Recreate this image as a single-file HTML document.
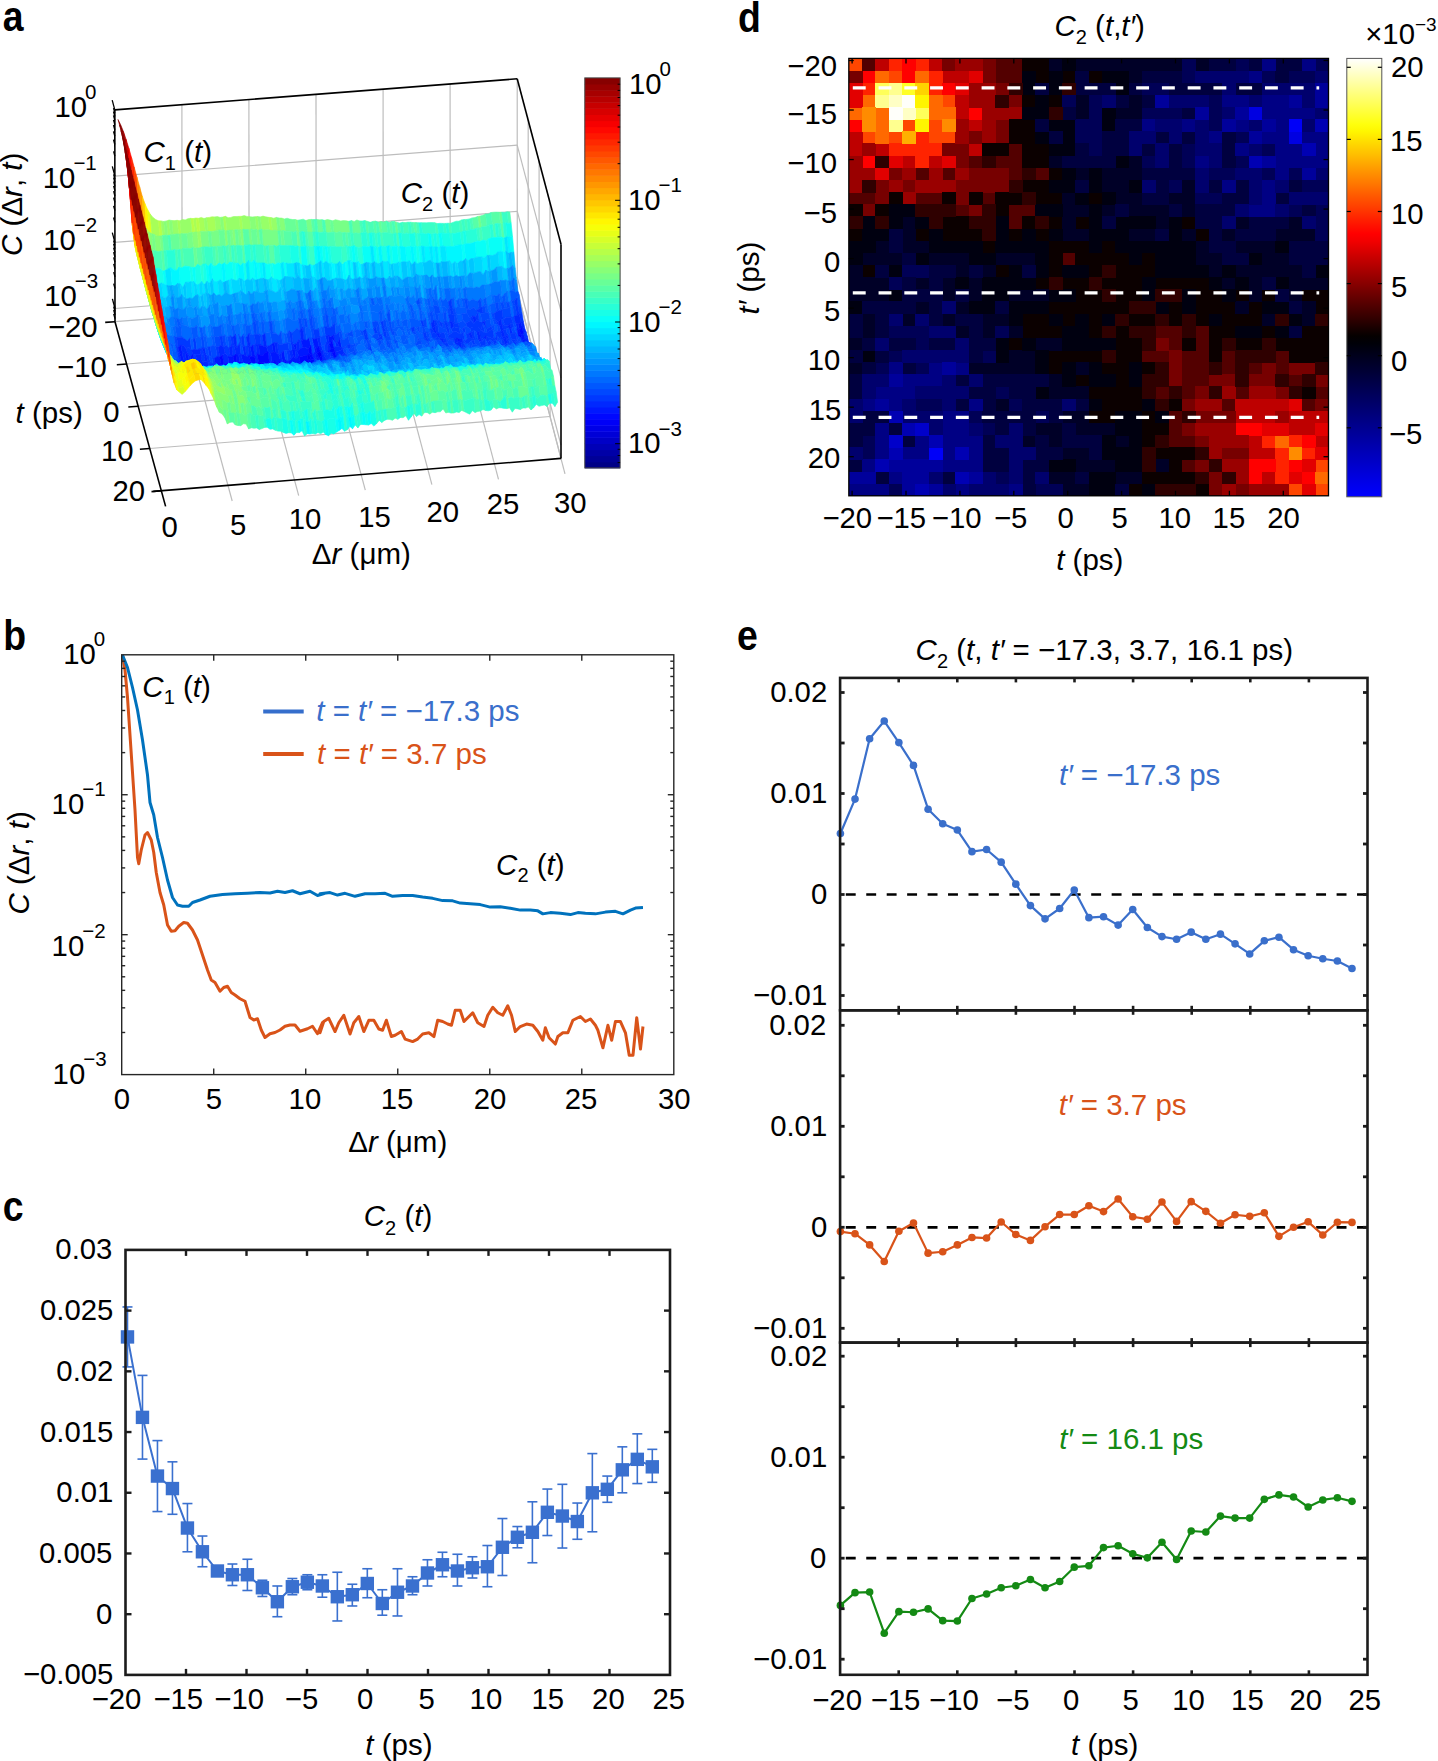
<!DOCTYPE html>
<html><head><meta charset="utf-8"><style>
html,body{margin:0;padding:0;background:#fff;}
svg{display:block;}
text{font-family:"Liberation Sans",sans-serif;}
</style></head><body>
<svg xmlns="http://www.w3.org/2000/svg" width="1438" height="1761" viewBox="0 0 1438 1761">
<rect width="1438" height="1761" fill="#fff"/>
<polyline points="122.5,655 125,670 127.5,697.5 130,735 132.5,772.5 135,810 137.5,857.5 138.75,863.75 141.25,850 145,835 147.5,832.5 151.25,840 153.75,852.5 156.25,872.5 160,892.5 163.75,905 167.5,925 171.25,931.25 175,930.75 178.75,926.25 183.75,922.5 187.5,923.25 192.5,930 197.5,940 202.5,955 207.5,970 211.25,980 215,982.5 220,991.25 223.75,987.5 227.5,986.25 231.25,992.5 235,995 240,998.75 245,1001.25 250,1017.5 253.75,1020 257.5,1018.75 261.25,1030 265,1037.5 270,1033.75 275,1032.5 280,1030 285,1026.25 290,1025 295,1025 300,1031.25 307.5,1028.75 312.5,1026.25 317.5,1033.75 322.5,1022.5 320,1032.79 323.76,1021.52 328.76,1018.27 335.02,1031.54 338.78,1022.77 343.79,1015.26 350.05,1034.04 353.8,1022.77 358.81,1016.51 363.82,1031.54 368.82,1020.27 373.83,1020.27 378.84,1029.03 382.59,1030.29 386.35,1020.27 391.36,1036.54 395.11,1035.29 401.37,1031.54 405.13,1039.05 412.64,1041.55 417.65,1039.05 422.65,1034.04 428.91,1032.79 433.92,1036.54 437.68,1020.27 442.68,1021.52 447.69,1024.03 451.45,1025.28 455.2,1010.26 460.21,1010.26 463.97,1021.52 467.72,1017.77 472.73,1012.76 477.74,1022.77 484,1026.53 487.75,1015.26 492.76,1007.25 497.77,1012.76 502.77,1015.26 507.78,1005.75 511.54,1015.26 515.29,1031.54 520.3,1026.53 526.56,1024.03 532.82,1025.28 537.83,1031.54 542.83,1040.3 545.34,1027.78 549.09,1037.8 555.35,1044.06 557.86,1036.54 562.86,1032.79 567.87,1032.79 572.88,1020.27 580.39,1016.51 585.4,1021.52 590.41,1019.02 595.41,1025.28 597.92,1030.29 602.92,1047.81 607.93,1025.28 611.69,1040.3 615.44,1021.52 620.45,1021.52 625.46,1032.79 629.21,1055.32 632.97,1055.32 636.73,1017.77 640.48,1049.06 642.98,1026.53" fill="none" stroke="#D95319" stroke-width="3" stroke-linejoin="round"/>
<polyline points="122.5,655 127.5,667.5 132.5,687.5 137.5,710 142.5,740 147.5,775 150,802.5 153.75,815 157.5,837.5 162.5,857.5 167.5,880 172.5,897.5 177.5,905 182.5,906.25 188.75,906.25 192.5,902.5 200,900 210,896.25 222.5,894.5 235,893.75 247.5,893.25 260,892.5 270,893 277.5,891.25 285,892.5 292.5,890.75 300,893.75 310,891.25 317.5,895.5 325,893.25 320,893.83 330.02,892.58 337.53,895.08 345.04,893.33 355.05,896.33 365.07,893.83 375.08,893.83 385.1,893.33 392.61,896.33 402.62,895.58 412.64,895.58 422.65,897.09 432.67,898.34 442.68,900.59 452.7,900.84 460.21,903.09 470.23,903.85 480.24,904.6 490.26,907.1 500.27,906.85 510.29,908.35 520.3,910.11 530.32,910.11 537.83,910.86 542.83,913.86 550.35,912.61 560.36,913.36 570.38,914.61 577.89,912.61 585.4,913.36 595.41,913.86 605.43,912.11 615.44,911.36 622.95,913.86 630.47,910.11 635.47,908.1 642.98,907.6" fill="none" stroke="#0072BD" stroke-width="3" stroke-linejoin="round"/>
<rect x="121.7" y="654.8" width="552.1" height="419.8" fill="none" stroke="#262626" stroke-width="1.4"/>
<line x1="213.72" y1="1074.6" x2="213.72" y2="1068.6" stroke="#262626" stroke-width="1.4"/>
<line x1="213.72" y1="654.8" x2="213.72" y2="660.8" stroke="#262626" stroke-width="1.4"/>
<line x1="305.73" y1="1074.6" x2="305.73" y2="1068.6" stroke="#262626" stroke-width="1.4"/>
<line x1="305.73" y1="654.8" x2="305.73" y2="660.8" stroke="#262626" stroke-width="1.4"/>
<line x1="397.75" y1="1074.6" x2="397.75" y2="1068.6" stroke="#262626" stroke-width="1.4"/>
<line x1="397.75" y1="654.8" x2="397.75" y2="660.8" stroke="#262626" stroke-width="1.4"/>
<line x1="489.77" y1="1074.6" x2="489.77" y2="1068.6" stroke="#262626" stroke-width="1.4"/>
<line x1="489.77" y1="654.8" x2="489.77" y2="660.8" stroke="#262626" stroke-width="1.4"/>
<line x1="581.78" y1="1074.6" x2="581.78" y2="1068.6" stroke="#262626" stroke-width="1.4"/>
<line x1="581.78" y1="654.8" x2="581.78" y2="660.8" stroke="#262626" stroke-width="1.4"/>
<line x1="121.7" y1="1032.48" x2="125.2" y2="1032.48" stroke="#262626" stroke-width="1.4"/>
<line x1="673.8" y1="1032.48" x2="670.3" y2="1032.48" stroke="#262626" stroke-width="1.4"/>
<line x1="121.7" y1="1007.83" x2="125.2" y2="1007.83" stroke="#262626" stroke-width="1.4"/>
<line x1="673.8" y1="1007.83" x2="670.3" y2="1007.83" stroke="#262626" stroke-width="1.4"/>
<line x1="121.7" y1="990.35" x2="125.2" y2="990.35" stroke="#262626" stroke-width="1.4"/>
<line x1="673.8" y1="990.35" x2="670.3" y2="990.35" stroke="#262626" stroke-width="1.4"/>
<line x1="121.7" y1="976.79" x2="125.2" y2="976.79" stroke="#262626" stroke-width="1.4"/>
<line x1="673.8" y1="976.79" x2="670.3" y2="976.79" stroke="#262626" stroke-width="1.4"/>
<line x1="121.7" y1="965.71" x2="125.2" y2="965.71" stroke="#262626" stroke-width="1.4"/>
<line x1="673.8" y1="965.71" x2="670.3" y2="965.71" stroke="#262626" stroke-width="1.4"/>
<line x1="121.7" y1="956.34" x2="125.2" y2="956.34" stroke="#262626" stroke-width="1.4"/>
<line x1="673.8" y1="956.34" x2="670.3" y2="956.34" stroke="#262626" stroke-width="1.4"/>
<line x1="121.7" y1="948.23" x2="125.2" y2="948.23" stroke="#262626" stroke-width="1.4"/>
<line x1="673.8" y1="948.23" x2="670.3" y2="948.23" stroke="#262626" stroke-width="1.4"/>
<line x1="121.7" y1="941.07" x2="125.2" y2="941.07" stroke="#262626" stroke-width="1.4"/>
<line x1="673.8" y1="941.07" x2="670.3" y2="941.07" stroke="#262626" stroke-width="1.4"/>
<line x1="121.7" y1="934.67" x2="127.7" y2="934.67" stroke="#262626" stroke-width="1.4"/>
<line x1="673.8" y1="934.67" x2="667.8" y2="934.67" stroke="#262626" stroke-width="1.4"/>
<line x1="121.7" y1="892.54" x2="125.2" y2="892.54" stroke="#262626" stroke-width="1.4"/>
<line x1="673.8" y1="892.54" x2="670.3" y2="892.54" stroke="#262626" stroke-width="1.4"/>
<line x1="121.7" y1="867.9" x2="125.2" y2="867.9" stroke="#262626" stroke-width="1.4"/>
<line x1="673.8" y1="867.9" x2="670.3" y2="867.9" stroke="#262626" stroke-width="1.4"/>
<line x1="121.7" y1="850.42" x2="125.2" y2="850.42" stroke="#262626" stroke-width="1.4"/>
<line x1="673.8" y1="850.42" x2="670.3" y2="850.42" stroke="#262626" stroke-width="1.4"/>
<line x1="121.7" y1="836.86" x2="125.2" y2="836.86" stroke="#262626" stroke-width="1.4"/>
<line x1="673.8" y1="836.86" x2="670.3" y2="836.86" stroke="#262626" stroke-width="1.4"/>
<line x1="121.7" y1="825.78" x2="125.2" y2="825.78" stroke="#262626" stroke-width="1.4"/>
<line x1="673.8" y1="825.78" x2="670.3" y2="825.78" stroke="#262626" stroke-width="1.4"/>
<line x1="121.7" y1="816.41" x2="125.2" y2="816.41" stroke="#262626" stroke-width="1.4"/>
<line x1="673.8" y1="816.41" x2="670.3" y2="816.41" stroke="#262626" stroke-width="1.4"/>
<line x1="121.7" y1="808.29" x2="125.2" y2="808.29" stroke="#262626" stroke-width="1.4"/>
<line x1="673.8" y1="808.29" x2="670.3" y2="808.29" stroke="#262626" stroke-width="1.4"/>
<line x1="121.7" y1="801.14" x2="125.2" y2="801.14" stroke="#262626" stroke-width="1.4"/>
<line x1="673.8" y1="801.14" x2="670.3" y2="801.14" stroke="#262626" stroke-width="1.4"/>
<line x1="121.7" y1="794.73" x2="127.7" y2="794.73" stroke="#262626" stroke-width="1.4"/>
<line x1="673.8" y1="794.73" x2="667.8" y2="794.73" stroke="#262626" stroke-width="1.4"/>
<line x1="121.7" y1="752.61" x2="125.2" y2="752.61" stroke="#262626" stroke-width="1.4"/>
<line x1="673.8" y1="752.61" x2="670.3" y2="752.61" stroke="#262626" stroke-width="1.4"/>
<line x1="121.7" y1="727.97" x2="125.2" y2="727.97" stroke="#262626" stroke-width="1.4"/>
<line x1="673.8" y1="727.97" x2="670.3" y2="727.97" stroke="#262626" stroke-width="1.4"/>
<line x1="121.7" y1="710.49" x2="125.2" y2="710.49" stroke="#262626" stroke-width="1.4"/>
<line x1="673.8" y1="710.49" x2="670.3" y2="710.49" stroke="#262626" stroke-width="1.4"/>
<line x1="121.7" y1="696.92" x2="125.2" y2="696.92" stroke="#262626" stroke-width="1.4"/>
<line x1="673.8" y1="696.92" x2="670.3" y2="696.92" stroke="#262626" stroke-width="1.4"/>
<line x1="121.7" y1="685.84" x2="125.2" y2="685.84" stroke="#262626" stroke-width="1.4"/>
<line x1="673.8" y1="685.84" x2="670.3" y2="685.84" stroke="#262626" stroke-width="1.4"/>
<line x1="121.7" y1="676.48" x2="125.2" y2="676.48" stroke="#262626" stroke-width="1.4"/>
<line x1="673.8" y1="676.48" x2="670.3" y2="676.48" stroke="#262626" stroke-width="1.4"/>
<line x1="121.7" y1="668.36" x2="125.2" y2="668.36" stroke="#262626" stroke-width="1.4"/>
<line x1="673.8" y1="668.36" x2="670.3" y2="668.36" stroke="#262626" stroke-width="1.4"/>
<line x1="121.7" y1="661.2" x2="125.2" y2="661.2" stroke="#262626" stroke-width="1.4"/>
<line x1="673.8" y1="661.2" x2="670.3" y2="661.2" stroke="#262626" stroke-width="1.4"/>
<line x1="263.2" y1="711.5" x2="303.7" y2="711.5" stroke="#356ECC" stroke-width="4"/>
<line x1="263.2" y1="754" x2="303.7" y2="754" stroke="#D95319" stroke-width="4"/>
<line x1="127.49" y1="1306.95" x2="127.49" y2="1366.9" stroke="#3A70CF" stroke-width="1.6"/>
<line x1="122.49" y1="1306.95" x2="132.49" y2="1306.95" stroke="#3A70CF" stroke-width="1.6"/>
<line x1="122.49" y1="1366.9" x2="132.49" y2="1366.9" stroke="#3A70CF" stroke-width="1.6"/>
<line x1="142.48" y1="1375.4" x2="142.48" y2="1459.09" stroke="#3A70CF" stroke-width="1.6"/>
<line x1="137.48" y1="1375.4" x2="147.48" y2="1375.4" stroke="#3A70CF" stroke-width="1.6"/>
<line x1="137.48" y1="1459.09" x2="147.48" y2="1459.09" stroke="#3A70CF" stroke-width="1.6"/>
<line x1="157.46" y1="1440.6" x2="157.46" y2="1511.55" stroke="#3A70CF" stroke-width="1.6"/>
<line x1="152.46" y1="1440.6" x2="162.46" y2="1440.6" stroke="#3A70CF" stroke-width="1.6"/>
<line x1="152.46" y1="1511.55" x2="162.46" y2="1511.55" stroke="#3A70CF" stroke-width="1.6"/>
<line x1="172.45" y1="1461.83" x2="172.45" y2="1514.29" stroke="#3A70CF" stroke-width="1.6"/>
<line x1="167.45" y1="1461.83" x2="177.45" y2="1461.83" stroke="#3A70CF" stroke-width="1.6"/>
<line x1="167.45" y1="1514.29" x2="177.45" y2="1514.29" stroke="#3A70CF" stroke-width="1.6"/>
<line x1="187.44" y1="1503.55" x2="187.44" y2="1551.77" stroke="#3A70CF" stroke-width="1.6"/>
<line x1="182.44" y1="1503.55" x2="192.44" y2="1503.55" stroke="#3A70CF" stroke-width="1.6"/>
<line x1="182.44" y1="1551.77" x2="192.44" y2="1551.77" stroke="#3A70CF" stroke-width="1.6"/>
<line x1="202.43" y1="1536.03" x2="202.43" y2="1566.75" stroke="#3A70CF" stroke-width="1.6"/>
<line x1="197.43" y1="1536.03" x2="207.43" y2="1536.03" stroke="#3A70CF" stroke-width="1.6"/>
<line x1="197.43" y1="1566.75" x2="207.43" y2="1566.75" stroke="#3A70CF" stroke-width="1.6"/>
<line x1="217.42" y1="1569.25" x2="217.42" y2="1573.5" stroke="#3A70CF" stroke-width="1.6"/>
<line x1="212.42" y1="1569.25" x2="222.42" y2="1569.25" stroke="#3A70CF" stroke-width="1.6"/>
<line x1="212.42" y1="1573.5" x2="222.42" y2="1573.5" stroke="#3A70CF" stroke-width="1.6"/>
<line x1="232.41" y1="1564.01" x2="232.41" y2="1585.49" stroke="#3A70CF" stroke-width="1.6"/>
<line x1="227.41" y1="1564.01" x2="237.41" y2="1564.01" stroke="#3A70CF" stroke-width="1.6"/>
<line x1="227.41" y1="1585.49" x2="237.41" y2="1585.49" stroke="#3A70CF" stroke-width="1.6"/>
<line x1="247.4" y1="1559.26" x2="247.4" y2="1590.49" stroke="#3A70CF" stroke-width="1.6"/>
<line x1="242.4" y1="1559.26" x2="252.4" y2="1559.26" stroke="#3A70CF" stroke-width="1.6"/>
<line x1="242.4" y1="1590.49" x2="252.4" y2="1590.49" stroke="#3A70CF" stroke-width="1.6"/>
<line x1="262.39" y1="1580.24" x2="262.39" y2="1596.48" stroke="#3A70CF" stroke-width="1.6"/>
<line x1="257.39" y1="1580.24" x2="267.39" y2="1580.24" stroke="#3A70CF" stroke-width="1.6"/>
<line x1="257.39" y1="1596.48" x2="267.39" y2="1596.48" stroke="#3A70CF" stroke-width="1.6"/>
<line x1="277.37" y1="1585.99" x2="277.37" y2="1616.72" stroke="#3A70CF" stroke-width="1.6"/>
<line x1="272.37" y1="1585.99" x2="282.37" y2="1585.99" stroke="#3A70CF" stroke-width="1.6"/>
<line x1="272.37" y1="1616.72" x2="282.37" y2="1616.72" stroke="#3A70CF" stroke-width="1.6"/>
<line x1="292.36" y1="1578.5" x2="292.36" y2="1594.73" stroke="#3A70CF" stroke-width="1.6"/>
<line x1="287.36" y1="1578.5" x2="297.36" y2="1578.5" stroke="#3A70CF" stroke-width="1.6"/>
<line x1="287.36" y1="1594.73" x2="297.36" y2="1594.73" stroke="#3A70CF" stroke-width="1.6"/>
<line x1="307.35" y1="1574.75" x2="307.35" y2="1589.74" stroke="#3A70CF" stroke-width="1.6"/>
<line x1="302.35" y1="1574.75" x2="312.35" y2="1574.75" stroke="#3A70CF" stroke-width="1.6"/>
<line x1="302.35" y1="1589.74" x2="312.35" y2="1589.74" stroke="#3A70CF" stroke-width="1.6"/>
<line x1="322.34" y1="1574.75" x2="322.34" y2="1597.23" stroke="#3A70CF" stroke-width="1.6"/>
<line x1="317.34" y1="1574.75" x2="327.34" y2="1574.75" stroke="#3A70CF" stroke-width="1.6"/>
<line x1="317.34" y1="1597.23" x2="327.34" y2="1597.23" stroke="#3A70CF" stroke-width="1.6"/>
<line x1="337.33" y1="1572.25" x2="337.33" y2="1620.96" stroke="#3A70CF" stroke-width="1.6"/>
<line x1="332.33" y1="1572.25" x2="342.33" y2="1572.25" stroke="#3A70CF" stroke-width="1.6"/>
<line x1="332.33" y1="1620.96" x2="342.33" y2="1620.96" stroke="#3A70CF" stroke-width="1.6"/>
<line x1="352.32" y1="1584.24" x2="352.32" y2="1605.98" stroke="#3A70CF" stroke-width="1.6"/>
<line x1="347.32" y1="1584.24" x2="357.32" y2="1584.24" stroke="#3A70CF" stroke-width="1.6"/>
<line x1="347.32" y1="1605.98" x2="357.32" y2="1605.98" stroke="#3A70CF" stroke-width="1.6"/>
<line x1="367.31" y1="1568.75" x2="367.31" y2="1597.73" stroke="#3A70CF" stroke-width="1.6"/>
<line x1="362.31" y1="1568.75" x2="372.31" y2="1568.75" stroke="#3A70CF" stroke-width="1.6"/>
<line x1="362.31" y1="1597.73" x2="372.31" y2="1597.73" stroke="#3A70CF" stroke-width="1.6"/>
<line x1="382.3" y1="1589.74" x2="382.3" y2="1615.22" stroke="#3A70CF" stroke-width="1.6"/>
<line x1="377.3" y1="1589.74" x2="387.3" y2="1589.74" stroke="#3A70CF" stroke-width="1.6"/>
<line x1="377.3" y1="1615.22" x2="387.3" y2="1615.22" stroke="#3A70CF" stroke-width="1.6"/>
<line x1="397.49" y1="1568.75" x2="397.49" y2="1615.97" stroke="#3A70CF" stroke-width="1.6"/>
<line x1="392.49" y1="1568.75" x2="402.49" y2="1568.75" stroke="#3A70CF" stroke-width="1.6"/>
<line x1="392.49" y1="1615.97" x2="402.49" y2="1615.97" stroke="#3A70CF" stroke-width="1.6"/>
<line x1="412.48" y1="1576.75" x2="412.48" y2="1594.73" stroke="#3A70CF" stroke-width="1.6"/>
<line x1="407.48" y1="1576.75" x2="417.48" y2="1576.75" stroke="#3A70CF" stroke-width="1.6"/>
<line x1="407.48" y1="1594.73" x2="417.48" y2="1594.73" stroke="#3A70CF" stroke-width="1.6"/>
<line x1="427.46" y1="1559.76" x2="427.46" y2="1585.99" stroke="#3A70CF" stroke-width="1.6"/>
<line x1="422.46" y1="1559.76" x2="432.46" y2="1559.76" stroke="#3A70CF" stroke-width="1.6"/>
<line x1="422.46" y1="1585.99" x2="432.46" y2="1585.99" stroke="#3A70CF" stroke-width="1.6"/>
<line x1="442.45" y1="1552.27" x2="442.45" y2="1576.75" stroke="#3A70CF" stroke-width="1.6"/>
<line x1="437.45" y1="1552.27" x2="447.45" y2="1552.27" stroke="#3A70CF" stroke-width="1.6"/>
<line x1="437.45" y1="1576.75" x2="447.45" y2="1576.75" stroke="#3A70CF" stroke-width="1.6"/>
<line x1="457.44" y1="1554.26" x2="457.44" y2="1585.99" stroke="#3A70CF" stroke-width="1.6"/>
<line x1="452.44" y1="1554.26" x2="462.44" y2="1554.26" stroke="#3A70CF" stroke-width="1.6"/>
<line x1="452.44" y1="1585.99" x2="462.44" y2="1585.99" stroke="#3A70CF" stroke-width="1.6"/>
<line x1="472.43" y1="1556.76" x2="472.43" y2="1578" stroke="#3A70CF" stroke-width="1.6"/>
<line x1="467.43" y1="1556.76" x2="477.43" y2="1556.76" stroke="#3A70CF" stroke-width="1.6"/>
<line x1="467.43" y1="1578" x2="477.43" y2="1578" stroke="#3A70CF" stroke-width="1.6"/>
<line x1="487.42" y1="1545.52" x2="487.42" y2="1586.74" stroke="#3A70CF" stroke-width="1.6"/>
<line x1="482.42" y1="1545.52" x2="492.42" y2="1545.52" stroke="#3A70CF" stroke-width="1.6"/>
<line x1="482.42" y1="1586.74" x2="492.42" y2="1586.74" stroke="#3A70CF" stroke-width="1.6"/>
<line x1="502.41" y1="1518.54" x2="502.41" y2="1575.5" stroke="#3A70CF" stroke-width="1.6"/>
<line x1="497.41" y1="1518.54" x2="507.41" y2="1518.54" stroke="#3A70CF" stroke-width="1.6"/>
<line x1="497.41" y1="1575.5" x2="507.41" y2="1575.5" stroke="#3A70CF" stroke-width="1.6"/>
<line x1="517.4" y1="1526.54" x2="517.4" y2="1547.77" stroke="#3A70CF" stroke-width="1.6"/>
<line x1="512.4" y1="1526.54" x2="522.4" y2="1526.54" stroke="#3A70CF" stroke-width="1.6"/>
<line x1="512.4" y1="1547.77" x2="522.4" y2="1547.77" stroke="#3A70CF" stroke-width="1.6"/>
<line x1="532.39" y1="1501.8" x2="532.39" y2="1562.76" stroke="#3A70CF" stroke-width="1.6"/>
<line x1="527.39" y1="1501.8" x2="537.39" y2="1501.8" stroke="#3A70CF" stroke-width="1.6"/>
<line x1="527.39" y1="1562.76" x2="537.39" y2="1562.76" stroke="#3A70CF" stroke-width="1.6"/>
<line x1="547.37" y1="1489.06" x2="547.37" y2="1535.53" stroke="#3A70CF" stroke-width="1.6"/>
<line x1="542.37" y1="1489.06" x2="552.37" y2="1489.06" stroke="#3A70CF" stroke-width="1.6"/>
<line x1="542.37" y1="1535.53" x2="552.37" y2="1535.53" stroke="#3A70CF" stroke-width="1.6"/>
<line x1="562.36" y1="1484.32" x2="562.36" y2="1548.02" stroke="#3A70CF" stroke-width="1.6"/>
<line x1="557.36" y1="1484.32" x2="567.36" y2="1484.32" stroke="#3A70CF" stroke-width="1.6"/>
<line x1="557.36" y1="1548.02" x2="567.36" y2="1548.02" stroke="#3A70CF" stroke-width="1.6"/>
<line x1="577.35" y1="1503.05" x2="577.35" y2="1539.28" stroke="#3A70CF" stroke-width="1.6"/>
<line x1="572.35" y1="1503.05" x2="582.35" y2="1503.05" stroke="#3A70CF" stroke-width="1.6"/>
<line x1="572.35" y1="1539.28" x2="582.35" y2="1539.28" stroke="#3A70CF" stroke-width="1.6"/>
<line x1="592.34" y1="1453.59" x2="592.34" y2="1531.78" stroke="#3A70CF" stroke-width="1.6"/>
<line x1="587.34" y1="1453.59" x2="597.34" y2="1453.59" stroke="#3A70CF" stroke-width="1.6"/>
<line x1="587.34" y1="1531.78" x2="597.34" y2="1531.78" stroke="#3A70CF" stroke-width="1.6"/>
<line x1="607.33" y1="1476.07" x2="607.33" y2="1502.3" stroke="#3A70CF" stroke-width="1.6"/>
<line x1="602.33" y1="1476.07" x2="612.33" y2="1476.07" stroke="#3A70CF" stroke-width="1.6"/>
<line x1="602.33" y1="1502.3" x2="612.33" y2="1502.3" stroke="#3A70CF" stroke-width="1.6"/>
<line x1="622.32" y1="1446.84" x2="622.32" y2="1492.81" stroke="#3A70CF" stroke-width="1.6"/>
<line x1="617.32" y1="1446.84" x2="627.32" y2="1446.84" stroke="#3A70CF" stroke-width="1.6"/>
<line x1="617.32" y1="1492.81" x2="627.32" y2="1492.81" stroke="#3A70CF" stroke-width="1.6"/>
<line x1="637.31" y1="1433.85" x2="637.31" y2="1483.57" stroke="#3A70CF" stroke-width="1.6"/>
<line x1="632.31" y1="1433.85" x2="642.31" y2="1433.85" stroke="#3A70CF" stroke-width="1.6"/>
<line x1="632.31" y1="1483.57" x2="642.31" y2="1483.57" stroke="#3A70CF" stroke-width="1.6"/>
<line x1="652.3" y1="1449.34" x2="652.3" y2="1482.32" stroke="#3A70CF" stroke-width="1.6"/>
<line x1="647.3" y1="1449.34" x2="657.3" y2="1449.34" stroke="#3A70CF" stroke-width="1.6"/>
<line x1="647.3" y1="1482.32" x2="657.3" y2="1482.32" stroke="#3A70CF" stroke-width="1.6"/>
<polyline points="127.49,1336.93 142.48,1417.37 157.46,1476.07 172.45,1488.56 187.44,1528.03 202.43,1551.77 217.42,1571 232.41,1574.75 247.4,1574.75 262.39,1587.74 277.37,1601.73 292.36,1586.74 307.35,1582.24 322.34,1585.99 337.33,1596.73 352.32,1594.73 367.31,1583.49 382.3,1603.48 397.49,1592.24 412.48,1585.99 427.46,1573 442.45,1564.76 457.44,1571 472.43,1567.75 487.42,1566.75 502.41,1547.27 517.4,1537.28 532.39,1532.28 547.37,1512.3 562.36,1516.04 577.35,1521.54 592.34,1492.81 607.33,1489.31 622.32,1469.83 637.31,1459.34 652.3,1466.83" fill="none" stroke="#3A70CF" stroke-width="2" stroke-linejoin="round"/>
<rect x="120.79" y="1330.23" width="13.4" height="13.4" fill="#3A70CF"/>
<rect x="135.78" y="1410.67" width="13.4" height="13.4" fill="#3A70CF"/>
<rect x="150.76" y="1469.37" width="13.4" height="13.4" fill="#3A70CF"/>
<rect x="165.75" y="1481.86" width="13.4" height="13.4" fill="#3A70CF"/>
<rect x="180.74" y="1521.33" width="13.4" height="13.4" fill="#3A70CF"/>
<rect x="195.73" y="1545.07" width="13.4" height="13.4" fill="#3A70CF"/>
<rect x="210.72" y="1564.3" width="13.4" height="13.4" fill="#3A70CF"/>
<rect x="225.71" y="1568.05" width="13.4" height="13.4" fill="#3A70CF"/>
<rect x="240.7" y="1568.05" width="13.4" height="13.4" fill="#3A70CF"/>
<rect x="255.69" y="1581.04" width="13.4" height="13.4" fill="#3A70CF"/>
<rect x="270.67" y="1595.03" width="13.4" height="13.4" fill="#3A70CF"/>
<rect x="285.66" y="1580.04" width="13.4" height="13.4" fill="#3A70CF"/>
<rect x="300.65" y="1575.54" width="13.4" height="13.4" fill="#3A70CF"/>
<rect x="315.64" y="1579.29" width="13.4" height="13.4" fill="#3A70CF"/>
<rect x="330.63" y="1590.03" width="13.4" height="13.4" fill="#3A70CF"/>
<rect x="345.62" y="1588.03" width="13.4" height="13.4" fill="#3A70CF"/>
<rect x="360.61" y="1576.79" width="13.4" height="13.4" fill="#3A70CF"/>
<rect x="375.6" y="1596.78" width="13.4" height="13.4" fill="#3A70CF"/>
<rect x="390.79" y="1585.54" width="13.4" height="13.4" fill="#3A70CF"/>
<rect x="405.78" y="1579.29" width="13.4" height="13.4" fill="#3A70CF"/>
<rect x="420.76" y="1566.3" width="13.4" height="13.4" fill="#3A70CF"/>
<rect x="435.75" y="1558.06" width="13.4" height="13.4" fill="#3A70CF"/>
<rect x="450.74" y="1564.3" width="13.4" height="13.4" fill="#3A70CF"/>
<rect x="465.73" y="1561.05" width="13.4" height="13.4" fill="#3A70CF"/>
<rect x="480.72" y="1560.05" width="13.4" height="13.4" fill="#3A70CF"/>
<rect x="495.71" y="1540.57" width="13.4" height="13.4" fill="#3A70CF"/>
<rect x="510.7" y="1530.58" width="13.4" height="13.4" fill="#3A70CF"/>
<rect x="525.69" y="1525.58" width="13.4" height="13.4" fill="#3A70CF"/>
<rect x="540.67" y="1505.6" width="13.4" height="13.4" fill="#3A70CF"/>
<rect x="555.66" y="1509.34" width="13.4" height="13.4" fill="#3A70CF"/>
<rect x="570.65" y="1514.84" width="13.4" height="13.4" fill="#3A70CF"/>
<rect x="585.64" y="1486.11" width="13.4" height="13.4" fill="#3A70CF"/>
<rect x="600.63" y="1482.61" width="13.4" height="13.4" fill="#3A70CF"/>
<rect x="615.62" y="1463.13" width="13.4" height="13.4" fill="#3A70CF"/>
<rect x="630.61" y="1452.64" width="13.4" height="13.4" fill="#3A70CF"/>
<rect x="645.6" y="1460.13" width="13.4" height="13.4" fill="#3A70CF"/>
<rect x="125.5" y="1249.9" width="544.5" height="425" fill="none" stroke="#1c1c1c" stroke-width="2.6"/>
<line x1="186" y1="1674.9" x2="186" y2="1668.9" stroke="#1c1c1c" stroke-width="2.4"/>
<line x1="186" y1="1249.9" x2="186" y2="1255.9" stroke="#1c1c1c" stroke-width="2.4"/>
<line x1="246.5" y1="1674.9" x2="246.5" y2="1668.9" stroke="#1c1c1c" stroke-width="2.4"/>
<line x1="246.5" y1="1249.9" x2="246.5" y2="1255.9" stroke="#1c1c1c" stroke-width="2.4"/>
<line x1="307" y1="1674.9" x2="307" y2="1668.9" stroke="#1c1c1c" stroke-width="2.4"/>
<line x1="307" y1="1249.9" x2="307" y2="1255.9" stroke="#1c1c1c" stroke-width="2.4"/>
<line x1="367.5" y1="1674.9" x2="367.5" y2="1668.9" stroke="#1c1c1c" stroke-width="2.4"/>
<line x1="367.5" y1="1249.9" x2="367.5" y2="1255.9" stroke="#1c1c1c" stroke-width="2.4"/>
<line x1="428" y1="1674.9" x2="428" y2="1668.9" stroke="#1c1c1c" stroke-width="2.4"/>
<line x1="428" y1="1249.9" x2="428" y2="1255.9" stroke="#1c1c1c" stroke-width="2.4"/>
<line x1="488.5" y1="1674.9" x2="488.5" y2="1668.9" stroke="#1c1c1c" stroke-width="2.4"/>
<line x1="488.5" y1="1249.9" x2="488.5" y2="1255.9" stroke="#1c1c1c" stroke-width="2.4"/>
<line x1="549" y1="1674.9" x2="549" y2="1668.9" stroke="#1c1c1c" stroke-width="2.4"/>
<line x1="549" y1="1249.9" x2="549" y2="1255.9" stroke="#1c1c1c" stroke-width="2.4"/>
<line x1="609.5" y1="1674.9" x2="609.5" y2="1668.9" stroke="#1c1c1c" stroke-width="2.4"/>
<line x1="609.5" y1="1249.9" x2="609.5" y2="1255.9" stroke="#1c1c1c" stroke-width="2.4"/>
<line x1="125.5" y1="1614.19" x2="131.5" y2="1614.19" stroke="#1c1c1c" stroke-width="2.4"/>
<line x1="670" y1="1614.19" x2="664" y2="1614.19" stroke="#1c1c1c" stroke-width="2.4"/>
<line x1="125.5" y1="1553.47" x2="131.5" y2="1553.47" stroke="#1c1c1c" stroke-width="2.4"/>
<line x1="670" y1="1553.47" x2="664" y2="1553.47" stroke="#1c1c1c" stroke-width="2.4"/>
<line x1="125.5" y1="1492.76" x2="131.5" y2="1492.76" stroke="#1c1c1c" stroke-width="2.4"/>
<line x1="670" y1="1492.76" x2="664" y2="1492.76" stroke="#1c1c1c" stroke-width="2.4"/>
<line x1="125.5" y1="1432.04" x2="131.5" y2="1432.04" stroke="#1c1c1c" stroke-width="2.4"/>
<line x1="670" y1="1432.04" x2="664" y2="1432.04" stroke="#1c1c1c" stroke-width="2.4"/>
<line x1="125.5" y1="1371.33" x2="131.5" y2="1371.33" stroke="#1c1c1c" stroke-width="2.4"/>
<line x1="670" y1="1371.33" x2="664" y2="1371.33" stroke="#1c1c1c" stroke-width="2.4"/>
<line x1="125.5" y1="1310.61" x2="131.5" y2="1310.61" stroke="#1c1c1c" stroke-width="2.4"/>
<line x1="670" y1="1310.61" x2="664" y2="1310.61" stroke="#1c1c1c" stroke-width="2.4"/>
<line x1="845.8" y1="894.5" x2="1367.5" y2="894.5" stroke="#000" stroke-width="2.7" stroke-dasharray="9.9 10.55"/>
<polyline points="840.4,833.55 855.02,799.09 869.63,738.73 884.25,721.01 898.87,742.62 913.49,765.4 928.1,809.21 942.72,823.82 957.34,830.05 971.95,851.66 986.57,849.52 1001.19,862.17 1015.81,884.17 1030.42,905.59 1045.04,918.83 1059.66,908.51 1074.27,890.02 1088.89,917.66 1103.51,916.69 1118.13,925.09 1132.74,909.56 1147.36,927.51 1161.98,936.59 1176.59,939.21 1191.21,932.15 1205.83,939.21 1220.45,934.17 1235.06,943.85 1249.68,953.93 1264.3,940.82 1278.91,937.19 1293.53,949.69 1308.15,955.74 1322.77,958.77 1337.38,960.99 1352,968.45" fill="none" stroke="#3A6FCB" stroke-width="2.2" stroke-linejoin="round"/>
<circle cx="840.4" cy="833.55" r="3.8" fill="#3A6FCB"/>
<circle cx="855.02" cy="799.09" r="3.8" fill="#3A6FCB"/>
<circle cx="869.63" cy="738.73" r="3.8" fill="#3A6FCB"/>
<circle cx="884.25" cy="721.01" r="3.8" fill="#3A6FCB"/>
<circle cx="898.87" cy="742.62" r="3.8" fill="#3A6FCB"/>
<circle cx="913.49" cy="765.4" r="3.8" fill="#3A6FCB"/>
<circle cx="928.1" cy="809.21" r="3.8" fill="#3A6FCB"/>
<circle cx="942.72" cy="823.82" r="3.8" fill="#3A6FCB"/>
<circle cx="957.34" cy="830.05" r="3.8" fill="#3A6FCB"/>
<circle cx="971.95" cy="851.66" r="3.8" fill="#3A6FCB"/>
<circle cx="986.57" cy="849.52" r="3.8" fill="#3A6FCB"/>
<circle cx="1001.19" cy="862.17" r="3.8" fill="#3A6FCB"/>
<circle cx="1015.81" cy="884.17" r="3.8" fill="#3A6FCB"/>
<circle cx="1030.42" cy="905.59" r="3.8" fill="#3A6FCB"/>
<circle cx="1045.04" cy="918.83" r="3.8" fill="#3A6FCB"/>
<circle cx="1059.66" cy="908.51" r="3.8" fill="#3A6FCB"/>
<circle cx="1074.27" cy="890.02" r="3.8" fill="#3A6FCB"/>
<circle cx="1088.89" cy="917.66" r="3.8" fill="#3A6FCB"/>
<circle cx="1103.51" cy="916.69" r="3.8" fill="#3A6FCB"/>
<circle cx="1118.13" cy="925.09" r="3.8" fill="#3A6FCB"/>
<circle cx="1132.74" cy="909.56" r="3.8" fill="#3A6FCB"/>
<circle cx="1147.36" cy="927.51" r="3.8" fill="#3A6FCB"/>
<circle cx="1161.98" cy="936.59" r="3.8" fill="#3A6FCB"/>
<circle cx="1176.59" cy="939.21" r="3.8" fill="#3A6FCB"/>
<circle cx="1191.21" cy="932.15" r="3.8" fill="#3A6FCB"/>
<circle cx="1205.83" cy="939.21" r="3.8" fill="#3A6FCB"/>
<circle cx="1220.45" cy="934.17" r="3.8" fill="#3A6FCB"/>
<circle cx="1235.06" cy="943.85" r="3.8" fill="#3A6FCB"/>
<circle cx="1249.68" cy="953.93" r="3.8" fill="#3A6FCB"/>
<circle cx="1264.3" cy="940.82" r="3.8" fill="#3A6FCB"/>
<circle cx="1278.91" cy="937.19" r="3.8" fill="#3A6FCB"/>
<circle cx="1293.53" cy="949.69" r="3.8" fill="#3A6FCB"/>
<circle cx="1308.15" cy="955.74" r="3.8" fill="#3A6FCB"/>
<circle cx="1322.77" cy="958.77" r="3.8" fill="#3A6FCB"/>
<circle cx="1337.38" cy="960.99" r="3.8" fill="#3A6FCB"/>
<circle cx="1352" cy="968.45" r="3.8" fill="#3A6FCB"/>
<rect x="840.1" y="677.9" width="527.4" height="332.4" fill="none" stroke="#1c1c1c" stroke-width="2.6"/>
<line x1="898.7" y1="1010.3" x2="898.7" y2="1005.8" stroke="#1c1c1c" stroke-width="2.6"/>
<line x1="898.7" y1="677.9" x2="898.7" y2="682.4" stroke="#1c1c1c" stroke-width="2.6"/>
<line x1="957.3" y1="1010.3" x2="957.3" y2="1005.8" stroke="#1c1c1c" stroke-width="2.6"/>
<line x1="957.3" y1="677.9" x2="957.3" y2="682.4" stroke="#1c1c1c" stroke-width="2.6"/>
<line x1="1015.9" y1="1010.3" x2="1015.9" y2="1005.8" stroke="#1c1c1c" stroke-width="2.6"/>
<line x1="1015.9" y1="677.9" x2="1015.9" y2="682.4" stroke="#1c1c1c" stroke-width="2.6"/>
<line x1="1074.5" y1="1010.3" x2="1074.5" y2="1005.8" stroke="#1c1c1c" stroke-width="2.6"/>
<line x1="1074.5" y1="677.9" x2="1074.5" y2="682.4" stroke="#1c1c1c" stroke-width="2.6"/>
<line x1="1133.1" y1="1010.3" x2="1133.1" y2="1005.8" stroke="#1c1c1c" stroke-width="2.6"/>
<line x1="1133.1" y1="677.9" x2="1133.1" y2="682.4" stroke="#1c1c1c" stroke-width="2.6"/>
<line x1="1191.7" y1="1010.3" x2="1191.7" y2="1005.8" stroke="#1c1c1c" stroke-width="2.6"/>
<line x1="1191.7" y1="677.9" x2="1191.7" y2="682.4" stroke="#1c1c1c" stroke-width="2.6"/>
<line x1="1250.3" y1="1010.3" x2="1250.3" y2="1005.8" stroke="#1c1c1c" stroke-width="2.6"/>
<line x1="1250.3" y1="677.9" x2="1250.3" y2="682.4" stroke="#1c1c1c" stroke-width="2.6"/>
<line x1="1308.9" y1="1010.3" x2="1308.9" y2="1005.8" stroke="#1c1c1c" stroke-width="2.6"/>
<line x1="1308.9" y1="677.9" x2="1308.9" y2="682.4" stroke="#1c1c1c" stroke-width="2.6"/>
<line x1="840.1" y1="995.5" x2="844.6" y2="995.5" stroke="#1c1c1c" stroke-width="2.8"/>
<line x1="1367.5" y1="995.5" x2="1363" y2="995.5" stroke="#1c1c1c" stroke-width="2.8"/>
<line x1="840.1" y1="945" x2="844.6" y2="945" stroke="#1c1c1c" stroke-width="2.8"/>
<line x1="1367.5" y1="945" x2="1363" y2="945" stroke="#1c1c1c" stroke-width="2.8"/>
<line x1="840.1" y1="894.5" x2="844.6" y2="894.5" stroke="#1c1c1c" stroke-width="2.8"/>
<line x1="1367.5" y1="894.5" x2="1363" y2="894.5" stroke="#1c1c1c" stroke-width="2.8"/>
<line x1="840.1" y1="844" x2="844.6" y2="844" stroke="#1c1c1c" stroke-width="2.8"/>
<line x1="1367.5" y1="844" x2="1363" y2="844" stroke="#1c1c1c" stroke-width="2.8"/>
<line x1="840.1" y1="793.5" x2="844.6" y2="793.5" stroke="#1c1c1c" stroke-width="2.8"/>
<line x1="1367.5" y1="793.5" x2="1363" y2="793.5" stroke="#1c1c1c" stroke-width="2.8"/>
<line x1="840.1" y1="743" x2="844.6" y2="743" stroke="#1c1c1c" stroke-width="2.8"/>
<line x1="1367.5" y1="743" x2="1363" y2="743" stroke="#1c1c1c" stroke-width="2.8"/>
<line x1="840.1" y1="692.5" x2="844.6" y2="692.5" stroke="#1c1c1c" stroke-width="2.8"/>
<line x1="1367.5" y1="692.5" x2="1363" y2="692.5" stroke="#1c1c1c" stroke-width="2.8"/>
<line x1="845.8" y1="1227.3" x2="1367.5" y2="1227.3" stroke="#000" stroke-width="2.7" stroke-dasharray="9.9 10.55"/>
<polyline points="840.4,1231.58 855.02,1233.74 869.63,1244.91 884.25,1261.56 898.87,1231.19 913.49,1222.96 928.1,1253.13 942.72,1251.76 957.34,1244.91 971.95,1237.46 986.57,1238.05 1001.19,1221.98 1015.81,1234.52 1030.42,1240.4 1045.04,1226.68 1059.66,1214.54 1074.27,1214.54 1088.89,1205.72 1103.51,1211.6 1118.13,1199.03 1132.74,1216.78 1147.36,1219.2 1161.98,1202.06 1176.59,1221.42 1191.21,1201.65 1205.83,1211.33 1220.45,1223.23 1235.06,1214.76 1249.68,1216.37 1264.3,1212.74 1278.91,1236.34 1293.53,1227.26 1308.15,1221.82 1322.77,1234.93 1337.38,1222.22 1352,1222.42" fill="none" stroke="#D95319" stroke-width="2.2" stroke-linejoin="round"/>
<circle cx="840.4" cy="1231.58" r="3.8" fill="#D95319"/>
<circle cx="855.02" cy="1233.74" r="3.8" fill="#D95319"/>
<circle cx="869.63" cy="1244.91" r="3.8" fill="#D95319"/>
<circle cx="884.25" cy="1261.56" r="3.8" fill="#D95319"/>
<circle cx="898.87" cy="1231.19" r="3.8" fill="#D95319"/>
<circle cx="913.49" cy="1222.96" r="3.8" fill="#D95319"/>
<circle cx="928.1" cy="1253.13" r="3.8" fill="#D95319"/>
<circle cx="942.72" cy="1251.76" r="3.8" fill="#D95319"/>
<circle cx="957.34" cy="1244.91" r="3.8" fill="#D95319"/>
<circle cx="971.95" cy="1237.46" r="3.8" fill="#D95319"/>
<circle cx="986.57" cy="1238.05" r="3.8" fill="#D95319"/>
<circle cx="1001.19" cy="1221.98" r="3.8" fill="#D95319"/>
<circle cx="1015.81" cy="1234.52" r="3.8" fill="#D95319"/>
<circle cx="1030.42" cy="1240.4" r="3.8" fill="#D95319"/>
<circle cx="1045.04" cy="1226.68" r="3.8" fill="#D95319"/>
<circle cx="1059.66" cy="1214.54" r="3.8" fill="#D95319"/>
<circle cx="1074.27" cy="1214.54" r="3.8" fill="#D95319"/>
<circle cx="1088.89" cy="1205.72" r="3.8" fill="#D95319"/>
<circle cx="1103.51" cy="1211.6" r="3.8" fill="#D95319"/>
<circle cx="1118.13" cy="1199.03" r="3.8" fill="#D95319"/>
<circle cx="1132.74" cy="1216.78" r="3.8" fill="#D95319"/>
<circle cx="1147.36" cy="1219.2" r="3.8" fill="#D95319"/>
<circle cx="1161.98" cy="1202.06" r="3.8" fill="#D95319"/>
<circle cx="1176.59" cy="1221.42" r="3.8" fill="#D95319"/>
<circle cx="1191.21" cy="1201.65" r="3.8" fill="#D95319"/>
<circle cx="1205.83" cy="1211.33" r="3.8" fill="#D95319"/>
<circle cx="1220.45" cy="1223.23" r="3.8" fill="#D95319"/>
<circle cx="1235.06" cy="1214.76" r="3.8" fill="#D95319"/>
<circle cx="1249.68" cy="1216.37" r="3.8" fill="#D95319"/>
<circle cx="1264.3" cy="1212.74" r="3.8" fill="#D95319"/>
<circle cx="1278.91" cy="1236.34" r="3.8" fill="#D95319"/>
<circle cx="1293.53" cy="1227.26" r="3.8" fill="#D95319"/>
<circle cx="1308.15" cy="1221.82" r="3.8" fill="#D95319"/>
<circle cx="1322.77" cy="1234.93" r="3.8" fill="#D95319"/>
<circle cx="1337.38" cy="1222.22" r="3.8" fill="#D95319"/>
<circle cx="1352" cy="1222.42" r="3.8" fill="#D95319"/>
<rect x="840.1" y="1010.3" width="527.4" height="332.3" fill="none" stroke="#1c1c1c" stroke-width="2.6"/>
<line x1="898.7" y1="1342.6" x2="898.7" y2="1338.1" stroke="#1c1c1c" stroke-width="2.6"/>
<line x1="898.7" y1="1010.3" x2="898.7" y2="1014.8" stroke="#1c1c1c" stroke-width="2.6"/>
<line x1="957.3" y1="1342.6" x2="957.3" y2="1338.1" stroke="#1c1c1c" stroke-width="2.6"/>
<line x1="957.3" y1="1010.3" x2="957.3" y2="1014.8" stroke="#1c1c1c" stroke-width="2.6"/>
<line x1="1015.9" y1="1342.6" x2="1015.9" y2="1338.1" stroke="#1c1c1c" stroke-width="2.6"/>
<line x1="1015.9" y1="1010.3" x2="1015.9" y2="1014.8" stroke="#1c1c1c" stroke-width="2.6"/>
<line x1="1074.5" y1="1342.6" x2="1074.5" y2="1338.1" stroke="#1c1c1c" stroke-width="2.6"/>
<line x1="1074.5" y1="1010.3" x2="1074.5" y2="1014.8" stroke="#1c1c1c" stroke-width="2.6"/>
<line x1="1133.1" y1="1342.6" x2="1133.1" y2="1338.1" stroke="#1c1c1c" stroke-width="2.6"/>
<line x1="1133.1" y1="1010.3" x2="1133.1" y2="1014.8" stroke="#1c1c1c" stroke-width="2.6"/>
<line x1="1191.7" y1="1342.6" x2="1191.7" y2="1338.1" stroke="#1c1c1c" stroke-width="2.6"/>
<line x1="1191.7" y1="1010.3" x2="1191.7" y2="1014.8" stroke="#1c1c1c" stroke-width="2.6"/>
<line x1="1250.3" y1="1342.6" x2="1250.3" y2="1338.1" stroke="#1c1c1c" stroke-width="2.6"/>
<line x1="1250.3" y1="1010.3" x2="1250.3" y2="1014.8" stroke="#1c1c1c" stroke-width="2.6"/>
<line x1="1308.9" y1="1342.6" x2="1308.9" y2="1338.1" stroke="#1c1c1c" stroke-width="2.6"/>
<line x1="1308.9" y1="1010.3" x2="1308.9" y2="1014.8" stroke="#1c1c1c" stroke-width="2.6"/>
<line x1="840.1" y1="1328.3" x2="844.6" y2="1328.3" stroke="#1c1c1c" stroke-width="2.8"/>
<line x1="1367.5" y1="1328.3" x2="1363" y2="1328.3" stroke="#1c1c1c" stroke-width="2.8"/>
<line x1="840.1" y1="1277.8" x2="844.6" y2="1277.8" stroke="#1c1c1c" stroke-width="2.8"/>
<line x1="1367.5" y1="1277.8" x2="1363" y2="1277.8" stroke="#1c1c1c" stroke-width="2.8"/>
<line x1="840.1" y1="1227.3" x2="844.6" y2="1227.3" stroke="#1c1c1c" stroke-width="2.8"/>
<line x1="1367.5" y1="1227.3" x2="1363" y2="1227.3" stroke="#1c1c1c" stroke-width="2.8"/>
<line x1="840.1" y1="1176.8" x2="844.6" y2="1176.8" stroke="#1c1c1c" stroke-width="2.8"/>
<line x1="1367.5" y1="1176.8" x2="1363" y2="1176.8" stroke="#1c1c1c" stroke-width="2.8"/>
<line x1="840.1" y1="1126.3" x2="844.6" y2="1126.3" stroke="#1c1c1c" stroke-width="2.8"/>
<line x1="1367.5" y1="1126.3" x2="1363" y2="1126.3" stroke="#1c1c1c" stroke-width="2.8"/>
<line x1="840.1" y1="1075.8" x2="844.6" y2="1075.8" stroke="#1c1c1c" stroke-width="2.8"/>
<line x1="1367.5" y1="1075.8" x2="1363" y2="1075.8" stroke="#1c1c1c" stroke-width="2.8"/>
<line x1="840.1" y1="1025.3" x2="844.6" y2="1025.3" stroke="#1c1c1c" stroke-width="2.8"/>
<line x1="1367.5" y1="1025.3" x2="1363" y2="1025.3" stroke="#1c1c1c" stroke-width="2.8"/>
<line x1="845.8" y1="1558.2" x2="1367.5" y2="1558.2" stroke="#000" stroke-width="2.7" stroke-dasharray="9.9 10.55"/>
<polyline points="840.4,1605.38 855.02,1592.64 869.63,1592.05 884.25,1633.2 898.87,1611.65 913.49,1612.23 928.1,1608.9 942.72,1620.66 957.34,1621.05 971.95,1598.52 986.57,1594.01 1001.19,1587.74 1015.81,1585.78 1030.42,1579.51 1045.04,1587.74 1059.66,1581.47 1074.27,1567.17 1088.89,1565.8 1103.51,1547.58 1118.13,1545.73 1132.74,1553.79 1147.36,1557.83 1161.98,1542.3 1176.59,1559.44 1191.21,1531.01 1205.83,1532.02 1220.45,1516.08 1235.06,1518.1 1249.68,1518.1 1264.3,1499.35 1278.91,1494.91 1293.53,1496.93 1308.15,1507.01 1322.77,1499.95 1337.38,1497.73 1352,1501.36" fill="none" stroke="#148A14" stroke-width="2.2" stroke-linejoin="round"/>
<circle cx="840.4" cy="1605.38" r="3.8" fill="#148A14"/>
<circle cx="855.02" cy="1592.64" r="3.8" fill="#148A14"/>
<circle cx="869.63" cy="1592.05" r="3.8" fill="#148A14"/>
<circle cx="884.25" cy="1633.2" r="3.8" fill="#148A14"/>
<circle cx="898.87" cy="1611.65" r="3.8" fill="#148A14"/>
<circle cx="913.49" cy="1612.23" r="3.8" fill="#148A14"/>
<circle cx="928.1" cy="1608.9" r="3.8" fill="#148A14"/>
<circle cx="942.72" cy="1620.66" r="3.8" fill="#148A14"/>
<circle cx="957.34" cy="1621.05" r="3.8" fill="#148A14"/>
<circle cx="971.95" cy="1598.52" r="3.8" fill="#148A14"/>
<circle cx="986.57" cy="1594.01" r="3.8" fill="#148A14"/>
<circle cx="1001.19" cy="1587.74" r="3.8" fill="#148A14"/>
<circle cx="1015.81" cy="1585.78" r="3.8" fill="#148A14"/>
<circle cx="1030.42" cy="1579.51" r="3.8" fill="#148A14"/>
<circle cx="1045.04" cy="1587.74" r="3.8" fill="#148A14"/>
<circle cx="1059.66" cy="1581.47" r="3.8" fill="#148A14"/>
<circle cx="1074.27" cy="1567.17" r="3.8" fill="#148A14"/>
<circle cx="1088.89" cy="1565.8" r="3.8" fill="#148A14"/>
<circle cx="1103.51" cy="1547.58" r="3.8" fill="#148A14"/>
<circle cx="1118.13" cy="1545.73" r="3.8" fill="#148A14"/>
<circle cx="1132.74" cy="1553.79" r="3.8" fill="#148A14"/>
<circle cx="1147.36" cy="1557.83" r="3.8" fill="#148A14"/>
<circle cx="1161.98" cy="1542.3" r="3.8" fill="#148A14"/>
<circle cx="1176.59" cy="1559.44" r="3.8" fill="#148A14"/>
<circle cx="1191.21" cy="1531.01" r="3.8" fill="#148A14"/>
<circle cx="1205.83" cy="1532.02" r="3.8" fill="#148A14"/>
<circle cx="1220.45" cy="1516.08" r="3.8" fill="#148A14"/>
<circle cx="1235.06" cy="1518.1" r="3.8" fill="#148A14"/>
<circle cx="1249.68" cy="1518.1" r="3.8" fill="#148A14"/>
<circle cx="1264.3" cy="1499.35" r="3.8" fill="#148A14"/>
<circle cx="1278.91" cy="1494.91" r="3.8" fill="#148A14"/>
<circle cx="1293.53" cy="1496.93" r="3.8" fill="#148A14"/>
<circle cx="1308.15" cy="1507.01" r="3.8" fill="#148A14"/>
<circle cx="1322.77" cy="1499.95" r="3.8" fill="#148A14"/>
<circle cx="1337.38" cy="1497.73" r="3.8" fill="#148A14"/>
<circle cx="1352" cy="1501.36" r="3.8" fill="#148A14"/>
<rect x="840.1" y="1342.6" width="527.4" height="332.2" fill="none" stroke="#1c1c1c" stroke-width="2.6"/>
<line x1="898.7" y1="1674.8" x2="898.7" y2="1670.3" stroke="#1c1c1c" stroke-width="2.6"/>
<line x1="898.7" y1="1342.6" x2="898.7" y2="1347.1" stroke="#1c1c1c" stroke-width="2.6"/>
<line x1="957.3" y1="1674.8" x2="957.3" y2="1670.3" stroke="#1c1c1c" stroke-width="2.6"/>
<line x1="957.3" y1="1342.6" x2="957.3" y2="1347.1" stroke="#1c1c1c" stroke-width="2.6"/>
<line x1="1015.9" y1="1674.8" x2="1015.9" y2="1670.3" stroke="#1c1c1c" stroke-width="2.6"/>
<line x1="1015.9" y1="1342.6" x2="1015.9" y2="1347.1" stroke="#1c1c1c" stroke-width="2.6"/>
<line x1="1074.5" y1="1674.8" x2="1074.5" y2="1670.3" stroke="#1c1c1c" stroke-width="2.6"/>
<line x1="1074.5" y1="1342.6" x2="1074.5" y2="1347.1" stroke="#1c1c1c" stroke-width="2.6"/>
<line x1="1133.1" y1="1674.8" x2="1133.1" y2="1670.3" stroke="#1c1c1c" stroke-width="2.6"/>
<line x1="1133.1" y1="1342.6" x2="1133.1" y2="1347.1" stroke="#1c1c1c" stroke-width="2.6"/>
<line x1="1191.7" y1="1674.8" x2="1191.7" y2="1670.3" stroke="#1c1c1c" stroke-width="2.6"/>
<line x1="1191.7" y1="1342.6" x2="1191.7" y2="1347.1" stroke="#1c1c1c" stroke-width="2.6"/>
<line x1="1250.3" y1="1674.8" x2="1250.3" y2="1670.3" stroke="#1c1c1c" stroke-width="2.6"/>
<line x1="1250.3" y1="1342.6" x2="1250.3" y2="1347.1" stroke="#1c1c1c" stroke-width="2.6"/>
<line x1="1308.9" y1="1674.8" x2="1308.9" y2="1670.3" stroke="#1c1c1c" stroke-width="2.6"/>
<line x1="1308.9" y1="1342.6" x2="1308.9" y2="1347.1" stroke="#1c1c1c" stroke-width="2.6"/>
<line x1="840.1" y1="1659.2" x2="844.6" y2="1659.2" stroke="#1c1c1c" stroke-width="2.8"/>
<line x1="1367.5" y1="1659.2" x2="1363" y2="1659.2" stroke="#1c1c1c" stroke-width="2.8"/>
<line x1="840.1" y1="1608.7" x2="844.6" y2="1608.7" stroke="#1c1c1c" stroke-width="2.8"/>
<line x1="1367.5" y1="1608.7" x2="1363" y2="1608.7" stroke="#1c1c1c" stroke-width="2.8"/>
<line x1="840.1" y1="1558.2" x2="844.6" y2="1558.2" stroke="#1c1c1c" stroke-width="2.8"/>
<line x1="1367.5" y1="1558.2" x2="1363" y2="1558.2" stroke="#1c1c1c" stroke-width="2.8"/>
<line x1="840.1" y1="1507.7" x2="844.6" y2="1507.7" stroke="#1c1c1c" stroke-width="2.8"/>
<line x1="1367.5" y1="1507.7" x2="1363" y2="1507.7" stroke="#1c1c1c" stroke-width="2.8"/>
<line x1="840.1" y1="1457.2" x2="844.6" y2="1457.2" stroke="#1c1c1c" stroke-width="2.8"/>
<line x1="1367.5" y1="1457.2" x2="1363" y2="1457.2" stroke="#1c1c1c" stroke-width="2.8"/>
<line x1="840.1" y1="1406.7" x2="844.6" y2="1406.7" stroke="#1c1c1c" stroke-width="2.8"/>
<line x1="1367.5" y1="1406.7" x2="1363" y2="1406.7" stroke="#1c1c1c" stroke-width="2.8"/>
<line x1="840.1" y1="1356.2" x2="844.6" y2="1356.2" stroke="#1c1c1c" stroke-width="2.8"/>
<line x1="1367.5" y1="1356.2" x2="1363" y2="1356.2" stroke="#1c1c1c" stroke-width="2.8"/>
<g shape-rendering="crispEdges">
<path d="M848.8,58.4h13.83v12.65h-13.83zM888.77,70.55h13.83v12.65h-13.83zM942.07,94.85h13.83v12.65h-13.83zM902.1,119.15h13.83v12.65h-13.83zM928.75,119.15h13.83v12.65h-13.83zM862.12,131.3h13.83v12.65h-13.83zM888.77,131.3h13.83v12.65h-13.83zM928.75,131.3h13.83v12.65h-13.83zM942.07,131.3h13.83v12.65h-13.83zM1315.17,459.35h13.83v12.65h-13.83zM1288.53,483.65h13.83v12.65h-13.83zM1315.17,483.65h13.83v12.65h-13.83z" fill="#ff4600"/>
<path d="M862.12,58.4h13.83v12.65h-13.83zM995.38,58.4h13.83v12.65h-13.83zM1008.7,58.4h13.83v12.65h-13.83zM995.38,70.55h13.83v12.65h-13.83zM1008.7,70.55h13.83v12.65h-13.83zM1008.7,143.45h13.83v12.65h-13.83zM968.72,155.6h13.83v12.65h-13.83zM995.38,155.6h13.83v12.65h-13.83zM1008.7,155.6h13.83v12.65h-13.83zM915.42,167.75h13.83v12.65h-13.83zM942.07,167.75h13.83v12.65h-13.83zM1008.7,167.75h13.83v12.65h-13.83zM1035.35,167.75h13.83v12.65h-13.83zM848.8,192.05h13.83v12.65h-13.83zM862.12,192.05h13.83v12.65h-13.83zM915.42,192.05h13.83v12.65h-13.83zM928.75,192.05h13.83v12.65h-13.83zM982.05,192.05h13.83v12.65h-13.83zM955.4,204.2h13.83v12.65h-13.83zM1008.7,204.2h13.83v12.65h-13.83zM1022.02,204.2h13.83v12.65h-13.83zM1008.7,216.35h13.83v12.65h-13.83zM1062,252.8h13.83v12.65h-13.83zM1155.28,325.7h13.83v12.65h-13.83zM1168.6,325.7h13.83v12.65h-13.83zM1195.25,325.7h13.83v12.65h-13.83zM1168.6,337.85h13.83v12.65h-13.83zM1195.25,337.85h13.83v12.65h-13.83zM1141.95,350h13.83v12.65h-13.83zM1155.28,350h13.83v12.65h-13.83zM1181.92,350h13.83v12.65h-13.83zM1195.25,350h13.83v12.65h-13.83zM1221.9,350h13.83v12.65h-13.83zM1275.2,350h13.83v12.65h-13.83zM1181.92,362.15h13.83v12.65h-13.83zM1195.25,362.15h13.83v12.65h-13.83zM1221.9,362.15h13.83v12.65h-13.83zM1248.55,362.15h13.83v12.65h-13.83zM1275.2,362.15h13.83v12.65h-13.83zM1181.92,374.3h13.83v12.65h-13.83zM1195.25,374.3h13.83v12.65h-13.83zM1288.53,374.3h13.83v12.65h-13.83zM1155.28,386.45h13.83v12.65h-13.83zM1181.92,386.45h13.83v12.65h-13.83zM1235.22,386.45h13.83v12.65h-13.83zM1315.17,386.45h13.83v12.65h-13.83zM1221.9,398.6h13.83v12.65h-13.83zM1301.85,398.6h13.83v12.65h-13.83zM1168.6,410.75h13.83v12.65h-13.83zM1168.6,422.9h13.83v12.65h-13.83zM1168.6,435.05h13.83v12.65h-13.83zM1181.92,435.05h13.83v12.65h-13.83zM1181.92,459.35h13.83v12.65h-13.83z" fill="#530000"/>
<path d="M875.45,58.4h13.83v12.65h-13.83zM928.75,58.4h13.83v12.65h-13.83zM942.07,70.55h13.83v12.65h-13.83zM955.4,70.55h13.83v12.65h-13.83zM955.4,94.85h13.83v12.65h-13.83zM955.4,107h13.83v12.65h-13.83zM968.72,119.15h13.83v12.65h-13.83zM848.8,131.3h13.83v12.65h-13.83zM848.8,143.45h13.83v12.65h-13.83zM875.45,143.45h13.83v12.65h-13.83zM968.72,143.45h13.83v12.65h-13.83zM902.1,155.6h13.83v12.65h-13.83zM928.75,155.6h13.83v12.65h-13.83zM1235.22,398.6h13.83v12.65h-13.83zM1248.55,398.6h13.83v12.65h-13.83zM1261.88,398.6h13.83v12.65h-13.83zM1275.2,398.6h13.83v12.65h-13.83zM1235.22,410.75h13.83v12.65h-13.83zM1248.55,410.75h13.83v12.65h-13.83zM1261.88,410.75h13.83v12.65h-13.83zM1288.53,410.75h13.83v12.65h-13.83zM1301.85,410.75h13.83v12.65h-13.83zM1315.17,410.75h13.83v12.65h-13.83zM1288.53,422.9h13.83v12.65h-13.83zM1301.85,422.9h13.83v12.65h-13.83zM1248.55,435.05h13.83v12.65h-13.83zM1315.17,435.05h13.83v12.65h-13.83zM1248.55,447.2h13.83v12.65h-13.83zM1261.88,447.2h13.83v12.65h-13.83zM1261.88,471.5h13.83v12.65h-13.83z" fill="#be0000"/>
<path d="M888.77,58.4h13.83v12.65h-13.83zM915.42,58.4h13.83v12.65h-13.83zM928.75,70.55h13.83v12.65h-13.83zM862.12,82.7h13.83v12.65h-13.83zM928.75,82.7h13.83v12.65h-13.83zM915.42,131.3h13.83v12.65h-13.83zM888.77,143.45h13.83v12.65h-13.83zM902.1,143.45h13.83v12.65h-13.83zM915.42,143.45h13.83v12.65h-13.83zM928.75,143.45h13.83v12.65h-13.83zM915.42,155.6h13.83v12.65h-13.83zM1261.88,435.05h13.83v12.65h-13.83zM1288.53,435.05h13.83v12.65h-13.83zM1275.2,447.2h13.83v12.65h-13.83zM1301.85,447.2h13.83v12.65h-13.83zM1275.2,459.35h13.83v12.65h-13.83zM1275.2,471.5h13.83v12.65h-13.83z" fill="#ff2300"/>
<path d="M902.1,58.4h13.83v12.65h-13.83zM862.12,70.55h13.83v12.65h-13.83zM902.1,70.55h13.83v12.65h-13.83zM942.07,82.7h13.83v12.65h-13.83zM968.72,107h13.83v12.65h-13.83zM848.8,119.15h13.83v12.65h-13.83zM862.12,155.6h13.83v12.65h-13.83zM1235.22,422.9h13.83v12.65h-13.83zM1248.55,422.9h13.83v12.65h-13.83zM1301.85,435.05h13.83v12.65h-13.83zM1248.55,459.35h13.83v12.65h-13.83zM1261.88,459.35h13.83v12.65h-13.83zM1288.53,459.35h13.83v12.65h-13.83zM1248.55,471.5h13.83v12.65h-13.83zM1301.85,471.5h13.83v12.65h-13.83z" fill="#ff0000"/>
<path d="M942.07,58.4h13.83v12.65h-13.83zM982.05,58.4h13.83v12.65h-13.83zM848.8,70.55h13.83v12.65h-13.83zM982.05,70.55h13.83v12.65h-13.83zM995.38,82.7h13.83v12.65h-13.83zM1008.7,94.85h13.83v12.65h-13.83zM995.38,119.15h13.83v12.65h-13.83zM968.72,131.3h13.83v12.65h-13.83zM995.38,131.3h13.83v12.65h-13.83zM942.07,143.45h13.83v12.65h-13.83zM955.4,143.45h13.83v12.65h-13.83zM955.4,155.6h13.83v12.65h-13.83zM888.77,167.75h13.83v12.65h-13.83zM968.72,167.75h13.83v12.65h-13.83zM982.05,167.75h13.83v12.65h-13.83zM995.38,167.75h13.83v12.65h-13.83zM875.45,179.9h13.83v12.65h-13.83zM902.1,179.9h13.83v12.65h-13.83zM955.4,179.9h13.83v12.65h-13.83zM968.72,179.9h13.83v12.65h-13.83zM982.05,179.9h13.83v12.65h-13.83zM995.38,179.9h13.83v12.65h-13.83zM875.45,192.05h13.83v12.65h-13.83zM955.4,192.05h13.83v12.65h-13.83zM862.12,204.2h13.83v12.65h-13.83zM968.72,204.2h13.83v12.65h-13.83zM1155.28,337.85h13.83v12.65h-13.83zM1168.6,350h13.83v12.65h-13.83zM1168.6,362.15h13.83v12.65h-13.83zM1261.88,362.15h13.83v12.65h-13.83zM1288.53,362.15h13.83v12.65h-13.83zM1301.85,362.15h13.83v12.65h-13.83zM1168.6,374.3h13.83v12.65h-13.83zM1208.58,374.3h13.83v12.65h-13.83zM1221.9,374.3h13.83v12.65h-13.83zM1248.55,374.3h13.83v12.65h-13.83zM1261.88,374.3h13.83v12.65h-13.83zM1315.17,374.3h13.83v12.65h-13.83zM1195.25,386.45h13.83v12.65h-13.83zM1275.2,386.45h13.83v12.65h-13.83zM1181.92,398.6h13.83v12.65h-13.83zM1315.17,398.6h13.83v12.65h-13.83zM1195.25,410.75h13.83v12.65h-13.83zM1208.58,410.75h13.83v12.65h-13.83zM1221.9,410.75h13.83v12.65h-13.83zM1181.92,422.9h13.83v12.65h-13.83zM1195.25,435.05h13.83v12.65h-13.83zM1221.9,447.2h13.83v12.65h-13.83zM1235.22,447.2h13.83v12.65h-13.83zM1195.25,459.35h13.83v12.65h-13.83zM1208.58,471.5h13.83v12.65h-13.83zM1208.58,483.65h13.83v12.65h-13.83zM1235.22,483.65h13.83v12.65h-13.83z" fill="#770000"/>
<path d="M955.4,58.4h13.83v12.65h-13.83zM968.72,58.4h13.83v12.65h-13.83zM968.72,82.7h13.83v12.65h-13.83zM982.05,82.7h13.83v12.65h-13.83zM968.72,94.85h13.83v12.65h-13.83zM982.05,94.85h13.83v12.65h-13.83zM982.05,107h13.83v12.65h-13.83zM995.38,107h13.83v12.65h-13.83zM1008.7,107h13.83v12.65h-13.83zM955.4,119.15h13.83v12.65h-13.83zM982.05,119.15h13.83v12.65h-13.83zM955.4,131.3h13.83v12.65h-13.83zM982.05,131.3h13.83v12.65h-13.83zM862.12,143.45h13.83v12.65h-13.83zM848.8,155.6h13.83v12.65h-13.83zM848.8,167.75h13.83v12.65h-13.83zM862.12,167.75h13.83v12.65h-13.83zM902.1,167.75h13.83v12.65h-13.83zM928.75,167.75h13.83v12.65h-13.83zM955.4,167.75h13.83v12.65h-13.83zM848.8,179.9h13.83v12.65h-13.83zM888.77,179.9h13.83v12.65h-13.83zM915.42,179.9h13.83v12.65h-13.83zM928.75,179.9h13.83v12.65h-13.83zM942.07,179.9h13.83v12.65h-13.83zM902.1,192.05h13.83v12.65h-13.83zM1221.9,386.45h13.83v12.65h-13.83zM1248.55,386.45h13.83v12.65h-13.83zM1261.88,386.45h13.83v12.65h-13.83zM1195.25,398.6h13.83v12.65h-13.83zM1208.58,398.6h13.83v12.65h-13.83zM1275.2,410.75h13.83v12.65h-13.83zM1195.25,422.9h13.83v12.65h-13.83zM1208.58,422.9h13.83v12.65h-13.83zM1221.9,422.9h13.83v12.65h-13.83zM1208.58,435.05h13.83v12.65h-13.83zM1221.9,435.05h13.83v12.65h-13.83zM1235.22,435.05h13.83v12.65h-13.83zM1208.58,447.2h13.83v12.65h-13.83zM1221.9,459.35h13.83v12.65h-13.83zM1235.22,459.35h13.83v12.65h-13.83zM1235.22,471.5h13.83v12.65h-13.83zM1221.9,483.65h13.83v12.65h-13.83zM1248.55,483.65h13.83v12.65h-13.83zM1261.88,483.65h13.83v12.65h-13.83zM1275.2,483.65h13.83v12.65h-13.83z" fill="#9a0000"/>
<path d="M1022.02,58.4h13.83v12.65h-13.83zM1035.35,58.4h13.83v12.65h-13.83zM1035.35,70.55h13.83v12.65h-13.83zM1062,70.55h13.83v12.65h-13.83zM1088.65,70.55h13.83v12.65h-13.83zM1022.02,94.85h13.83v12.65h-13.83zM1048.67,94.85h13.83v12.65h-13.83zM1008.7,119.15h13.83v12.65h-13.83zM1022.02,119.15h13.83v12.65h-13.83zM1008.7,131.3h13.83v12.65h-13.83zM1022.02,131.3h13.83v12.65h-13.83zM982.05,143.45h13.83v12.65h-13.83zM995.38,143.45h13.83v12.65h-13.83zM1022.02,143.45h13.83v12.65h-13.83zM1035.35,143.45h13.83v12.65h-13.83zM1022.02,155.6h13.83v12.65h-13.83zM1035.35,155.6h13.83v12.65h-13.83zM1048.67,167.75h13.83v12.65h-13.83zM1022.02,179.9h13.83v12.65h-13.83zM1035.35,179.9h13.83v12.65h-13.83zM888.77,192.05h13.83v12.65h-13.83zM942.07,192.05h13.83v12.65h-13.83zM968.72,192.05h13.83v12.65h-13.83zM995.38,192.05h13.83v12.65h-13.83zM1008.7,192.05h13.83v12.65h-13.83zM1035.35,192.05h13.83v12.65h-13.83zM1048.67,192.05h13.83v12.65h-13.83zM1088.65,192.05h13.83v12.65h-13.83zM848.8,204.2h13.83v12.65h-13.83zM875.45,204.2h13.83v12.65h-13.83zM995.38,204.2h13.83v12.65h-13.83zM942.07,216.35h13.83v12.65h-13.83zM955.4,216.35h13.83v12.65h-13.83zM1022.02,216.35h13.83v12.65h-13.83zM1048.67,216.35h13.83v12.65h-13.83zM1075.33,216.35h13.83v12.65h-13.83zM1181.92,216.35h13.83v12.65h-13.83zM848.8,228.5h13.83v12.65h-13.83zM915.42,228.5h13.83v12.65h-13.83zM942.07,228.5h13.83v12.65h-13.83zM955.4,228.5h13.83v12.65h-13.83zM968.72,228.5h13.83v12.65h-13.83zM1008.7,228.5h13.83v12.65h-13.83zM1035.35,228.5h13.83v12.65h-13.83zM1195.25,228.5h13.83v12.65h-13.83zM982.05,240.65h13.83v12.65h-13.83zM1048.67,240.65h13.83v12.65h-13.83zM1062,240.65h13.83v12.65h-13.83zM1075.33,240.65h13.83v12.65h-13.83zM1101.97,240.65h13.83v12.65h-13.83zM1048.67,252.8h13.83v12.65h-13.83zM1075.33,252.8h13.83v12.65h-13.83zM1088.65,252.8h13.83v12.65h-13.83zM1101.97,252.8h13.83v12.65h-13.83zM1115.3,252.8h13.83v12.65h-13.83zM1141.95,252.8h13.83v12.65h-13.83zM862.12,264.95h13.83v12.65h-13.83zM995.38,264.95h13.83v12.65h-13.83zM1048.67,264.95h13.83v12.65h-13.83zM1088.65,264.95h13.83v12.65h-13.83zM1115.3,264.95h13.83v12.65h-13.83zM1128.62,264.95h13.83v12.65h-13.83zM1141.95,264.95h13.83v12.65h-13.83zM1035.35,277.1h13.83v12.65h-13.83zM1062,277.1h13.83v12.65h-13.83zM1075.33,277.1h13.83v12.65h-13.83zM1101.97,277.1h13.83v12.65h-13.83zM1115.3,277.1h13.83v12.65h-13.83zM1128.62,277.1h13.83v12.65h-13.83zM1155.28,277.1h13.83v12.65h-13.83zM1168.6,277.1h13.83v12.65h-13.83zM1181.92,277.1h13.83v12.65h-13.83zM1195.25,277.1h13.83v12.65h-13.83zM1075.33,289.25h13.83v12.65h-13.83zM1088.65,289.25h13.83v12.65h-13.83zM1115.3,289.25h13.83v12.65h-13.83zM1128.62,289.25h13.83v12.65h-13.83zM1195.25,289.25h13.83v12.65h-13.83zM1208.58,289.25h13.83v12.65h-13.83zM1235.22,289.25h13.83v12.65h-13.83zM1261.88,289.25h13.83v12.65h-13.83zM1301.85,289.25h13.83v12.65h-13.83zM1315.17,289.25h13.83v12.65h-13.83zM1048.67,301.4h13.83v12.65h-13.83zM1062,301.4h13.83v12.65h-13.83zM1075.33,301.4h13.83v12.65h-13.83zM1088.65,301.4h13.83v12.65h-13.83zM1101.97,301.4h13.83v12.65h-13.83zM1115.3,301.4h13.83v12.65h-13.83zM1168.6,301.4h13.83v12.65h-13.83zM1195.25,301.4h13.83v12.65h-13.83zM1208.58,301.4h13.83v12.65h-13.83zM1221.9,301.4h13.83v12.65h-13.83zM1248.55,301.4h13.83v12.65h-13.83zM1315.17,301.4h13.83v12.65h-13.83zM1022.02,313.55h13.83v12.65h-13.83zM1035.35,313.55h13.83v12.65h-13.83zM1062,313.55h13.83v12.65h-13.83zM1088.65,313.55h13.83v12.65h-13.83zM1128.62,313.55h13.83v12.65h-13.83zM1141.95,313.55h13.83v12.65h-13.83zM1168.6,313.55h13.83v12.65h-13.83zM1195.25,313.55h13.83v12.65h-13.83zM1221.9,313.55h13.83v12.65h-13.83zM1235.22,313.55h13.83v12.65h-13.83zM1248.55,313.55h13.83v12.65h-13.83zM1022.02,325.7h13.83v12.65h-13.83zM1035.35,325.7h13.83v12.65h-13.83zM1048.67,325.7h13.83v12.65h-13.83zM1088.65,325.7h13.83v12.65h-13.83zM1115.3,325.7h13.83v12.65h-13.83zM1208.58,325.7h13.83v12.65h-13.83zM1221.9,325.7h13.83v12.65h-13.83zM1261.88,325.7h13.83v12.65h-13.83zM1301.85,325.7h13.83v12.65h-13.83zM1315.17,325.7h13.83v12.65h-13.83zM1008.7,337.85h13.83v12.65h-13.83zM1115.3,337.85h13.83v12.65h-13.83zM1128.62,337.85h13.83v12.65h-13.83zM1181.92,337.85h13.83v12.65h-13.83zM1208.58,337.85h13.83v12.65h-13.83zM1235.22,337.85h13.83v12.65h-13.83zM1248.55,337.85h13.83v12.65h-13.83zM1275.2,337.85h13.83v12.65h-13.83zM1288.53,337.85h13.83v12.65h-13.83zM1301.85,337.85h13.83v12.65h-13.83zM1315.17,337.85h13.83v12.65h-13.83zM1048.67,350h13.83v12.65h-13.83zM1062,350h13.83v12.65h-13.83zM1075.33,350h13.83v12.65h-13.83zM1088.65,350h13.83v12.65h-13.83zM1115.3,350h13.83v12.65h-13.83zM1128.62,350h13.83v12.65h-13.83zM1208.58,350h13.83v12.65h-13.83zM1288.53,350h13.83v12.65h-13.83zM1301.85,350h13.83v12.65h-13.83zM1315.17,350h13.83v12.65h-13.83zM1048.67,362.15h13.83v12.65h-13.83zM1101.97,362.15h13.83v12.65h-13.83zM1115.3,362.15h13.83v12.65h-13.83zM1141.95,362.15h13.83v12.65h-13.83zM1075.33,374.3h13.83v12.65h-13.83zM1115.3,374.3h13.83v12.65h-13.83zM1088.65,386.45h13.83v12.65h-13.83zM1101.97,386.45h13.83v12.65h-13.83zM1115.3,386.45h13.83v12.65h-13.83zM1128.62,386.45h13.83v12.65h-13.83zM1301.85,386.45h13.83v12.65h-13.83zM1101.97,398.6h13.83v12.65h-13.83zM1115.3,398.6h13.83v12.65h-13.83zM1128.62,398.6h13.83v12.65h-13.83zM1168.6,398.6h13.83v12.65h-13.83zM1088.65,410.75h13.83v12.65h-13.83zM1101.97,410.75h13.83v12.65h-13.83zM1141.95,410.75h13.83v12.65h-13.83zM1141.95,422.9h13.83v12.65h-13.83zM1155.28,422.9h13.83v12.65h-13.83zM1141.95,435.05h13.83v12.65h-13.83zM1155.28,447.2h13.83v12.65h-13.83zM1168.6,447.2h13.83v12.65h-13.83zM1181.92,447.2h13.83v12.65h-13.83zM1168.6,459.35h13.83v12.65h-13.83zM1141.95,471.5h13.83v12.65h-13.83zM1155.28,471.5h13.83v12.65h-13.83zM1168.6,471.5h13.83v12.65h-13.83zM1181.92,471.5h13.83v12.65h-13.83zM1128.62,483.65h13.83v12.65h-13.83zM1195.25,483.65h13.83v12.65h-13.83z" fill="#0b0000"/>
<path d="M1048.67,58.4h13.83v12.65h-13.83zM1075.33,58.4h13.83v12.65h-13.83zM1088.65,58.4h13.83v12.65h-13.83zM1101.97,58.4h13.83v12.65h-13.83zM1115.3,58.4h13.83v12.65h-13.83zM1128.62,58.4h13.83v12.65h-13.83zM1141.95,58.4h13.83v12.65h-13.83zM1155.28,58.4h13.83v12.65h-13.83zM1168.6,58.4h13.83v12.65h-13.83zM1195.25,58.4h13.83v12.65h-13.83zM1128.62,70.55h13.83v12.65h-13.83zM1075.33,94.85h13.83v12.65h-13.83zM1128.62,94.85h13.83v12.65h-13.83zM1075.33,107h13.83v12.65h-13.83zM1115.3,107h13.83v12.65h-13.83zM1128.62,107h13.83v12.65h-13.83zM1048.67,155.6h13.83v12.65h-13.83zM1128.62,155.6h13.83v12.65h-13.83zM1075.33,167.75h13.83v12.65h-13.83zM1101.97,167.75h13.83v12.65h-13.83zM1115.3,167.75h13.83v12.65h-13.83zM1128.62,167.75h13.83v12.65h-13.83zM1101.97,179.9h13.83v12.65h-13.83zM1115.3,179.9h13.83v12.65h-13.83zM1181.92,179.9h13.83v12.65h-13.83zM1062,192.05h13.83v12.65h-13.83zM1115.3,192.05h13.83v12.65h-13.83zM1128.62,192.05h13.83v12.65h-13.83zM1168.6,192.05h13.83v12.65h-13.83zM1181.92,192.05h13.83v12.65h-13.83zM1062,204.2h13.83v12.65h-13.83zM1075.33,204.2h13.83v12.65h-13.83zM1101.97,204.2h13.83v12.65h-13.83zM1128.62,204.2h13.83v12.65h-13.83zM1141.95,204.2h13.83v12.65h-13.83zM1155.28,204.2h13.83v12.65h-13.83zM1181.92,204.2h13.83v12.65h-13.83zM902.1,216.35h13.83v12.65h-13.83zM1062,216.35h13.83v12.65h-13.83zM1155.28,216.35h13.83v12.65h-13.83zM1235.22,216.35h13.83v12.65h-13.83zM1288.53,216.35h13.83v12.65h-13.83zM902.1,228.5h13.83v12.65h-13.83zM1062,228.5h13.83v12.65h-13.83zM1075.33,228.5h13.83v12.65h-13.83zM1128.62,228.5h13.83v12.65h-13.83zM1141.95,228.5h13.83v12.65h-13.83zM1181.92,228.5h13.83v12.65h-13.83zM1221.9,228.5h13.83v12.65h-13.83zM1275.2,228.5h13.83v12.65h-13.83zM1288.53,228.5h13.83v12.65h-13.83zM1301.85,228.5h13.83v12.65h-13.83zM875.45,240.65h13.83v12.65h-13.83zM902.1,240.65h13.83v12.65h-13.83zM915.42,240.65h13.83v12.65h-13.83zM1195.25,240.65h13.83v12.65h-13.83zM1235.22,240.65h13.83v12.65h-13.83zM1248.55,240.65h13.83v12.65h-13.83zM1261.88,240.65h13.83v12.65h-13.83zM862.12,252.8h13.83v12.65h-13.83zM875.45,252.8h13.83v12.65h-13.83zM888.77,252.8h13.83v12.65h-13.83zM928.75,252.8h13.83v12.65h-13.83zM942.07,252.8h13.83v12.65h-13.83zM955.4,252.8h13.83v12.65h-13.83zM995.38,252.8h13.83v12.65h-13.83zM1008.7,252.8h13.83v12.65h-13.83zM1022.02,252.8h13.83v12.65h-13.83zM1195.25,252.8h13.83v12.65h-13.83zM1208.58,252.8h13.83v12.65h-13.83zM1261.88,252.8h13.83v12.65h-13.83zM1275.2,252.8h13.83v12.65h-13.83zM848.8,264.95h13.83v12.65h-13.83zM955.4,264.95h13.83v12.65h-13.83zM982.05,264.95h13.83v12.65h-13.83zM1208.58,264.95h13.83v12.65h-13.83zM1235.22,264.95h13.83v12.65h-13.83zM1248.55,264.95h13.83v12.65h-13.83zM1261.88,264.95h13.83v12.65h-13.83zM1275.2,264.95h13.83v12.65h-13.83zM1288.53,264.95h13.83v12.65h-13.83zM848.8,277.1h13.83v12.65h-13.83zM862.12,277.1h13.83v12.65h-13.83zM875.45,277.1h13.83v12.65h-13.83zM915.42,277.1h13.83v12.65h-13.83zM942.07,277.1h13.83v12.65h-13.83zM968.72,277.1h13.83v12.65h-13.83zM1221.9,277.1h13.83v12.65h-13.83zM1248.55,277.1h13.83v12.65h-13.83zM1288.53,277.1h13.83v12.65h-13.83zM1301.85,277.1h13.83v12.65h-13.83zM1315.17,277.1h13.83v12.65h-13.83zM848.8,289.25h13.83v12.65h-13.83zM862.12,289.25h13.83v12.65h-13.83zM875.45,289.25h13.83v12.65h-13.83zM942.07,289.25h13.83v12.65h-13.83zM968.72,289.25h13.83v12.65h-13.83zM1008.7,289.25h13.83v12.65h-13.83zM1022.02,289.25h13.83v12.65h-13.83zM1035.35,289.25h13.83v12.65h-13.83zM1248.55,289.25h13.83v12.65h-13.83zM1288.53,289.25h13.83v12.65h-13.83zM915.42,301.4h13.83v12.65h-13.83zM955.4,301.4h13.83v12.65h-13.83zM1235.22,301.4h13.83v12.65h-13.83zM1301.85,301.4h13.83v12.65h-13.83zM862.12,313.55h13.83v12.65h-13.83zM902.1,313.55h13.83v12.65h-13.83zM942.07,313.55h13.83v12.65h-13.83zM982.05,313.55h13.83v12.65h-13.83zM995.38,313.55h13.83v12.65h-13.83zM1261.88,313.55h13.83v12.65h-13.83zM1301.85,313.55h13.83v12.65h-13.83zM862.12,325.7h13.83v12.65h-13.83zM955.4,325.7h13.83v12.65h-13.83zM982.05,325.7h13.83v12.65h-13.83zM1008.7,325.7h13.83v12.65h-13.83zM848.8,337.85h13.83v12.65h-13.83zM1035.35,337.85h13.83v12.65h-13.83zM1048.67,337.85h13.83v12.65h-13.83zM1008.7,350h13.83v12.65h-13.83zM1022.02,350h13.83v12.65h-13.83zM848.8,362.15h13.83v12.65h-13.83zM968.72,362.15h13.83v12.65h-13.83zM982.05,362.15h13.83v12.65h-13.83zM995.38,362.15h13.83v12.65h-13.83zM1008.7,362.15h13.83v12.65h-13.83zM1022.02,362.15h13.83v12.65h-13.83zM1075.33,362.15h13.83v12.65h-13.83zM1048.67,374.3h13.83v12.65h-13.83zM1048.67,386.45h13.83v12.65h-13.83zM1062,386.45h13.83v12.65h-13.83zM1075.33,386.45h13.83v12.65h-13.83zM995.38,398.6h13.83v12.65h-13.83zM1062,410.75h13.83v12.65h-13.83zM1075.33,410.75h13.83v12.65h-13.83zM1035.35,422.9h13.83v12.65h-13.83zM1048.67,422.9h13.83v12.65h-13.83zM1075.33,422.9h13.83v12.65h-13.83zM1088.65,422.9h13.83v12.65h-13.83zM1101.97,422.9h13.83v12.65h-13.83zM1022.02,435.05h13.83v12.65h-13.83zM1048.67,435.05h13.83v12.65h-13.83zM1115.3,435.05h13.83v12.65h-13.83zM1062,447.2h13.83v12.65h-13.83zM1075.33,447.2h13.83v12.65h-13.83zM1075.33,459.35h13.83v12.65h-13.83zM1088.65,459.35h13.83v12.65h-13.83zM1101.97,459.35h13.83v12.65h-13.83zM1155.28,459.35h13.83v12.65h-13.83zM1048.67,471.5h13.83v12.65h-13.83zM1062,471.5h13.83v12.65h-13.83zM1115.3,471.5h13.83v12.65h-13.83zM1128.62,471.5h13.83v12.65h-13.83zM1062,483.65h13.83v12.65h-13.83zM1075.33,483.65h13.83v12.65h-13.83z" fill="#000027"/>
<path d="M1062,58.4h13.83v12.65h-13.83zM1022.02,70.55h13.83v12.65h-13.83zM1048.67,70.55h13.83v12.65h-13.83zM1101.97,70.55h13.83v12.65h-13.83zM1115.3,70.55h13.83v12.65h-13.83zM1022.02,82.7h13.83v12.65h-13.83zM1048.67,82.7h13.83v12.65h-13.83zM1115.3,82.7h13.83v12.65h-13.83zM1035.35,94.85h13.83v12.65h-13.83zM1022.02,107h13.83v12.65h-13.83zM1035.35,107h13.83v12.65h-13.83zM1101.97,107h13.83v12.65h-13.83zM1048.67,119.15h13.83v12.65h-13.83zM1062,119.15h13.83v12.65h-13.83zM1101.97,119.15h13.83v12.65h-13.83zM1035.35,131.3h13.83v12.65h-13.83zM1062,131.3h13.83v12.65h-13.83zM1048.67,143.45h13.83v12.65h-13.83zM1062,143.45h13.83v12.65h-13.83zM1115.3,155.6h13.83v12.65h-13.83zM1062,167.75h13.83v12.65h-13.83zM1088.65,167.75h13.83v12.65h-13.83zM1048.67,179.9h13.83v12.65h-13.83zM1062,179.9h13.83v12.65h-13.83zM1088.65,179.9h13.83v12.65h-13.83zM1128.62,179.9h13.83v12.65h-13.83zM1075.33,192.05h13.83v12.65h-13.83zM1101.97,192.05h13.83v12.65h-13.83zM888.77,204.2h13.83v12.65h-13.83zM902.1,204.2h13.83v12.65h-13.83zM1035.35,204.2h13.83v12.65h-13.83zM1048.67,204.2h13.83v12.65h-13.83zM1088.65,204.2h13.83v12.65h-13.83zM862.12,216.35h13.83v12.65h-13.83zM888.77,216.35h13.83v12.65h-13.83zM915.42,216.35h13.83v12.65h-13.83zM995.38,216.35h13.83v12.65h-13.83zM1088.65,216.35h13.83v12.65h-13.83zM1115.3,216.35h13.83v12.65h-13.83zM1128.62,216.35h13.83v12.65h-13.83zM1141.95,216.35h13.83v12.65h-13.83zM1168.6,216.35h13.83v12.65h-13.83zM862.12,228.5h13.83v12.65h-13.83zM875.45,228.5h13.83v12.65h-13.83zM928.75,228.5h13.83v12.65h-13.83zM995.38,228.5h13.83v12.65h-13.83zM1022.02,228.5h13.83v12.65h-13.83zM1048.67,228.5h13.83v12.65h-13.83zM1088.65,228.5h13.83v12.65h-13.83zM1101.97,228.5h13.83v12.65h-13.83zM1115.3,228.5h13.83v12.65h-13.83zM1168.6,228.5h13.83v12.65h-13.83zM848.8,240.65h13.83v12.65h-13.83zM862.12,240.65h13.83v12.65h-13.83zM928.75,240.65h13.83v12.65h-13.83zM942.07,240.65h13.83v12.65h-13.83zM955.4,240.65h13.83v12.65h-13.83zM968.72,240.65h13.83v12.65h-13.83zM995.38,240.65h13.83v12.65h-13.83zM1008.7,240.65h13.83v12.65h-13.83zM1022.02,240.65h13.83v12.65h-13.83zM1035.35,240.65h13.83v12.65h-13.83zM1088.65,240.65h13.83v12.65h-13.83zM1115.3,240.65h13.83v12.65h-13.83zM1128.62,240.65h13.83v12.65h-13.83zM1141.95,240.65h13.83v12.65h-13.83zM1155.28,240.65h13.83v12.65h-13.83zM1168.6,240.65h13.83v12.65h-13.83zM1181.92,240.65h13.83v12.65h-13.83zM1275.2,240.65h13.83v12.65h-13.83zM848.8,252.8h13.83v12.65h-13.83zM915.42,252.8h13.83v12.65h-13.83zM968.72,252.8h13.83v12.65h-13.83zM982.05,252.8h13.83v12.65h-13.83zM1035.35,252.8h13.83v12.65h-13.83zM1128.62,252.8h13.83v12.65h-13.83zM1155.28,252.8h13.83v12.65h-13.83zM1168.6,252.8h13.83v12.65h-13.83zM1181.92,252.8h13.83v12.65h-13.83zM1248.55,252.8h13.83v12.65h-13.83zM888.77,264.95h13.83v12.65h-13.83zM1008.7,264.95h13.83v12.65h-13.83zM1035.35,264.95h13.83v12.65h-13.83zM1062,264.95h13.83v12.65h-13.83zM1075.33,264.95h13.83v12.65h-13.83zM1155.28,264.95h13.83v12.65h-13.83zM1168.6,264.95h13.83v12.65h-13.83zM1181.92,264.95h13.83v12.65h-13.83zM1195.25,264.95h13.83v12.65h-13.83zM1221.9,264.95h13.83v12.65h-13.83zM1315.17,264.95h13.83v12.65h-13.83zM955.4,277.1h13.83v12.65h-13.83zM982.05,277.1h13.83v12.65h-13.83zM995.38,277.1h13.83v12.65h-13.83zM1008.7,277.1h13.83v12.65h-13.83zM1022.02,277.1h13.83v12.65h-13.83zM1141.95,277.1h13.83v12.65h-13.83zM1208.58,277.1h13.83v12.65h-13.83zM1235.22,277.1h13.83v12.65h-13.83zM1275.2,277.1h13.83v12.65h-13.83zM888.77,289.25h13.83v12.65h-13.83zM982.05,289.25h13.83v12.65h-13.83zM995.38,289.25h13.83v12.65h-13.83zM1048.67,289.25h13.83v12.65h-13.83zM1062,289.25h13.83v12.65h-13.83zM1141.95,289.25h13.83v12.65h-13.83zM1181.92,289.25h13.83v12.65h-13.83zM1221.9,289.25h13.83v12.65h-13.83zM848.8,301.4h13.83v12.65h-13.83zM968.72,301.4h13.83v12.65h-13.83zM982.05,301.4h13.83v12.65h-13.83zM1008.7,301.4h13.83v12.65h-13.83zM1022.02,301.4h13.83v12.65h-13.83zM1035.35,301.4h13.83v12.65h-13.83zM1155.28,301.4h13.83v12.65h-13.83zM1181.92,301.4h13.83v12.65h-13.83zM1261.88,301.4h13.83v12.65h-13.83zM1275.2,301.4h13.83v12.65h-13.83zM1008.7,313.55h13.83v12.65h-13.83zM1048.67,313.55h13.83v12.65h-13.83zM1075.33,313.55h13.83v12.65h-13.83zM1101.97,313.55h13.83v12.65h-13.83zM1208.58,313.55h13.83v12.65h-13.83zM1288.53,313.55h13.83v12.65h-13.83zM1062,325.7h13.83v12.65h-13.83zM1075.33,325.7h13.83v12.65h-13.83zM1235.22,325.7h13.83v12.65h-13.83zM1248.55,325.7h13.83v12.65h-13.83zM1275.2,325.7h13.83v12.65h-13.83zM995.38,337.85h13.83v12.65h-13.83zM1022.02,337.85h13.83v12.65h-13.83zM1062,337.85h13.83v12.65h-13.83zM1075.33,337.85h13.83v12.65h-13.83zM1088.65,337.85h13.83v12.65h-13.83zM1101.97,337.85h13.83v12.65h-13.83zM862.12,350h13.83v12.65h-13.83zM995.38,350h13.83v12.65h-13.83zM1035.35,350h13.83v12.65h-13.83zM1035.35,362.15h13.83v12.65h-13.83zM1062,362.15h13.83v12.65h-13.83zM1088.65,362.15h13.83v12.65h-13.83zM1128.62,362.15h13.83v12.65h-13.83zM1062,374.3h13.83v12.65h-13.83zM1088.65,374.3h13.83v12.65h-13.83zM1101.97,374.3h13.83v12.65h-13.83zM1128.62,374.3h13.83v12.65h-13.83zM1035.35,386.45h13.83v12.65h-13.83zM1088.65,398.6h13.83v12.65h-13.83zM1141.95,398.6h13.83v12.65h-13.83zM1115.3,410.75h13.83v12.65h-13.83zM1128.62,410.75h13.83v12.65h-13.83zM1155.28,410.75h13.83v12.65h-13.83zM1115.3,422.9h13.83v12.65h-13.83zM1128.62,422.9h13.83v12.65h-13.83zM1101.97,435.05h13.83v12.65h-13.83zM1128.62,435.05h13.83v12.65h-13.83zM1101.97,447.2h13.83v12.65h-13.83zM1115.3,447.2h13.83v12.65h-13.83zM1128.62,447.2h13.83v12.65h-13.83zM1048.67,459.35h13.83v12.65h-13.83zM1062,459.35h13.83v12.65h-13.83zM1115.3,459.35h13.83v12.65h-13.83zM1128.62,459.35h13.83v12.65h-13.83zM1088.65,471.5h13.83v12.65h-13.83zM1101.97,471.5h13.83v12.65h-13.83zM1088.65,483.65h13.83v12.65h-13.83zM1101.97,483.65h13.83v12.65h-13.83zM1141.95,483.65h13.83v12.65h-13.83z" fill="#000010"/>
<path d="M1181.92,58.4h13.83v12.65h-13.83zM1235.22,58.4h13.83v12.65h-13.83zM1315.17,58.4h13.83v12.65h-13.83zM1181.92,70.55h13.83v12.65h-13.83zM1261.88,70.55h13.83v12.65h-13.83zM1288.53,70.55h13.83v12.65h-13.83zM1301.85,70.55h13.83v12.65h-13.83zM1141.95,82.7h13.83v12.65h-13.83zM1155.28,82.7h13.83v12.65h-13.83zM1062,94.85h13.83v12.65h-13.83zM1088.65,94.85h13.83v12.65h-13.83zM1208.58,94.85h13.83v12.65h-13.83zM1088.65,107h13.83v12.65h-13.83zM1141.95,107h13.83v12.65h-13.83zM1155.28,107h13.83v12.65h-13.83zM1168.6,107h13.83v12.65h-13.83zM1208.58,107h13.83v12.65h-13.83zM1075.33,119.15h13.83v12.65h-13.83zM1088.65,119.15h13.83v12.65h-13.83zM1208.58,119.15h13.83v12.65h-13.83zM1075.33,131.3h13.83v12.65h-13.83zM1088.65,131.3h13.83v12.65h-13.83zM1235.22,131.3h13.83v12.65h-13.83zM1088.65,143.45h13.83v12.65h-13.83zM1181.92,143.45h13.83v12.65h-13.83zM1261.88,143.45h13.83v12.65h-13.83zM1141.95,155.6h13.83v12.65h-13.83zM1181.92,155.6h13.83v12.65h-13.83zM1235.22,155.6h13.83v12.65h-13.83zM1208.58,167.75h13.83v12.65h-13.83zM1221.9,167.75h13.83v12.65h-13.83zM1261.88,167.75h13.83v12.65h-13.83zM1288.53,167.75h13.83v12.65h-13.83zM1168.6,179.9h13.83v12.65h-13.83zM1301.85,179.9h13.83v12.65h-13.83zM1315.17,179.9h13.83v12.65h-13.83zM1195.25,192.05h13.83v12.65h-13.83zM1208.58,192.05h13.83v12.65h-13.83zM1288.53,204.2h13.83v12.65h-13.83zM1315.17,204.2h13.83v12.65h-13.83zM1315.17,216.35h13.83v12.65h-13.83zM1315.17,228.5h13.83v12.65h-13.83zM902.1,264.95h13.83v12.65h-13.83zM915.42,264.95h13.83v12.65h-13.83zM888.77,277.1h13.83v12.65h-13.83zM888.77,325.7h13.83v12.65h-13.83zM902.1,325.7h13.83v12.65h-13.83zM915.42,325.7h13.83v12.65h-13.83zM995.38,325.7h13.83v12.65h-13.83zM915.42,337.85h13.83v12.65h-13.83zM888.77,350h13.83v12.65h-13.83zM982.05,350h13.83v12.65h-13.83zM875.45,362.15h13.83v12.65h-13.83zM915.42,362.15h13.83v12.65h-13.83zM995.38,386.45h13.83v12.65h-13.83zM915.42,398.6h13.83v12.65h-13.83zM928.75,398.6h13.83v12.65h-13.83zM1008.7,398.6h13.83v12.65h-13.83zM968.72,410.75h13.83v12.65h-13.83zM1035.35,410.75h13.83v12.65h-13.83zM982.05,422.9h13.83v12.65h-13.83zM862.12,435.05h13.83v12.65h-13.83zM862.12,447.2h13.83v12.65h-13.83zM995.38,471.5h13.83v12.65h-13.83zM888.77,483.65h13.83v12.65h-13.83zM1035.35,483.65h13.83v12.65h-13.83zM1048.67,483.65h13.83v12.65h-13.83z" fill="#000056"/>
<path d="M1208.58,58.4h13.83v12.65h-13.83zM1221.9,58.4h13.83v12.65h-13.83zM1248.55,58.4h13.83v12.65h-13.83zM1275.2,58.4h13.83v12.65h-13.83zM1288.53,58.4h13.83v12.65h-13.83zM1075.33,70.55h13.83v12.65h-13.83zM1141.95,70.55h13.83v12.65h-13.83zM1155.28,70.55h13.83v12.65h-13.83zM1168.6,70.55h13.83v12.65h-13.83zM1275.2,70.55h13.83v12.65h-13.83zM1035.35,82.7h13.83v12.65h-13.83zM1075.33,82.7h13.83v12.65h-13.83zM1088.65,82.7h13.83v12.65h-13.83zM1101.97,82.7h13.83v12.65h-13.83zM1128.62,82.7h13.83v12.65h-13.83zM1168.6,82.7h13.83v12.65h-13.83zM1181.92,82.7h13.83v12.65h-13.83zM1195.25,82.7h13.83v12.65h-13.83zM1208.58,82.7h13.83v12.65h-13.83zM1235.22,82.7h13.83v12.65h-13.83zM1248.55,82.7h13.83v12.65h-13.83zM1115.3,94.85h13.83v12.65h-13.83zM1141.95,94.85h13.83v12.65h-13.83zM1062,107h13.83v12.65h-13.83zM1181.92,107h13.83v12.65h-13.83zM1035.35,119.15h13.83v12.65h-13.83zM1115.3,119.15h13.83v12.65h-13.83zM1128.62,119.15h13.83v12.65h-13.83zM1048.67,131.3h13.83v12.65h-13.83zM1101.97,131.3h13.83v12.65h-13.83zM1115.3,131.3h13.83v12.65h-13.83zM1155.28,131.3h13.83v12.65h-13.83zM1181.92,131.3h13.83v12.65h-13.83zM1221.9,131.3h13.83v12.65h-13.83zM1075.33,143.45h13.83v12.65h-13.83zM1101.97,143.45h13.83v12.65h-13.83zM1115.3,143.45h13.83v12.65h-13.83zM1141.95,143.45h13.83v12.65h-13.83zM1168.6,143.45h13.83v12.65h-13.83zM1221.9,143.45h13.83v12.65h-13.83zM1062,155.6h13.83v12.65h-13.83zM1075.33,155.6h13.83v12.65h-13.83zM1088.65,155.6h13.83v12.65h-13.83zM1101.97,155.6h13.83v12.65h-13.83zM1168.6,155.6h13.83v12.65h-13.83zM1221.9,155.6h13.83v12.65h-13.83zM1141.95,167.75h13.83v12.65h-13.83zM1155.28,167.75h13.83v12.65h-13.83zM1168.6,167.75h13.83v12.65h-13.83zM1181.92,167.75h13.83v12.65h-13.83zM1075.33,179.9h13.83v12.65h-13.83zM1155.28,179.9h13.83v12.65h-13.83zM1208.58,179.9h13.83v12.65h-13.83zM1235.22,179.9h13.83v12.65h-13.83zM1288.53,179.9h13.83v12.65h-13.83zM1141.95,192.05h13.83v12.65h-13.83zM1155.28,192.05h13.83v12.65h-13.83zM1221.9,192.05h13.83v12.65h-13.83zM1235.22,192.05h13.83v12.65h-13.83zM1275.2,192.05h13.83v12.65h-13.83zM1115.3,204.2h13.83v12.65h-13.83zM1168.6,204.2h13.83v12.65h-13.83zM1195.25,204.2h13.83v12.65h-13.83zM1208.58,204.2h13.83v12.65h-13.83zM1221.9,204.2h13.83v12.65h-13.83zM1301.85,204.2h13.83v12.65h-13.83zM1101.97,216.35h13.83v12.65h-13.83zM1195.25,216.35h13.83v12.65h-13.83zM1208.58,216.35h13.83v12.65h-13.83zM1248.55,216.35h13.83v12.65h-13.83zM1261.88,216.35h13.83v12.65h-13.83zM1275.2,216.35h13.83v12.65h-13.83zM888.77,228.5h13.83v12.65h-13.83zM1155.28,228.5h13.83v12.65h-13.83zM1208.58,228.5h13.83v12.65h-13.83zM1235.22,228.5h13.83v12.65h-13.83zM1248.55,228.5h13.83v12.65h-13.83zM1261.88,228.5h13.83v12.65h-13.83zM888.77,240.65h13.83v12.65h-13.83zM1208.58,240.65h13.83v12.65h-13.83zM1221.9,240.65h13.83v12.65h-13.83zM1288.53,240.65h13.83v12.65h-13.83zM1301.85,240.65h13.83v12.65h-13.83zM1315.17,240.65h13.83v12.65h-13.83zM902.1,252.8h13.83v12.65h-13.83zM1221.9,252.8h13.83v12.65h-13.83zM1235.22,252.8h13.83v12.65h-13.83zM1288.53,252.8h13.83v12.65h-13.83zM1301.85,252.8h13.83v12.65h-13.83zM1315.17,252.8h13.83v12.65h-13.83zM875.45,264.95h13.83v12.65h-13.83zM928.75,264.95h13.83v12.65h-13.83zM942.07,264.95h13.83v12.65h-13.83zM968.72,264.95h13.83v12.65h-13.83zM1022.02,264.95h13.83v12.65h-13.83zM1301.85,264.95h13.83v12.65h-13.83zM902.1,277.1h13.83v12.65h-13.83zM928.75,277.1h13.83v12.65h-13.83zM1261.88,277.1h13.83v12.65h-13.83zM902.1,289.25h13.83v12.65h-13.83zM915.42,289.25h13.83v12.65h-13.83zM928.75,289.25h13.83v12.65h-13.83zM955.4,289.25h13.83v12.65h-13.83zM1275.2,289.25h13.83v12.65h-13.83zM862.12,301.4h13.83v12.65h-13.83zM875.45,301.4h13.83v12.65h-13.83zM888.77,301.4h13.83v12.65h-13.83zM902.1,301.4h13.83v12.65h-13.83zM928.75,301.4h13.83v12.65h-13.83zM995.38,301.4h13.83v12.65h-13.83zM1288.53,301.4h13.83v12.65h-13.83zM848.8,313.55h13.83v12.65h-13.83zM875.45,313.55h13.83v12.65h-13.83zM928.75,313.55h13.83v12.65h-13.83zM955.4,313.55h13.83v12.65h-13.83zM968.72,313.55h13.83v12.65h-13.83zM848.8,325.7h13.83v12.65h-13.83zM875.45,325.7h13.83v12.65h-13.83zM968.72,325.7h13.83v12.65h-13.83zM1288.53,325.7h13.83v12.65h-13.83zM862.12,337.85h13.83v12.65h-13.83zM888.77,337.85h13.83v12.65h-13.83zM902.1,337.85h13.83v12.65h-13.83zM928.75,337.85h13.83v12.65h-13.83zM942.07,337.85h13.83v12.65h-13.83zM968.72,337.85h13.83v12.65h-13.83zM982.05,337.85h13.83v12.65h-13.83zM848.8,350h13.83v12.65h-13.83zM875.45,350h13.83v12.65h-13.83zM968.72,350h13.83v12.65h-13.83zM862.12,362.15h13.83v12.65h-13.83zM902.1,362.15h13.83v12.65h-13.83zM848.8,374.3h13.83v12.65h-13.83zM955.4,374.3h13.83v12.65h-13.83zM982.05,374.3h13.83v12.65h-13.83zM995.38,374.3h13.83v12.65h-13.83zM1008.7,374.3h13.83v12.65h-13.83zM1022.02,374.3h13.83v12.65h-13.83zM1035.35,374.3h13.83v12.65h-13.83zM848.8,386.45h13.83v12.65h-13.83zM968.72,386.45h13.83v12.65h-13.83zM982.05,386.45h13.83v12.65h-13.83zM1008.7,386.45h13.83v12.65h-13.83zM1022.02,386.45h13.83v12.65h-13.83zM955.4,398.6h13.83v12.65h-13.83zM982.05,398.6h13.83v12.65h-13.83zM1022.02,398.6h13.83v12.65h-13.83zM1035.35,398.6h13.83v12.65h-13.83zM1048.67,398.6h13.83v12.65h-13.83zM1075.33,398.6h13.83v12.65h-13.83zM862.12,410.75h13.83v12.65h-13.83zM875.45,410.75h13.83v12.65h-13.83zM982.05,410.75h13.83v12.65h-13.83zM995.38,410.75h13.83v12.65h-13.83zM1008.7,410.75h13.83v12.65h-13.83zM1022.02,410.75h13.83v12.65h-13.83zM1048.67,410.75h13.83v12.65h-13.83zM848.8,422.9h13.83v12.65h-13.83zM862.12,422.9h13.83v12.65h-13.83zM888.77,422.9h13.83v12.65h-13.83zM995.38,422.9h13.83v12.65h-13.83zM1022.02,422.9h13.83v12.65h-13.83zM1062,422.9h13.83v12.65h-13.83zM848.8,435.05h13.83v12.65h-13.83zM902.1,435.05h13.83v12.65h-13.83zM982.05,435.05h13.83v12.65h-13.83zM1035.35,435.05h13.83v12.65h-13.83zM1062,435.05h13.83v12.65h-13.83zM1075.33,435.05h13.83v12.65h-13.83zM1088.65,435.05h13.83v12.65h-13.83zM982.05,447.2h13.83v12.65h-13.83zM995.38,447.2h13.83v12.65h-13.83zM1035.35,447.2h13.83v12.65h-13.83zM1048.67,447.2h13.83v12.65h-13.83zM1088.65,447.2h13.83v12.65h-13.83zM848.8,459.35h13.83v12.65h-13.83zM982.05,459.35h13.83v12.65h-13.83zM995.38,459.35h13.83v12.65h-13.83zM1022.02,459.35h13.83v12.65h-13.83zM1035.35,459.35h13.83v12.65h-13.83zM875.45,471.5h13.83v12.65h-13.83zM942.07,471.5h13.83v12.65h-13.83zM1022.02,471.5h13.83v12.65h-13.83zM1075.33,471.5h13.83v12.65h-13.83zM1022.02,483.65h13.83v12.65h-13.83zM1115.3,483.65h13.83v12.65h-13.83z" fill="#00003f"/>
<path d="M1261.88,58.4h13.83v12.65h-13.83zM1301.85,58.4h13.83v12.65h-13.83zM1248.55,70.55h13.83v12.65h-13.83zM1221.9,94.85h13.83v12.65h-13.83zM1235.22,94.85h13.83v12.65h-13.83zM1261.88,94.85h13.83v12.65h-13.83zM1275.2,94.85h13.83v12.65h-13.83zM1261.88,107h13.83v12.65h-13.83zM1275.2,107h13.83v12.65h-13.83zM1288.53,107h13.83v12.65h-13.83zM1301.85,107h13.83v12.65h-13.83zM1141.95,119.15h13.83v12.65h-13.83zM1181.92,119.15h13.83v12.65h-13.83zM1235.22,119.15h13.83v12.65h-13.83zM1275.2,119.15h13.83v12.65h-13.83zM1208.58,131.3h13.83v12.65h-13.83zM1261.88,131.3h13.83v12.65h-13.83zM1275.2,131.3h13.83v12.65h-13.83zM1301.85,131.3h13.83v12.65h-13.83zM1315.17,131.3h13.83v12.65h-13.83zM1235.22,143.45h13.83v12.65h-13.83zM1275.2,143.45h13.83v12.65h-13.83zM1288.53,143.45h13.83v12.65h-13.83zM1315.17,143.45h13.83v12.65h-13.83zM1195.25,155.6h13.83v12.65h-13.83zM1275.2,155.6h13.83v12.65h-13.83zM1288.53,155.6h13.83v12.65h-13.83zM1301.85,155.6h13.83v12.65h-13.83zM1315.17,155.6h13.83v12.65h-13.83zM1275.2,167.75h13.83v12.65h-13.83zM1221.9,179.9h13.83v12.65h-13.83zM1261.88,179.9h13.83v12.65h-13.83zM1261.88,192.05h13.83v12.65h-13.83zM1248.55,204.2h13.83v12.65h-13.83zM1261.88,204.2h13.83v12.65h-13.83zM888.77,362.15h13.83v12.65h-13.83zM928.75,362.15h13.83v12.65h-13.83zM955.4,362.15h13.83v12.65h-13.83zM902.1,374.3h13.83v12.65h-13.83zM915.42,374.3h13.83v12.65h-13.83zM928.75,374.3h13.83v12.65h-13.83zM875.45,386.45h13.83v12.65h-13.83zM888.77,386.45h13.83v12.65h-13.83zM902.1,386.45h13.83v12.65h-13.83zM862.12,398.6h13.83v12.65h-13.83zM888.77,398.6h13.83v12.65h-13.83zM968.72,398.6h13.83v12.65h-13.83zM942.07,410.75h13.83v12.65h-13.83zM955.4,410.75h13.83v12.65h-13.83zM875.45,422.9h13.83v12.65h-13.83zM942.07,422.9h13.83v12.65h-13.83zM955.4,422.9h13.83v12.65h-13.83zM875.45,435.05h13.83v12.65h-13.83zM915.42,435.05h13.83v12.65h-13.83zM942.07,435.05h13.83v12.65h-13.83zM955.4,435.05h13.83v12.65h-13.83zM968.72,435.05h13.83v12.65h-13.83zM875.45,447.2h13.83v12.65h-13.83zM902.1,447.2h13.83v12.65h-13.83zM915.42,447.2h13.83v12.65h-13.83zM942.07,447.2h13.83v12.65h-13.83zM968.72,447.2h13.83v12.65h-13.83zM862.12,459.35h13.83v12.65h-13.83zM942.07,459.35h13.83v12.65h-13.83zM955.4,459.35h13.83v12.65h-13.83zM968.72,459.35h13.83v12.65h-13.83zM888.77,471.5h13.83v12.65h-13.83zM848.8,483.65h13.83v12.65h-13.83zM862.12,483.65h13.83v12.65h-13.83zM875.45,483.65h13.83v12.65h-13.83zM955.4,483.65h13.83v12.65h-13.83zM1008.7,483.65h13.83v12.65h-13.83z" fill="#000084"/>
<path d="M875.45,70.55h13.83v12.65h-13.83zM915.42,70.55h13.83v12.65h-13.83zM862.12,94.85h13.83v12.65h-13.83zM928.75,94.85h13.83v12.65h-13.83zM848.8,107h13.83v12.65h-13.83zM875.45,107h13.83v12.65h-13.83zM928.75,107h13.83v12.65h-13.83zM942.07,107h13.83v12.65h-13.83zM875.45,119.15h13.83v12.65h-13.83zM875.45,131.3h13.83v12.65h-13.83zM1275.2,435.05h13.83v12.65h-13.83zM1315.17,471.5h13.83v12.65h-13.83z" fill="#ff6900"/>
<path d="M968.72,70.55h13.83v12.65h-13.83zM848.8,82.7h13.83v12.65h-13.83zM955.4,82.7h13.83v12.65h-13.83zM848.8,94.85h13.83v12.65h-13.83zM888.77,155.6h13.83v12.65h-13.83zM942.07,155.6h13.83v12.65h-13.83zM875.45,167.75h13.83v12.65h-13.83zM1288.53,398.6h13.83v12.65h-13.83zM1261.88,422.9h13.83v12.65h-13.83zM1275.2,422.9h13.83v12.65h-13.83zM1315.17,422.9h13.83v12.65h-13.83zM1315.17,447.2h13.83v12.65h-13.83zM1301.85,459.35h13.83v12.65h-13.83zM1288.53,471.5h13.83v12.65h-13.83zM1301.85,483.65h13.83v12.65h-13.83z" fill="#e20000"/>
<path d="M1195.25,70.55h13.83v12.65h-13.83zM1208.58,70.55h13.83v12.65h-13.83zM1221.9,70.55h13.83v12.65h-13.83zM1235.22,70.55h13.83v12.65h-13.83zM1315.17,70.55h13.83v12.65h-13.83zM1221.9,82.7h13.83v12.65h-13.83zM1261.88,82.7h13.83v12.65h-13.83zM1275.2,82.7h13.83v12.65h-13.83zM1288.53,82.7h13.83v12.65h-13.83zM1301.85,82.7h13.83v12.65h-13.83zM1101.97,94.85h13.83v12.65h-13.83zM1168.6,94.85h13.83v12.65h-13.83zM1181.92,94.85h13.83v12.65h-13.83zM1195.25,94.85h13.83v12.65h-13.83zM1248.55,94.85h13.83v12.65h-13.83zM1301.85,94.85h13.83v12.65h-13.83zM1221.9,107h13.83v12.65h-13.83zM1315.17,107h13.83v12.65h-13.83zM1155.28,119.15h13.83v12.65h-13.83zM1168.6,119.15h13.83v12.65h-13.83zM1195.25,119.15h13.83v12.65h-13.83zM1248.55,119.15h13.83v12.65h-13.83zM1301.85,119.15h13.83v12.65h-13.83zM1128.62,131.3h13.83v12.65h-13.83zM1141.95,131.3h13.83v12.65h-13.83zM1168.6,131.3h13.83v12.65h-13.83zM1195.25,131.3h13.83v12.65h-13.83zM1128.62,143.45h13.83v12.65h-13.83zM1155.28,143.45h13.83v12.65h-13.83zM1195.25,143.45h13.83v12.65h-13.83zM1208.58,143.45h13.83v12.65h-13.83zM1248.55,143.45h13.83v12.65h-13.83zM1155.28,155.6h13.83v12.65h-13.83zM1208.58,155.6h13.83v12.65h-13.83zM1195.25,167.75h13.83v12.65h-13.83zM1235.22,167.75h13.83v12.65h-13.83zM1248.55,167.75h13.83v12.65h-13.83zM1315.17,167.75h13.83v12.65h-13.83zM1141.95,179.9h13.83v12.65h-13.83zM1195.25,179.9h13.83v12.65h-13.83zM1248.55,179.9h13.83v12.65h-13.83zM1275.2,179.9h13.83v12.65h-13.83zM1248.55,192.05h13.83v12.65h-13.83zM1288.53,192.05h13.83v12.65h-13.83zM1301.85,192.05h13.83v12.65h-13.83zM1315.17,192.05h13.83v12.65h-13.83zM1235.22,204.2h13.83v12.65h-13.83zM1275.2,204.2h13.83v12.65h-13.83zM1221.9,216.35h13.83v12.65h-13.83zM1301.85,216.35h13.83v12.65h-13.83zM942.07,301.4h13.83v12.65h-13.83zM888.77,313.55h13.83v12.65h-13.83zM915.42,313.55h13.83v12.65h-13.83zM928.75,325.7h13.83v12.65h-13.83zM942.07,325.7h13.83v12.65h-13.83zM875.45,337.85h13.83v12.65h-13.83zM955.4,337.85h13.83v12.65h-13.83zM902.1,350h13.83v12.65h-13.83zM915.42,350h13.83v12.65h-13.83zM928.75,350h13.83v12.65h-13.83zM942.07,350h13.83v12.65h-13.83zM955.4,350h13.83v12.65h-13.83zM862.12,374.3h13.83v12.65h-13.83zM875.45,374.3h13.83v12.65h-13.83zM942.07,374.3h13.83v12.65h-13.83zM968.72,374.3h13.83v12.65h-13.83zM862.12,386.45h13.83v12.65h-13.83zM915.42,386.45h13.83v12.65h-13.83zM928.75,386.45h13.83v12.65h-13.83zM942.07,386.45h13.83v12.65h-13.83zM955.4,386.45h13.83v12.65h-13.83zM848.8,398.6h13.83v12.65h-13.83zM902.1,398.6h13.83v12.65h-13.83zM942.07,398.6h13.83v12.65h-13.83zM1062,398.6h13.83v12.65h-13.83zM848.8,410.75h13.83v12.65h-13.83zM902.1,410.75h13.83v12.65h-13.83zM915.42,410.75h13.83v12.65h-13.83zM928.75,410.75h13.83v12.65h-13.83zM928.75,422.9h13.83v12.65h-13.83zM968.72,422.9h13.83v12.65h-13.83zM1008.7,422.9h13.83v12.65h-13.83zM995.38,435.05h13.83v12.65h-13.83zM1008.7,435.05h13.83v12.65h-13.83zM848.8,447.2h13.83v12.65h-13.83zM1008.7,447.2h13.83v12.65h-13.83zM1022.02,447.2h13.83v12.65h-13.83zM1008.7,459.35h13.83v12.65h-13.83zM928.75,471.5h13.83v12.65h-13.83zM982.05,471.5h13.83v12.65h-13.83zM1008.7,471.5h13.83v12.65h-13.83zM1035.35,471.5h13.83v12.65h-13.83zM942.07,483.65h13.83v12.65h-13.83zM968.72,483.65h13.83v12.65h-13.83zM982.05,483.65h13.83v12.65h-13.83zM995.38,483.65h13.83v12.65h-13.83z" fill="#00006d"/>
<path d="M875.45,82.7h13.83v12.65h-13.83zM915.42,107h13.83v12.65h-13.83z" fill="#ffff5a"/>
<path d="M888.77,82.7h13.83v12.65h-13.83zM875.45,94.85h13.83v12.65h-13.83zM888.77,119.15h13.83v12.65h-13.83z" fill="#ffff8f"/>
<path d="M902.1,82.7h13.83v12.65h-13.83z" fill="#ffff25"/>
<path d="M915.42,82.7h13.83v12.65h-13.83z" fill="#ffd200"/>
<path d="M1008.7,82.7h13.83v12.65h-13.83zM1062,82.7h13.83v12.65h-13.83zM995.38,94.85h13.83v12.65h-13.83zM1048.67,107h13.83v12.65h-13.83zM875.45,155.6h13.83v12.65h-13.83zM982.05,155.6h13.83v12.65h-13.83zM1022.02,167.75h13.83v12.65h-13.83zM862.12,179.9h13.83v12.65h-13.83zM1008.7,179.9h13.83v12.65h-13.83zM1022.02,192.05h13.83v12.65h-13.83zM915.42,204.2h13.83v12.65h-13.83zM928.75,204.2h13.83v12.65h-13.83zM942.07,204.2h13.83v12.65h-13.83zM982.05,204.2h13.83v12.65h-13.83zM848.8,216.35h13.83v12.65h-13.83zM875.45,216.35h13.83v12.65h-13.83zM928.75,216.35h13.83v12.65h-13.83zM968.72,216.35h13.83v12.65h-13.83zM982.05,216.35h13.83v12.65h-13.83zM1035.35,216.35h13.83v12.65h-13.83zM982.05,228.5h13.83v12.65h-13.83zM1101.97,264.95h13.83v12.65h-13.83zM1048.67,277.1h13.83v12.65h-13.83zM1088.65,277.1h13.83v12.65h-13.83zM1101.97,289.25h13.83v12.65h-13.83zM1155.28,289.25h13.83v12.65h-13.83zM1168.6,289.25h13.83v12.65h-13.83zM1128.62,301.4h13.83v12.65h-13.83zM1141.95,301.4h13.83v12.65h-13.83zM1115.3,313.55h13.83v12.65h-13.83zM1155.28,313.55h13.83v12.65h-13.83zM1181.92,313.55h13.83v12.65h-13.83zM1275.2,313.55h13.83v12.65h-13.83zM1315.17,313.55h13.83v12.65h-13.83zM1101.97,325.7h13.83v12.65h-13.83zM1128.62,325.7h13.83v12.65h-13.83zM1141.95,325.7h13.83v12.65h-13.83zM1181.92,325.7h13.83v12.65h-13.83zM1141.95,337.85h13.83v12.65h-13.83zM1221.9,337.85h13.83v12.65h-13.83zM1261.88,337.85h13.83v12.65h-13.83zM1101.97,350h13.83v12.65h-13.83zM1235.22,350h13.83v12.65h-13.83zM1248.55,350h13.83v12.65h-13.83zM1261.88,350h13.83v12.65h-13.83zM1155.28,362.15h13.83v12.65h-13.83zM1208.58,362.15h13.83v12.65h-13.83zM1235.22,362.15h13.83v12.65h-13.83zM1315.17,362.15h13.83v12.65h-13.83zM1141.95,374.3h13.83v12.65h-13.83zM1155.28,374.3h13.83v12.65h-13.83zM1235.22,374.3h13.83v12.65h-13.83zM1275.2,374.3h13.83v12.65h-13.83zM1301.85,374.3h13.83v12.65h-13.83zM1141.95,386.45h13.83v12.65h-13.83zM1168.6,386.45h13.83v12.65h-13.83zM1208.58,386.45h13.83v12.65h-13.83zM1288.53,386.45h13.83v12.65h-13.83zM1155.28,398.6h13.83v12.65h-13.83zM1181.92,410.75h13.83v12.65h-13.83zM1155.28,435.05h13.83v12.65h-13.83zM1141.95,447.2h13.83v12.65h-13.83zM1195.25,447.2h13.83v12.65h-13.83zM1141.95,459.35h13.83v12.65h-13.83zM1208.58,459.35h13.83v12.65h-13.83zM1195.25,471.5h13.83v12.65h-13.83zM1221.9,471.5h13.83v12.65h-13.83zM1155.28,483.65h13.83v12.65h-13.83zM1168.6,483.65h13.83v12.65h-13.83zM1181.92,483.65h13.83v12.65h-13.83z" fill="#2f0000"/>
<path d="M1315.17,82.7h13.83v12.65h-13.83zM1155.28,94.85h13.83v12.65h-13.83zM1288.53,94.85h13.83v12.65h-13.83zM1315.17,94.85h13.83v12.65h-13.83zM1195.25,107h13.83v12.65h-13.83zM1235.22,107h13.83v12.65h-13.83zM1221.9,119.15h13.83v12.65h-13.83zM1261.88,119.15h13.83v12.65h-13.83zM1248.55,131.3h13.83v12.65h-13.83zM1261.88,155.6h13.83v12.65h-13.83zM1301.85,167.75h13.83v12.65h-13.83zM942.07,362.15h13.83v12.65h-13.83zM888.77,374.3h13.83v12.65h-13.83zM875.45,398.6h13.83v12.65h-13.83zM888.77,459.35h13.83v12.65h-13.83zM902.1,459.35h13.83v12.65h-13.83zM915.42,459.35h13.83v12.65h-13.83zM928.75,459.35h13.83v12.65h-13.83zM848.8,471.5h13.83v12.65h-13.83zM862.12,471.5h13.83v12.65h-13.83zM902.1,471.5h13.83v12.65h-13.83zM915.42,471.5h13.83v12.65h-13.83zM968.72,471.5h13.83v12.65h-13.83zM902.1,483.65h13.83v12.65h-13.83zM928.75,483.65h13.83v12.65h-13.83z" fill="#00009b"/>
<path d="M888.77,94.85h13.83v12.65h-13.83zM902.1,107h13.83v12.65h-13.83z" fill="#ffffc5"/>
<path d="M902.1,94.85h13.83v12.65h-13.83zM888.77,107h13.83v12.65h-13.83z" fill="#fffffa"/>
<path d="M915.42,94.85h13.83v12.65h-13.83zM915.42,119.15h13.83v12.65h-13.83z" fill="#fff500"/>
<path d="M862.12,107h13.83v12.65h-13.83zM862.12,119.15h13.83v12.65h-13.83zM942.07,119.15h13.83v12.65h-13.83zM1288.53,447.2h13.83v12.65h-13.83z" fill="#ff8c00"/>
<path d="M1248.55,107h13.83v12.65h-13.83zM1288.53,131.3h13.83v12.65h-13.83z" fill="#0000e1"/>
<path d="M1288.53,119.15h13.83v12.65h-13.83zM928.75,447.2h13.83v12.65h-13.83z" fill="#0000f8"/>
<path d="M1315.17,119.15h13.83v12.65h-13.83zM1301.85,143.45h13.83v12.65h-13.83zM1248.55,155.6h13.83v12.65h-13.83zM888.77,410.75h13.83v12.65h-13.83zM902.1,422.9h13.83v12.65h-13.83zM928.75,435.05h13.83v12.65h-13.83zM888.77,447.2h13.83v12.65h-13.83zM955.4,447.2h13.83v12.65h-13.83zM875.45,459.35h13.83v12.65h-13.83zM955.4,471.5h13.83v12.65h-13.83zM915.42,483.65h13.83v12.65h-13.83z" fill="#0000b3"/>
<path d="M902.1,131.3h13.83v12.65h-13.83z" fill="#ffaf00"/>
<path d="M915.42,422.9h13.83v12.65h-13.83zM888.77,435.05h13.83v12.65h-13.83z" fill="#0000ca"/>
</g>
<line x1="852.8" y1="87.8" x2="1319.2" y2="87.8" stroke="#fff" stroke-width="3.3" stroke-dasharray="12.9 12.86"/>
<line x1="852.8" y1="292.9" x2="1319.2" y2="292.9" stroke="#fff" stroke-width="3.3" stroke-dasharray="12.9 12.86"/>
<line x1="852.8" y1="417.3" x2="1319.2" y2="417.3" stroke="#fff" stroke-width="3.3" stroke-dasharray="12.9 12.86"/>
<rect x="848.8" y="58.4" width="479.7" height="437.4" fill="none" stroke="#000" stroke-width="1.3"/>
<line x1="852.1" y1="495.8" x2="852.1" y2="490.8" stroke="#000" stroke-width="1.3"/>
<line x1="852.1" y1="58.4" x2="852.1" y2="63.4" stroke="#000" stroke-width="1.3"/>
<line x1="906" y1="495.8" x2="906" y2="490.8" stroke="#000" stroke-width="1.3"/>
<line x1="906" y1="58.4" x2="906" y2="63.4" stroke="#000" stroke-width="1.3"/>
<line x1="959.9" y1="495.8" x2="959.9" y2="490.8" stroke="#000" stroke-width="1.3"/>
<line x1="959.9" y1="58.4" x2="959.9" y2="63.4" stroke="#000" stroke-width="1.3"/>
<line x1="1013.8" y1="495.8" x2="1013.8" y2="490.8" stroke="#000" stroke-width="1.3"/>
<line x1="1013.8" y1="58.4" x2="1013.8" y2="63.4" stroke="#000" stroke-width="1.3"/>
<line x1="1067.7" y1="495.8" x2="1067.7" y2="490.8" stroke="#000" stroke-width="1.3"/>
<line x1="1067.7" y1="58.4" x2="1067.7" y2="63.4" stroke="#000" stroke-width="1.3"/>
<line x1="1121.6" y1="495.8" x2="1121.6" y2="490.8" stroke="#000" stroke-width="1.3"/>
<line x1="1121.6" y1="58.4" x2="1121.6" y2="63.4" stroke="#000" stroke-width="1.3"/>
<line x1="1175.5" y1="495.8" x2="1175.5" y2="490.8" stroke="#000" stroke-width="1.3"/>
<line x1="1175.5" y1="58.4" x2="1175.5" y2="63.4" stroke="#000" stroke-width="1.3"/>
<line x1="1229.4" y1="495.8" x2="1229.4" y2="490.8" stroke="#000" stroke-width="1.3"/>
<line x1="1229.4" y1="58.4" x2="1229.4" y2="63.4" stroke="#000" stroke-width="1.3"/>
<line x1="1283.3" y1="495.8" x2="1283.3" y2="490.8" stroke="#000" stroke-width="1.3"/>
<line x1="1283.3" y1="58.4" x2="1283.3" y2="63.4" stroke="#000" stroke-width="1.3"/>
<line x1="848.8" y1="60.5" x2="853.8" y2="60.5" stroke="#000" stroke-width="1.3"/>
<line x1="1328.5" y1="60.5" x2="1323.5" y2="60.5" stroke="#000" stroke-width="1.3"/>
<line x1="848.8" y1="110.03" x2="853.8" y2="110.03" stroke="#000" stroke-width="1.3"/>
<line x1="1328.5" y1="110.03" x2="1323.5" y2="110.03" stroke="#000" stroke-width="1.3"/>
<line x1="848.8" y1="159.55" x2="853.8" y2="159.55" stroke="#000" stroke-width="1.3"/>
<line x1="1328.5" y1="159.55" x2="1323.5" y2="159.55" stroke="#000" stroke-width="1.3"/>
<line x1="848.8" y1="209.07" x2="853.8" y2="209.07" stroke="#000" stroke-width="1.3"/>
<line x1="1328.5" y1="209.07" x2="1323.5" y2="209.07" stroke="#000" stroke-width="1.3"/>
<line x1="848.8" y1="258.6" x2="853.8" y2="258.6" stroke="#000" stroke-width="1.3"/>
<line x1="1328.5" y1="258.6" x2="1323.5" y2="258.6" stroke="#000" stroke-width="1.3"/>
<line x1="848.8" y1="308.12" x2="853.8" y2="308.12" stroke="#000" stroke-width="1.3"/>
<line x1="1328.5" y1="308.12" x2="1323.5" y2="308.12" stroke="#000" stroke-width="1.3"/>
<line x1="848.8" y1="357.65" x2="853.8" y2="357.65" stroke="#000" stroke-width="1.3"/>
<line x1="1328.5" y1="357.65" x2="1323.5" y2="357.65" stroke="#000" stroke-width="1.3"/>
<line x1="848.8" y1="407.17" x2="853.8" y2="407.17" stroke="#000" stroke-width="1.3"/>
<line x1="1328.5" y1="407.17" x2="1323.5" y2="407.17" stroke="#000" stroke-width="1.3"/>
<line x1="848.8" y1="456.7" x2="853.8" y2="456.7" stroke="#000" stroke-width="1.3"/>
<line x1="1328.5" y1="456.7" x2="1323.5" y2="456.7" stroke="#000" stroke-width="1.3"/>
<defs><linearGradient id="gd" x1="0" y1="1" x2="0" y2="0">
<stop offset="0.0000" stop-color="#0000ff"/>
<stop offset="0.0167" stop-color="#0000f3"/>
<stop offset="0.0333" stop-color="#0000e8"/>
<stop offset="0.0500" stop-color="#0000dc"/>
<stop offset="0.0667" stop-color="#0000d0"/>
<stop offset="0.0833" stop-color="#0000c4"/>
<stop offset="0.1000" stop-color="#0000b9"/>
<stop offset="0.1167" stop-color="#0000ad"/>
<stop offset="0.1333" stop-color="#0000a1"/>
<stop offset="0.1500" stop-color="#000095"/>
<stop offset="0.1667" stop-color="#00008a"/>
<stop offset="0.1833" stop-color="#00007e"/>
<stop offset="0.2000" stop-color="#000072"/>
<stop offset="0.2167" stop-color="#000066"/>
<stop offset="0.2333" stop-color="#00005b"/>
<stop offset="0.2500" stop-color="#00004f"/>
<stop offset="0.2667" stop-color="#000043"/>
<stop offset="0.2833" stop-color="#000037"/>
<stop offset="0.3000" stop-color="#00002c"/>
<stop offset="0.3167" stop-color="#000020"/>
<stop offset="0.3333" stop-color="#000014"/>
<stop offset="0.3500" stop-color="#000008"/>
<stop offset="0.3667" stop-color="#050000"/>
<stop offset="0.3833" stop-color="#170000"/>
<stop offset="0.4000" stop-color="#2a0000"/>
<stop offset="0.4167" stop-color="#3c0000"/>
<stop offset="0.4333" stop-color="#4e0000"/>
<stop offset="0.4500" stop-color="#600000"/>
<stop offset="0.4667" stop-color="#720000"/>
<stop offset="0.4833" stop-color="#850000"/>
<stop offset="0.5000" stop-color="#970000"/>
<stop offset="0.5167" stop-color="#a90000"/>
<stop offset="0.5333" stop-color="#bb0000"/>
<stop offset="0.5500" stop-color="#cd0000"/>
<stop offset="0.5667" stop-color="#e00000"/>
<stop offset="0.5833" stop-color="#f20000"/>
<stop offset="0.6000" stop-color="#ff0000"/>
<stop offset="0.6167" stop-color="#ff1000"/>
<stop offset="0.6333" stop-color="#ff2100"/>
<stop offset="0.6500" stop-color="#ff3300"/>
<stop offset="0.6667" stop-color="#ff4500"/>
<stop offset="0.6833" stop-color="#ff5600"/>
<stop offset="0.7000" stop-color="#ff6800"/>
<stop offset="0.7167" stop-color="#ff7a00"/>
<stop offset="0.7333" stop-color="#ff8b00"/>
<stop offset="0.7500" stop-color="#ff9d00"/>
<stop offset="0.7667" stop-color="#ffaf00"/>
<stop offset="0.7833" stop-color="#ffc100"/>
<stop offset="0.8000" stop-color="#ffd200"/>
<stop offset="0.8167" stop-color="#ffe400"/>
<stop offset="0.8333" stop-color="#fff600"/>
<stop offset="0.8500" stop-color="#ffff0d"/>
<stop offset="0.8667" stop-color="#ffff28"/>
<stop offset="0.8833" stop-color="#ffff43"/>
<stop offset="0.9000" stop-color="#ffff5e"/>
<stop offset="0.9167" stop-color="#ffff78"/>
<stop offset="0.9333" stop-color="#ffff93"/>
<stop offset="0.9500" stop-color="#ffffae"/>
<stop offset="0.9667" stop-color="#ffffc9"/>
<stop offset="0.9833" stop-color="#ffffe4"/>
<stop offset="1.0000" stop-color="#ffffff"/>
</linearGradient></defs>
<rect x="1346.8" y="58.4" width="35" height="438.4" fill="url(#gd)" stroke="#555" stroke-width="1"/>
<line x1="1346.8" y1="67.3" x2="1350.8" y2="67.3" stroke="#000" stroke-width="1.2"/>
<line x1="1381.8" y1="67.3" x2="1377.8" y2="67.3" stroke="#000" stroke-width="1.2"/>
<line x1="1346.8" y1="139.4" x2="1350.8" y2="139.4" stroke="#000" stroke-width="1.2"/>
<line x1="1381.8" y1="139.4" x2="1377.8" y2="139.4" stroke="#000" stroke-width="1.2"/>
<line x1="1346.8" y1="211.5" x2="1350.8" y2="211.5" stroke="#000" stroke-width="1.2"/>
<line x1="1381.8" y1="211.5" x2="1377.8" y2="211.5" stroke="#000" stroke-width="1.2"/>
<line x1="1346.8" y1="283.6" x2="1350.8" y2="283.6" stroke="#000" stroke-width="1.2"/>
<line x1="1381.8" y1="283.6" x2="1377.8" y2="283.6" stroke="#000" stroke-width="1.2"/>
<line x1="1346.8" y1="355.7" x2="1350.8" y2="355.7" stroke="#000" stroke-width="1.2"/>
<line x1="1381.8" y1="355.7" x2="1377.8" y2="355.7" stroke="#000" stroke-width="1.2"/>
<line x1="1346.8" y1="427.8" x2="1350.8" y2="427.8" stroke="#000" stroke-width="1.2"/>
<line x1="1381.8" y1="427.8" x2="1377.8" y2="427.8" stroke="#000" stroke-width="1.2"/>
<line x1="114.9" y1="176.1" x2="517.2" y2="145.1" stroke="#bdbdbd" stroke-width="1.2"/>
<line x1="114.9" y1="242.3" x2="517.3" y2="211.3" stroke="#bdbdbd" stroke-width="1.2"/>
<line x1="115" y1="308.5" x2="517.3" y2="277.6" stroke="#bdbdbd" stroke-width="1.2"/>
<line x1="181.9" y1="104.7" x2="182.1" y2="316.5" stroke="#bdbdbd" stroke-width="1.2"/>
<line x1="248.9" y1="99.5" x2="249.1" y2="311.4" stroke="#bdbdbd" stroke-width="1.2"/>
<line x1="316" y1="94.3" x2="316.1" y2="306.2" stroke="#bdbdbd" stroke-width="1.2"/>
<line x1="383.1" y1="89.2" x2="383.2" y2="301.1" stroke="#bdbdbd" stroke-width="1.2"/>
<line x1="450.1" y1="84" x2="450.2" y2="295.9" stroke="#bdbdbd" stroke-width="1.2"/>
<line x1="517.2" y1="78.8" x2="517.3" y2="290.8" stroke="#bdbdbd" stroke-width="1.2"/>
<line x1="115" y1="321.7" x2="517.3" y2="290.8" stroke="#bdbdbd" stroke-width="1.2"/>
<line x1="528.2" y1="120.1" x2="528.2" y2="332.7" stroke="#bdbdbd" stroke-width="1.2"/>
<line x1="539.1" y1="161.5" x2="539.1" y2="374.6" stroke="#bdbdbd" stroke-width="1.2"/>
<line x1="550" y1="202.8" x2="550.1" y2="416.5" stroke="#bdbdbd" stroke-width="1.2"/>
<line x1="517.2" y1="145.1" x2="561" y2="311.1" stroke="#bdbdbd" stroke-width="1.2"/>
<line x1="517.3" y1="211.3" x2="561" y2="378.1" stroke="#bdbdbd" stroke-width="1.2"/>
<line x1="517.3" y1="277.6" x2="561" y2="445" stroke="#bdbdbd" stroke-width="1.2"/>
<line x1="517.3" y1="290.8" x2="561" y2="458.4" stroke="#bdbdbd" stroke-width="1.2"/>
<line x1="182.1" y1="316.5" x2="232.2" y2="501" stroke="#bdbdbd" stroke-width="1.2"/>
<line x1="249.1" y1="311.4" x2="298.7" y2="495.6" stroke="#bdbdbd" stroke-width="1.2"/>
<line x1="316.1" y1="306.2" x2="365.3" y2="490.2" stroke="#bdbdbd" stroke-width="1.2"/>
<line x1="383.2" y1="301.1" x2="431.9" y2="484.7" stroke="#bdbdbd" stroke-width="1.2"/>
<line x1="450.2" y1="295.9" x2="498.5" y2="479.3" stroke="#bdbdbd" stroke-width="1.2"/>
<line x1="517.3" y1="290.8" x2="565" y2="473.9" stroke="#bdbdbd" stroke-width="1.2"/>
<line x1="126.6" y1="364" x2="528.2" y2="332.7" stroke="#bdbdbd" stroke-width="1.2"/>
<line x1="138.2" y1="406.2" x2="539.1" y2="374.6" stroke="#bdbdbd" stroke-width="1.2"/>
<line x1="149.7" y1="448.5" x2="550.1" y2="416.5" stroke="#bdbdbd" stroke-width="1.2"/>
<g stroke-linejoin="round" stroke-width="0.6">
<path d="M118,119.5 120.7,124.8 123.4,131.5 124.9,141.7 122.2,132.4 119.5,124.9Z" fill="#870000" stroke="#870000"/>
<path d="M123.4,131.5 126.1,139.4 127.6,152.5 124.9,141.7Z" fill="#a70000" stroke="#a70000"/>
<path d="M126.1,139.4 128.8,148.1 130.2,164.4 127.6,152.5Z" fill="#c70000" stroke="#c70000"/>
<path d="M128.8,148.1 131.5,157.5 132.9,177.1 130.2,164.4Z" fill="#ff0800" stroke="#ff0800"/>
<path d="M131.5,157.5 134.2,167.2 135.6,189.9 132.9,177.1Z" fill="#ff2800" stroke="#ff2800"/>
<path d="M134.2,167.2 136.9,177.1 138.3,202.5 135.6,189.9Z" fill="#ff4800" stroke="#ff4800"/>
<path d="M136.9,177.1 139.6,186.7 141,213 138.3,202.5Z" fill="#ff8700" stroke="#ff8700"/>
<path d="M139.6,186.7 142.2,196 143.7,222.3 141,213Z" fill="#ff9700" stroke="#ff9700"/>
<path d="M142.2,196 144.9,203.6 146.4,228.2 143.7,222.3Z" fill="#ffc700" stroke="#ffc700"/>
<path d="M144.9,203.6 147.6,209.6 149.1,231.9 146.4,228.2Z" fill="#fff700" stroke="#fff700"/>
<path d="M147.6,209.6 150.3,214.2 151.8,233.8 149.1,231.9Z" fill="#e7ff18" stroke="#e7ff18"/>
<path d="M150.3,214.2 153,217.4 155.7,219.5 158.4,220.8 159.8,236 157.1,236 154.4,234.5 151.8,233.8ZM177.1,220.3 179.8,220.7 181.3,233.7 178.6,234ZM193.2,218.6 195.9,218 197.4,232 194.7,232ZM198.6,218.3 201.3,217.4 204,218.5 205.4,231.7 202.7,231.2 200,231.7ZM206.6,217.7 209.3,217.4 212,216.8 214.7,216.9 216.1,230.7 213.4,231.2 210.8,231.6 208.1,231.4ZM222.7,217 225.4,216.3 226.9,230.8 224.2,230.1ZM238.8,216.4 241.5,216.3 242.9,229.3 240.3,229.7ZM268.3,217.3 271,217.6 272.4,230.7 269.8,230Z" fill="#a7ff58" stroke="#a7ff58"/>
<path d="M158.4,220.8 161,220.9 162.5,235.5 159.8,236ZM190.5,218.3 193.2,218.6 194.7,232 192,232.6ZM195.9,218 198.6,218.3 200,231.7 197.4,232Z" fill="#b7ff48" stroke="#b7ff48"/>
<path d="M161,220.9 163.7,221.4 165.2,235.1 162.5,235.5ZM166.4,220.9 169.1,220 170.5,234.9 167.9,235.5ZM171.8,220.5 174.5,220.6 177.1,220.3 178.6,234 175.9,233.9 173.2,234.5ZM179.8,220.7 182.5,219.5 185.2,219.9 187.9,218.7 190.5,218.3 192,232.6 189.3,232.7 186.6,233.7 183.9,233.8 181.3,233.7ZM204,218.5 206.6,217.7 208.1,231.4 205.4,231.7ZM214.7,216.9 217.4,216.6 220.1,217.4 221.5,230.2 218.8,229.9 216.1,230.7ZM225.4,216.3 228.1,217.7 230.8,217.4 233.5,216.5 236.1,216.5 238.8,216.4 240.3,229.7 237.6,229.8 234.9,229.8 232.2,230.1 229.5,230.1 226.9,230.8ZM241.5,216.3 244.2,215.6 246.9,216.4 249.6,216.7 251,229 248.3,229.6 245.6,229.5 242.9,229.3ZM254.9,216.8 257.6,216.5 259,230.1 256.4,229.4ZM260.3,216.9 263,216.1 265.7,216.8 268.3,217.3 269.8,230 267.1,229.6 264.4,229.9 261.7,229.2ZM271,217.6 273.7,218.2 276.4,217.4 277.8,231 275.1,230 272.4,230.7Z" fill="#97ff68" stroke="#97ff68"/>
<path d="M163.7,221.4 166.4,220.9 167.9,235.5 165.2,235.1ZM169.1,220 171.8,220.5 173.2,234.5 170.5,234.9ZM220.1,217.4 222.7,217 224.2,230.1 221.5,230.2ZM249.6,216.7 252.2,216.9 254.9,216.8 256.4,229.4 253.7,229.8 251,229ZM257.6,216.5 260.3,216.9 261.7,229.2 259,230.1ZM279.1,218 281.8,218.1 284.4,219 285.9,231.3 283.2,230.4 280.5,230.9Z" fill="#87ff78" stroke="#87ff78"/>
<path d="M276.4,217.4 279.1,218 280.5,230.9 277.8,231ZM295.2,219.6 297.8,220.2 299.3,232.4 296.6,231.1ZM305.9,220.5 308.6,219.6 311.3,219.4 312.7,232.1 310,232.1 307.3,232.1ZM324.7,220.3 327.4,219.5 330,220.1 331.4,232.3 328.8,232.7 326.1,232.5ZM332.7,220.8 335.4,219.7 338.1,220.3 340.8,221 343.4,220.6 346.1,220.8 348.8,221.3 350.2,232.7 347.5,232.8 344.9,232.6 342.2,232.8 339.5,231.4 336.8,232.8 334.1,232.2ZM477.6,216.4 480.2,216 481.6,227.1 478.9,227.9Z" fill="#78ff87" stroke="#78ff87"/>
<path d="M284.4,219 287.1,218.2 289.8,219.1 292.5,219.5 295.2,219.6 296.6,231.1 293.9,232.2 291.2,231.7 288.5,231.3 285.9,231.3ZM316.6,219.4 319.3,219.8 322,219.7 323.4,232 320.7,232.4 318,232.6ZM330,220.1 332.7,220.8 334.1,232.2 331.4,232.3ZM351.5,220.6 354.2,221.4 356.9,220 359.5,220.9 360.9,233.1 358.3,233.3 355.6,232.8 352.9,233.5ZM378.3,222.2 381,221.6 382.4,233.1 379.7,232.4ZM394.4,221.4 397.1,222.5 398.5,233.1 395.8,233ZM499,212.2 501.7,212.2 503.1,223.2 500.4,223.7Z" fill="#68ff97" stroke="#68ff97"/>
<path d="M297.8,220.2 300.5,219.7 303.2,219.2 305.9,220.5 307.3,232.1 304.6,232 301.9,231.5 299.3,232.4ZM311.3,219.4 313.9,219.6 315.4,232 312.7,232.1ZM364.9,220.6 367.6,221.4 369,233.6 366.3,232.8ZM373,221.4 375.6,221.1 377,233.5 374.4,233.1ZM381,221.6 383.7,222 386.4,221 387.8,232.9 385.1,232.6 382.4,233.1ZM389.1,222.4 391.7,221.4 393.1,234 390.4,233.3ZM413.2,222.6 415.9,222.5 417.3,233.4 414.6,232.8ZM472.2,217.9 474.9,217.6 477.6,216.4 478.9,227.9 476.3,228.3 473.6,229.4ZM480.2,216 482.9,215.3 485.6,213.9 487,225.9 484.3,226.7 481.6,227.1ZM491,212.5 493.7,212.2 496.3,212.1 499,212.2 500.4,223.7 497.7,223.6 495,223.8 492.4,224.7Z" fill="#58ffa7" stroke="#58ffa7"/>
<path d="M313.9,219.6 316.6,219.4 318,232.6 315.4,232ZM322,219.7 324.7,220.3 326.1,232.5 323.4,232ZM348.8,221.3 351.5,220.6 352.9,233.5 350.2,232.7ZM359.5,220.9 362.2,221 363.6,232.6 360.9,233.1ZM367.6,221.4 370.3,222.2 373,221.4 374.4,233.1 371.7,232.8 369,233.6ZM375.6,221.1 378.3,222.2 379.7,232.4 377,233.5ZM386.4,221 389.1,222.4 390.4,233.3 387.8,232.9ZM391.7,221.4 394.4,221.4 395.8,233 393.1,234ZM397.1,222.5 399.8,223.1 401.2,233.3 398.5,233.1ZM402.5,222.3 405.1,222.6 407.8,222.2 409.2,233.9 406.5,232.9 403.9,234.1ZM410.5,222.2 413.2,222.6 414.6,232.8 411.9,234ZM415.9,222.5 418.6,222.8 419.9,233.7 417.3,233.4ZM434.7,222.7 437.3,223.6 438.7,233.8 436,233.7ZM448.1,223.2 450.7,223.3 452.1,233.6 449.4,233.1ZM458.8,221.2 461.5,219.9 462.9,231.4 460.2,232.4ZM464.2,219.5 466.8,219.4 468.2,230.4 465.5,231ZM469.5,218.9 472.2,217.9 473.6,229.4 470.9,229.5ZM485.6,213.9 488.3,213.9 491,212.5 492.4,224.7 489.7,224.8 487,225.9ZM507.1,211.8 509.8,211.9 511.1,222.8 508.4,223.4Z" fill="#48ffb7" stroke="#48ffb7"/>
<path d="M362.2,221 364.9,220.6 366.3,232.8 363.6,232.6ZM399.8,223.1 402.5,222.3 403.9,234.1 401.2,233.3ZM407.8,222.2 410.5,222.2 411.9,234 409.2,233.9ZM421.2,222.7 423.9,222.7 426.6,222.8 429.3,222.6 432,222.6 434.7,222.7 436,233.7 433.4,233.8 430.7,234.1 428,233.5 425.3,234 422.6,233.3ZM442.7,223.4 445.4,223.4 446.8,233.6 444.1,233.3ZM450.7,223.3 453.4,222.2 456.1,221.2 458.8,221.2 460.2,232.4 457.5,232.7 454.8,233.6 452.1,233.6ZM461.5,219.9 464.2,219.5 465.5,231 462.9,231.4ZM466.8,219.4 469.5,218.9 470.9,229.5 468.2,230.4ZM501.7,212.2 504.4,212.4 507.1,211.8 508.4,223.4 505.8,222.8 503.1,223.2Z" fill="#38ffc7" stroke="#38ffc7"/>
<path d="M418.6,222.8 421.2,222.7 422.6,233.3 419.9,233.7ZM437.3,223.6 440,223.3 442.7,223.4 444.1,233.3 441.4,233.1 438.7,233.8ZM445.4,223.4 448.1,223.2 449.4,233.1 446.8,233.6Z" fill="#28ffd7" stroke="#28ffd7"/>
<path d="M119.5,124.9 122.2,132.4 124.9,141.7 126.3,155.4 123.6,141.4 120.9,130.3Z" fill="#870000" stroke="#870000"/>
<path d="M124.9,141.7 127.6,152.5 129,171.3 126.3,155.4Z" fill="#b70000" stroke="#b70000"/>
<path d="M127.6,152.5 130.2,164.4 131.7,188.3 129,171.3Z" fill="#f70000" stroke="#f70000"/>
<path d="M130.2,164.4 132.9,177.1 134.4,205.5 131.7,188.3Z" fill="#ff3800" stroke="#ff3800"/>
<path d="M132.9,177.1 135.6,189.9 137.1,221 134.4,205.5Z" fill="#ff7800" stroke="#ff7800"/>
<path d="M135.6,189.9 138.3,202.5 139.8,233.4 137.1,221Z" fill="#ffa700" stroke="#ffa700"/>
<path d="M138.3,202.5 141,213 142.5,242.2 139.8,233.4Z" fill="#ffd700" stroke="#ffd700"/>
<path d="M141,213 143.7,222.3 145.2,246.5 142.5,242.2Z" fill="#f7ff08" stroke="#f7ff08"/>
<path d="M143.7,222.3 146.4,228.2 147.8,248.7 145.2,246.5Z" fill="#b7ff48" stroke="#b7ff48"/>
<path d="M146.4,228.2 149.1,231.9 150.5,250.8 147.8,248.7Z" fill="#a7ff58" stroke="#a7ff58"/>
<path d="M149.1,231.9 151.8,233.8 153.2,250.6 150.5,250.8ZM154.4,234.5 157.1,236 159.8,236 161.3,251 158.6,251.6 155.9,250.9ZM192,232.6 194.7,232 197.4,232 198.8,248 196.1,248.1 193.4,247.2ZM224.2,230.1 226.9,230.8 228.3,245.1 225.6,246.6ZM232.2,230.1 234.9,229.8 236.3,245.7 233.6,245.4ZM240.3,229.7 242.9,229.3 244.4,245.2 241.7,245.8Z" fill="#87ff78" stroke="#87ff78"/>
<path d="M151.8,233.8 154.4,234.5 155.9,250.9 153.2,250.6ZM159.8,236 162.5,235.5 163.9,250.8 161.3,251ZM178.6,234 181.3,233.7 182.7,248.6 180,249.6ZM186.6,233.7 189.3,232.7 192,232.6 193.4,247.2 190.7,248.4 188.1,248.6ZM200,231.7 202.7,231.2 205.4,231.7 208.1,231.4 209.5,247.2 206.8,246.7 204.2,246.9 201.5,247.1ZM210.8,231.6 213.4,231.2 216.1,230.7 218.8,229.9 220.2,246.4 217.6,246.3 214.9,246.6 212.2,246.9ZM229.5,230.1 232.2,230.1 233.6,245.4 231,245.9ZM237.6,229.8 240.3,229.7 241.7,245.8 239,245.4ZM248.3,229.6 251,229 252.4,245.2 249.7,244.8ZM256.4,229.4 259,230.1 260.5,244.6 257.8,244.9ZM261.7,229.2 264.4,229.9 267.1,229.6 269.8,230 272.4,230.7 275.1,230 277.8,231 279.2,245.2 276.5,246.3 273.9,245.3 271.2,245.2 268.5,245.6 265.8,246.2 263.1,245.4Z" fill="#78ff87" stroke="#78ff87"/>
<path d="M162.5,235.5 165.2,235.1 167.9,235.5 169.3,250.5 166.6,250.5 163.9,250.8ZM242.9,229.3 245.6,229.5 248.3,229.6 249.7,244.8 247.1,245.2 244.4,245.2ZM259,230.1 261.7,229.2 263.1,245.4 260.5,244.6ZM277.8,231 280.5,230.9 281.9,245.4 279.2,245.2ZM283.2,230.4 285.9,231.3 288.5,231.3 291.2,231.7 292.6,245.8 290,245.7 287.3,245.4 284.6,245.6ZM307.3,232.1 310,232.1 312.7,232.1 314.1,246.1 311.4,246.6 308.7,246.5ZM334.1,232.2 336.8,232.8 339.5,231.4 342.2,232.8 343.6,246.8 340.9,246.7 338.2,246.9 335.5,246.8ZM344.9,232.6 347.5,232.8 348.9,246.7 346.3,245.7ZM500.4,223.7 503.1,223.2 504.5,238 501.8,237.2Z" fill="#58ffa7" stroke="#58ffa7"/>
<path d="M167.9,235.5 170.5,234.9 172,250.4 169.3,250.5ZM291.2,231.7 293.9,232.2 296.6,231.1 298,246.1 295.3,246.2 292.6,245.8ZM304.6,232 307.3,232.1 308.7,246.5 306,246.3ZM326.1,232.5 328.8,232.7 331.4,232.3 334.1,232.2 335.5,246.8 332.9,246.2 330.2,246.6 327.5,246.9ZM342.2,232.8 344.9,232.6 346.3,245.7 343.6,246.8ZM347.5,232.8 350.2,232.7 351.6,246.6 348.9,246.7ZM352.9,233.5 355.6,232.8 358.3,233.3 360.9,233.1 362.4,246.8 359.7,247.3 357,247.2 354.3,245.7ZM379.7,232.4 382.4,233.1 383.8,246.3 381.1,246.2ZM395.8,233 398.5,233.1 399.9,246.5 397.2,246.2ZM478.9,227.9 481.6,227.1 483,240.1 480.3,241.2ZM492.4,224.7 495,223.8 496.4,237.6 493.7,237.4Z" fill="#48ffb7" stroke="#48ffb7"/>
<path d="M170.5,234.9 173.2,234.5 175.9,233.9 178.6,234 180,249.6 177.3,249.8 174.7,249.5 172,250.4ZM181.3,233.7 183.9,233.8 186.6,233.7 188.1,248.6 185.4,248.5 182.7,248.6ZM208.1,231.4 210.8,231.6 212.2,246.9 209.5,247.2ZM218.8,229.9 221.5,230.2 224.2,230.1 225.6,246.6 222.9,245.8 220.2,246.4ZM226.9,230.8 229.5,230.1 231,245.9 228.3,245.1ZM234.9,229.8 237.6,229.8 239,245.4 236.3,245.7ZM251,229 253.7,229.8 256.4,229.4 257.8,244.9 255.1,244.9 252.4,245.2ZM280.5,230.9 283.2,230.4 284.6,245.6 281.9,245.4ZM296.6,231.1 299.3,232.4 300.7,246.8 298,246.1Z" fill="#68ff97" stroke="#68ff97"/>
<path d="M197.4,232 200,231.7 201.5,247.1 198.8,248Z" fill="#97ff68" stroke="#97ff68"/>
<path d="M299.3,232.4 301.9,231.5 303.4,246.4 300.7,246.8ZM312.7,232.1 315.4,232 316.8,246.6 314.1,246.1ZM318,232.6 320.7,232.4 323.4,232 326.1,232.5 327.5,246.9 324.8,246.3 322.1,246.3 319.4,246.6ZM350.2,232.7 352.9,233.5 354.3,245.7 351.6,246.6ZM366.3,232.8 369,233.6 370.4,246.1 367.7,247.1ZM374.4,233.1 377,233.5 378.4,247.5 375.8,246.4ZM382.4,233.1 385.1,232.6 387.8,232.9 390.4,233.3 393.1,234 394.5,246.3 391.8,246.7 389.2,245.6 386.5,246.5 383.8,246.3ZM414.6,232.8 417.3,233.4 418.7,246.7 416,246.3ZM476.3,228.3 478.9,227.9 480.3,241.2 477.6,240.9ZM481.6,227.1 484.3,226.7 487,225.9 489.7,224.8 491,238.1 488.4,238.8 485.7,240.7 483,240.1ZM497.7,223.6 500.4,223.7 501.8,237.2 499.1,237.2Z" fill="#38ffc7" stroke="#38ffc7"/>
<path d="M301.9,231.5 304.6,232 306,246.3 303.4,246.4ZM315.4,232 318,232.6 319.4,246.6 316.8,246.6ZM360.9,233.1 363.6,232.6 366.3,232.8 367.7,247.1 365,246.1 362.4,246.8ZM371.7,232.8 374.4,233.1 375.8,246.4 373.1,246.9ZM377,233.5 379.7,232.4 381.1,246.2 378.4,247.5ZM393.1,234 395.8,233 397.2,246.2 394.5,246.3ZM401.2,233.3 403.9,234.1 406.5,232.9 409.2,233.9 410.6,246.5 407.9,246.5 405.3,247.3 402.6,246.6ZM417.3,233.4 419.9,233.7 421.3,246 418.7,246.7ZM430.7,234.1 433.4,233.8 434.7,246.9 432.1,246.7ZM436,233.7 438.7,233.8 440.1,246.8 437.4,247ZM449.4,233.1 452.1,233.6 453.5,246.4 450.8,246.6ZM460.2,232.4 462.9,231.4 464.2,244.4 461.6,244.9ZM465.5,231 468.2,230.4 470.9,229.5 473.6,229.4 476.3,228.3 477.6,240.9 475,242 472.3,243.1 469.6,243.4 466.9,243.8ZM489.7,224.8 492.4,224.7 493.7,237.4 491,238.1ZM495,223.8 497.7,223.6 499.1,237.2 496.4,237.6ZM503.1,223.2 505.8,222.8 507.1,236.8 504.5,238Z" fill="#28ffd7" stroke="#28ffd7"/>
<path d="M369,233.6 371.7,232.8 373.1,246.9 370.4,246.1ZM398.5,233.1 401.2,233.3 402.6,246.6 399.9,246.5ZM409.2,233.9 411.9,234 414.6,232.8 416,246.3 413.3,247 410.6,246.5ZM419.9,233.7 422.6,233.3 425.3,234 428,233.5 429.4,246.9 426.7,246.4 424,246.5 421.3,246ZM433.4,233.8 436,233.7 437.4,247 434.7,246.9ZM441.4,233.1 444.1,233.3 446.8,233.6 449.4,233.1 450.8,246.6 448.1,246.3 445.5,246.7 442.8,245.9ZM452.1,233.6 454.8,233.6 457.5,232.7 460.2,232.4 461.6,244.9 458.9,244.9 456.2,245.5 453.5,246.4ZM462.9,231.4 465.5,231 466.9,243.8 464.2,244.4ZM505.8,222.8 508.4,223.4 511.1,222.8 512.5,236.4 509.8,237.1 507.1,236.8Z" fill="#18ffe7" stroke="#18ffe7"/>
<path d="M428,233.5 430.7,234.1 432.1,246.7 429.4,246.9ZM438.7,233.8 441.4,233.1 442.8,245.9 440.1,246.8Z" fill="#08fff7" stroke="#08fff7"/>
<path d="M120.9,130.3 123.6,141.4 126.3,155.4 127.8,170.1 125.1,151.2 122.4,135.8Z" fill="#870000" stroke="#870000"/>
<path d="M126.3,155.4 129,171.3 130.5,191.2 127.8,170.1Z" fill="#e70000" stroke="#e70000"/>
<path d="M129,171.3 131.7,188.3 133.2,212.8 130.5,191.2Z" fill="#ff3800" stroke="#ff3800"/>
<path d="M131.7,188.3 134.4,205.5 135.9,231.7 133.2,212.8Z" fill="#ff8700" stroke="#ff8700"/>
<path d="M134.4,205.5 137.1,221 138.6,247.4 135.9,231.7Z" fill="#ffd700" stroke="#ffd700"/>
<path d="M137.1,221 139.8,233.4 141.2,253.6 138.6,247.4Z" fill="#e7ff18" stroke="#e7ff18"/>
<path d="M139.8,233.4 142.5,242.2 143.9,261.5 141.2,253.6Z" fill="#a7ff58" stroke="#a7ff58"/>
<path d="M142.5,242.2 145.2,246.5 146.6,263.7 143.9,261.5Z" fill="#87ff78" stroke="#87ff78"/>
<path d="M145.2,246.5 147.8,248.7 149.3,264.3 146.6,263.7Z" fill="#78ff87" stroke="#78ff87"/>
<path d="M147.8,248.7 150.5,250.8 153.2,250.6 154.7,268.5 152,268.3 149.3,264.3ZM161.3,251 163.9,250.8 165.4,270.4 162.7,271.1ZM180,249.6 182.7,248.6 184.2,266.2 181.5,267.9ZM196.1,248.1 198.8,248 201.5,247.1 202.9,264.1 200.2,265.9 197.6,264.1ZM214.9,246.6 217.6,246.3 219,262.8 216.3,265.8ZM228.3,245.1 231,245.9 232.4,262.4 229.7,262ZM241.7,245.8 244.4,245.2 245.8,263.7 243.1,263.2ZM268.5,245.6 271.2,245.2 273.9,245.3 275.3,264.5 272.6,263.4 269.9,263.9Z" fill="#58ffa7" stroke="#58ffa7"/>
<path d="M153.2,250.6 155.9,250.9 158.6,251.6 161.3,251 162.7,271.1 160,268.2 157.3,268.3 154.7,268.5ZM174.7,249.5 177.3,249.8 178.8,267.3 176.1,271ZM182.7,248.6 185.4,248.5 188.1,248.6 190.7,248.4 193.4,247.2 194.9,267.5 192.2,267.4 189.5,266.7 186.8,266.2 184.2,266.2ZM201.5,247.1 204.2,246.9 205.6,263.9 202.9,264.1ZM212.2,246.9 214.9,246.6 216.3,265.8 213.6,266.2ZM217.6,246.3 220.2,246.4 222.9,245.8 224.4,262.9 221.7,264.6 219,262.8ZM225.6,246.6 228.3,245.1 229.7,262 227,265.1ZM233.6,245.4 236.3,245.7 237.8,263.2 235.1,263.2ZM263.1,245.4 265.8,246.2 267.3,264.2 264.6,263Z" fill="#48ffb7" stroke="#48ffb7"/>
<path d="M163.9,250.8 166.6,250.5 168.1,268.7 165.4,270.4ZM177.3,249.8 180,249.6 181.5,267.9 178.8,267.3ZM204.2,246.9 206.8,246.7 209.5,247.2 212.2,246.9 213.6,266.2 211,263.3 208.3,266.2 205.6,263.9ZM222.9,245.8 225.6,246.6 227,265.1 224.4,262.9ZM231,245.9 233.6,245.4 235.1,263.2 232.4,262.4ZM236.3,245.7 239,245.4 241.7,245.8 243.1,263.2 240.4,265.5 237.8,263.2ZM249.7,244.8 252.4,245.2 253.8,260.3 251.2,262.6ZM255.1,244.9 257.8,244.9 260.5,244.6 263.1,245.4 264.6,263 261.9,262.9 259.2,263 256.5,262.9ZM265.8,246.2 268.5,245.6 269.9,263.9 267.3,264.2ZM273.9,245.3 276.5,246.3 279.2,245.2 280.7,263.4 278,262.8 275.3,264.5ZM298,246.1 300.7,246.8 302.1,264.9 299.4,263.3ZM308.7,246.5 311.4,246.6 314.1,246.1 315.5,264.5 312.8,265.5 310.1,264.4ZM340.9,246.7 343.6,246.8 346.3,245.7 347.7,260.7 345,262 342.3,264.8Z" fill="#38ffc7" stroke="#38ffc7"/>
<path d="M166.6,250.5 169.3,250.5 172,250.4 174.7,249.5 176.1,271 173.4,269.4 170.7,267.8 168.1,268.7ZM244.4,245.2 247.1,245.2 249.7,244.8 251.2,262.6 248.5,260.5 245.8,263.7ZM252.4,245.2 255.1,244.9 256.5,262.9 253.8,260.3ZM279.2,245.2 281.9,245.4 284.6,245.6 287.3,245.4 290,245.7 291.4,263.5 288.7,263.4 286,263.1 283.3,262.4 280.7,263.4ZM306,246.3 308.7,246.5 310.1,264.4 307.5,266ZM330.2,246.6 332.9,246.2 335.5,246.8 338.2,246.9 340.9,246.7 342.3,264.8 339.6,261.6 336.9,263.9 334.3,263.9 331.6,262.9ZM346.3,245.7 348.9,246.7 350.3,260.4 347.7,260.7ZM357,247.2 359.7,247.3 362.4,246.8 363.8,263.7 361.1,264.6 358.4,261.6Z" fill="#28ffd7" stroke="#28ffd7"/>
<path d="M193.4,247.2 196.1,248.1 197.6,264.1 194.9,267.5Z" fill="#68ff97" stroke="#68ff97"/>
<path d="M290,245.7 292.6,245.8 295.3,246.2 298,246.1 299.4,263.3 296.7,262.6 294.1,263.5 291.4,263.5ZM322.1,246.3 324.8,246.3 326.2,261 323.5,263.2ZM327.5,246.9 330.2,246.6 331.6,262.9 328.9,263.7ZM348.9,246.7 351.6,246.6 353,262.4 350.3,260.4ZM354.3,245.7 357,247.2 358.4,261.6 355.7,262.8ZM375.8,246.4 378.4,247.5 379.8,263.5 377.2,263.2ZM381.1,246.2 383.8,246.3 386.5,246.5 387.9,261.3 385.2,261.6 382.5,261.2ZM389.2,245.6 391.8,246.7 393.2,263.8 390.6,264.7ZM397.2,246.2 399.9,246.5 401.3,262.2 398.6,262.2ZM416,246.3 418.7,246.7 420,262.5 417.4,263.8ZM485.7,240.7 488.4,238.8 489.7,255.3 487.1,255.6ZM501.8,237.2 504.5,238 505.8,251 503.1,252.5Z" fill="#18ffe7" stroke="#18ffe7"/>
<path d="M300.7,246.8 303.4,246.4 306,246.3 307.5,266 304.8,265.4 302.1,264.9ZM314.1,246.1 316.8,246.6 318.2,263 315.5,264.5ZM319.4,246.6 322.1,246.3 323.5,263.2 320.9,260.8ZM324.8,246.3 327.5,246.9 328.9,263.7 326.2,261ZM351.6,246.6 354.3,245.7 355.7,262.8 353,262.4ZM362.4,246.8 365,246.1 367.7,247.1 370.4,246.1 371.8,263.4 369.1,262.8 366.4,262.4 363.8,263.7ZM373.1,246.9 375.8,246.4 377.2,263.2 374.5,261.8ZM391.8,246.7 394.5,246.3 397.2,246.2 398.6,262.2 395.9,263.5 393.2,263.8ZM405.3,247.3 407.9,246.5 410.6,246.5 412,264.8 409.3,260.9 406.6,262.2ZM413.3,247 416,246.3 417.4,263.8 414.7,261.8ZM418.7,246.7 421.3,246 422.7,262.5 420,262.5ZM437.4,247 440.1,246.8 441.5,261.7 438.8,263.2ZM461.6,244.9 464.2,244.4 465.6,258.7 462.9,261.2ZM475,242 477.6,240.9 480.3,241.2 483,240.1 485.7,240.7 487.1,255.6 484.4,257.4 481.7,256.9 479,257 476.3,257.2ZM488.4,238.8 491,238.1 493.7,237.4 496.4,237.6 499.1,237.2 501.8,237.2 503.1,252.5 500.5,251.1 497.8,251.9 495.1,254.6 492.4,255.5 489.7,255.3ZM509.8,237.1 512.5,236.4 513.9,252.1 511.2,252.4Z" fill="#08fff7" stroke="#08fff7"/>
<path d="M316.8,246.6 319.4,246.6 320.9,260.8 318.2,263ZM378.4,247.5 381.1,246.2 382.5,261.2 379.8,263.5ZM386.5,246.5 389.2,245.6 390.6,264.7 387.9,261.3ZM399.9,246.5 402.6,246.6 405.3,247.3 406.6,262.2 404,261.6 401.3,262.2ZM410.6,246.5 413.3,247 414.7,261.8 412,264.8ZM424,246.5 426.7,246.4 429.4,246.9 430.8,260.2 428.1,260.8 425.4,262.8ZM432.1,246.7 434.7,246.9 436.1,263 433.5,262.9ZM445.5,246.7 448.1,246.3 450.8,246.6 453.5,246.4 456.2,245.5 458.9,244.9 461.6,244.9 462.9,261.2 460.3,260.9 457.6,263.6 454.9,261.7 452.2,264 449.5,260.8 446.9,261.8ZM464.2,244.4 466.9,243.8 469.6,243.4 472.3,243.1 475,242 476.3,257.2 473.7,258.5 471,258.5 468.3,260.8 465.6,258.7ZM507.1,236.8 509.8,237.1 511.2,252.4 508.5,253.4Z" fill="#00f7ff" stroke="#00f7ff"/>
<path d="M370.4,246.1 373.1,246.9 374.5,261.8 371.8,263.4ZM421.3,246 424,246.5 425.4,262.8 422.7,262.5ZM429.4,246.9 432.1,246.7 433.5,262.9 430.8,260.2ZM434.7,246.9 437.4,247 438.8,263.2 436.1,263ZM440.1,246.8 442.8,245.9 445.5,246.7 446.9,261.8 444.2,261.9 441.5,261.7ZM504.5,238 507.1,236.8 508.5,253.4 505.8,251Z" fill="#00e7ff" stroke="#00e7ff"/>
<path d="M122.4,135.8 125.1,151.2 126.5,161 123.8,141.5Z" fill="#870000" stroke="#870000"/>
<path d="M125.1,151.2 127.8,170.1 129.2,184.5 126.5,161Z" fill="#a70000" stroke="#a70000"/>
<path d="M127.8,170.1 130.5,191.2 131.9,209.6 129.2,184.5Z" fill="#ff1800" stroke="#ff1800"/>
<path d="M130.5,191.2 133.2,212.8 134.6,232.4 131.9,209.6Z" fill="#ff7800" stroke="#ff7800"/>
<path d="M133.2,212.8 135.9,231.7 137.3,250.4 134.6,232.4Z" fill="#ffe700" stroke="#ffe700"/>
<path d="M135.9,231.7 138.6,247.4 140,260.6 137.3,250.4Z" fill="#b7ff48" stroke="#b7ff48"/>
<path d="M138.6,247.4 141.2,253.6 142.7,269.2 140,260.6Z" fill="#78ff87" stroke="#78ff87"/>
<path d="M141.2,253.6 143.9,261.5 146.6,263.7 148.1,276.9 145.4,273.5 142.7,269.2Z" fill="#58ffa7" stroke="#58ffa7"/>
<path d="M146.6,263.7 149.3,264.3 152,268.3 153.4,280.1 150.7,279 148.1,276.9ZM200.2,265.9 202.9,264.1 204.4,284.7 201.7,281.5Z" fill="#28ffd7" stroke="#28ffd7"/>
<path d="M152,268.3 154.7,268.5 156.1,283.3 153.4,280.1ZM157.3,268.3 160,268.2 162.7,271.1 164.2,284 161.5,283 158.8,284.1ZM189.5,266.7 192.2,267.4 193.6,281.6 191,281.7ZM194.9,267.5 197.6,264.1 200.2,265.9 201.7,281.5 199,284.4 196.3,284.8ZM202.9,264.1 205.6,263.9 207,281.3 204.4,284.7ZM232.4,262.4 235.1,263.2 236.5,280.8 233.8,279.8ZM243.1,263.2 245.8,263.7 247.2,279 244.6,281.3ZM269.9,263.9 272.6,263.4 274,279.1 271.4,276.8Z" fill="#18ffe7" stroke="#18ffe7"/>
<path d="M154.7,268.5 157.3,268.3 158.8,284.1 156.1,283.3ZM162.7,271.1 165.4,270.4 166.8,285.3 164.2,284ZM178.8,267.3 181.5,267.9 184.2,266.2 186.8,266.2 189.5,266.7 191,281.7 188.3,282.2 185.6,282.1 182.9,287.5 180.2,283.9ZM192.2,267.4 194.9,267.5 196.3,284.8 193.6,281.6ZM205.6,263.9 208.3,266.2 209.7,283.4 207,281.3ZM211,263.3 213.6,266.2 216.3,265.8 219,262.8 221.7,264.6 223.1,282.7 220.4,279.6 217.8,281.4 215.1,281.6 212.4,278.7ZM224.4,262.9 227,265.1 229.7,262 232.4,262.4 233.8,279.8 231.2,278.9 228.5,280.2 225.8,281.3ZM235.1,263.2 237.8,263.2 239.2,278.4 236.5,280.8ZM248.5,260.5 251.2,262.6 253.8,260.3 255.3,280.1 252.6,278.1 249.9,280.5ZM256.5,262.9 259.2,263 260.6,278.3 258,279.6ZM264.6,263 267.3,264.2 269.9,263.9 271.4,276.8 268.7,279.7 266,279.6ZM272.6,263.4 275.3,264.5 278,262.8 280.7,263.4 282.1,279.5 279.4,280.6 276.7,279.4 274,279.1ZM283.3,262.4 286,263.1 287.4,276.5 284.8,276.5ZM345,262 347.7,260.7 349.1,275.2 346.4,280.3Z" fill="#08fff7" stroke="#08fff7"/>
<path d="M165.4,270.4 168.1,268.7 170.7,267.8 172.2,285.5 169.5,285.9 166.8,285.3ZM245.8,263.7 248.5,260.5 249.9,280.5 247.2,279ZM261.9,262.9 264.6,263 266,279.6 263.3,278.3ZM280.7,263.4 283.3,262.4 284.8,276.5 282.1,279.5ZM286,263.1 288.7,263.4 291.4,263.5 294.1,263.5 295.5,279 292.8,277.2 290.1,276.9 287.4,276.5ZM312.8,265.5 315.5,264.5 316.9,280.3 314.2,277.2ZM320.9,260.8 323.5,263.2 325,277.6 322.3,277.8ZM328.9,263.7 331.6,262.9 333,279.1 330.3,280.7ZM334.3,263.9 336.9,263.9 338.4,278.4 335.7,278ZM339.6,261.6 342.3,264.8 343.7,279.4 341,278.6ZM347.7,260.7 350.3,260.4 351.8,279.3 349.1,275.2ZM355.7,262.8 358.4,261.6 359.8,276.9 357.1,278.5ZM382.5,261.2 385.2,261.6 387.9,261.3 389.3,276.4 386.6,279.1 383.9,277.9ZM398.6,262.2 401.3,262.2 402.7,280.2 400,277.7ZM481.7,256.9 484.4,257.4 487.1,255.6 488.4,271.6 485.8,270.1 483.1,274.9ZM497.8,251.9 500.5,251.1 503.1,252.5 504.5,268.3 501.8,266.4 499.2,266.5Z" fill="#00e7ff" stroke="#00e7ff"/>
<path d="M170.7,267.8 173.4,269.4 176.1,271 178.8,267.3 180.2,283.9 177.6,283.5 174.9,285.8 172.2,285.5ZM208.3,266.2 211,263.3 212.4,278.7 209.7,283.4ZM221.7,264.6 224.4,262.9 225.8,281.3 223.1,282.7ZM237.8,263.2 240.4,265.5 243.1,263.2 244.6,281.3 241.9,279.1 239.2,278.4ZM253.8,260.3 256.5,262.9 258,279.6 255.3,280.1ZM259.2,263 261.9,262.9 263.3,278.3 260.6,278.3ZM299.4,263.3 302.1,264.9 303.5,278.2 300.8,279.3ZM310.1,264.4 312.8,265.5 314.2,277.2 311.6,276.7ZM331.6,262.9 334.3,263.9 335.7,278 333,279.1ZM342.3,264.8 345,262 346.4,280.3 343.7,279.4ZM350.3,260.4 353,262.4 354.4,278.9 351.8,279.3ZM358.4,261.6 361.1,264.6 362.5,278.6 359.8,276.9ZM503.1,252.5 505.8,251 507.2,268.4 504.5,268.3Z" fill="#00f7ff" stroke="#00f7ff"/>
<path d="M294.1,263.5 296.7,262.6 298.2,275.5 295.5,279ZM304.8,265.4 307.5,266 310.1,264.4 311.6,276.7 308.9,279.1 306.2,278.5ZM318.2,263 320.9,260.8 322.3,277.8 319.6,279.8ZM353,262.4 355.7,262.8 357.1,278.5 354.4,278.9ZM366.4,262.4 369.1,262.8 370.5,279 367.8,278.5ZM379.8,263.5 382.5,261.2 383.9,277.9 381.2,278.3ZM390.6,264.7 393.2,263.8 394.6,276.2 392,278.2ZM401.3,262.2 404,261.6 406.6,262.2 408,277.1 405.4,277.9 402.7,280.2ZM409.3,260.9 412,264.8 413.4,278 410.7,277.1ZM422.7,262.5 425.4,262.8 428.1,260.8 430.8,260.2 433.5,262.9 434.8,277.8 432.2,274.9 429.5,277.7 426.8,274.8 424.1,275.6ZM438.8,263.2 441.5,261.7 442.9,277.2 440.2,276.8ZM446.9,261.8 449.5,260.8 450.9,276 448.2,276.3ZM452.2,264 454.9,261.7 456.3,275.3 453.6,277.1ZM457.6,263.6 460.3,260.9 462.9,261.2 464.3,275.8 461.6,276.1 459,276.9ZM468.3,260.8 471,258.5 473.7,258.5 475,273 472.4,273.4 469.7,272.8ZM487.1,255.6 489.7,255.3 491.1,271 488.4,271.6ZM505.8,251 508.5,253.4 509.9,268 507.2,268.4ZM511.2,252.4 513.9,252.1 515.2,268 512.6,265.5Z" fill="#00c7ff" stroke="#00c7ff"/>
<path d="M296.7,262.6 299.4,263.3 300.8,279.3 298.2,275.5ZM302.1,264.9 304.8,265.4 306.2,278.5 303.5,278.2ZM315.5,264.5 318.2,263 319.6,279.8 316.9,280.3ZM323.5,263.2 326.2,261 328.9,263.7 330.3,280.7 327.6,280.4 325,277.6ZM336.9,263.9 339.6,261.6 341,278.6 338.4,278.4ZM361.1,264.6 363.8,263.7 365.2,275.5 362.5,278.6ZM369.1,262.8 371.8,263.4 373.2,278.7 370.5,279ZM374.5,261.8 377.2,263.2 379.8,263.5 381.2,278.3 378.6,277.4 375.9,276.8ZM387.9,261.3 390.6,264.7 392,278.2 389.3,276.4ZM393.2,263.8 395.9,263.5 398.6,262.2 400,277.7 397.3,276 394.6,276.2ZM406.6,262.2 409.3,260.9 410.7,277.1 408,277.1ZM414.7,261.8 417.4,263.8 420,262.5 422.7,262.5 424.1,275.6 421.4,275.4 418.8,275.2 416.1,274.4ZM433.5,262.9 436.1,263 437.5,277 434.8,277.8ZM449.5,260.8 452.2,264 453.6,277.1 450.9,276ZM454.9,261.7 457.6,263.6 459,276.9 456.3,275.3ZM465.6,258.7 468.3,260.8 469.7,272.8 467,276.8ZM473.7,258.5 476.3,257.2 479,257 481.7,256.9 483.1,274.9 480.4,271.4 477.7,271.9 475,273ZM489.7,255.3 492.4,255.5 495.1,254.6 497.8,251.9 499.2,266.5 496.5,267.2 493.8,269.7 491.1,271Z" fill="#00d7ff" stroke="#00d7ff"/>
<path d="M363.8,263.7 366.4,262.4 367.8,278.5 365.2,275.5ZM371.8,263.4 374.5,261.8 375.9,276.8 373.2,278.7ZM412,264.8 414.7,261.8 416.1,274.4 413.4,278ZM441.5,261.7 444.2,261.9 446.9,261.8 448.2,276.3 445.6,276.4 442.9,277.2ZM462.9,261.2 465.6,258.7 467,276.8 464.3,275.8ZM508.5,253.4 511.2,252.4 512.6,265.5 509.9,268Z" fill="#00b7ff" stroke="#00b7ff"/>
<path d="M436.1,263 438.8,263.2 440.2,276.8 437.5,277Z" fill="#00a7ff" stroke="#00a7ff"/>
<path d="M123.8,141.5 126.5,161 128,172.7 125.3,147.1Z" fill="#870000" stroke="#870000"/>
<path d="M126.5,161 129.2,184.5 130.7,202.2 128,172.7Z" fill="#c70000" stroke="#c70000"/>
<path d="M129.2,184.5 131.9,209.6 133.4,229.5 130.7,202.2Z" fill="#ff3800" stroke="#ff3800"/>
<path d="M131.9,209.6 134.6,232.4 136.1,249 133.4,229.5Z" fill="#ffc700" stroke="#ffc700"/>
<path d="M134.6,232.4 137.3,250.4 138.8,260.5 136.1,249Z" fill="#c7ff38" stroke="#c7ff38"/>
<path d="M137.3,250.4 140,260.6 141.5,269.2 138.8,260.5Z" fill="#87ff78" stroke="#87ff78"/>
<path d="M140,260.6 142.7,269.2 144.1,276.1 141.5,269.2Z" fill="#68ff97" stroke="#68ff97"/>
<path d="M142.7,269.2 145.4,273.5 146.8,280.5 144.1,276.1Z" fill="#28ffd7" stroke="#28ffd7"/>
<path d="M145.4,273.5 148.1,276.9 149.5,285.9 146.8,280.5Z" fill="#18ffe7" stroke="#18ffe7"/>
<path d="M148.1,276.9 150.7,279 152.2,289.9 149.5,285.9Z" fill="#08fff7" stroke="#08fff7"/>
<path d="M150.7,279 153.4,280.1 154.9,293.2 152.2,289.9Z" fill="#00f7ff" stroke="#00f7ff"/>
<path d="M153.4,280.1 156.1,283.3 157.6,292.5 154.9,293.2ZM161.5,283 164.2,284 166.8,285.3 168.3,295 165.6,298.3 162.9,296.9ZM191,281.7 193.6,281.6 195.1,295.6 192.4,298.5ZM196.3,284.8 199,284.4 200.4,297.1 197.8,294.7ZM201.7,281.5 204.4,284.7 205.8,292.6 203.1,294.2ZM212.4,278.7 215.1,281.6 217.8,281.4 219.2,294.5 216.5,295.5 213.8,293.1ZM228.5,280.2 231.2,278.9 232.6,294.2 229.9,295.1ZM271.4,276.8 274,279.1 276.7,279.4 278.1,291.6 275.5,292.4 272.8,291.2Z" fill="#00e7ff" stroke="#00e7ff"/>
<path d="M156.1,283.3 158.8,284.1 160.2,296.2 157.6,292.5ZM177.6,283.5 180.2,283.9 181.7,294.5 179,298ZM182.9,287.5 185.6,282.1 187,299.1 184.4,297.7ZM204.4,284.7 207,281.3 208.5,293.8 205.8,292.6ZM209.7,283.4 212.4,278.7 213.8,293.1 211.1,295.6ZM225.8,281.3 228.5,280.2 229.9,295.1 227.2,292.8ZM239.2,278.4 241.9,279.1 243.3,292.5 240.6,290.8ZM244.6,281.3 247.2,279 249.9,280.5 252.6,278.1 254,291.7 251.3,293.9 248.7,291.1 246,295ZM258,279.6 260.6,278.3 263.3,278.3 264.7,291.4 262.1,293 259.4,292.8ZM266,279.6 268.7,279.7 270.1,290 267.4,290.3ZM279.4,280.6 282.1,279.5 283.5,290.2 280.8,287.3ZM284.8,276.5 287.4,276.5 290.1,276.9 292.8,277.2 294.2,289.5 291.5,288.9 288.9,290.8 286.2,292.1ZM300.8,279.3 303.5,278.2 304.9,293.2 302.3,290.4ZM314.2,277.2 316.9,280.3 318.3,290.3 315.6,287.9ZM333,279.1 335.7,278 337.1,287.1 334.4,289.6ZM343.7,279.4 346.4,280.3 347.8,288.4 345.1,291.5ZM349.1,275.2 351.8,279.3 353.2,289.4 350.5,288.9ZM359.8,276.9 362.5,278.6 363.9,289.3 361.2,288.6ZM501.8,266.4 504.5,268.3 507.2,268.4 508.6,281 505.9,279.9 503.2,280.6Z" fill="#00c7ff" stroke="#00c7ff"/>
<path d="M158.8,284.1 161.5,283 162.9,296.9 160.2,296.2ZM180.2,283.9 182.9,287.5 184.4,297.7 181.7,294.5ZM185.6,282.1 188.3,282.2 191,281.7 192.4,298.5 189.7,297.9 187,299.1ZM193.6,281.6 196.3,284.8 197.8,294.7 195.1,295.6ZM199,284.4 201.7,281.5 203.1,294.2 200.4,297.1ZM207,281.3 209.7,283.4 211.1,295.6 208.5,293.8ZM217.8,281.4 220.4,279.6 223.1,282.7 224.5,293.2 221.9,296.2 219.2,294.5ZM231.2,278.9 233.8,279.8 236.5,280.8 239.2,278.4 240.6,290.8 237.9,292.6 235.3,293.2 232.6,294.2ZM241.9,279.1 244.6,281.3 246,295 243.3,292.5ZM252.6,278.1 255.3,280.1 256.7,291 254,291.7ZM268.7,279.7 271.4,276.8 272.8,291.2 270.1,290ZM276.7,279.4 279.4,280.6 280.8,287.3 278.1,291.6ZM311.6,276.7 314.2,277.2 315.6,287.9 313,291.5Z" fill="#00d7ff" stroke="#00d7ff"/>
<path d="M166.8,285.3 169.5,285.9 171,298.2 168.3,295ZM172.2,285.5 174.9,285.8 177.6,283.5 179,298 176.3,297.9 173.6,294ZM223.1,282.7 225.8,281.3 227.2,292.8 224.5,293.2ZM255.3,280.1 258,279.6 259.4,292.8 256.7,291ZM263.3,278.3 266,279.6 267.4,290.3 264.7,291.4ZM282.1,279.5 284.8,276.5 286.2,292.1 283.5,290.2ZM292.8,277.2 295.5,279 298.2,275.5 300.8,279.3 302.3,290.4 299.6,290.6 296.9,290.9 294.2,289.5ZM308.9,279.1 311.6,276.7 313,291.5 310.3,290.1ZM335.7,278 338.4,278.4 341,278.6 343.7,279.4 345.1,291.5 342.4,288.8 339.8,289.2 337.1,287.1ZM346.4,280.3 349.1,275.2 350.5,288.9 347.8,288.4ZM351.8,279.3 354.4,278.9 355.8,290.6 353.2,289.4ZM362.5,278.6 365.2,275.5 366.6,288.3 363.9,289.3ZM383.9,277.9 386.6,279.1 389.3,276.4 390.7,288.8 388,286.7 385.3,285.3ZM394.6,276.2 397.3,276 398.7,287.5 396,288.1ZM418.8,275.2 421.4,275.4 422.8,285.1 420.1,284.9ZM485.8,270.1 488.4,271.6 489.8,284.1 487.1,284.8ZM496.5,267.2 499.2,266.5 501.8,266.4 503.2,280.6 500.5,280.4 497.9,282.3Z" fill="#00b7ff" stroke="#00b7ff"/>
<path d="M169.5,285.9 172.2,285.5 173.6,294 171,298.2ZM303.5,278.2 306.2,278.5 308.9,279.1 310.3,290.1 307.6,293.7 304.9,293.2ZM316.9,280.3 319.6,279.8 321,292.2 318.3,290.3ZM322.3,277.8 325,277.6 327.6,280.4 330.3,280.7 333,279.1 334.4,289.6 331.7,289.6 329,285.8 326.4,290.6 323.7,290.6ZM354.4,278.9 357.1,278.5 359.8,276.9 361.2,288.6 358.5,287.7 355.8,290.6ZM365.2,275.5 367.8,278.5 369.2,288.4 366.6,288.3ZM375.9,276.8 378.6,277.4 381.2,278.3 382.6,286.9 380,286.1 377.3,287.4ZM389.3,276.4 392,278.2 394.6,276.2 396,288.1 393.4,286.9 390.7,288.8ZM397.3,276 400,277.7 402.7,280.2 404.1,285.9 401.4,287.9 398.7,287.5ZM408,277.1 410.7,277.1 413.4,278 414.8,286.8 412.1,286.9 409.4,286.9ZM416.1,274.4 418.8,275.2 420.1,284.9 417.5,288.8ZM421.4,275.4 424.1,275.6 425.5,288.3 422.8,285.1ZM450.9,276 453.6,277.1 455,288.1 452.3,288.8ZM464.3,275.8 467,276.8 468.4,288 465.7,287.1ZM472.4,273.4 475,273 477.7,271.9 480.4,271.4 483.1,274.9 485.8,270.1 487.1,284.8 484.5,285.1 481.8,285.1 479.1,287.8 476.4,286.8 473.7,288.3ZM488.4,271.6 491.1,271 492.5,282.9 489.8,284.1ZM512.6,265.5 515.2,268 516.6,280.8 513.9,278.1Z" fill="#00a7ff" stroke="#00a7ff"/>
<path d="M319.6,279.8 322.3,277.8 323.7,290.6 321,292.2ZM381.2,278.3 383.9,277.9 385.3,285.3 382.6,286.9ZM429.5,277.7 432.2,274.9 433.5,290.8 430.9,288.1ZM437.5,277 440.2,276.8 441.6,288.1 438.9,287.5ZM442.9,277.2 445.6,276.4 448.2,276.3 449.6,288.4 446.9,288.5 444.3,288.8ZM459,276.9 461.6,276.1 463,289 460.3,287.9ZM509.9,268 512.6,265.5 513.9,278.1 511.2,281.3Z" fill="#0087ff" stroke="#0087ff"/>
<path d="M367.8,278.5 370.5,279 373.2,278.7 375.9,276.8 377.3,287.4 374.6,285.1 371.9,288.4 369.2,288.4ZM402.7,280.2 405.4,277.9 408,277.1 409.4,286.9 406.7,287.7 404.1,285.9ZM413.4,278 416.1,274.4 417.5,288.8 414.8,286.8ZM424.1,275.6 426.8,274.8 429.5,277.7 430.9,288.1 428.2,289 425.5,288.3ZM432.2,274.9 434.8,277.8 437.5,277 438.9,287.5 436.2,285.3 433.5,290.8ZM440.2,276.8 442.9,277.2 444.3,288.8 441.6,288.1ZM448.2,276.3 450.9,276 452.3,288.8 449.6,288.4ZM453.6,277.1 456.3,275.3 459,276.9 460.3,287.9 457.7,288.3 455,288.1ZM461.6,276.1 464.3,275.8 465.7,287.1 463,289ZM467,276.8 469.7,272.8 472.4,273.4 473.7,288.3 471.1,286.9 468.4,288ZM491.1,271 493.8,269.7 496.5,267.2 497.9,282.3 495.2,281.3 492.5,282.9ZM507.2,268.4 509.9,268 511.2,281.3 508.6,281Z" fill="#0097ff" stroke="#0097ff"/>
<path d="M125.3,147.1 128,172.7 129.4,188.2 126.7,152.6Z" fill="#870000" stroke="#870000"/>
<path d="M128,172.7 130.7,202.2 132.1,223.1 129.4,188.2Z" fill="#e70000" stroke="#e70000"/>
<path d="M130.7,202.2 133.4,229.5 134.8,245.5 132.1,223.1Z" fill="#ff8700" stroke="#ff8700"/>
<path d="M133.4,229.5 136.1,249 137.5,257.1 134.8,245.5Z" fill="#fff700" stroke="#fff700"/>
<path d="M136.1,249 138.8,260.5 140.2,266.1 137.5,257.1Z" fill="#a7ff58" stroke="#a7ff58"/>
<path d="M138.8,260.5 141.5,269.2 142.9,274.7 140.2,266.1Z" fill="#68ff97" stroke="#68ff97"/>
<path d="M141.5,269.2 144.1,276.1 145.6,281.5 142.9,274.7Z" fill="#48ffb7" stroke="#48ffb7"/>
<path d="M144.1,276.1 146.8,280.5 149.5,285.9 151,292.6 148.3,287.1 145.6,281.5Z" fill="#28ffd7" stroke="#28ffd7"/>
<path d="M149.5,285.9 152.2,289.9 153.6,297 151,292.6Z" fill="#08fff7" stroke="#08fff7"/>
<path d="M152.2,289.9 154.9,293.2 156.3,299.9 153.6,297Z" fill="#00e7ff" stroke="#00e7ff"/>
<path d="M154.9,293.2 157.6,292.5 159,303.1 156.3,299.9Z" fill="#00d7ff" stroke="#00d7ff"/>
<path d="M157.6,292.5 160.2,296.2 161.7,303.2 159,303.1ZM165.6,298.3 168.3,295 171,298.2 172.4,307.2 169.7,306.1 167,307.1ZM181.7,294.5 184.4,297.7 185.8,306.7 183.1,310.1ZM200.4,297.1 203.1,294.2 204.5,306.3 201.9,306.4ZM205.8,292.6 208.5,293.8 209.9,304.9 207.2,309.6ZM237.9,292.6 240.6,290.8 242,303.5 239.4,303ZM267.4,290.3 270.1,290 272.8,291.2 275.5,292.4 278.1,291.6 280.8,287.3 282.2,300.3 279.6,302 276.9,302.3 274.2,301.5 271.5,302.9 268.8,302.4ZM315.6,287.9 318.3,290.3 319.7,299.7 317.1,300.7ZM337.1,287.1 339.8,289.2 341.2,300.7 338.5,300.1ZM420.1,284.9 422.8,285.1 424.2,298.5 421.5,297.7Z" fill="#00b7ff" stroke="#00b7ff"/>
<path d="M160.2,296.2 162.9,296.9 165.6,298.3 167,307.1 164.4,307.3 161.7,303.2ZM197.8,294.7 200.4,297.1 201.9,306.4 199.2,309.3ZM203.1,294.2 205.8,292.6 207.2,309.6 204.5,306.3ZM280.8,287.3 283.5,290.2 284.9,300.6 282.2,300.3Z" fill="#00c7ff" stroke="#00c7ff"/>
<path d="M171,298.2 173.6,294 175.1,309.5 172.4,307.2ZM326.4,290.6 329,285.8 330.5,298.6 327.8,301.5ZM366.6,288.3 369.2,288.4 371.9,288.4 373.3,298.5 370.6,298.2 368,296.8ZM374.6,285.1 377.3,287.4 380,286.1 381.4,297.6 378.7,298.2 376,297.2ZM390.7,288.8 393.4,286.9 394.7,297 392.1,295.4ZM396,288.1 398.7,287.5 400.1,295 397.4,295.4ZM404.1,285.9 406.7,287.7 409.4,286.9 410.8,298.1 408.1,296.1 405.5,299.1ZM417.5,288.8 420.1,284.9 421.5,297.7 418.9,298.6ZM441.6,288.1 444.3,288.8 445.6,298.2 443,300.9ZM455,288.1 457.7,288.3 459,298.7 456.4,300.8ZM460.3,287.9 463,289 464.4,299 461.7,298.5ZM484.5,285.1 487.1,284.8 489.8,284.1 491.2,294.8 488.5,295.3 485.8,297.8ZM500.5,280.4 503.2,280.6 505.9,279.9 507.3,291.3 504.6,293.6 501.9,297.5ZM513.9,278.1 516.6,280.8 518,291.3 515.3,292.5Z" fill="#0087ff" stroke="#0087ff"/>
<path d="M173.6,294 176.3,297.9 177.8,308.1 175.1,309.5ZM184.4,297.7 187,299.1 188.5,307.6 185.8,306.7ZM189.7,297.9 192.4,298.5 195.1,295.6 197.8,294.7 199.2,309.3 196.5,306.1 193.8,308.3 191.1,306ZM208.5,293.8 211.1,295.6 212.6,304.7 209.9,304.9ZM213.8,293.1 216.5,295.5 219.2,294.5 221.9,296.2 224.5,293.2 227.2,292.8 229.9,295.1 232.6,294.2 234,302.1 231.3,303.8 228.7,306.1 226,305.4 223.3,305.9 220.6,305.2 217.9,302.4 215.3,304.1ZM235.3,293.2 237.9,292.6 239.4,303 236.7,302.4ZM240.6,290.8 243.3,292.5 246,295 248.7,291.1 250.1,306.2 247.4,303.9 244.7,304.3 242,303.5ZM254,291.7 256.7,291 259.4,292.8 262.1,293 264.7,291.4 266.2,300.8 263.5,301.2 260.8,303.2 258.1,301.7 255.4,304.3ZM283.5,290.2 286.2,292.1 287.6,303.2 284.9,300.6ZM302.3,290.4 304.9,293.2 306.3,299.4 303.7,302.1ZM313,291.5 315.6,287.9 317.1,300.7 314.4,301.1ZM334.4,289.6 337.1,287.1 338.5,300.1 335.8,298.4ZM342.4,288.8 345.1,291.5 346.5,298.6 343.8,297.9ZM350.5,288.9 353.2,289.4 354.6,297.4 351.9,297.7ZM361.2,288.6 363.9,289.3 366.6,288.3 368,296.8 365.3,298.7 362.6,301ZM380,286.1 382.6,286.9 384,296.1 381.4,297.6ZM385.3,285.3 388,286.7 390.7,288.8 392.1,295.4 389.4,296.1 386.7,298ZM436.2,285.3 438.9,287.5 440.3,297.4 437.6,301Z" fill="#00a7ff" stroke="#00a7ff"/>
<path d="M176.3,297.9 179,298 181.7,294.5 183.1,310.1 180.4,308.6 177.8,308.1ZM187,299.1 189.7,297.9 191.1,306 188.5,307.6ZM211.1,295.6 213.8,293.1 215.3,304.1 212.6,304.7ZM232.6,294.2 235.3,293.2 236.7,302.4 234,302.1ZM248.7,291.1 251.3,293.9 254,291.7 255.4,304.3 252.8,303.8 250.1,306.2ZM264.7,291.4 267.4,290.3 268.8,302.4 266.2,300.8ZM286.2,292.1 288.9,290.8 291.5,288.9 294.2,289.5 296.9,290.9 298.3,301.3 295.6,302.2 292.9,302.8 290.3,300.7 287.6,303.2ZM299.6,290.6 302.3,290.4 303.7,302.1 301,300.6ZM310.3,290.1 313,291.5 314.4,301.1 311.7,301.8ZM318.3,290.3 321,292.2 322.4,298.8 319.7,299.7ZM329,285.8 331.7,289.6 334.4,289.6 335.8,298.4 333.1,297.1 330.5,298.6ZM339.8,289.2 342.4,288.8 343.8,297.9 341.2,300.7ZM345.1,291.5 347.8,288.4 350.5,288.9 351.9,297.7 349.2,298.2 346.5,298.6ZM353.2,289.4 355.8,290.6 357.2,297.8 354.6,297.4ZM358.5,287.7 361.2,288.6 362.6,301 359.9,297.6ZM371.9,288.4 374.6,285.1 376,297.2 373.3,298.5ZM393.4,286.9 396,288.1 397.4,295.4 394.7,297ZM398.7,287.5 401.4,287.9 404.1,285.9 405.5,299.1 402.8,295.6 400.1,295ZM409.4,286.9 412.1,286.9 414.8,286.8 416.2,301.5 413.5,294.7 410.8,298.1ZM422.8,285.1 425.5,288.3 426.9,299.5 424.2,298.5ZM505.9,279.9 508.6,281 509.9,291.2 507.3,291.3Z" fill="#0097ff" stroke="#0097ff"/>
<path d="M296.9,290.9 299.6,290.6 301,300.6 298.3,301.3ZM304.9,293.2 307.6,293.7 309,299.9 306.3,299.4ZM321,292.2 323.7,290.6 326.4,290.6 327.8,301.5 325.1,298.4 322.4,298.8ZM355.8,290.6 358.5,287.7 359.9,297.6 357.2,297.8ZM382.6,286.9 385.3,285.3 386.7,298 384,296.1ZM414.8,286.8 417.5,288.8 418.9,298.6 416.2,301.5ZM425.5,288.3 428.2,289 429.6,298.6 426.9,299.5ZM430.9,288.1 433.5,290.8 434.9,299.7 432.3,297ZM438.9,287.5 441.6,288.1 443,300.9 440.3,297.4ZM449.6,288.4 452.3,288.8 455,288.1 456.4,300.8 453.7,297.6 451,299.3ZM457.7,288.3 460.3,287.9 461.7,298.5 459,298.7ZM465.7,287.1 468.4,288 471.1,286.9 473.7,288.3 476.4,286.8 479.1,287.8 481.8,285.1 484.5,285.1 485.8,297.8 483.2,299.6 480.5,298.4 477.8,301.2 475.1,300.2 472.4,299 469.8,301.2 467.1,299.3ZM489.8,284.1 492.5,282.9 495.2,281.3 497.9,282.3 500.5,280.4 501.9,297.5 499.2,293.8 496.5,296 493.9,295.5 491.2,294.8ZM508.6,281 511.2,281.3 512.6,290 509.9,291.2Z" fill="#0078ff" stroke="#0078ff"/>
<path d="M307.6,293.7 310.3,290.1 311.7,301.8 309,299.9ZM428.2,289 430.9,288.1 432.3,297 429.6,298.6ZM433.5,290.8 436.2,285.3 437.6,301 434.9,299.7ZM444.3,288.8 446.9,288.5 449.6,288.4 451,299.3 448.3,302 445.6,298.2ZM463,289 465.7,287.1 467.1,299.3 464.4,299ZM511.2,281.3 513.9,278.1 515.3,292.5 512.6,290Z" fill="#0068ff" stroke="#0068ff"/>
<path d="M126.7,152.6 129.4,188.2 130.9,199.7 128.2,158.3Z" fill="#870000" stroke="#870000"/>
<path d="M129.4,188.2 132.1,223.1 133.6,234.6 130.9,199.7Z" fill="#ff0800" stroke="#ff0800"/>
<path d="M132.1,223.1 134.8,245.5 136.3,252.3 133.6,234.6Z" fill="#ffc700" stroke="#ffc700"/>
<path d="M134.8,245.5 137.5,257.1 139,262.4 136.3,252.3Z" fill="#d7ff28" stroke="#d7ff28"/>
<path d="M137.5,257.1 140.2,266.1 141.7,271.8 139,262.4Z" fill="#97ff68" stroke="#97ff68"/>
<path d="M140.2,266.1 142.9,274.7 144.3,280.1 141.7,271.8Z" fill="#68ff97" stroke="#68ff97"/>
<path d="M142.9,274.7 145.6,281.5 147,286.4 144.3,280.1Z" fill="#48ffb7" stroke="#48ffb7"/>
<path d="M145.6,281.5 148.3,287.1 149.7,295 147,286.4Z" fill="#28ffd7" stroke="#28ffd7"/>
<path d="M148.3,287.1 151,292.6 152.4,300.5 149.7,295Z" fill="#18ffe7" stroke="#18ffe7"/>
<path d="M151,292.6 153.6,297 155.1,304.4 152.4,300.5Z" fill="#00f7ff" stroke="#00f7ff"/>
<path d="M153.6,297 156.3,299.9 159,303.1 160.4,312 157.8,306.6 155.1,304.4Z" fill="#00d7ff" stroke="#00d7ff"/>
<path d="M159,303.1 161.7,303.2 163.1,313 160.4,312ZM164.4,307.3 167,307.1 169.7,306.1 171.2,316.7 168.5,318.9 165.8,317.2ZM201.9,306.4 204.5,306.3 207.2,309.6 208.7,316.6 206,316.1 203.3,316ZM217.9,302.4 220.6,305.2 222,314.8 219.4,317.6ZM231.3,303.8 234,302.1 235.4,314.8 232.8,315.3ZM276.9,302.3 279.6,302 282.2,300.3 284.9,300.6 286.3,308.8 283.6,311.2 281,309.6 278.3,311.6ZM317.1,300.7 319.7,299.7 321.1,308.7 318.5,308Z" fill="#00a7ff" stroke="#00a7ff"/>
<path d="M161.7,303.2 164.4,307.3 165.8,317.2 163.1,313Z" fill="#00b7ff" stroke="#00b7ff"/>
<path d="M169.7,306.1 172.4,307.2 173.8,317.3 171.2,316.7ZM177.8,308.1 180.4,308.6 183.1,310.1 185.8,306.7 187.2,316.3 184.6,318 181.9,317.5 179.2,319.8ZM193.8,308.3 196.5,306.1 197.9,315 195.3,317.3ZM207.2,309.6 209.9,304.9 211.3,314.6 208.7,316.6ZM212.6,304.7 215.3,304.1 217.9,302.4 219.4,317.6 216.7,315.1 214,314.7ZM244.7,304.3 247.4,303.9 248.8,312.7 246.2,314.1ZM258.1,301.7 260.8,303.2 263.5,301.2 264.9,310.9 262.2,312.7 259.5,313.4ZM266.2,300.8 268.8,302.4 271.5,302.9 272.9,312.6 270.3,310.4 267.6,312.7ZM284.9,300.6 287.6,303.2 289,308.6 286.3,308.8ZM290.3,300.7 292.9,302.8 295.6,302.2 297,310.6 294.4,308.2 291.7,309.6ZM314.4,301.1 317.1,300.7 318.5,308 315.8,308.3ZM319.7,299.7 322.4,298.8 323.8,307 321.1,308.7ZM338.5,300.1 341.2,300.7 343.8,297.9 346.5,298.6 347.9,305.3 345.2,305.3 342.6,306.7 339.9,305.7ZM349.2,298.2 351.9,297.7 354.6,297.4 357.2,297.8 358.6,305.9 356,305.7 353.3,305.1 350.6,304.2ZM359.9,297.6 362.6,301 364,305.2 361.3,305.3ZM365.3,298.7 368,296.8 369.4,302.9 366.7,303.6ZM381.4,297.6 384,296.1 385.4,303.9 382.7,303.4ZM389.4,296.1 392.1,295.4 394.7,297 397.4,295.4 400.1,295 402.8,295.6 405.5,299.1 406.9,304.3 404.2,304 401.5,304.4 398.8,302.5 396.1,304.6 393.5,301.8 390.8,303.9ZM421.5,297.7 424.2,298.5 425.6,307.2 422.9,306ZM507.3,291.3 509.9,291.2 511.3,299.9 508.6,302.3Z" fill="#0087ff" stroke="#0087ff"/>
<path d="M172.4,307.2 175.1,309.5 177.8,308.1 179.2,319.8 176.5,318.4 173.8,317.3ZM226,305.4 228.7,306.1 231.3,303.8 232.8,315.3 230.1,313.6 227.4,317.1ZM242,303.5 244.7,304.3 246.2,314.1 243.5,314.2ZM252.8,303.8 255.4,304.3 258.1,301.7 259.5,313.4 256.9,314 254.2,313.1ZM287.6,303.2 290.3,300.7 291.7,309.6 289,308.6ZM295.6,302.2 298.3,301.3 299.7,311.5 297,310.6ZM301,300.6 303.7,302.1 305.1,308.8 302.4,310ZM306.3,299.4 309,299.9 310.4,306.9 307.8,309.9ZM311.7,301.8 314.4,301.1 315.8,308.3 313.1,309.1ZM325.1,298.4 327.8,301.5 329.2,306.8 326.5,308.4ZM330.5,298.6 333.1,297.1 334.5,309.1 331.9,307.7ZM357.2,297.8 359.9,297.6 361.3,305.3 358.6,305.9ZM362.6,301 365.3,298.7 366.7,303.6 364,305.2ZM368,296.8 370.6,298.2 372,304.8 369.4,302.9ZM373.3,298.5 376,297.2 377.4,302.3 374.7,305.4ZM384,296.1 386.7,298 389.4,296.1 390.8,303.9 388.1,304.5 385.4,303.9ZM408.1,296.1 410.8,298.1 413.5,294.7 416.2,301.5 417.6,305.2 414.9,303 412.2,305.4 409.5,303.8ZM453.7,297.6 456.4,300.8 457.7,306.7 455.1,308.5ZM485.8,297.8 488.5,295.3 491.2,294.8 492.6,303.3 489.9,305 487.2,305.8Z" fill="#0078ff" stroke="#0078ff"/>
<path d="M185.8,306.7 188.5,307.6 191.1,306 193.8,308.3 195.3,317.3 192.6,318.4 189.9,317.9 187.2,316.3ZM196.5,306.1 199.2,309.3 201.9,306.4 203.3,316 200.6,317.1 197.9,315ZM209.9,304.9 212.6,304.7 214,314.7 211.3,314.6ZM220.6,305.2 223.3,305.9 226,305.4 227.4,317.1 224.7,316.1 222,314.8ZM234,302.1 236.7,302.4 239.4,303 242,303.5 243.5,314.2 240.8,312.3 238.1,314.2 235.4,314.8ZM247.4,303.9 250.1,306.2 251.5,314.6 248.8,312.7ZM263.5,301.2 266.2,300.8 267.6,312.7 264.9,310.9ZM271.5,302.9 274.2,301.5 276.9,302.3 278.3,311.6 275.6,311.5 272.9,312.6ZM303.7,302.1 306.3,299.4 307.8,309.9 305.1,308.8ZM333.1,297.1 335.8,298.4 338.5,300.1 339.9,305.7 337.2,307.1 334.5,309.1ZM346.5,298.6 349.2,298.2 350.6,304.2 347.9,305.3Z" fill="#0097ff" stroke="#0097ff"/>
<path d="M250.1,306.2 252.8,303.8 254.2,313.1 251.5,314.6ZM298.3,301.3 301,300.6 302.4,310 299.7,311.5ZM309,299.9 311.7,301.8 313.1,309.1 310.4,306.9ZM322.4,298.8 325.1,298.4 326.5,308.4 323.8,307ZM327.8,301.5 330.5,298.6 331.9,307.7 329.2,306.8ZM376,297.2 378.7,298.2 381.4,297.6 382.7,303.4 380.1,305.6 377.4,302.3ZM405.5,299.1 408.1,296.1 409.5,303.8 406.9,304.3ZM418.9,298.6 421.5,297.7 422.9,306 420.2,303.5ZM424.2,298.5 426.9,299.5 428.3,304.4 425.6,307.2ZM429.6,298.6 432.3,297 433.6,305.8 431,306.9ZM437.6,301 440.3,297.4 441.7,306.1 439,307.3ZM459,298.7 461.7,298.5 463.1,307.3 460.4,307.2ZM480.5,298.4 483.2,299.6 484.5,304.7 481.8,307.4ZM491.2,294.8 493.9,295.5 495.2,303.2 492.6,303.3ZM499.2,293.8 501.9,297.5 503.3,301.5 500.6,303.2ZM504.6,293.6 507.3,291.3 508.6,302.3 506,302.5Z" fill="#0068ff" stroke="#0068ff"/>
<path d="M370.6,298.2 373.3,298.5 374.7,305.4 372,304.8ZM426.9,299.5 429.6,298.6 431,306.9 428.3,304.4ZM432.3,297 434.9,299.7 437.6,301 439,307.3 436.3,305.5 433.6,305.8ZM440.3,297.4 443,300.9 445.6,298.2 448.3,302 449.7,308.8 447,308.4 444.4,306.8 441.7,306.1ZM451,299.3 453.7,297.6 455.1,308.5 452.4,308.9ZM456.4,300.8 459,298.7 460.4,307.2 457.7,306.7ZM461.7,298.5 464.4,299 465.8,307.8 463.1,307.3ZM467.1,299.3 469.8,301.2 472.4,299 475.1,300.2 477.8,301.2 479.2,308.4 476.5,310.4 473.8,306.9 471.1,308.9 468.5,309.7ZM483.2,299.6 485.8,297.8 487.2,305.8 484.5,304.7ZM493.9,295.5 496.5,296 499.2,293.8 500.6,303.2 497.9,302.5 495.2,303.2ZM501.9,297.5 504.6,293.6 506,302.5 503.3,301.5ZM509.9,291.2 512.6,290 515.3,292.5 518,291.3 519.3,295.2 516.7,297.7 514,300.9 511.3,299.9Z" fill="#0058ff" stroke="#0058ff"/>
<path d="M416.2,301.5 418.9,298.6 420.2,303.5 417.6,305.2ZM464.4,299 467.1,299.3 468.5,309.7 465.8,307.8ZM477.8,301.2 480.5,298.4 481.8,307.4 479.2,308.4Z" fill="#0048ff" stroke="#0048ff"/>
<path d="M448.3,302 451,299.3 452.4,308.9 449.7,308.8Z" fill="#0038ff" stroke="#0038ff"/>
<path d="M128.2,158.3 130.9,199.7 132.3,205.6 129.6,164.2Z" fill="#870000" stroke="#870000"/>
<path d="M130.9,199.7 133.6,234.6 135,240.4 132.3,205.6Z" fill="#ff3800" stroke="#ff3800"/>
<path d="M133.6,234.6 136.3,252.3 137.7,258 135,240.4Z" fill="#ffe700" stroke="#ffe700"/>
<path d="M136.3,252.3 139,262.4 140.4,268.8 137.7,258Z" fill="#b7ff48" stroke="#b7ff48"/>
<path d="M139,262.4 141.7,271.8 143.1,277.5 140.4,268.8Z" fill="#87ff78" stroke="#87ff78"/>
<path d="M141.7,271.8 144.3,280.1 145.8,286.2 143.1,277.5Z" fill="#68ff97" stroke="#68ff97"/>
<path d="M144.3,280.1 147,286.4 148.5,293.8 145.8,286.2Z" fill="#48ffb7" stroke="#48ffb7"/>
<path d="M147,286.4 149.7,295 151.2,300.3 148.5,293.8Z" fill="#28ffd7" stroke="#28ffd7"/>
<path d="M149.7,295 152.4,300.5 153.8,306.8 151.2,300.3Z" fill="#08fff7" stroke="#08fff7"/>
<path d="M152.4,300.5 155.1,304.4 156.5,312.3 153.8,306.8Z" fill="#00e7ff" stroke="#00e7ff"/>
<path d="M155.1,304.4 157.8,306.6 159.2,317.1 156.5,312.3Z" fill="#00d7ff" stroke="#00d7ff"/>
<path d="M157.8,306.6 160.4,312 161.9,320.1 159.2,317.1Z" fill="#00c7ff" stroke="#00c7ff"/>
<path d="M160.4,312 163.1,313 164.6,323 161.9,320.1ZM165.8,317.2 168.5,318.9 169.9,325.5 167.2,323.3ZM187.2,316.3 189.9,317.9 191.3,327.8 188.7,327ZM197.9,315 200.6,317.1 202.1,328 199.4,327.3ZM214,314.7 216.7,315.1 218.1,326.7 215.4,327ZM222,314.8 224.7,316.1 226.2,322.9 223.5,323.8ZM232.8,315.3 235.4,314.8 236.9,323.9 234.2,326ZM240.8,312.3 243.5,314.2 244.9,324.1 242.2,324.3ZM248.8,312.7 251.5,314.6 252.9,323 250.3,325.2ZM264.9,310.9 267.6,312.7 269,321.7 266.3,321.9ZM270.3,310.4 272.9,312.6 275.6,311.5 278.3,311.6 279.7,321.2 277,320.8 274.4,319.5 271.7,321.4ZM283.6,311.2 286.3,308.8 287.7,317.8 285.1,319.2ZM318.5,308 321.1,308.7 322.6,316.4 319.9,316ZM337.2,307.1 339.9,305.7 342.6,306.7 344,314.8 341.3,314.4 338.6,315.8ZM345.2,305.3 347.9,305.3 350.6,304.2 352,312.5 349.3,313.7 346.7,316.8ZM366.7,303.6 369.4,302.9 370.8,312.1 368.1,311.4ZM382.7,303.4 385.4,303.9 386.8,314.4 384.1,310.9ZM393.5,301.8 396.1,304.6 397.5,310.4 394.9,310.6ZM398.8,302.5 401.5,304.4 402.9,309.9 400.2,313.5ZM404.2,304 406.9,304.3 408.2,308.7 405.6,312.4Z" fill="#0087ff" stroke="#0087ff"/>
<path d="M163.1,313 165.8,317.2 167.2,323.3 164.6,323Z" fill="#00a7ff" stroke="#00a7ff"/>
<path d="M168.5,318.9 171.2,316.7 173.8,317.3 175.3,326.4 172.6,327 169.9,325.5ZM181.9,317.5 184.6,318 187.2,316.3 188.7,327 186,325.4 183.3,324.9ZM189.9,317.9 192.6,318.4 195.3,317.3 197.9,315 199.4,327.3 196.7,325.3 194,327.4 191.3,327.8ZM208.7,316.6 211.3,314.6 214,314.7 215.4,327 212.8,327 210.1,324.3ZM216.7,315.1 219.4,317.6 222,314.8 223.5,323.8 220.8,324.6 218.1,326.7ZM224.7,316.1 227.4,317.1 228.8,324.7 226.2,322.9ZM230.1,313.6 232.8,315.3 234.2,326 231.5,325.5ZM235.4,314.8 238.1,314.2 240.8,312.3 242.2,324.3 239.5,322.8 236.9,323.9ZM246.2,314.1 248.8,312.7 250.3,325.2 247.6,325.9ZM256.9,314 259.5,313.4 261,323 258.3,320.6ZM262.2,312.7 264.9,310.9 266.3,321.9 263.6,320.5ZM286.3,308.8 289,308.6 291.7,309.6 293.1,320.8 290.4,318.8 287.7,317.8ZM294.4,308.2 297,310.6 298.5,318.2 295.8,320.4ZM305.1,308.8 307.8,309.9 309.2,320.3 306.5,318.8ZM313.1,309.1 315.8,308.3 318.5,308 319.9,316 317.2,316.7 314.5,317.9ZM342.6,306.7 345.2,305.3 346.7,316.8 344,314.8ZM361.3,305.3 364,305.2 366.7,303.6 368.1,311.4 365.4,311.2 362.7,311.2ZM388.1,304.5 390.8,303.9 393.5,301.8 394.9,310.6 392.2,310.9 389.5,309.8ZM396.1,304.6 398.8,302.5 400.2,313.5 397.5,310.4ZM401.5,304.4 404.2,304 405.6,312.4 402.9,309.9ZM412.2,305.4 414.9,303 417.6,305.2 419,308.9 416.3,309.8 413.6,311.2ZM420.2,303.5 422.9,306 425.6,307.2 427,312.2 424.3,311.2 421.6,311.7Z" fill="#0078ff" stroke="#0078ff"/>
<path d="M173.8,317.3 176.5,318.4 178,327.6 175.3,326.4ZM179.2,319.8 181.9,317.5 183.3,324.9 180.6,324.3ZM227.4,317.1 230.1,313.6 231.5,325.5 228.8,324.7ZM243.5,314.2 246.2,314.1 247.6,325.9 244.9,324.1ZM254.2,313.1 256.9,314 258.3,320.6 255.6,320.7ZM259.5,313.4 262.2,312.7 263.6,320.5 261,323ZM267.6,312.7 270.3,310.4 271.7,321.4 269,321.7ZM291.7,309.6 294.4,308.2 295.8,320.4 293.1,320.8ZM297,310.6 299.7,311.5 301.1,319.1 298.5,318.2ZM302.4,310 305.1,308.8 306.5,318.8 303.8,318.6ZM310.4,306.9 313.1,309.1 314.5,317.9 311.8,315.5ZM321.1,308.7 323.8,307 325.2,314.5 322.6,316.4ZM326.5,308.4 329.2,306.8 331.9,307.7 333.3,316 330.6,316.3 327.9,315.4ZM334.5,309.1 337.2,307.1 338.6,315.8 335.9,314ZM358.6,305.9 361.3,305.3 362.7,311.2 360,312ZM369.4,302.9 372,304.8 374.7,305.4 377.4,302.3 380.1,305.6 382.7,303.4 384.1,310.9 381.5,309.2 378.8,312.1 376.1,313 373.4,310.9 370.8,312.1ZM385.4,303.9 388.1,304.5 389.5,309.8 386.8,314.4ZM406.9,304.3 409.5,303.8 410.9,311.6 408.2,308.7ZM425.6,307.2 428.3,304.4 429.7,312.9 427,312.2ZM439,307.3 441.7,306.1 443.1,313.5 440.4,312.7ZM487.2,305.8 489.9,305 491.3,312.8 488.6,312.8ZM508.6,302.3 511.3,299.9 512.7,305.6 510,307Z" fill="#0068ff" stroke="#0068ff"/>
<path d="M176.5,318.4 179.2,319.8 180.6,324.3 178,327.6ZM251.5,314.6 254.2,313.1 255.6,320.7 252.9,323ZM299.7,311.5 302.4,310 303.8,318.6 301.1,319.1ZM307.8,309.9 310.4,306.9 311.8,315.5 309.2,320.3ZM323.8,307 326.5,308.4 327.9,315.4 325.2,314.5ZM331.9,307.7 334.5,309.1 335.9,314 333.3,316ZM409.5,303.8 412.2,305.4 413.6,311.2 410.9,311.6ZM417.6,305.2 420.2,303.5 421.6,311.7 419,308.9ZM428.3,304.4 431,306.9 433.6,305.8 435,313.9 432.3,310.8 429.7,312.9ZM441.7,306.1 444.4,306.8 447,308.4 448.4,315 445.7,310.7 443.1,313.5ZM455.1,308.5 457.7,306.7 460.4,307.2 463.1,307.3 465.8,307.8 467.2,314 464.5,313.2 461.8,313.5 459.1,314.8 456.4,314.7ZM484.5,304.7 487.2,305.8 488.6,312.8 485.9,312.5ZM489.9,305 492.6,303.3 495.2,303.2 496.6,311.4 493.9,313.6 491.3,312.8ZM497.9,302.5 500.6,303.2 502,310 499.3,310.6ZM503.3,301.5 506,302.5 507.3,308.6 504.6,307.9ZM516.7,297.7 519.3,295.2 520.7,305.8 518,306.6Z" fill="#0058ff" stroke="#0058ff"/>
<path d="M200.6,317.1 203.3,316 206,316.1 208.7,316.6 210.1,324.3 207.4,326.8 204.7,325.5 202.1,328ZM278.3,311.6 281,309.6 283.6,311.2 285.1,319.2 282.4,319.2 279.7,321.2ZM350.6,304.2 353.3,305.1 356,305.7 358.6,305.9 360,312 357.4,313.7 354.7,313.8 352,312.5Z" fill="#0097ff" stroke="#0097ff"/>
<path d="M433.6,305.8 436.3,305.5 439,307.3 440.4,312.7 437.7,313.7 435,313.9ZM447,308.4 449.7,308.8 451.1,314.9 448.4,315ZM452.4,308.9 455.1,308.5 456.4,314.7 453.8,313.9ZM465.8,307.8 468.5,309.7 471.1,308.9 473.8,306.9 476.5,310.4 477.9,312.7 475.2,316.8 472.5,316 469.8,318.1 467.2,314ZM481.8,307.4 484.5,304.7 485.9,312.5 483.2,313.5ZM495.2,303.2 497.9,302.5 499.3,310.6 496.6,311.4ZM500.6,303.2 503.3,301.5 504.6,307.9 502,310ZM506,302.5 508.6,302.3 510,307 507.3,308.6ZM511.3,299.9 514,300.9 515.4,305.4 512.7,305.6Z" fill="#0048ff" stroke="#0048ff"/>
<path d="M449.7,308.8 452.4,308.9 453.8,313.9 451.1,314.9ZM476.5,310.4 479.2,308.4 481.8,307.4 483.2,313.5 480.5,313 477.9,312.7ZM514,300.9 516.7,297.7 518,306.6 515.4,305.4Z" fill="#0038ff" stroke="#0038ff"/>
<path d="M129.6,164.2 132.3,205.6 133.8,211.5 131.1,170Z" fill="#870000" stroke="#870000"/>
<path d="M132.3,205.6 135,240.4 136.5,246.1 133.8,211.5Z" fill="#ff3800" stroke="#ff3800"/>
<path d="M135,240.4 137.7,258 139.2,263.8 136.5,246.1Z" fill="#ffe700" stroke="#ffe700"/>
<path d="M137.7,258 140.4,268.8 141.9,274.4 139.2,263.8Z" fill="#c7ff38" stroke="#c7ff38"/>
<path d="M140.4,268.8 143.1,277.5 144.6,283.6 141.9,274.4Z" fill="#87ff78" stroke="#87ff78"/>
<path d="M143.1,277.5 145.8,286.2 147.2,292.1 144.6,283.6Z" fill="#68ff97" stroke="#68ff97"/>
<path d="M145.8,286.2 148.5,293.8 149.9,300.4 147.2,292.1Z" fill="#48ffb7" stroke="#48ffb7"/>
<path d="M148.5,293.8 151.2,300.3 152.6,308.4 149.9,300.4Z" fill="#28ffd7" stroke="#28ffd7"/>
<path d="M151.2,300.3 153.8,306.8 155.3,314.6 152.6,308.4Z" fill="#08fff7" stroke="#08fff7"/>
<path d="M153.8,306.8 156.5,312.3 158,320 155.3,314.6Z" fill="#00d7ff" stroke="#00d7ff"/>
<path d="M156.5,312.3 159.2,317.1 160.6,324.8 158,320Z" fill="#00c7ff" stroke="#00c7ff"/>
<path d="M159.2,317.1 161.9,320.1 163.3,328.2 160.6,324.8Z" fill="#00b7ff" stroke="#00b7ff"/>
<path d="M161.9,320.1 164.6,323 167.2,323.3 169.9,325.5 171.4,336 168.7,335.1 166,332.8 163.3,328.2ZM204.7,325.5 207.4,326.8 208.8,338.1 206.2,335.9ZM279.7,321.2 282.4,319.2 283.8,333.3 281.1,331.4ZM319.9,316 322.6,316.4 324,327 321.3,327.2ZM349.3,313.7 352,312.5 354.7,313.8 357.4,313.7 358.8,321.8 356.1,321.8 353.4,324.2 350.7,324.2ZM368.1,311.4 370.8,312.1 372.2,322.5 369.5,319.8ZM389.5,309.8 392.2,310.9 393.6,320.6 390.9,322.8Z" fill="#0087ff" stroke="#0087ff"/>
<path d="M169.9,325.5 172.6,327 174,336.3 171.4,336ZM196.7,325.3 199.4,327.3 200.8,337.6 198.1,336.8ZM207.4,326.8 210.1,324.3 211.5,336 208.8,338.1ZM223.5,323.8 226.2,322.9 227.6,337.1 224.9,334.9ZM239.5,322.8 242.2,324.3 243.6,333.9 241,337.8ZM274.4,319.5 277,320.8 279.7,321.2 281.1,331.4 278.5,335.5 275.8,333.2ZM282.4,319.2 285.1,319.2 286.5,334.3 283.8,333.3ZM317.2,316.7 319.9,316 321.3,327.2 318.6,328.5ZM335.9,314 338.6,315.8 340,323.9 337.3,326.5ZM344,314.8 346.7,316.8 348.1,322.6 345.4,323.4ZM357.4,313.7 360,312 361.4,320.6 358.8,321.8ZM362.7,311.2 365.4,311.2 368.1,311.4 369.5,319.8 366.8,321.6 364.1,322ZM384.1,310.9 386.8,314.4 388.2,320.8 385.5,318.5ZM392.2,310.9 394.9,310.6 396.2,320.1 393.6,320.6ZM397.5,310.4 400.2,313.5 401.6,321.7 398.9,319.3ZM405.6,312.4 408.2,308.7 409.6,319.2 407,320.1ZM416.3,309.8 419,308.9 420.3,320.7 417.7,320ZM424.3,311.2 427,312.2 428.4,319.1 425.7,317.7Z" fill="#0078ff" stroke="#0078ff"/>
<path d="M172.6,327 175.3,326.4 176.7,337.5 174,336.3ZM180.6,324.3 183.3,324.9 186,325.4 188.7,327 191.3,327.8 192.8,339.8 190.1,337.9 187.4,341.1 184.8,338.9 182.1,337.3ZM202.1,328 204.7,325.5 206.2,335.9 203.5,336.8ZM210.1,324.3 212.8,327 214.2,336.5 211.5,336ZM220.8,324.6 223.5,323.8 224.9,334.9 222.2,336.4ZM226.2,322.9 228.8,324.7 231.5,325.5 232.9,337.3 230.3,335.7 227.6,337.1ZM234.2,326 236.9,323.9 239.5,322.8 241,337.8 238.3,334 235.6,334.2ZM242.2,324.3 244.9,324.1 246.3,337.8 243.6,333.9ZM250.3,325.2 252.9,323 254.4,334.9 251.7,334.8ZM258.3,320.6 261,323 262.4,335.4 259.7,334.2ZM263.6,320.5 266.3,321.9 269,321.7 270.4,332.7 267.7,332.2 265.1,333.6ZM271.7,321.4 274.4,319.5 275.8,333.2 273.1,333.2ZM285.1,319.2 287.7,317.8 290.4,318.8 293.1,320.8 295.8,320.4 298.5,318.2 299.9,330.4 297.2,327.8 294.5,330.4 291.8,332.8 289.2,330.9 286.5,334.3ZM306.5,318.8 309.2,320.3 310.6,328.3 307.9,328.1ZM314.5,317.9 317.2,316.7 318.6,328.5 315.9,329.9ZM327.9,315.4 330.6,316.3 332,326.7 329.3,327.5ZM338.6,315.8 341.3,314.4 344,314.8 345.4,323.4 342.7,323.7 340,323.9ZM346.7,316.8 349.3,313.7 350.7,324.2 348.1,322.6ZM360,312 362.7,311.2 364.1,322 361.4,320.6ZM370.8,312.1 373.4,310.9 376.1,313 378.8,312.1 380.2,322 377.5,321.3 374.8,320.9 372.2,322.5ZM381.5,309.2 384.1,310.9 385.5,318.5 382.9,321.5ZM394.9,310.6 397.5,310.4 398.9,319.3 396.2,320.1ZM400.2,313.5 402.9,309.9 405.6,312.4 407,320.1 404.3,319.4 401.6,321.7ZM408.2,308.7 410.9,311.6 412.3,318.1 409.6,319.2ZM413.6,311.2 416.3,309.8 417.7,320 415,319.1ZM421.6,311.7 424.3,311.2 425.7,317.7 423,321.2ZM445.7,310.7 448.4,315 449.8,321.2 447.1,322.5ZM488.6,312.8 491.3,312.8 492.6,319 490,319ZM510,307 512.7,305.6 514,316.6 511.4,317.2Z" fill="#0068ff" stroke="#0068ff"/>
<path d="M175.3,326.4 178,327.6 180.6,324.3 182.1,337.3 179.4,337.3 176.7,337.5ZM191.3,327.8 194,327.4 196.7,325.3 198.1,336.8 195.5,337.7 192.8,339.8ZM199.4,327.3 202.1,328 203.5,336.8 200.8,337.6ZM212.8,327 215.4,327 218.1,326.7 220.8,324.6 222.2,336.4 219.6,336.6 216.9,337.1 214.2,336.5ZM231.5,325.5 234.2,326 235.6,334.2 232.9,337.3ZM244.9,324.1 247.6,325.9 250.3,325.2 251.7,334.8 249,333.4 246.3,337.8ZM255.6,320.7 258.3,320.6 259.7,334.2 257,334.5ZM261,323 263.6,320.5 265.1,333.6 262.4,335.4ZM301.1,319.1 303.8,318.6 305.2,326.8 302.5,327.3ZM311.8,315.5 314.5,317.9 315.9,329.9 313.3,328.9ZM322.6,316.4 325.2,314.5 326.6,327 324,327ZM330.6,316.3 333.3,316 335.9,314 337.3,326.5 334.7,321.7 332,326.7ZM378.8,312.1 381.5,309.2 382.9,321.5 380.2,322ZM410.9,311.6 413.6,311.2 415,319.1 412.3,318.1ZM419,308.9 421.6,311.7 423,321.2 420.3,320.7ZM427,312.2 429.7,312.9 431.1,323.8 428.4,319.1ZM432.3,310.8 435,313.9 436.4,320.7 433.7,320.2ZM437.7,313.7 440.4,312.7 443.1,313.5 444.4,321.7 441.8,322.8 439.1,321.1ZM456.4,314.7 459.1,314.8 461.8,313.5 463.2,320.4 460.5,321.7 457.8,323.3ZM477.9,312.7 480.5,313 481.9,322.8 479.2,321Z" fill="#0058ff" stroke="#0058ff"/>
<path d="M252.9,323 255.6,320.7 257,334.5 254.4,334.9ZM269,321.7 271.7,321.4 273.1,333.2 270.4,332.7ZM298.5,318.2 301.1,319.1 302.5,327.3 299.9,330.4ZM303.8,318.6 306.5,318.8 307.9,328.1 305.2,326.8ZM309.2,320.3 311.8,315.5 313.3,328.9 310.6,328.3ZM325.2,314.5 327.9,315.4 329.3,327.5 326.6,327ZM386.8,314.4 389.5,309.8 390.9,322.8 388.2,320.8ZM429.7,312.9 432.3,310.8 433.7,320.2 431.1,323.8ZM435,313.9 437.7,313.7 439.1,321.1 436.4,320.7ZM443.1,313.5 445.7,310.7 447.1,322.5 444.4,321.7ZM453.8,313.9 456.4,314.7 457.8,323.3 455.1,323.8ZM461.8,313.5 464.5,313.2 467.2,314 469.8,318.1 471.2,320.6 468.5,321.5 465.9,323.5 463.2,320.4ZM480.5,313 483.2,313.5 485.9,312.5 488.6,312.8 490,319 487.3,319.8 484.6,320.4 481.9,322.8ZM491.3,312.8 493.9,313.6 495.3,319.7 492.6,319ZM502,310 504.6,307.9 507.3,308.6 510,307 511.4,317.2 508.7,317.3 506,317.2 503.3,320.1ZM512.7,305.6 515.4,305.4 516.7,315.4 514,316.6ZM518,306.6 520.7,305.8 522.1,313.5 519.4,314.2Z" fill="#0048ff" stroke="#0048ff"/>
<path d="M448.4,315 451.1,314.9 453.8,313.9 455.1,323.8 452.5,321.9 449.8,321.2ZM469.8,318.1 472.5,316 473.9,323.5 471.2,320.6ZM475.2,316.8 477.9,312.7 479.2,321 476.6,320.1ZM493.9,313.6 496.6,311.4 499.3,310.6 502,310 503.3,320.1 500.7,318.7 498,322.3 495.3,319.7ZM515.4,305.4 518,306.6 519.4,314.2 516.7,315.4Z" fill="#0038ff" stroke="#0038ff"/>
<path d="M472.5,316 475.2,316.8 476.6,320.1 473.9,323.5Z" fill="#0028ff" stroke="#0028ff"/>
<path d="M131.1,170 133.8,211.5 135.2,217.4 132.5,175.8Z" fill="#870000" stroke="#870000"/>
<path d="M133.8,211.5 136.5,246.1 137.9,251.9 135.2,217.4Z" fill="#ff4800" stroke="#ff4800"/>
<path d="M136.5,246.1 139.2,263.8 140.6,269.4 137.9,251.9Z" fill="#ffe700" stroke="#ffe700"/>
<path d="M139.2,263.8 141.9,274.4 143.3,279.9 140.6,269.4Z" fill="#c7ff38" stroke="#c7ff38"/>
<path d="M141.9,274.4 144.6,283.6 146,289.3 143.3,279.9Z" fill="#87ff78" stroke="#87ff78"/>
<path d="M144.6,283.6 147.2,292.1 148.7,298.3 146,289.3Z" fill="#58ffa7" stroke="#58ffa7"/>
<path d="M147.2,292.1 149.9,300.4 151.4,307 148.7,298.3Z" fill="#48ffb7" stroke="#48ffb7"/>
<path d="M149.9,300.4 152.6,308.4 154,314.5 151.4,307Z" fill="#18ffe7" stroke="#18ffe7"/>
<path d="M152.6,308.4 155.3,314.6 156.7,321.9 154,314.5Z" fill="#00f7ff" stroke="#00f7ff"/>
<path d="M155.3,314.6 158,320 159.4,327.2 156.7,321.9Z" fill="#00d7ff" stroke="#00d7ff"/>
<path d="M158,320 160.6,324.8 162.1,333.2 159.4,327.2Z" fill="#00b7ff" stroke="#00b7ff"/>
<path d="M160.6,324.8 163.3,328.2 164.8,336.1 162.1,333.2Z" fill="#00a7ff" stroke="#00a7ff"/>
<path d="M163.3,328.2 166,332.8 167.4,338.3 164.8,336.1ZM340,323.9 342.7,323.7 344.1,333.2 341.4,331ZM350.7,324.2 353.4,324.2 354.8,330.6 352.1,330.5ZM356.1,321.8 358.8,321.8 360.2,330.4 357.5,329.5ZM369.5,319.8 372.2,322.5 373.5,328.6 370.9,328.9ZM425.7,317.7 428.4,319.1 429.8,329.3 427.1,327.5Z" fill="#0078ff" stroke="#0078ff"/>
<path d="M166,332.8 168.7,335.1 171.4,336 174,336.3 175.5,345.3 172.8,344.2 170.1,343.3 167.4,338.3ZM206.2,335.9 208.8,338.1 211.5,336 213,345.1 210.3,346.7 207.6,347.2ZM235.6,334.2 238.3,334 239.7,342.6 237,347.4ZM281.1,331.4 283.8,333.3 285.2,343.2 282.5,344.2ZM318.6,328.5 321.3,327.2 322.7,336.1 320,336.9ZM342.7,323.7 345.4,323.4 348.1,322.6 350.7,324.2 352.1,330.5 349.5,332.7 346.8,333.4 344.1,333.2ZM353.4,324.2 356.1,321.8 357.5,329.5 354.8,330.6ZM358.8,321.8 361.4,320.6 364.1,322 365.5,329.1 362.8,331.2 360.2,330.4ZM366.8,321.6 369.5,319.8 370.9,328.9 368.2,327.8ZM393.6,320.6 396.2,320.1 397.6,326 395,328.1ZM398.9,319.3 401.6,321.7 403,326 400.3,326.9ZM407,320.1 409.6,319.2 411,328.3 408.3,329.3Z" fill="#0068ff" stroke="#0068ff"/>
<path d="M174,336.3 176.7,337.5 178.2,347.6 175.5,345.3ZM200.8,337.6 203.5,336.8 204.9,348.2 202.2,347.9ZM214.2,336.5 216.9,337.1 219.6,336.6 221,345.2 218.3,347.1 215.6,346.8ZM222.2,336.4 224.9,334.9 226.3,345.1 223.7,347.4ZM227.6,337.1 230.3,335.7 231.7,344.4 229,348.4ZM238.3,334 241,337.8 242.4,346.6 239.7,342.6ZM249,333.4 251.7,334.8 254.4,334.9 255.8,344.1 253.1,344.8 250.4,347.4ZM259.7,334.2 262.4,335.4 263.8,346.4 261.1,345.2ZM270.4,332.7 273.1,333.2 275.8,333.2 278.5,335.5 281.1,331.4 282.5,344.2 279.9,344.8 277.2,342.7 274.5,342.6 271.8,344.1ZM286.5,334.3 289.2,330.9 290.6,341.5 287.9,343ZM291.8,332.8 294.5,330.4 297.2,327.8 299.9,330.4 301.3,340.8 298.6,339.6 295.9,343.9 293.3,344.7ZM302.5,327.3 305.2,326.8 306.6,340.3 304,339.7ZM310.6,328.3 313.3,328.9 314.7,339.2 312,338.2ZM372.2,322.5 374.8,320.9 377.5,321.3 378.9,323.8 376.2,327.7 373.5,328.6ZM382.9,321.5 385.5,318.5 386.9,327.1 384.3,327.6ZM388.2,320.8 390.9,322.8 392.3,329.5 389.6,326.4ZM423,321.2 425.7,317.7 427.1,327.5 424.4,327ZM436.4,320.7 439.1,321.1 440.5,326.3 437.8,325.8ZM441.8,322.8 444.4,321.7 445.8,328 443.1,328.3ZM447.1,322.5 449.8,321.2 451.2,329 448.5,326.1ZM457.8,323.3 460.5,321.7 463.2,320.4 465.9,323.5 467.2,326.8 464.6,326.6 461.9,329.4 459.2,327.3ZM484.6,320.4 487.3,319.8 490,319 491.3,325.7 488.6,328 486,328.8ZM492.6,319 495.3,319.7 496.7,324.1 494,325.1ZM500.7,318.7 503.3,320.1 504.7,325.2 502,324.3ZM511.4,317.2 514,316.6 515.4,322.7 512.7,323.3Z" fill="#0048ff" stroke="#0048ff"/>
<path d="M176.7,337.5 179.4,337.3 182.1,337.3 184.8,338.9 187.4,341.1 190.1,337.9 191.5,350.4 188.9,346.9 186.2,348.8 183.5,345.5 180.8,345.1 178.2,347.6ZM192.8,339.8 195.5,337.7 196.9,350.1 194.2,349.1ZM219.6,336.6 222.2,336.4 223.7,347.4 221,345.2ZM230.3,335.7 232.9,337.3 234.4,346.2 231.7,344.4ZM241,337.8 243.6,333.9 245.1,346.7 242.4,346.6ZM254.4,334.9 257,334.5 259.7,334.2 261.1,345.2 258.5,344.9 255.8,344.1ZM289.2,330.9 291.8,332.8 293.3,344.7 290.6,341.5ZM313.3,328.9 315.9,329.9 318.6,328.5 320,336.9 317.3,338.1 314.7,339.2ZM324,327 326.6,327 329.3,327.5 332,326.7 334.7,321.7 336.1,334.7 333.4,335 330.7,337.1 328,335.2 325.4,335.9ZM380.2,322 382.9,321.5 384.3,327.6 381.6,326ZM420.3,320.7 423,321.2 424.4,327 421.7,325.8ZM433.7,320.2 436.4,320.7 437.8,325.8 435.1,325.7ZM439.1,321.1 441.8,322.8 443.1,328.3 440.5,326.3ZM444.4,321.7 447.1,322.5 448.5,326.1 445.8,328ZM452.5,321.9 455.1,323.8 457.8,323.3 459.2,327.3 456.5,327.4 453.9,326.7ZM465.9,323.5 468.5,321.5 471.2,320.6 473.9,323.5 476.6,320.1 479.2,321 481.9,322.8 483.3,323.5 480.6,329.7 477.9,326.9 475.3,327.1 472.6,327 469.9,328.8 467.2,326.8ZM495.3,319.7 498,322.3 499.4,326.1 496.7,324.1ZM503.3,320.1 506,317.2 508.7,317.3 511.4,317.2 512.7,323.3 510.1,323.8 507.4,326 504.7,325.2ZM519.4,314.2 522.1,313.5 523.4,321.5 520.8,321.9Z" fill="#0038ff" stroke="#0038ff"/>
<path d="M190.1,337.9 192.8,339.8 194.2,349.1 191.5,350.4ZM195.5,337.7 198.1,336.8 200.8,337.6 202.2,347.9 199.6,348.6 196.9,350.1ZM203.5,336.8 206.2,335.9 207.6,347.2 204.9,348.2ZM211.5,336 214.2,336.5 215.6,346.8 213,345.1ZM224.9,334.9 227.6,337.1 229,348.4 226.3,345.1ZM243.6,333.9 246.3,337.8 247.8,345.1 245.1,346.7ZM265.1,333.6 267.7,332.2 270.4,332.7 271.8,344.1 269.2,345.7 266.5,346.4ZM283.8,333.3 286.5,334.3 287.9,343 285.2,343.2ZM305.2,326.8 307.9,328.1 310.6,328.3 312,338.2 309.3,337.7 306.6,340.3ZM321.3,327.2 324,327 325.4,335.9 322.7,336.1ZM334.7,321.7 337.3,326.5 340,323.9 341.4,331 338.8,332 336.1,334.7ZM364.1,322 366.8,321.6 368.2,327.8 365.5,329.1ZM377.5,321.3 380.2,322 381.6,326 378.9,323.8ZM385.5,318.5 388.2,320.8 389.6,326.4 386.9,327.1ZM390.9,322.8 393.6,320.6 395,328.1 392.3,329.5ZM396.2,320.1 398.9,319.3 400.3,326.9 397.6,326ZM401.6,321.7 404.3,319.4 407,320.1 408.3,329.3 405.7,326.2 403,326ZM409.6,319.2 412.3,318.1 415,319.1 417.7,320 420.3,320.7 421.7,325.8 419.1,326.7 416.4,327.4 413.7,326.8 411,328.3ZM428.4,319.1 431.1,323.8 432.4,328.4 429.8,329.3ZM490,319 492.6,319 494,325.1 491.3,325.7Z" fill="#0058ff" stroke="#0058ff"/>
<path d="M232.9,337.3 235.6,334.2 237,347.4 234.4,346.2ZM246.3,337.8 249,333.4 250.4,347.4 247.8,345.1ZM262.4,335.4 265.1,333.6 266.5,346.4 263.8,346.4ZM299.9,330.4 302.5,327.3 304,339.7 301.3,340.8ZM431.1,323.8 433.7,320.2 435.1,325.7 432.4,328.4ZM449.8,321.2 452.5,321.9 453.9,326.7 451.2,329ZM481.9,322.8 484.6,320.4 486,328.8 483.3,323.5ZM498,322.3 500.7,318.7 502,324.3 499.4,326.1ZM514,316.6 516.7,315.4 519.4,314.2 520.8,321.9 518.1,324.2 515.4,322.7Z" fill="#0028ff" stroke="#0028ff"/>
<path d="M132.5,175.8 135.2,217.4 136.7,223.3 134,181.6Z" fill="#870000" stroke="#870000"/>
<path d="M135.2,217.4 137.9,251.9 139.4,257.5 136.7,223.3Z" fill="#ff4800" stroke="#ff4800"/>
<path d="M137.9,251.9 140.6,269.4 142.1,274.7 139.4,257.5Z" fill="#ffe700" stroke="#ffe700"/>
<path d="M140.6,269.4 143.3,279.9 144.8,285.4 142.1,274.7Z" fill="#b7ff48" stroke="#b7ff48"/>
<path d="M143.3,279.9 146,289.3 147.4,294.9 144.8,285.4Z" fill="#78ff87" stroke="#78ff87"/>
<path d="M146,289.3 148.7,298.3 150.1,303.8 147.4,294.9Z" fill="#58ffa7" stroke="#58ffa7"/>
<path d="M148.7,298.3 151.4,307 152.8,312.7 150.1,303.8Z" fill="#38ffc7" stroke="#38ffc7"/>
<path d="M151.4,307 154,314.5 155.5,319.6 152.8,312.7Z" fill="#18ffe7" stroke="#18ffe7"/>
<path d="M154,314.5 156.7,321.9 158.2,327.9 155.5,319.6Z" fill="#00f7ff" stroke="#00f7ff"/>
<path d="M156.7,321.9 159.4,327.2 160.8,333.3 158.2,327.9Z" fill="#00c7ff" stroke="#00c7ff"/>
<path d="M159.4,327.2 162.1,333.2 163.5,338.8 160.8,333.3Z" fill="#00b7ff" stroke="#00b7ff"/>
<path d="M162.1,333.2 164.8,336.1 166.2,342.8 163.5,338.8Z" fill="#0087ff" stroke="#0087ff"/>
<path d="M164.8,336.1 167.4,338.3 170.1,343.3 171.6,347.8 168.9,345.6 166.2,342.8ZM172.8,344.2 175.5,345.3 176.9,350.8 174.2,351.5ZM341.4,331 344.1,333.2 345.5,339.1 342.8,339.4ZM352.1,330.5 354.8,330.6 356.2,338.1 353.5,337.3ZM365.5,329.1 368.2,327.8 370.9,328.9 373.5,328.6 374.9,333.6 372.3,336 369.6,333.2 366.9,332.4ZM378.9,323.8 381.6,326 383,331.8 380.3,334.6ZM403,326 405.7,326.2 407.1,331.9 404.4,330.4Z" fill="#0068ff" stroke="#0068ff"/>
<path d="M170.1,343.3 172.8,344.2 174.2,351.5 171.6,347.8ZM344.1,333.2 346.8,333.4 348.2,335.4 345.5,339.1ZM354.8,330.6 357.5,329.5 360.2,330.4 361.6,335.2 358.9,336.5 356.2,338.1ZM386.9,327.1 389.6,326.4 391,331.6 388.3,331.2ZM392.3,329.5 395,328.1 397.6,326 400.3,326.9 403,326 404.4,330.4 401.7,330.8 399,327.9 396.4,331.7 393.7,331.6ZM405.7,326.2 408.3,329.3 411,328.3 412.4,332.4 409.7,330.5 407.1,331.9ZM413.7,326.8 416.4,327.4 417.8,330.7 415.1,330.4ZM419.1,326.7 421.7,325.8 423.1,333.2 420.4,334ZM424.4,327 427.1,327.5 429.8,329.3 431.1,333.9 428.5,331.9 425.8,332.1ZM494,325.1 496.7,324.1 498,331.2 495.4,333.2Z" fill="#0058ff" stroke="#0058ff"/>
<path d="M175.5,345.3 178.2,347.6 179.6,353.5 176.9,350.8ZM186.2,348.8 188.9,346.9 191.5,350.4 193,354.3 190.3,356.4 187.6,353.8ZM199.6,348.6 202.2,347.9 203.7,353.2 201,354.9ZM207.6,347.2 210.3,346.7 211.7,356.5 209,355.4ZM215.6,346.8 218.3,347.1 219.7,357.4 217.1,356.4ZM223.7,347.4 226.3,345.1 229,348.4 230.4,357 227.8,356.1 225.1,353.3ZM231.7,344.4 234.4,346.2 235.8,354.3 233.1,356.5ZM245.1,346.7 247.8,345.1 249.2,355.7 246.5,356.5ZM253.1,344.8 255.8,344.1 257.2,353.9 254.5,355.8ZM277.2,342.7 279.9,344.8 282.5,344.2 285.2,343.2 287.9,343 289.3,350.7 286.6,350.6 284,350.4 281.3,353.5 278.6,354.8ZM298.6,339.6 301.3,340.8 302.7,347.2 300,349.1ZM333.4,335 336.1,334.7 338.8,332 340.2,338.3 337.5,342.7 334.8,342ZM362.8,331.2 365.5,329.1 366.9,332.4 364.2,336.1ZM373.5,328.6 376.2,327.7 377.6,332.9 374.9,333.6ZM381.6,326 384.3,327.6 385.7,330.9 383,331.8ZM411,328.3 413.7,326.8 415.1,330.4 412.4,332.4ZM429.8,329.3 432.4,328.4 433.8,332.1 431.1,333.9ZM435.1,325.7 437.8,325.8 439.2,333.4 436.5,334.2ZM445.8,328 448.5,326.1 449.9,334.4 447.2,331.7ZM451.2,329 453.9,326.7 456.5,327.4 459.2,327.3 460.6,334.5 457.9,332.5 455.2,331 452.6,332.6ZM461.9,329.4 464.6,326.6 465.9,334.5 463.3,331.5ZM469.9,328.8 472.6,327 475.3,327.1 477.9,326.9 480.6,329.7 483.3,323.5 484.7,333 482,330.5 479.3,331.3 476.6,332.6 474,330 471.3,331.9ZM486,328.8 488.6,328 491.3,325.7 492.7,329.6 490,330.2 487.3,332.6ZM502,324.3 504.7,325.2 507.4,326 508.8,328.3 506.1,329.1 503.4,330.3ZM510.1,323.8 512.7,323.3 514.1,326.6 511.4,329.1Z" fill="#0038ff" stroke="#0038ff"/>
<path d="M178.2,347.6 180.8,345.1 182.3,352.8 179.6,353.5ZM250.4,347.4 253.1,344.8 254.5,355.8 251.9,356.7ZM258.5,344.9 261.1,345.2 263.8,346.4 266.5,346.4 267.9,351.6 265.2,352.7 262.6,355.7 259.9,355.1ZM271.8,344.1 274.5,342.6 275.9,352.6 273.3,352.1ZM293.3,344.7 295.9,343.9 297.3,351.9 294.7,348.6ZM301.3,340.8 304,339.7 306.6,340.3 309.3,337.7 310.7,345.3 308,349.6 305.4,347 302.7,347.2ZM312,338.2 314.7,339.2 317.3,338.1 318.8,346.3 316.1,348.8 313.4,344.6ZM328,335.2 330.7,337.1 333.4,335 334.8,342 332.1,339.6 329.5,344.9ZM518.1,324.2 520.8,321.9 522.1,326.8 519.5,330.1Z" fill="#0018ff" stroke="#0018ff"/>
<path d="M180.8,345.1 183.5,345.5 186.2,348.8 187.6,353.8 184.9,352.9 182.3,352.8ZM191.5,350.4 194.2,349.1 196.9,350.1 199.6,348.6 201,354.9 198.3,353.9 195.7,354.6 193,354.3ZM202.2,347.9 204.9,348.2 206.4,355.5 203.7,353.2ZM218.3,347.1 221,345.2 223.7,347.4 225.1,353.3 222.4,355 219.7,357.4ZM229,348.4 231.7,344.4 233.1,356.5 230.4,357ZM234.4,346.2 237,347.4 239.7,342.6 241.1,354.8 238.5,354 235.8,354.3ZM242.4,346.6 245.1,346.7 246.5,356.5 243.8,354.9ZM247.8,345.1 250.4,347.4 251.9,356.7 249.2,355.7ZM255.8,344.1 258.5,344.9 259.9,355.1 257.2,353.9ZM266.5,346.4 269.2,345.7 271.8,344.1 273.3,352.1 270.6,353.2 267.9,351.6ZM274.5,342.6 277.2,342.7 278.6,354.8 275.9,352.6ZM290.6,341.5 293.3,344.7 294.7,348.6 292,350.6ZM295.9,343.9 298.6,339.6 300,349.1 297.3,351.9ZM317.3,338.1 320,336.9 321.4,345.3 318.8,346.3ZM325.4,335.9 328,335.2 329.5,344.9 326.8,341.9ZM432.4,328.4 435.1,325.7 436.5,334.2 433.8,332.1ZM499.4,326.1 502,324.3 503.4,330.3 500.7,331.6ZM507.4,326 510.1,323.8 511.4,329.1 508.8,328.3ZM515.4,322.7 518.1,324.2 519.5,330.1 516.8,328.8ZM520.8,321.9 523.4,321.5 524.8,328.5 522.1,326.8Z" fill="#0028ff" stroke="#0028ff"/>
<path d="M204.9,348.2 207.6,347.2 209,355.4 206.4,355.5ZM210.3,346.7 213,345.1 215.6,346.8 217.1,356.4 214.4,358.4 211.7,356.5ZM239.7,342.6 242.4,346.6 243.8,354.9 241.1,354.8ZM287.9,343 290.6,341.5 292,350.6 289.3,350.7ZM309.3,337.7 312,338.2 313.4,344.6 310.7,345.3ZM320,336.9 322.7,336.1 325.4,335.9 326.8,341.9 324.1,345.8 321.4,345.3ZM338.8,332 341.4,331 342.8,339.4 340.2,338.3ZM346.8,333.4 349.5,332.7 352.1,330.5 353.5,337.3 350.9,336.4 348.2,335.4ZM360.2,330.4 362.8,331.2 364.2,336.1 361.6,335.2ZM376.2,327.7 378.9,323.8 380.3,334.6 377.6,332.9ZM384.3,327.6 386.9,327.1 388.3,331.2 385.7,330.9ZM389.6,326.4 392.3,329.5 393.7,331.6 391,331.6ZM416.4,327.4 419.1,326.7 420.4,334 417.8,330.7ZM421.7,325.8 424.4,327 425.8,332.1 423.1,333.2ZM437.8,325.8 440.5,326.3 443.1,328.3 445.8,328 447.2,331.7 444.5,332.4 441.9,333.1 439.2,333.4ZM448.5,326.1 451.2,329 452.6,332.6 449.9,334.4ZM459.2,327.3 461.9,329.4 463.3,331.5 460.6,334.5ZM464.6,326.6 467.2,326.8 469.9,328.8 471.3,331.9 468.6,333.6 465.9,334.5ZM483.3,323.5 486,328.8 487.3,332.6 484.7,333ZM491.3,325.7 494,325.1 495.4,333.2 492.7,329.6ZM496.7,324.1 499.4,326.1 500.7,331.6 498,331.2ZM512.7,323.3 515.4,322.7 516.8,328.8 514.1,326.6Z" fill="#0048ff" stroke="#0048ff"/>
<path d="M134,181.6 136.7,223.3 138.1,229.1 135.4,187.5Z" fill="#870000" stroke="#870000"/>
<path d="M136.7,223.3 139.4,257.5 140.8,263.1 138.1,229.1Z" fill="#ff4800" stroke="#ff4800"/>
<path d="M139.4,257.5 142.1,274.7 143.5,280.1 140.8,263.1Z" fill="#ffe700" stroke="#ffe700"/>
<path d="M142.1,274.7 144.8,285.4 146.2,290.9 143.5,280.1Z" fill="#b7ff48" stroke="#b7ff48"/>
<path d="M144.8,285.4 147.4,294.9 148.9,300.3 146.2,290.9Z" fill="#87ff78" stroke="#87ff78"/>
<path d="M147.4,294.9 150.1,303.8 151.6,309.4 148.9,300.3Z" fill="#58ffa7" stroke="#58ffa7"/>
<path d="M150.1,303.8 152.8,312.7 154.3,317.9 151.6,309.4Z" fill="#38ffc7" stroke="#38ffc7"/>
<path d="M152.8,312.7 155.5,319.6 156.9,325.5 154.3,317.9Z" fill="#18ffe7" stroke="#18ffe7"/>
<path d="M155.5,319.6 158.2,327.9 159.6,333.1 156.9,325.5Z" fill="#08fff7" stroke="#08fff7"/>
<path d="M158.2,327.9 160.8,333.3 162.3,339.1 159.6,333.1Z" fill="#00c7ff" stroke="#00c7ff"/>
<path d="M160.8,333.3 163.5,338.8 165,346.3 162.3,339.1Z" fill="#00a7ff" stroke="#00a7ff"/>
<path d="M163.5,338.8 166.2,342.8 167.6,348.2 165,346.3Z" fill="#0087ff" stroke="#0087ff"/>
<path d="M166.2,342.8 168.9,345.6 170.3,352.8 167.6,348.2ZM171.6,347.8 174.2,351.5 176.9,350.8 178.4,359.2 175.7,358.8 173,356.7ZM348.2,335.4 350.9,336.4 353.5,337.3 354.9,343.7 352.3,344.7 349.6,344.1ZM356.2,338.1 358.9,336.5 361.6,335.2 364.2,336.1 365.6,340.6 363,339 360.3,342 357.6,341.9ZM380.3,334.6 383,331.8 384.4,336.9 381.7,335.2ZM393.7,331.6 396.4,331.7 397.7,336.4 395.1,335.7ZM401.7,330.8 404.4,330.4 405.8,335.6 403.1,334.4ZM407.1,331.9 409.7,330.5 411.1,334.8 408.5,335.7ZM415.1,330.4 417.8,330.7 420.4,334 423.1,333.2 424.5,339.3 421.8,339 419.2,339.3 416.5,334.3ZM428.5,331.9 431.1,333.9 432.5,337.9 429.9,338.6ZM463.3,331.5 465.9,334.5 467.3,338.2 464.6,341.1ZM492.7,329.6 495.4,333.2 496.7,335.2 494.1,339.3ZM514.1,326.6 516.8,328.8 518.2,334.9 515.5,332.9Z" fill="#0058ff" stroke="#0058ff"/>
<path d="M168.9,345.6 171.6,347.8 173,356.7 170.3,352.8ZM353.5,337.3 356.2,338.1 357.6,341.9 354.9,343.7ZM366.9,332.4 369.6,333.2 372.3,336 373.7,338.2 371,339 368.3,339.4ZM388.3,331.2 391,331.6 392.4,335 389.7,336.5ZM396.4,331.7 399,327.9 401.7,330.8 403.1,334.4 400.4,336.4 397.7,336.4ZM404.4,330.4 407.1,331.9 408.5,335.7 405.8,335.6ZM409.7,330.5 412.4,332.4 413.8,334.5 411.1,334.8Z" fill="#0068ff" stroke="#0068ff"/>
<path d="M176.9,350.8 179.6,353.5 181,360.2 178.4,359.2ZM193,354.3 195.7,354.6 197.1,364.2 194.4,364.3ZM201,354.9 203.7,353.2 205.1,360.9 202.4,362.8ZM206.4,355.5 209,355.4 210.5,362.9 207.8,362.2ZM211.7,356.5 214.4,358.4 215.8,365.5 213.1,364.2ZM286.6,350.6 289.3,350.7 290.7,359 288.1,361.3ZM324.1,345.8 326.8,341.9 328.2,351.9 325.5,352.7ZM364.2,336.1 366.9,332.4 368.3,339.4 365.6,340.6ZM377.6,332.9 380.3,334.6 381.7,335.2 379,337.4ZM383,331.8 385.7,330.9 387,336.9 384.4,336.9ZM423.1,333.2 425.8,332.1 427.2,337 424.5,339.3ZM431.1,333.9 433.8,332.1 436.5,334.2 437.9,336.8 435.2,337.9 432.5,337.9ZM439.2,333.4 441.9,333.1 444.5,332.4 445.9,338.8 443.2,338.7 440.6,338.7ZM447.2,331.7 449.9,334.4 452.6,332.6 455.2,331 457.9,332.5 460.6,334.5 463.3,331.5 464.6,341.1 462,338.2 459.3,339.1 456.6,338 453.9,338.7 451.3,338.7 448.6,336.6ZM465.9,334.5 468.6,333.6 470,337.5 467.3,338.2ZM471.3,331.9 474,330 475.3,339.3 472.7,338.6ZM479.3,331.3 482,330.5 484.7,333 487.3,332.6 490,330.2 492.7,329.6 494.1,339.3 491.4,338.1 488.7,337.2 486,335.1 483.4,337.7 480.7,339.4ZM495.4,333.2 498,331.2 500.7,331.6 502.1,336.2 499.4,338.3 496.7,335.2ZM503.4,330.3 506.1,329.1 507.4,334.6 504.8,336.7Z" fill="#0038ff" stroke="#0038ff"/>
<path d="M179.6,353.5 182.3,352.8 183.7,361 181,360.2ZM184.9,352.9 187.6,353.8 189.1,360.9 186.4,359.9ZM190.3,356.4 193,354.3 194.4,364.3 191.7,363.1ZM214.4,358.4 217.1,356.4 219.7,357.4 221.2,364.2 218.5,364 215.8,365.5ZM227.8,356.1 230.4,357 233.1,356.5 234.5,363.7 231.9,363.3 229.2,365.4ZM235.8,354.3 238.5,354 239.9,361.9 237.2,365.9ZM241.1,354.8 243.8,354.9 246.5,356.5 249.2,355.7 250.6,361.2 247.9,363.1 245.2,364.4 242.6,361.2ZM270.6,353.2 273.3,352.1 275.9,352.6 278.6,354.8 280,359.2 277.4,365.6 274.7,360.7 272,361.8ZM281.3,353.5 284,350.4 285.4,359.9 282.7,363.2ZM292,350.6 294.7,348.6 296.1,359 293.4,355.9ZM297.3,351.9 300,349.1 302.7,347.2 305.4,347 308,349.6 309.5,354.7 306.8,355.6 304.1,355.4 301.4,357.1 298.8,356.2ZM313.4,344.6 316.1,348.8 317.5,353.4 314.8,352.5ZM337.5,342.7 340.2,338.3 341.6,348 338.9,346.4ZM516.8,328.8 519.5,330.1 520.8,334.7 518.2,334.9Z" fill="#0018ff" stroke="#0018ff"/>
<path d="M182.3,352.8 184.9,352.9 186.4,359.9 183.7,361ZM187.6,353.8 190.3,356.4 191.7,363.1 189.1,360.9ZM195.7,354.6 198.3,353.9 201,354.9 202.4,362.8 199.8,364.9 197.1,364.2ZM203.7,353.2 206.4,355.5 207.8,362.2 205.1,360.9ZM222.4,355 225.1,353.3 227.8,356.1 229.2,365.4 226.5,363.2 223.8,364.7ZM238.5,354 241.1,354.8 242.6,361.2 239.9,361.9ZM254.5,355.8 257.2,353.9 258.6,362.5 256,363.8ZM267.9,351.6 270.6,353.2 272,361.8 269.3,362.1ZM278.6,354.8 281.3,353.5 282.7,363.2 280,359.2ZM289.3,350.7 292,350.6 293.4,355.9 290.7,359ZM294.7,348.6 297.3,351.9 298.8,356.2 296.1,359ZM318.8,346.3 321.4,345.3 322.8,350.5 320.2,351ZM326.8,341.9 329.5,344.9 330.9,349 328.2,351.9ZM334.8,342 337.5,342.7 338.9,346.4 336.2,346.4ZM436.5,334.2 439.2,333.4 440.6,338.7 437.9,336.8ZM468.6,333.6 471.3,331.9 472.7,338.6 470,337.5ZM476.6,332.6 479.3,331.3 480.7,339.4 478,339.3ZM500.7,331.6 503.4,330.3 504.8,336.7 502.1,336.2ZM508.8,328.3 511.4,329.1 512.8,333.3 510.1,333.6ZM522.1,326.8 524.8,328.5 526.2,332 523.5,333.5Z" fill="#0028ff" stroke="#0028ff"/>
<path d="M209,355.4 211.7,356.5 213.1,364.2 210.5,362.9ZM284,350.4 286.6,350.6 288.1,361.3 285.4,359.9ZM310.7,345.3 313.4,344.6 314.8,352.5 312.1,354.5ZM321.4,345.3 324.1,345.8 325.5,352.7 322.8,350.5ZM332.1,339.6 334.8,342 336.2,346.4 333.5,347.4ZM340.2,338.3 342.8,339.4 345.5,339.1 348.2,335.4 349.6,344.1 346.9,345.2 344.2,346.9 341.6,348ZM372.3,336 374.9,333.6 377.6,332.9 379,337.4 376.3,339.8 373.7,338.2ZM385.7,330.9 388.3,331.2 389.7,336.5 387,336.9ZM391,331.6 393.7,331.6 395.1,335.7 392.4,335ZM412.4,332.4 415.1,330.4 416.5,334.3 413.8,334.5ZM425.8,332.1 428.5,331.9 429.9,338.6 427.2,337ZM444.5,332.4 447.2,331.7 448.6,336.6 445.9,338.8ZM474,330 476.6,332.6 478,339.3 475.3,339.3ZM506.1,329.1 508.8,328.3 510.1,333.6 507.4,334.6ZM511.4,329.1 514.1,326.6 515.5,332.9 512.8,333.3Z" fill="#0048ff" stroke="#0048ff"/>
<path d="M219.7,357.4 222.4,355 223.8,364.7 221.2,364.2ZM233.1,356.5 235.8,354.3 237.2,365.9 234.5,363.7ZM249.2,355.7 251.9,356.7 254.5,355.8 256,363.8 253.3,364.1 250.6,361.2ZM257.2,353.9 259.9,355.1 262.6,355.7 265.2,352.7 267.9,351.6 269.3,362.1 266.7,364.6 264,362.3 261.3,362.2 258.6,362.5ZM308,349.6 310.7,345.3 312.1,354.5 309.5,354.7ZM316.1,348.8 318.8,346.3 320.2,351 317.5,353.4ZM329.5,344.9 332.1,339.6 333.5,347.4 330.9,349ZM519.5,330.1 522.1,326.8 523.5,333.5 520.8,334.7Z" fill="#0008ff" stroke="#0008ff"/>
<path d="M135.4,187.5 138.1,229.1 139.6,235 136.9,193.3Z" fill="#870000" stroke="#870000"/>
<path d="M138.1,229.1 140.8,263.1 142.3,268.6 139.6,235Z" fill="#ff4800" stroke="#ff4800"/>
<path d="M140.8,263.1 143.5,280.1 145,285.3 142.3,268.6Z" fill="#fff700" stroke="#fff700"/>
<path d="M143.5,280.1 146.2,290.9 147.7,296 145,285.3Z" fill="#c7ff38" stroke="#c7ff38"/>
<path d="M146.2,290.9 148.9,300.3 150.3,305.6 147.7,296Z" fill="#87ff78" stroke="#87ff78"/>
<path d="M148.9,300.3 151.6,309.4 153,314.5 150.3,305.6Z" fill="#48ffb7" stroke="#48ffb7"/>
<path d="M151.6,309.4 154.3,317.9 155.7,323.6 153,314.5Z" fill="#38ffc7" stroke="#38ffc7"/>
<path d="M154.3,317.9 156.9,325.5 158.4,331.9 155.7,323.6Z" fill="#08fff7" stroke="#08fff7"/>
<path d="M156.9,325.5 159.6,333.1 161.1,339.2 158.4,331.9Z" fill="#00f7ff" stroke="#00f7ff"/>
<path d="M159.6,333.1 162.3,339.1 163.7,345.3 161.1,339.2Z" fill="#00c7ff" stroke="#00c7ff"/>
<path d="M162.3,339.1 165,346.3 166.4,349.8 163.7,345.3Z" fill="#00a7ff" stroke="#00a7ff"/>
<path d="M165,346.3 167.6,348.2 169.1,355 166.4,349.8Z" fill="#0087ff" stroke="#0087ff"/>
<path d="M167.6,348.2 170.3,352.8 171.8,357.5 169.1,355ZM173,356.7 175.7,358.8 177.1,362.5 174.4,361.6ZM354.9,343.7 357.6,341.9 360.3,342 361.7,345 359,344.2 356.3,346.8ZM363,339 365.6,340.6 367,342.3 364.4,345.3ZM368.3,339.4 371,339 372.4,342.6 369.7,343.4ZM392.4,335 395.1,335.7 396.5,340.8 393.8,340.1ZM400.4,336.4 403.1,334.4 405.8,335.6 408.5,335.7 409.8,339.9 407.2,336.8 404.5,341.6 401.8,342.7ZM413.8,334.5 416.5,334.3 417.9,341.1 415.2,344.4ZM429.9,338.6 432.5,337.9 433.9,340.1 431.2,342.3Z" fill="#0058ff" stroke="#0058ff"/>
<path d="M170.3,352.8 173,356.7 174.4,361.6 171.8,357.5ZM360.3,342 363,339 364.4,345.3 361.7,345ZM373.7,338.2 376.3,339.8 377.7,340.4 375.1,343.8ZM381.7,335.2 384.4,336.9 385.8,340.1 383.1,340.3ZM389.7,336.5 392.4,335 393.8,340.1 391.1,339.9ZM395.1,335.7 397.7,336.4 400.4,336.4 401.8,342.7 399.1,339.2 396.5,340.8ZM408.5,335.7 411.1,334.8 413.8,334.5 415.2,344.4 412.5,343.4 409.8,339.9Z" fill="#0068ff" stroke="#0068ff"/>
<path d="M175.7,358.8 178.4,359.2 179.8,365.2 177.1,362.5ZM344.2,346.9 346.9,345.2 348.3,348.6 345.6,348ZM349.6,344.1 352.3,344.7 354.9,343.7 356.3,346.8 353.7,346.5 351,348.9ZM365.6,340.6 368.3,339.4 369.7,343.4 367,342.3ZM384.4,336.9 387,336.9 389.7,336.5 391.1,339.9 388.4,340.3 385.8,340.1ZM416.5,334.3 419.2,339.3 421.8,339 424.5,339.3 425.9,340.4 423.2,339.3 420.5,340.1 417.9,341.1ZM427.2,337 429.9,338.6 431.2,342.3 428.6,341.6ZM432.5,337.9 435.2,337.9 436.6,340.2 433.9,340.1ZM445.9,338.8 448.6,336.6 450,339.5 447.3,341.3ZM451.3,338.7 453.9,338.7 455.3,343.8 452.6,341.6ZM462,338.2 464.6,341.1 466,344.3 463.3,343.2ZM496.7,335.2 499.4,338.3 500.8,339.2 498.1,341.3ZM507.4,334.6 510.1,333.6 511.5,339.7 508.8,340.3ZM515.5,332.9 518.2,334.9 519.5,336.8 516.8,340.9Z" fill="#0048ff" stroke="#0048ff"/>
<path d="M178.4,359.2 181,360.2 182.5,365.6 179.8,365.2ZM207.8,362.2 210.5,362.9 211.9,366.4 209.2,367.1ZM322.8,350.5 325.5,352.7 328.2,351.9 329.6,351.8 326.9,354.9 324.2,354.8ZM341.6,348 344.2,346.9 345.6,348 343,349.2ZM346.9,345.2 349.6,344.1 351,348.9 348.3,348.6ZM376.3,339.8 379,337.4 381.7,335.2 383.1,340.3 380.4,339.4 377.7,340.4ZM424.5,339.3 427.2,337 428.6,341.6 425.9,340.4ZM435.2,337.9 437.9,336.8 440.6,338.7 441.9,341.8 439.3,339.8 436.6,340.2ZM443.2,338.7 445.9,338.8 447.3,341.3 444.6,343.8ZM448.6,336.6 451.3,338.7 452.6,341.6 450,339.5ZM464.6,341.1 467.3,338.2 470,337.5 472.7,338.6 475.3,339.3 476.7,338.8 474,340.4 471.4,340.8 468.7,343.3 466,344.3ZM480.7,339.4 483.4,337.7 484.7,338.5 482.1,341.6ZM486,335.1 488.7,337.2 491.4,338.1 494.1,339.3 496.7,335.2 498.1,341.3 495.4,339.8 492.8,341.6 490.1,339.4 487.4,342.4ZM499.4,338.3 502.1,336.2 503.5,339.1 500.8,339.2ZM510.1,333.6 512.8,333.3 515.5,332.9 516.8,340.9 514.2,339 511.5,339.7ZM523.5,333.5 526.2,332 527.5,336.6 524.9,339.4Z" fill="#0038ff" stroke="#0038ff"/>
<path d="M181,360.2 183.7,361 186.4,359.9 187.8,365 185.1,366.4 182.5,365.6ZM189.1,360.9 191.7,363.1 194.4,364.3 197.1,364.2 198.5,369.6 195.8,369.4 193.2,365.7 190.5,367ZM202.4,362.8 205.1,360.9 207.8,362.2 209.2,367.1 206.5,368.7 203.9,367.9ZM210.5,362.9 213.1,364.2 215.8,365.5 217.2,368.3 214.6,368.8 211.9,366.4ZM280,359.2 282.7,363.2 284.1,365.4 281.4,366.3ZM285.4,359.9 288.1,361.3 289.5,365.5 286.8,364.7ZM312.1,354.5 314.8,352.5 316.2,357.6 313.5,358.5ZM320.2,351 322.8,350.5 324.2,354.8 321.6,354.9ZM333.5,347.4 336.2,346.4 338.9,346.4 341.6,348 343,349.2 340.3,350.3 337.6,351.6 334.9,351ZM440.6,338.7 443.2,338.7 444.6,343.8 441.9,341.8ZM453.9,338.7 456.6,338 458,341.7 455.3,343.8ZM459.3,339.1 462,338.2 463.3,343.2 460.7,341.9ZM475.3,339.3 478,339.3 480.7,339.4 482.1,341.6 479.4,341.2 476.7,338.8ZM483.4,337.7 486,335.1 487.4,342.4 484.7,338.5ZM502.1,336.2 504.8,336.7 507.4,334.6 508.8,340.3 506.1,337.2 503.5,339.1Z" fill="#0028ff" stroke="#0028ff"/>
<path d="M186.4,359.9 189.1,360.9 190.5,367 187.8,365ZM199.8,364.9 202.4,362.8 203.9,367.9 201.2,368.2ZM215.8,365.5 218.5,364 219.9,369.1 217.2,368.3ZM226.5,363.2 229.2,365.4 231.9,363.3 233.3,368.6 230.6,368.8 227.9,367.8ZM239.9,361.9 242.6,361.2 245.2,364.4 246.7,370 244,368.4 241.3,368.2ZM269.3,362.1 272,361.8 273.4,367.2 270.7,366ZM288.1,361.3 290.7,359 293.4,355.9 296.1,359 298.8,356.2 300.2,362.1 297.5,364.1 294.8,363.1 292.1,364.9 289.5,365.5ZM314.8,352.5 317.5,353.4 318.9,358.2 316.2,357.6ZM456.6,338 459.3,339.1 460.7,341.9 458,341.7ZM520.8,334.7 523.5,333.5 524.9,339.4 522.2,339.6Z" fill="#0018ff" stroke="#0018ff"/>
<path d="M197.1,364.2 199.8,364.9 201.2,368.2 198.5,369.6ZM218.5,364 221.2,364.2 223.8,364.7 226.5,363.2 227.9,367.8 225.3,368.9 222.6,369.3 219.9,369.1ZM231.9,363.3 234.5,363.7 237.2,365.9 238.6,369.6 236,367.6 233.3,368.6ZM245.2,364.4 247.9,363.1 250.6,361.2 253.3,364.1 256,363.8 258.6,362.5 260,368.4 257.4,369.6 254.7,367.5 252,368.5 249.3,369.4 246.7,370ZM261.3,362.2 264,362.3 266.7,364.6 268.1,369.2 265.4,365.7 262.7,365.7ZM272,361.8 274.7,360.7 276.1,367.5 273.4,367.2ZM277.4,365.6 280,359.2 281.4,366.3 278.8,366.4ZM282.7,363.2 285.4,359.9 286.8,364.7 284.1,365.4ZM298.8,356.2 301.4,357.1 304.1,355.4 306.8,355.6 308.2,359.6 305.5,362.9 302.8,362.1 300.2,362.1ZM309.5,354.7 312.1,354.5 313.5,358.5 310.9,360.2ZM328.2,351.9 330.9,349 333.5,347.4 334.9,351 332.3,352.9 329.6,351.8ZM518.2,334.9 520.8,334.7 522.2,339.6 519.5,336.8Z" fill="#0008ff" stroke="#0008ff"/>
<path d="M237.2,365.9 239.9,361.9 241.3,368.2 238.6,369.6ZM258.6,362.5 261.3,362.2 262.7,365.7 260,368.4ZM266.7,364.6 269.3,362.1 270.7,366 268.1,369.2ZM274.7,360.7 277.4,365.6 278.8,366.4 276.1,367.5ZM306.8,355.6 309.5,354.7 310.9,360.2 308.2,359.6ZM317.5,353.4 320.2,351 321.6,354.9 318.9,358.2Z" fill="#0000f7" stroke="#0000f7"/>
<path d="M371,339 373.7,338.2 375.1,343.8 372.4,342.6Z" fill="#0078ff" stroke="#0078ff"/>
<path d="M136.9,193.3 139.6,235 141,240.8 138.3,199.1Z" fill="#970000" stroke="#970000"/>
<path d="M139.6,235 142.3,268.6 143.7,274 141,240.8Z" fill="#ff3800" stroke="#ff3800"/>
<path d="M142.3,268.6 145,285.3 146.4,290.6 143.7,274Z" fill="#fff700" stroke="#fff700"/>
<path d="M145,285.3 147.7,296 149.1,301.1 146.4,290.6Z" fill="#b7ff48" stroke="#b7ff48"/>
<path d="M147.7,296 150.3,305.6 151.8,311 149.1,301.1Z" fill="#87ff78" stroke="#87ff78"/>
<path d="M150.3,305.6 153,314.5 154.5,319.7 151.8,311Z" fill="#58ffa7" stroke="#58ffa7"/>
<path d="M153,314.5 155.7,323.6 157.1,328.4 154.5,319.7Z" fill="#48ffb7" stroke="#48ffb7"/>
<path d="M155.7,323.6 158.4,331.9 159.8,336.6 157.1,328.4Z" fill="#08fff7" stroke="#08fff7"/>
<path d="M158.4,331.9 161.1,339.2 162.5,343.2 159.8,336.6Z" fill="#00e7ff" stroke="#00e7ff"/>
<path d="M161.1,339.2 163.7,345.3 165.2,349.7 162.5,343.2Z" fill="#00c7ff" stroke="#00c7ff"/>
<path d="M163.7,345.3 166.4,349.8 167.8,354.8 165.2,349.7Z" fill="#00a7ff" stroke="#00a7ff"/>
<path d="M166.4,349.8 169.1,355 170.5,360.2 167.8,354.8ZM407.2,336.8 409.8,339.9 411.2,344.3 408.6,343.8Z" fill="#0078ff" stroke="#0078ff"/>
<path d="M169.1,355 171.8,357.5 173.2,361.9 170.5,360.2ZM174.4,361.6 177.1,362.5 178.6,368.8 175.9,364.5ZM345.6,348 348.3,348.6 349.7,353 347,354.7ZM353.7,346.5 356.3,346.8 357.7,351.7 355.1,350.2ZM364.4,345.3 367,342.3 368.4,349.4 365.8,349.4ZM380.4,339.4 383.1,340.3 384.5,344.8 381.8,343.2ZM388.4,340.3 391.1,339.9 392.5,344.9 389.8,343.2ZM401.8,342.7 404.5,341.6 407.2,336.8 408.6,343.8 405.9,344.2 403.2,344.6ZM412.5,343.4 415.2,344.4 416.6,345.9 413.9,343.7ZM420.5,340.1 423.2,339.3 425.9,340.4 427.3,343 424.6,345.3 421.9,344.4ZM433.9,340.1 436.6,340.2 438,345.8 435.3,347.7ZM452.6,341.6 455.3,343.8 456.7,345 454,345.3ZM484.7,338.5 487.4,342.4 488.8,346.5 486.1,344.6ZM495.4,339.8 498.1,341.3 499.5,344.4 496.8,343Z" fill="#0058ff" stroke="#0058ff"/>
<path d="M171.8,357.5 174.4,361.6 175.9,364.5 173.2,361.9ZM356.3,346.8 359,344.2 361.7,345 364.4,345.3 365.8,349.4 363.1,350.1 360.4,350.6 357.7,351.7ZM369.7,343.4 372.4,342.6 375.1,343.8 377.7,340.4 379.1,346.6 376.5,348.7 373.8,347.8 371.1,345.1ZM383.1,340.3 385.8,340.1 387.2,346.3 384.5,344.8ZM391.1,339.9 393.8,340.1 395.2,343.7 392.5,344.9ZM396.5,340.8 399.1,339.2 401.8,342.7 403.2,344.6 400.5,343.6 397.9,341.9ZM409.8,339.9 412.5,343.4 413.9,343.7 411.2,344.3ZM428.6,341.6 431.2,342.3 433.9,340.1 435.3,347.7 432.6,346.4 430,348.7Z" fill="#0068ff" stroke="#0068ff"/>
<path d="M177.1,362.5 179.8,365.2 181.2,369.9 178.6,368.8ZM193.2,365.7 195.8,369.4 197.3,373.2 194.6,373.2ZM209.2,367.1 211.9,366.4 214.6,368.8 216,372.9 213.3,371 210.7,373.4ZM324.2,354.8 326.9,354.9 329.6,351.8 331,356.3 328.3,359.6 325.7,359.2ZM441.9,341.8 444.6,343.8 447.3,341.3 448.7,346 446,346.5 443.3,344ZM460.7,341.9 463.3,343.2 464.7,344.8 462,348.1ZM466,344.3 468.7,343.3 470.1,348 467.4,343.6ZM471.4,340.8 474,340.4 475.4,344.1 472.7,344.5ZM479.4,341.2 482.1,341.6 484.7,338.5 486.1,344.6 483.4,345.6 480.8,346.2ZM487.4,342.4 490.1,339.4 491.5,343 488.8,346.5ZM492.8,341.6 495.4,339.8 496.8,343 494.1,344.4ZM500.8,339.2 503.5,339.1 504.8,344.5 502.2,343.6ZM506.1,337.2 508.8,340.3 510.2,344.5 507.5,343.2ZM511.5,339.7 514.2,339 516.8,340.9 518.2,342.2 515.5,341.5 512.9,342.6Z" fill="#0038ff" stroke="#0038ff"/>
<path d="M179.8,365.2 182.5,365.6 183.9,370.5 181.2,369.9ZM187.8,365 190.5,367 193.2,365.7 194.6,373.2 191.9,371.6 189.3,373.7ZM203.9,367.9 206.5,368.7 208,371 205.3,371.7ZM214.6,368.8 217.2,368.3 219.9,369.1 221.3,371.9 218.7,372.7 216,372.9ZM284.1,365.4 286.8,364.7 289.5,365.5 292.1,364.9 293.6,368.1 290.9,368.5 288.2,367.9 285.5,369.8ZM313.5,358.5 316.2,357.6 317.6,361.2 315,362.9ZM321.6,354.9 324.2,354.8 325.7,359.2 323,360.9ZM329.6,351.8 332.3,352.9 333.7,356.9 331,356.3ZM334.9,351 337.6,351.6 340.3,350.3 343,349.2 344.4,353 341.7,355.8 339,353.2 336.3,357.2ZM455.3,343.8 458,341.7 460.7,341.9 462,348.1 459.4,346.5 456.7,345ZM503.5,339.1 506.1,337.2 507.5,343.2 504.8,344.5ZM519.5,336.8 522.2,339.6 523.6,343.2 520.9,340.5ZM524.9,339.4 527.5,336.6 528.9,343.3 526.2,339.6Z" fill="#0028ff" stroke="#0028ff"/>
<path d="M182.5,365.6 185.1,366.4 187.8,365 189.3,373.7 186.6,371.3 183.9,370.5ZM225.3,368.9 227.9,367.8 229.4,372.7 226.7,373.1ZM233.3,368.6 236,367.6 238.6,369.6 240.1,373.5 237.4,373.8 234.7,372.2ZM244,368.4 246.7,370 249.3,369.4 252,368.5 253.4,372.7 250.8,374.1 248.1,372.4 245.4,372.3ZM254.7,367.5 257.4,369.6 258.8,373 256.1,372.5ZM262.7,365.7 265.4,365.7 268.1,369.2 270.7,366 272.2,370.2 269.5,371.4 266.8,372 264.1,371ZM278.8,366.4 281.4,366.3 282.9,369.3 280.2,369ZM294.8,363.1 297.5,364.1 298.9,368.4 296.2,366.9ZM300.2,362.1 302.8,362.1 305.5,362.9 306.9,365.7 304.3,364.8 301.6,363.6ZM308.2,359.6 310.9,360.2 313.5,358.5 315,362.9 312.3,362.7 309.6,365.9ZM318.9,358.2 321.6,354.9 323,360.9 320.3,360.6ZM332.3,352.9 334.9,351 336.3,357.2 333.7,356.9Z" fill="#0008ff" stroke="#0008ff"/>
<path d="M195.8,369.4 198.5,369.6 201.2,368.2 203.9,367.9 205.3,371.7 202.6,372.8 200,371.6 197.3,373.2ZM206.5,368.7 209.2,367.1 210.7,373.4 208,371ZM219.9,369.1 222.6,369.3 225.3,368.9 226.7,373.1 224,371.9 221.3,371.9ZM227.9,367.8 230.6,368.8 233.3,368.6 234.7,372.2 232,370.6 229.4,372.7ZM241.3,368.2 244,368.4 245.4,372.3 242.7,373.9ZM257.4,369.6 260,368.4 261.5,370.4 258.8,373ZM270.7,366 273.4,367.2 276.1,367.5 277.5,369.5 274.8,369.1 272.2,370.2ZM281.4,366.3 284.1,365.4 285.5,369.8 282.9,369.3ZM292.1,364.9 294.8,363.1 296.2,366.9 293.6,368.1ZM297.5,364.1 300.2,362.1 301.6,363.6 298.9,368.4ZM316.2,357.6 318.9,358.2 320.3,360.6 317.6,361.2ZM522.2,339.6 524.9,339.4 526.2,339.6 523.6,343.2Z" fill="#0018ff" stroke="#0018ff"/>
<path d="M238.6,369.6 241.3,368.2 242.7,373.9 240.1,373.5ZM252,368.5 254.7,367.5 256.1,372.5 253.4,372.7ZM260,368.4 262.7,365.7 264.1,371 261.5,370.4ZM276.1,367.5 278.8,366.4 280.2,369 277.5,369.5ZM305.5,362.9 308.2,359.6 309.6,365.9 306.9,365.7Z" fill="#0000f7" stroke="#0000f7"/>
<path d="M343,349.2 345.6,348 347,354.7 344.4,353ZM348.3,348.6 351,348.9 353.7,346.5 355.1,350.2 352.4,351.9 349.7,353ZM367,342.3 369.7,343.4 371.1,345.1 368.4,349.4ZM377.7,340.4 380.4,339.4 381.8,343.2 379.1,346.6ZM385.8,340.1 388.4,340.3 389.8,343.2 387.2,346.3ZM393.8,340.1 396.5,340.8 397.9,341.9 395.2,343.7ZM415.2,344.4 417.9,341.1 420.5,340.1 421.9,344.4 419.3,344.2 416.6,345.9ZM425.9,340.4 428.6,341.6 430,348.7 427.3,343ZM436.6,340.2 439.3,339.8 441.9,341.8 443.3,344 440.7,344.6 438,345.8ZM447.3,341.3 450,339.5 452.6,341.6 454,345.3 451.3,345.3 448.7,346ZM463.3,343.2 466,344.3 467.4,343.6 464.7,344.8ZM468.7,343.3 471.4,340.8 472.7,344.5 470.1,348ZM474,340.4 476.7,338.8 479.4,341.2 480.8,346.2 478.1,345.6 475.4,344.1ZM490.1,339.4 492.8,341.6 494.1,344.4 491.5,343ZM498.1,341.3 500.8,339.2 502.2,343.6 499.5,344.4ZM508.8,340.3 511.5,339.7 512.9,342.6 510.2,344.5ZM516.8,340.9 519.5,336.8 520.9,340.5 518.2,342.2Z" fill="#0048ff" stroke="#0048ff"/>
<path d="M138.3,199.1 141,240.8 142.5,246.6 139.8,204.9Z" fill="#870000" stroke="#870000"/>
<path d="M141,240.8 143.7,274 145.2,279.5 142.5,246.6Z" fill="#ff5800" stroke="#ff5800"/>
<path d="M143.7,274 146.4,290.6 147.9,295.7 145.2,279.5Z" fill="#fff700" stroke="#fff700"/>
<path d="M146.4,290.6 149.1,301.1 150.5,306.1 147.9,295.7Z" fill="#b7ff48" stroke="#b7ff48"/>
<path d="M149.1,301.1 151.8,311 153.2,315.5 150.5,306.1Z" fill="#87ff78" stroke="#87ff78"/>
<path d="M151.8,311 154.5,319.7 155.9,324.3 153.2,315.5Z" fill="#58ffa7" stroke="#58ffa7"/>
<path d="M154.5,319.7 157.1,328.4 158.6,332.8 155.9,324.3Z" fill="#48ffb7" stroke="#48ffb7"/>
<path d="M157.1,328.4 159.8,336.6 161.3,340.8 158.6,332.8Z" fill="#08fff7" stroke="#08fff7"/>
<path d="M159.8,336.6 162.5,343.2 163.9,346.9 161.3,340.8Z" fill="#00e7ff" stroke="#00e7ff"/>
<path d="M162.5,343.2 165.2,349.7 166.6,353.5 163.9,346.9Z" fill="#00c7ff" stroke="#00c7ff"/>
<path d="M165.2,349.7 167.8,354.8 169.3,357.5 166.6,353.5Z" fill="#00a7ff" stroke="#00a7ff"/>
<path d="M167.8,354.8 170.5,360.2 172,361.1 169.3,357.5Z" fill="#0097ff" stroke="#0097ff"/>
<path d="M170.5,360.2 173.2,361.9 174.6,366.1 172,361.1ZM347,354.7 349.7,353 352.4,351.9 353.8,355.4 351.1,354.7 348.4,356.2ZM355.1,350.2 357.7,351.7 359.1,354.4 356.5,354.8ZM363.1,350.1 365.8,349.4 367.2,351.9 364.5,350.7ZM379.1,346.6 381.8,343.2 384.5,344.8 385.9,348.2 383.2,349.6 380.5,351.5ZM389.8,343.2 392.5,344.9 393.9,350 391.2,350.2ZM395.2,343.7 397.9,341.9 399.3,347.7 396.6,349.4ZM416.6,345.9 419.3,344.2 421.9,344.4 423.3,347.5 420.6,349.1 418,348.9ZM424.6,345.3 427.3,343 430,348.7 431.3,348.9 428.7,349.7 426,348.7ZM443.3,344 446,346.5 447.4,347 444.7,347.4ZM448.7,346 451.3,345.3 452.7,345.2 450.1,348.2ZM454,345.3 456.7,345 458.1,345.3 455.4,350.8ZM464.7,344.8 467.4,343.6 470.1,348 471.4,350.4 468.8,346 466.1,348.1ZM491.5,343 494.1,344.4 495.5,346 492.8,347.4Z" fill="#0058ff" stroke="#0058ff"/>
<path d="M173.2,361.9 175.9,364.5 178.6,368.8 180,371.4 177.3,368.3 174.6,366.1ZM357.7,351.7 360.4,350.6 363.1,350.1 364.5,350.7 361.8,353.2 359.1,354.4ZM365.8,349.4 368.4,349.4 369.8,350 367.2,351.9ZM373.8,347.8 376.5,348.7 379.1,346.6 380.5,351.5 377.9,351 375.2,349.2ZM384.5,344.8 387.2,346.3 388.6,347.3 385.9,348.2ZM392.5,344.9 395.2,343.7 396.6,349.4 393.9,350ZM403.2,344.6 405.9,344.2 408.6,343.8 411.2,344.3 413.9,343.7 416.6,345.9 418,348.9 415.3,345.9 412.6,348.6 409.9,349.5 407.3,349.3 404.6,346.6ZM421.9,344.4 424.6,345.3 426,348.7 423.3,347.5ZM432.6,346.4 435.3,347.7 436.7,346.9 434,349.1Z" fill="#0068ff" stroke="#0068ff"/>
<path d="M178.6,368.8 181.2,369.9 182.7,372.2 180,371.4ZM344.4,353 347,354.7 348.4,356.2 345.8,357ZM352.4,351.9 355.1,350.2 356.5,354.8 353.8,355.4ZM387.2,346.3 389.8,343.2 391.2,350.2 388.6,347.3ZM430,348.7 432.6,346.4 434,349.1 431.3,348.9ZM435.3,347.7 438,345.8 439.4,347.1 436.7,346.9ZM440.7,344.6 443.3,344 444.7,347.4 442,345.7ZM446,346.5 448.7,346 450.1,348.2 447.4,347ZM451.3,345.3 454,345.3 455.4,350.8 452.7,345.2ZM470.1,348 472.7,344.5 475.4,344.1 478.1,345.6 479.5,347.5 476.8,347 474.1,346.9 471.4,350.4ZM480.8,346.2 483.4,345.6 486.1,344.6 488.8,346.5 491.5,343 492.8,347.4 490.2,348.8 487.5,348.2 484.8,346 482.1,346.3ZM494.1,344.4 496.8,343 498.2,341.6 495.5,346ZM515.5,341.5 518.2,342.2 520.9,340.5 522.3,344.7 519.6,342.9 516.9,345.7Z" fill="#0048ff" stroke="#0048ff"/>
<path d="M181.2,369.9 183.9,370.5 185.3,373.9 182.7,372.2ZM191.9,371.6 194.6,373.2 196,371.1 193.4,371ZM205.3,371.7 208,371 209.4,373 206.7,375.7ZM213.3,371 216,372.9 218.7,372.7 220.1,374.4 217.4,370.1 214.8,372.9ZM315,362.9 317.6,361.2 319,363.6 316.4,366ZM325.7,359.2 328.3,359.6 331,356.3 333.7,356.9 335.1,359.4 332.4,358.6 329.7,359.5 327.1,361.4ZM339,353.2 341.7,355.8 343.1,360 340.4,360.8ZM368.4,349.4 371.1,345.1 372.5,352 369.8,350ZM438,345.8 440.7,344.6 442,345.7 439.4,347.1ZM456.7,345 459.4,346.5 462,348.1 464.7,344.8 466.1,348.1 463.4,347.8 460.8,348.6 458.1,345.3ZM478.1,345.6 480.8,346.2 482.1,346.3 479.5,347.5ZM499.5,344.4 502.2,343.6 504.8,344.5 507.5,343.2 510.2,344.5 512.9,342.6 515.5,341.5 516.9,345.7 514.2,346.8 511.6,345 508.9,343.5 506.2,346.5 503.5,345.1 500.9,345.9ZM520.9,340.5 523.6,343.2 524.9,341.3 522.3,344.7ZM526.2,339.6 528.9,343.3 530.3,342.9 527.6,342.1Z" fill="#0038ff" stroke="#0038ff"/>
<path d="M183.9,370.5 186.6,371.3 189.3,373.7 190.7,373.5 188,372.7 185.3,373.9ZM194.6,373.2 197.3,373.2 198.7,371.5 196,371.1ZM200,371.6 202.6,372.8 204.1,373.8 201.4,375.2ZM208,371 210.7,373.4 212.1,372.9 209.4,373ZM218.7,372.7 221.3,371.9 224,371.9 225.4,372.8 222.8,373.9 220.1,374.4ZM226.7,373.1 229.4,372.7 230.8,372.4 228.1,374.2ZM242.7,373.9 245.4,372.3 248.1,372.4 250.8,374.1 253.4,372.7 254.9,374.9 252.2,372.1 249.5,374.3 246.8,372.3 244.2,371.2ZM256.1,372.5 258.8,373 261.5,370.4 262.9,372.2 260.2,374.8 257.5,369.2ZM272.2,370.2 274.8,369.1 276.3,370.7 273.6,371.8ZM282.9,369.3 285.5,369.8 286.9,369.4 284.3,368.9ZM298.9,368.4 301.6,363.6 303,365.4 300.3,366.7ZM304.3,364.8 306.9,365.7 308.3,364.3 305.7,363.9ZM312.3,362.7 315,362.9 316.4,366 313.7,362.7ZM317.6,361.2 320.3,360.6 323,360.9 325.7,359.2 327.1,361.4 324.4,360.5 321.7,361.8 319,363.6ZM333.7,356.9 336.3,357.2 337.8,357.5 335.1,359.4ZM523.6,343.2 526.2,339.6 527.6,342.1 524.9,341.3Z" fill="#0018ff" stroke="#0018ff"/>
<path d="M189.3,373.7 191.9,371.6 193.4,371 190.7,373.5ZM237.4,373.8 240.1,373.5 242.7,373.9 244.2,371.2 241.5,372.5 238.8,371.1ZM261.5,370.4 264.1,371 266.8,372 269.5,371.4 270.9,370.8 268.2,372.6 265.6,372.9 262.9,372.2ZM274.8,369.1 277.5,369.5 280.2,369 281.6,369.8 278.9,368.5 276.3,370.7ZM296.2,366.9 298.9,368.4 300.3,366.7 297.6,367.3ZM306.9,365.7 309.6,365.9 311,363.6 308.3,364.3Z" fill="#0008ff" stroke="#0008ff"/>
<path d="M197.3,373.2 200,371.6 201.4,375.2 198.7,371.5ZM202.6,372.8 205.3,371.7 206.7,375.7 204.1,373.8ZM210.7,373.4 213.3,371 214.8,372.9 212.1,372.9ZM224,371.9 226.7,373.1 228.1,374.2 225.4,372.8ZM229.4,372.7 232,370.6 234.7,372.2 237.4,373.8 238.8,371.1 236.1,370.9 233.5,375 230.8,372.4ZM280.2,369 282.9,369.3 284.3,368.9 281.6,369.8ZM285.5,369.8 288.2,367.9 290.9,368.5 293.6,368.1 296.2,366.9 297.6,367.3 295,367.7 292.3,367.2 289.6,370.5 286.9,369.4ZM301.6,363.6 304.3,364.8 305.7,363.9 303,365.4ZM336.3,357.2 339,353.2 340.4,360.8 337.8,357.5ZM341.7,355.8 344.4,353 345.8,357 343.1,360Z" fill="#0028ff" stroke="#0028ff"/>
<path d="M253.4,372.7 256.1,372.5 257.5,369.2 254.9,374.9ZM269.5,371.4 272.2,370.2 273.6,371.8 270.9,370.8ZM309.6,365.9 312.3,362.7 313.7,362.7 311,363.6Z" fill="#0000f7" stroke="#0000f7"/>
<path d="M371.1,345.1 373.8,347.8 375.2,349.2 372.5,352ZM397.9,341.9 400.5,343.6 403.2,344.6 404.6,346.6 401.9,345.9 399.3,347.7ZM496.8,343 499.5,344.4 500.9,345.9 498.2,341.6Z" fill="#0078ff" stroke="#0078ff"/>
<path d="M139.8,204.9 142.5,246.6 143.9,252.3 141.2,210.7Z" fill="#870000" stroke="#870000"/>
<path d="M142.5,246.6 145.2,279.5 146.6,284.8 143.9,252.3Z" fill="#ff4800" stroke="#ff4800"/>
<path d="M145.2,279.5 147.9,295.7 149.3,300.4 146.6,284.8Z" fill="#fff700" stroke="#fff700"/>
<path d="M147.9,295.7 150.5,306.1 152,310.9 149.3,300.4Z" fill="#c7ff38" stroke="#c7ff38"/>
<path d="M150.5,306.1 153.2,315.5 154.7,320.2 152,310.9Z" fill="#87ff78" stroke="#87ff78"/>
<path d="M153.2,315.5 155.9,324.3 157.3,329 154.7,320.2Z" fill="#58ffa7" stroke="#58ffa7"/>
<path d="M155.9,324.3 158.6,332.8 160,335.6 157.3,329Z" fill="#38ffc7" stroke="#38ffc7"/>
<path d="M158.6,332.8 161.3,340.8 162.7,344 160,335.6Z" fill="#18ffe7" stroke="#18ffe7"/>
<path d="M161.3,340.8 163.9,346.9 165.4,350.3 162.7,344Z" fill="#00f7ff" stroke="#00f7ff"/>
<path d="M163.9,346.9 166.6,353.5 168.1,354.3 165.4,350.3Z" fill="#00d7ff" stroke="#00d7ff"/>
<path d="M166.6,353.5 169.3,357.5 172,361.1 173.4,361.8 170.7,359.4 168.1,354.3Z" fill="#00a7ff" stroke="#00a7ff"/>
<path d="M172,361.1 174.6,366.1 177.3,368.3 180,371.4 181.4,368 178.8,368 176.1,366.6 173.4,361.8ZM348.4,356.2 351.1,354.7 353.8,355.4 356.5,354.8 357.9,352.8 355.2,356.3 352.5,354.8 349.8,355.2ZM372.5,352 375.2,349.2 376.6,351.8 373.9,352.2ZM377.9,351 380.5,351.5 381.9,352 379.3,352.5ZM385.9,348.2 388.6,347.3 391.2,350.2 392.6,350.3 389.9,348.5 387.3,352ZM393.9,350 396.6,349.4 399.3,347.7 400.6,349.9 398,348.8 395.3,348.8ZM404.6,346.6 407.3,349.3 409.9,349.5 412.6,348.6 414,346.7 411.3,348.2 408.7,348.5 406,351.6ZM431.3,348.9 434,349.1 436.7,346.9 438.1,344.7 435.4,350.1 432.7,348.9ZM450.1,348.2 452.7,345.2 454.1,347.9 451.4,348.4ZM468.8,346 471.4,350.4 472.8,347.4 470.2,348.5ZM492.8,347.4 495.5,346 496.9,344.9 494.2,345.9ZM519.6,342.9 522.3,344.7 523.6,342.8 520.9,343Z" fill="#0068ff" stroke="#0068ff"/>
<path d="M180,371.4 182.7,372.2 184.1,371.2 181.4,368ZM198.7,371.5 201.4,375.2 202.8,371.7 200.1,371.3ZM214.8,372.9 217.4,370.1 220.1,374.4 221.5,371.8 218.9,371.5 216.2,370.1ZM327.1,361.4 329.7,359.5 332.4,358.6 333.8,359.7 331.1,361.6 328.5,360.1ZM345.8,357 348.4,356.2 349.8,355.2 347.2,357.7ZM356.5,354.8 359.1,354.4 360.5,356.4 357.9,352.8ZM369.8,350 372.5,352 373.9,352.2 371.2,353.8ZM380.5,351.5 383.2,349.6 385.9,348.2 387.3,352 384.6,350 381.9,352ZM418,348.9 420.6,349.1 423.3,347.5 424.7,349.1 422,347.7 419.4,350.2ZM426,348.7 428.7,349.7 431.3,348.9 432.7,348.9 430,347.2 427.4,347.1ZM439.4,347.1 442,345.7 444.7,347.4 447.4,347 450.1,348.2 451.4,348.4 448.8,350.3 446.1,348.8 443.4,349.1 440.7,346.8ZM452.7,345.2 455.4,350.8 456.8,350.3 454.1,347.9ZM458.1,345.3 460.8,348.6 462.1,349.5 459.5,347.3ZM463.4,347.8 466.1,348.1 468.8,346 470.2,348.5 467.5,347.3 464.8,349.3ZM474.1,346.9 476.8,347 479.5,347.5 482.1,346.3 483.5,346.7 480.8,347.9 478.2,345.9 475.5,346.9ZM484.8,346 487.5,348.2 490.2,348.8 491.5,344.7 488.9,348 486.2,347.9ZM495.5,346 498.2,341.6 499.6,344.1 496.9,344.9ZM500.9,345.9 503.5,345.1 506.2,346.5 507.6,345.1 504.9,348.4 502.2,346.5ZM508.9,343.5 511.6,345 514.2,346.8 515.6,345.2 512.9,342.9 510.3,345.3ZM516.9,345.7 519.6,342.9 520.9,343 518.3,343.6Z" fill="#0058ff" stroke="#0058ff"/>
<path d="M182.7,372.2 185.3,373.9 186.8,370.5 184.1,371.2ZM204.1,373.8 206.7,375.7 209.4,373 212.1,372.9 213.5,371.7 210.8,371.7 208.2,370.7 205.5,371.8ZM233.5,375 236.1,370.9 238.8,371.1 241.5,372.5 242.9,370.2 240.2,371 237.6,373.2 234.9,373.2ZM244.2,371.2 246.8,372.3 248.3,368.2 245.6,370.2ZM252.2,372.1 254.9,374.9 256.3,369.3 253.6,370.4ZM257.5,369.2 260.2,374.8 261.6,366.7 259,367.7ZM292.3,367.2 295,367.7 296.4,362.8 293.7,363.9ZM303,365.4 305.7,363.9 308.3,364.3 309.7,363.1 307.1,362.8 304.4,361.5ZM316.4,366 319,363.6 320.4,362.6 317.8,360.7ZM321.7,361.8 324.4,360.5 325.8,361.9 323.1,360.5ZM340.4,360.8 343.1,360 345.8,357 347.2,357.7 344.5,355.8 341.8,356.4ZM490.2,348.8 492.8,347.4 494.2,345.9 491.5,344.7ZM522.3,344.7 524.9,341.3 526.3,342.2 523.6,342.8Z" fill="#0038ff" stroke="#0038ff"/>
<path d="M185.3,373.9 188,372.7 190.7,373.5 193.4,371 194.8,374.3 192.1,370.3 189.4,369.4 186.8,370.5ZM201.4,375.2 204.1,373.8 205.5,371.8 202.8,371.7ZM220.1,374.4 222.8,373.9 225.4,372.8 226.9,366.6 224.2,373.2 221.5,371.8ZM228.1,374.2 230.8,372.4 232.2,370 229.5,372.5ZM241.5,372.5 244.2,371.2 245.6,370.2 242.9,370.2ZM246.8,372.3 249.5,374.3 250.9,369.8 248.3,368.2ZM260.2,374.8 262.9,372.2 264.3,368.4 261.6,366.7ZM270.9,370.8 273.6,371.8 276.3,370.7 278.9,368.5 281.6,369.8 284.3,368.9 286.9,369.4 288.4,365.9 285.7,365.1 283,367.2 280.3,366.5 277.7,367.2 275,367.4 272.3,369.7ZM300.3,366.7 303,365.4 304.4,361.5 301.7,363.4ZM308.3,364.3 311,363.6 313.7,362.7 316.4,366 317.8,360.7 315.1,359.3 312.4,365.1 309.7,363.1ZM335.1,359.4 337.8,357.5 339.2,354.4 336.5,357.5Z" fill="#0028ff" stroke="#0028ff"/>
<path d="M193.4,371 196,371.1 198.7,371.5 200.1,371.3 197.5,373 194.8,374.3ZM212.1,372.9 214.8,372.9 216.2,370.1 213.5,371.7ZM230.8,372.4 233.5,375 234.9,373.2 232.2,370ZM286.9,369.4 289.6,370.5 292.3,367.2 293.7,363.9 291,365 288.4,365.9ZM295,367.7 297.6,367.3 299.1,365.8 296.4,362.8ZM324.4,360.5 327.1,361.4 328.5,360.1 325.8,361.9ZM332.4,358.6 335.1,359.4 336.5,357.5 333.8,359.7ZM337.8,357.5 340.4,360.8 341.8,356.4 339.2,354.4ZM391.2,350.2 393.9,350 395.3,348.8 392.6,350.3ZM455.4,350.8 458.1,345.3 459.5,347.3 456.8,350.3ZM460.8,348.6 463.4,347.8 464.8,349.3 462.1,349.5ZM471.4,350.4 474.1,346.9 475.5,346.9 472.8,347.4ZM482.1,346.3 484.8,346 486.2,347.9 483.5,346.7ZM506.2,346.5 508.9,343.5 510.3,345.3 507.6,345.1ZM514.2,346.8 516.9,345.7 518.3,343.6 515.6,345.2ZM524.9,341.3 527.6,342.1 530.3,342.9 531.6,343.3 529,343.8 526.3,342.2Z" fill="#0048ff" stroke="#0048ff"/>
<path d="M225.4,372.8 228.1,374.2 229.5,372.5 226.9,366.6ZM249.5,374.3 252.2,372.1 253.6,370.4 250.9,369.8ZM254.9,374.9 257.5,369.2 259,367.7 256.3,369.3ZM262.9,372.2 265.6,372.9 268.2,372.6 270.9,370.8 272.3,369.7 269.6,368.7 267,370 264.3,368.4ZM297.6,367.3 300.3,366.7 301.7,363.4 299.1,365.8ZM319,363.6 321.7,361.8 323.1,360.5 320.4,362.6Z" fill="#0018ff" stroke="#0018ff"/>
<path d="M359.1,354.4 361.8,353.2 364.5,350.7 367.2,351.9 369.8,350 371.2,353.8 368.6,354.2 365.9,352.2 363.2,355 360.5,356.4ZM399.3,347.7 401.9,345.9 403.3,352.1 400.6,349.9ZM412.6,348.6 415.3,345.9 416.7,349.4 414,346.7ZM423.3,347.5 426,348.7 427.4,347.1 424.7,349.1ZM436.7,346.9 439.4,347.1 440.7,346.8 438.1,344.7Z" fill="#0078ff" stroke="#0078ff"/>
<path d="M375.2,349.2 377.9,351 379.3,352.5 376.6,351.8ZM401.9,345.9 404.6,346.6 406,351.6 403.3,352.1ZM415.3,345.9 418,348.9 419.4,350.2 416.7,349.4ZM498.2,341.6 500.9,345.9 502.2,346.5 499.6,344.1Z" fill="#0087ff" stroke="#0087ff"/>
<path d="M141.2,210.7 143.9,252.3 145.4,258.1 142.7,216.5Z" fill="#870000" stroke="#870000"/>
<path d="M143.9,252.3 146.6,284.8 148.1,290 145.4,258.1Z" fill="#ff4800" stroke="#ff4800"/>
<path d="M146.6,284.8 149.3,300.4 150.8,305.3 148.1,290Z" fill="#ffe700" stroke="#ffe700"/>
<path d="M149.3,300.4 152,310.9 153.4,315.3 150.8,305.3Z" fill="#b7ff48" stroke="#b7ff48"/>
<path d="M152,310.9 154.7,320.2 156.1,324.1 153.4,315.3Z" fill="#87ff78" stroke="#87ff78"/>
<path d="M154.7,320.2 157.3,329 158.8,332.8 156.1,324.1Z" fill="#58ffa7" stroke="#58ffa7"/>
<path d="M157.3,329 160,335.6 161.5,340.1 158.8,332.8Z" fill="#38ffc7" stroke="#38ffc7"/>
<path d="M160,335.6 162.7,344 164.1,346.8 161.5,340.1Z" fill="#28ffd7" stroke="#28ffd7"/>
<path d="M162.7,344 165.4,350.3 166.8,353.1 164.1,346.8Z" fill="#00f7ff" stroke="#00f7ff"/>
<path d="M165.4,350.3 168.1,354.3 169.5,357.6 166.8,353.1Z" fill="#00d7ff" stroke="#00d7ff"/>
<path d="M168.1,354.3 170.7,359.4 172.2,360 169.5,357.6Z" fill="#00c7ff" stroke="#00c7ff"/>
<path d="M170.7,359.4 173.4,361.8 174.8,361.7 172.2,360Z" fill="#00a7ff" stroke="#00a7ff"/>
<path d="M173.4,361.8 176.1,366.6 177.5,365.2 174.8,361.7ZM218.9,371.5 221.5,371.8 223,367.7 220.3,369.7ZM328.5,360.1 331.1,361.6 332.5,361.4 329.9,359.8ZM349.8,355.2 352.5,354.8 355.2,356.3 357.9,352.8 360.5,356.4 363.2,355 364.6,354 361.9,356.2 359.3,357.5 356.6,355.4 353.9,356.7 351.3,358.3ZM368.6,354.2 371.2,353.8 372.6,353.8 370,356.3ZM398,348.8 400.6,349.9 402,353.4 399.4,352.8ZM403.3,352.1 406,351.6 408.7,348.5 411.3,348.2 412.7,353.7 410.1,352.5 407.4,351.5 404.7,353.6ZM419.4,350.2 422,347.7 424.7,349.1 427.4,347.1 428.8,351.4 426.1,350.5 423.4,351.6 420.7,351.4ZM456.8,350.3 459.5,347.3 460.8,350.5 458.2,349.2ZM467.5,347.3 470.2,348.5 472.8,347.4 475.5,346.9 476.9,347.8 474.2,350.5 471.5,350.4 468.9,348.2ZM478.2,345.9 480.8,347.9 483.5,346.7 484.9,348.1 482.2,349.4 479.5,349.1ZM491.5,344.7 494.2,345.9 496.9,344.9 499.6,344.1 500.9,345.6 498.3,347.7 495.6,348.4 492.9,348.5ZM502.2,346.5 504.9,348.4 506.3,347.4 503.6,347.2ZM518.3,343.6 520.9,343 522.3,343.2 519.6,344.4Z" fill="#0078ff" stroke="#0078ff"/>
<path d="M176.1,366.6 178.8,368 181.4,368 184.1,371.2 185.5,369.3 182.9,369.6 180.2,368.5 177.5,365.2ZM363.2,355 365.9,352.2 368.6,354.2 370,356.3 367.3,357 364.6,354ZM379.3,352.5 381.9,352 383.3,354.6 380.7,355.3ZM395.3,348.8 398,348.8 399.4,352.8 396.7,354.4ZM400.6,349.9 403.3,352.1 404.7,353.6 402,353.4ZM411.3,348.2 414,346.7 415.4,348.8 412.7,353.7ZM416.7,349.4 419.4,350.2 420.7,351.4 418.1,351.4ZM427.4,347.1 430,347.2 431.4,354.9 428.8,351.4ZM432.7,348.9 435.4,350.1 438.1,344.7 439.5,350.2 436.8,350.5 434.1,349.6ZM451.4,348.4 454.1,347.9 455.5,349.8 452.8,348.7ZM512.9,342.9 515.6,345.2 517,347.1 514.3,348.2ZM520.9,343 523.6,342.8 525,345.6 522.3,343.2Z" fill="#0087ff" stroke="#0087ff"/>
<path d="M184.1,371.2 186.8,370.5 188.2,368 185.5,369.3ZM189.4,369.4 192.1,370.3 193.6,371.3 190.9,371.1ZM194.8,374.3 197.5,373 198.9,373.8 196.2,371.4ZM202.8,371.7 205.5,371.8 208.2,370.7 209.6,372.1 206.9,370.5 204.2,370.3ZM221.5,371.8 224.2,373.2 225.6,368.1 223,367.7ZM245.6,370.2 248.3,368.2 250.9,369.8 253.6,370.4 256.3,369.3 257.7,368.6 255,367 252.4,366.1 249.7,366 247,366.9ZM259,367.7 261.6,366.7 263,367.8 260.4,368.3ZM277.7,367.2 280.3,366.5 281.8,365.5 279.1,365.4ZM283,367.2 285.7,365.1 287.1,365.4 284.4,366.6ZM301.7,363.4 304.4,361.5 307.1,362.8 309.7,363.1 311.2,363.9 308.5,364 305.8,362.9 303.1,363.5ZM315.1,359.3 317.8,360.7 319.2,360.1 316.5,362.2ZM325.8,361.9 328.5,360.1 329.9,359.8 327.2,361.1ZM341.8,356.4 344.5,355.8 345.9,359.8 343.2,360ZM448.8,350.3 451.4,348.4 452.8,348.7 450.1,354ZM462.1,349.5 464.8,349.3 466.2,349.7 463.5,350.5ZM523.6,342.8 526.3,342.2 529,343.8 530.3,343.6 527.7,345.6 525,345.6Z" fill="#0058ff" stroke="#0058ff"/>
<path d="M186.8,370.5 189.4,369.4 190.9,371.1 188.2,368ZM192.1,370.3 194.8,374.3 196.2,371.4 193.6,371.3ZM197.5,373 200.1,371.3 201.6,368.6 198.9,373.8ZM210.8,371.7 213.5,371.7 214.9,371.3 212.3,371.3ZM224.2,373.2 226.9,366.6 228.3,367.7 225.6,368.1ZM229.5,372.5 232.2,370 233.6,370.3 231,369.2ZM234.9,373.2 237.6,373.2 240.2,371 242.9,370.2 245.6,370.2 247,366.9 244.3,366.3 241.7,367.2 239,370.2 236.3,368.3ZM264.3,368.4 267,370 268.4,368 265.7,367.1ZM269.6,368.7 272.3,369.7 273.7,367.2 271.1,366.8ZM280.3,366.5 283,367.2 284.4,366.6 281.8,365.5ZM299.1,365.8 301.7,363.4 303.1,363.5 300.5,365.1ZM320.4,362.6 323.1,360.5 325.8,361.9 327.2,361.1 324.5,360.7 321.9,363ZM333.8,359.7 336.5,357.5 339.2,354.4 340.6,357.5 337.9,360.1 335.2,359.9Z" fill="#0048ff" stroke="#0048ff"/>
<path d="M200.1,371.3 202.8,371.7 204.2,370.3 201.6,368.6ZM208.2,370.7 210.8,371.7 212.3,371.3 209.6,372.1ZM213.5,371.7 216.2,370.1 218.9,371.5 220.3,369.7 217.6,370.4 214.9,371.3ZM226.9,366.6 229.5,372.5 231,369.2 228.3,367.7ZM232.2,370 234.9,373.2 236.3,368.3 233.6,370.3ZM261.6,366.7 264.3,368.4 265.7,367.1 263,367.8ZM275,367.4 277.7,367.2 279.1,365.4 276.4,365.7ZM285.7,365.1 288.4,365.9 291,365 293.7,363.9 296.4,362.8 299.1,365.8 300.5,365.1 297.8,364.7 295.1,363.9 292.4,366.7 289.8,365.4 287.1,365.4ZM317.8,360.7 320.4,362.6 321.9,363 319.2,360.1ZM331.1,361.6 333.8,359.7 335.2,359.9 332.5,361.4ZM339.2,354.4 341.8,356.4 343.2,360 340.6,357.5ZM344.5,355.8 347.2,357.7 349.8,355.2 351.3,358.3 348.6,357.8 345.9,359.8ZM371.2,353.8 373.9,352.2 375.3,355 372.6,353.8ZM381.9,352 384.6,350 387.3,352 389.9,348.5 392.6,350.3 395.3,348.8 396.7,354.4 394,352.3 391.3,352.5 388.7,354.4 386,351.8 383.3,354.6ZM430,347.2 432.7,348.9 434.1,349.6 431.4,354.9ZM440.7,346.8 443.4,349.1 446.1,348.8 448.8,350.3 450.1,354 447.5,350.4 444.8,350.2 442.1,351.8ZM454.1,347.9 456.8,350.3 458.2,349.2 455.5,349.8ZM459.5,347.3 462.1,349.5 463.5,350.5 460.8,350.5ZM464.8,349.3 467.5,347.3 468.9,348.2 466.2,349.7ZM475.5,346.9 478.2,345.9 479.5,349.1 476.9,347.8ZM483.5,346.7 486.2,347.9 488.9,348 491.5,344.7 492.9,348.5 490.2,346.1 487.6,346.5 484.9,348.1ZM504.9,348.4 507.6,345.1 510.3,345.3 512.9,342.9 514.3,348.2 511.6,345.7 508.9,347.4 506.3,347.4ZM515.6,345.2 518.3,343.6 519.6,344.4 517,347.1ZM529,343.8 531.6,343.3 533,344.6 530.3,343.6Z" fill="#0068ff" stroke="#0068ff"/>
<path d="M256.3,369.3 259,367.7 260.4,368.3 257.7,368.6ZM267,370 269.6,368.7 271.1,366.8 268.4,368ZM272.3,369.7 275,367.4 276.4,365.7 273.7,367.2ZM309.7,363.1 312.4,365.1 315.1,359.3 316.5,362.2 313.8,362.4 311.2,363.9Z" fill="#0038ff" stroke="#0038ff"/>
<path d="M373.9,352.2 376.6,351.8 379.3,352.5 380.7,355.3 378,356.1 375.3,355ZM414,346.7 416.7,349.4 418.1,351.4 415.4,348.8ZM438.1,344.7 440.7,346.8 442.1,351.8 439.5,350.2ZM499.6,344.1 502.2,346.5 503.6,347.2 500.9,345.6Z" fill="#0097ff" stroke="#0097ff"/>
<path d="M142.7,216.5 145.4,258.1 146.8,263.7 144.2,222.2Z" fill="#970000" stroke="#970000"/>
<path d="M145.4,258.1 148.1,290 149.5,295.2 146.8,263.7Z" fill="#ff5800" stroke="#ff5800"/>
<path d="M148.1,290 150.8,305.3 152.2,310.1 149.5,295.2Z" fill="#fff700" stroke="#fff700"/>
<path d="M150.8,305.3 153.4,315.3 154.9,319.9 152.2,310.1Z" fill="#b7ff48" stroke="#b7ff48"/>
<path d="M153.4,315.3 156.1,324.1 157.6,328 154.9,319.9Z" fill="#87ff78" stroke="#87ff78"/>
<path d="M156.1,324.1 158.8,332.8 160.2,336.2 157.6,328Z" fill="#68ff97" stroke="#68ff97"/>
<path d="M158.8,332.8 161.5,340.1 162.9,343.7 160.2,336.2Z" fill="#48ffb7" stroke="#48ffb7"/>
<path d="M161.5,340.1 164.1,346.8 166.8,353.1 168.3,355.7 165.6,349.6 162.9,343.7Z" fill="#18ffe7" stroke="#18ffe7"/>
<path d="M166.8,353.1 169.5,357.6 170.9,359.9 168.3,355.7Z" fill="#00e7ff" stroke="#00e7ff"/>
<path d="M169.5,357.6 172.2,360 173.6,362.6 170.9,359.9Z" fill="#00d7ff" stroke="#00d7ff"/>
<path d="M172.2,360 174.8,361.7 176.3,362.5 173.6,362.6Z" fill="#00c7ff" stroke="#00c7ff"/>
<path d="M174.8,361.7 177.5,365.2 179,366.6 176.3,362.5ZM415.4,348.8 418.1,351.4 420.7,351.4 422.1,355.3 419.5,351.2 416.8,355.1ZM500.9,345.6 503.6,347.2 505,349 502.3,347.1Z" fill="#00a7ff" stroke="#00a7ff"/>
<path d="M177.5,365.2 180.2,368.5 182.9,369.6 185.5,369.3 187,369.2 184.3,365.5 181.6,367.8 179,366.6ZM220.3,369.7 223,367.7 224.4,366.6 221.7,366ZM348.6,357.8 351.3,358.3 352.7,359.6 350,356.9ZM353.9,356.7 356.6,355.4 358,360.1 355.3,359.3ZM361.9,356.2 364.6,354 367.3,357 370,356.3 372.6,353.8 374,357.9 371.4,356.1 368.7,359.2 366,360.1 363.3,358.8ZM380.7,355.3 383.3,354.6 384.7,356.7 382,356.6ZM402,353.4 404.7,353.6 407.4,351.5 408.8,353.9 406.1,355.7 403.4,355.5ZM420.7,351.4 423.4,351.6 424.8,355.8 422.1,355.3ZM426.1,350.5 428.8,351.4 430.2,352.8 427.5,352.8ZM434.1,349.6 436.8,350.5 439.5,350.2 442.1,351.8 443.5,352.2 440.8,352.7 438.2,354.6 435.5,354ZM452.8,348.7 455.5,349.8 456.9,350.9 454.2,351ZM476.9,347.8 479.5,349.1 480.9,352.3 478.3,349.9ZM522.3,343.2 525,345.6 526.4,346.6 523.7,348.8Z" fill="#0097ff" stroke="#0097ff"/>
<path d="M185.5,369.3 188.2,368 189.6,368.9 187,369.2ZM196.2,371.4 198.9,373.8 200.3,370.1 197.7,371.9ZM204.2,370.3 206.9,370.5 209.6,372.1 212.3,371.3 213.7,369.3 211,368.5 208.3,368 205.7,368.3ZM225.6,368.1 228.3,367.7 231,369.2 233.6,370.3 236.3,368.3 237.7,368.9 235.1,364.8 232.4,367.6 229.7,365.5 227.1,367.6ZM241.7,367.2 244.3,366.3 247,366.9 249.7,366 252.4,366.1 255,367 257.7,368.6 259.1,366 256.5,366.7 253.8,365.9 251.1,367 248.4,365.6 245.8,366.5 243.1,367.4ZM276.4,365.7 279.1,365.4 280.5,365.7 277.8,365.8ZM284.4,366.6 287.1,365.4 289.8,365.4 291.2,365.7 288.5,363.7 285.8,366.9ZM292.4,366.7 295.1,363.9 296.5,364.9 293.9,363.2ZM308.5,364 311.2,363.9 312.6,363.3 309.9,364.7ZM332.5,361.4 335.2,359.9 336.6,361.6 333.9,360.7ZM359.3,357.5 361.9,356.2 363.3,358.8 360.7,358.7ZM372.6,353.8 375.3,355 376.7,359.4 374,357.9ZM383.3,354.6 386,351.8 388.7,354.4 390.1,357.2 387.4,356.4 384.7,356.7ZM391.3,352.5 394,352.3 395.4,357.4 392.7,356.4ZM399.4,352.8 402,353.4 403.4,355.5 400.8,355.3ZM428.8,351.4 431.4,354.9 434.1,349.6 435.5,354 432.8,352.2 430.2,352.8ZM444.8,350.2 447.5,350.4 450.1,354 452.8,348.7 454.2,351 451.5,353.4 448.9,352 446.2,354.3ZM455.5,349.8 458.2,349.2 459.5,352 456.9,350.9ZM460.8,350.5 463.5,350.5 464.9,352.2 462.2,350.8ZM466.2,349.7 468.9,348.2 470.2,351.6 467.6,349.5ZM484.9,348.1 487.6,346.5 488.9,347.3 486.3,346.7ZM506.3,347.4 508.9,347.4 510.3,349.2 507.6,346.8ZM511.6,345.7 514.3,348.2 515.7,347.4 513,349.3ZM517,347.1 519.6,344.4 521,346.2 518.3,345.7ZM530.3,343.6 533,344.6 534.4,345.7 531.7,343.4Z" fill="#0078ff" stroke="#0078ff"/>
<path d="M188.2,368 190.9,371.1 192.3,368.8 189.6,368.9ZM193.6,371.3 196.2,371.4 197.7,371.9 195,366.9ZM198.9,373.8 201.6,368.6 203,368.9 200.3,370.1ZM212.3,371.3 214.9,371.3 216.4,368 213.7,369.3ZM239,370.2 241.7,367.2 243.1,367.4 240.4,366.6ZM257.7,368.6 260.4,368.3 263,367.8 264.5,367.4 261.8,364.7 259.1,366ZM268.4,368 271.1,366.8 273.7,367.2 275.2,366.5 272.5,365.9 269.8,365.6ZM279.1,365.4 281.8,365.5 283.2,363.4 280.5,365.7ZM300.5,365.1 303.1,363.5 304.6,361 301.9,363.2ZM305.8,362.9 308.5,364 309.9,364.7 307.2,363.2ZM316.5,362.2 319.2,360.1 320.6,363.3 317.9,360.9ZM327.2,361.1 329.9,359.8 331.3,362.2 328.6,360.5ZM335.2,359.9 337.9,360.1 339.3,360.1 336.6,361.6ZM340.6,357.5 343.2,360 344.6,361.7 342,360ZM345.9,359.8 348.6,357.8 350,356.9 347.3,362.7ZM442.1,351.8 444.8,350.2 446.2,354.3 443.5,352.2ZM463.5,350.5 466.2,349.7 467.6,349.5 464.9,352.2ZM508.9,347.4 511.6,345.7 513,349.3 510.3,349.2ZM525,345.6 527.7,345.6 529,347.6 526.4,346.6Z" fill="#0068ff" stroke="#0068ff"/>
<path d="M190.9,371.1 193.6,371.3 195,366.9 192.3,368.8ZM265.7,367.1 268.4,368 269.8,365.6 267.1,363.5ZM273.7,367.2 276.4,365.7 277.8,365.8 275.2,366.5ZM281.8,365.5 284.4,366.6 285.8,366.9 283.2,363.4ZM311.2,363.9 313.8,362.4 316.5,362.2 317.9,360.9 315.2,362.4 312.6,363.3ZM321.9,363 324.5,360.7 327.2,361.1 328.6,360.5 325.9,361 323.3,363.8ZM337.9,360.1 340.6,357.5 342,360 339.3,360.1ZM343.2,360 345.9,359.8 347.3,362.7 344.6,361.7ZM527.7,345.6 530.3,343.6 531.7,343.4 529,347.6Z" fill="#0058ff" stroke="#0058ff"/>
<path d="M201.6,368.6 204.2,370.3 205.7,368.3 203,368.9ZM214.9,371.3 217.6,370.4 220.3,369.7 221.7,366 219,369 216.4,368ZM223,367.7 225.6,368.1 227.1,367.6 224.4,366.6ZM236.3,368.3 239,370.2 240.4,366.6 237.7,368.9ZM263,367.8 265.7,367.1 267.1,363.5 264.5,367.4ZM289.8,365.4 292.4,366.7 293.9,363.2 291.2,365.7ZM295.1,363.9 297.8,364.7 300.5,365.1 301.9,363.2 299.2,365 296.5,364.9ZM303.1,363.5 305.8,362.9 307.2,363.2 304.6,361ZM319.2,360.1 321.9,363 323.3,363.8 320.6,363.3ZM329.9,359.8 332.5,361.4 333.9,360.7 331.3,362.2ZM351.3,358.3 353.9,356.7 355.3,359.3 352.7,359.6ZM356.6,355.4 359.3,357.5 360.7,358.7 358,360.1ZM375.3,355 378,356.1 380.7,355.3 382,356.6 379.4,355.1 376.7,359.4ZM388.7,354.4 391.3,352.5 392.7,356.4 390.1,357.2ZM394,352.3 396.7,354.4 399.4,352.8 400.8,355.3 398.1,355.7 395.4,357.4ZM407.4,351.5 410.1,352.5 412.7,353.7 415.4,348.8 416.8,355.1 414.1,357 411.4,352.4 408.8,353.9ZM423.4,351.6 426.1,350.5 427.5,352.8 424.8,355.8ZM458.2,349.2 460.8,350.5 462.2,350.8 459.5,352ZM468.9,348.2 471.5,350.4 474.2,350.5 476.9,347.8 478.3,349.9 475.6,350.9 472.9,350.9 470.2,351.6ZM479.5,349.1 482.2,349.4 484.9,348.1 486.3,346.7 483.6,348.2 480.9,352.3ZM487.6,346.5 490.2,346.1 492.9,348.5 495.6,348.4 498.3,347.7 500.9,345.6 502.3,347.1 499.6,349.7 497,349.3 494.3,350.2 491.6,349.7 488.9,347.3ZM503.6,347.2 506.3,347.4 507.6,346.8 505,349ZM514.3,348.2 517,347.1 518.3,345.7 515.7,347.4ZM519.6,344.4 522.3,343.2 523.7,348.8 521,346.2Z" fill="#0087ff" stroke="#0087ff"/>
<path d="M144.2,222.2 146.8,263.7 148.3,269.4 145.6,228Z" fill="#970000" stroke="#970000"/>
<path d="M146.8,263.7 149.5,295.2 151,300.2 148.3,269.4Z" fill="#ff5800" stroke="#ff5800"/>
<path d="M149.5,295.2 152.2,310.1 153.6,314.6 151,300.2Z" fill="#fff700" stroke="#fff700"/>
<path d="M152.2,310.1 154.9,319.9 156.3,323.7 153.6,314.6Z" fill="#c7ff38" stroke="#c7ff38"/>
<path d="M154.9,319.9 157.6,328 159,332.2 156.3,323.7Z" fill="#87ff78" stroke="#87ff78"/>
<path d="M157.6,328 160.2,336.2 161.7,339 159,332.2Z" fill="#68ff97" stroke="#68ff97"/>
<path d="M160.2,336.2 162.9,343.7 164.3,345.5 161.7,339Z" fill="#58ffa7" stroke="#58ffa7"/>
<path d="M162.9,343.7 165.6,349.6 167,351.1 164.3,345.5Z" fill="#28ffd7" stroke="#28ffd7"/>
<path d="M165.6,349.6 168.3,355.7 169.7,356.1 167,351.1Z" fill="#18ffe7" stroke="#18ffe7"/>
<path d="M168.3,355.7 170.9,359.9 172.4,359.3 169.7,356.1Z" fill="#00f7ff" stroke="#00f7ff"/>
<path d="M170.9,359.9 173.6,362.6 175,363.2 172.4,359.3Z" fill="#00e7ff" stroke="#00e7ff"/>
<path d="M173.6,362.6 176.3,362.5 177.7,364.2 175,363.2ZM221.7,366 224.4,366.6 225.8,366.1 223.1,368.1Z" fill="#00c7ff" stroke="#00c7ff"/>
<path d="M176.3,362.5 179,366.6 181.6,367.8 183.1,367 180.4,366.2 177.7,364.2ZM184.3,365.5 187,369.2 188.4,367.1 185.7,367.9ZM293.9,363.2 296.5,364.9 297.9,363.9 295.3,363.6ZM419.5,351.2 422.1,355.3 423.5,357.3 420.9,359.1ZM502.3,347.1 505,349 506.3,351.3 503.7,350.6Z" fill="#00b7ff" stroke="#00b7ff"/>
<path d="M181.6,367.8 184.3,365.5 185.7,367.9 183.1,367ZM211,368.5 213.7,369.3 215.1,368.7 212.4,365.8ZM216.4,368 219,369 221.7,366 223.1,368.1 220.5,369.4 217.8,366.3ZM235.1,364.8 237.7,368.9 239.2,364.1 236.5,366.8ZM253.8,365.9 256.5,366.7 257.9,364.3 255.2,364ZM291.2,365.7 293.9,363.2 295.3,363.6 292.6,362.1ZM296.5,364.9 299.2,365 300.6,364.7 297.9,363.9ZM304.6,361 307.2,363.2 308.6,363.6 306,362.9ZM363.3,358.8 366,360.1 367.4,360.2 364.7,363.7ZM371.4,356.1 374,357.9 375.4,362.6 372.8,360ZM379.4,355.1 382,356.6 384.7,356.7 386.1,358.4 383.4,360.9 380.8,357.9ZM411.4,352.4 414.1,357 415.5,358.5 412.8,357ZM427.5,352.8 430.2,352.8 431.5,354.6 428.9,355ZM472.9,350.9 475.6,350.9 477,354 474.3,353.3ZM486.3,346.7 488.9,347.3 491.6,349.7 493,351.5 490.3,349 487.6,350.6Z" fill="#00a7ff" stroke="#00a7ff"/>
<path d="M187,369.2 189.6,368.9 191.1,370.7 188.4,367.1ZM192.3,368.8 195,366.9 196.4,369.3 193.7,368.3ZM197.7,371.9 200.3,370.1 201.8,369.4 199.1,368.8ZM232.4,367.6 235.1,364.8 236.5,366.8 233.8,366.4ZM243.1,367.4 245.8,366.5 248.4,365.6 249.9,366.4 247.2,365.4 244.5,363.6ZM267.1,363.5 269.8,365.6 272.5,365.9 273.9,365.9 271.2,365.9 268.6,366.4ZM275.2,366.5 277.8,365.8 279.2,363.7 276.6,366.4ZM280.5,365.7 283.2,363.4 285.8,366.9 288.5,363.7 289.9,364.7 287.3,364.1 284.6,363.2 281.9,362.6ZM299.2,365 301.9,363.2 304.6,361 306,362.9 303.3,363.3 300.6,364.7ZM307.2,363.2 309.9,364.7 312.6,363.3 314,364.1 311.3,364.7 308.6,363.6ZM317.9,360.9 320.6,363.3 323.3,363.8 324.7,363.7 322,364.7 319.3,363.1ZM328.6,360.5 331.3,362.2 332.7,360.4 330,364.4ZM336.6,361.6 339.3,360.1 340.7,362.8 338,361.9ZM342,360 344.6,361.7 346,363.9 343.4,361ZM358,360.1 360.7,358.7 362.1,360.9 359.4,359.8ZM374,357.9 376.7,359.4 379.4,355.1 380.8,357.9 378.1,361.5 375.4,362.6ZM387.4,356.4 390.1,357.2 391.5,360 388.8,358.4ZM395.4,357.4 398.1,355.7 399.5,359.9 396.8,356.6ZM400.8,355.3 403.4,355.5 404.8,356.7 402.1,358.2ZM424.8,355.8 427.5,352.8 428.9,355 426.2,355.7ZM435.5,354 438.2,354.6 439.6,355.2 436.9,358ZM443.5,352.2 446.2,354.3 447.6,355.9 444.9,356.5ZM451.5,353.4 454.2,351 455.6,354.5 452.9,353.7ZM456.9,350.9 459.5,352 460.9,356.2 458.3,353.8ZM464.9,352.2 467.6,349.5 470.2,351.6 471.6,353.9 468.9,353.6 466.3,352.6ZM480.9,352.3 483.6,348.2 485,351.6 482.3,350.6ZM494.3,350.2 497,349.3 498.3,351.6 495.7,349.9ZM510.3,349.2 513,349.3 514.4,348.3 511.7,350.9Z" fill="#0087ff" stroke="#0087ff"/>
<path d="M189.6,368.9 192.3,368.8 193.7,368.3 191.1,370.7ZM259.1,366 261.8,364.7 263.2,364.5 260.5,366.6ZM272.5,365.9 275.2,366.5 276.6,366.4 273.9,365.9ZM312.6,363.3 315.2,362.4 317.9,360.9 319.3,363.1 316.7,362.5 314,364.1ZM325.9,361 328.6,360.5 330,364.4 327.3,363.4ZM344.6,361.7 347.3,362.7 348.7,362.4 346,363.9ZM384.7,356.7 387.4,356.4 388.8,358.4 386.1,358.4ZM392.7,356.4 395.4,357.4 396.8,356.6 394.1,360.1ZM446.2,354.3 448.9,352 450.2,355.6 447.6,355.9ZM462.2,350.8 464.9,352.2 466.3,352.6 463.6,354.9ZM513,349.3 515.7,347.4 517,348.1 514.4,348.3ZM526.4,346.6 529,347.6 531.7,343.4 533.1,349.2 530.4,349.6 527.7,349.8Z" fill="#0078ff" stroke="#0078ff"/>
<path d="M195,366.9 197.7,371.9 199.1,368.8 196.4,369.3ZM200.3,370.1 203,368.9 205.7,368.3 208.3,368 211,368.5 212.4,365.8 209.8,368.4 207.1,369.2 204.4,369.4 201.8,369.4ZM213.7,369.3 216.4,368 217.8,366.3 215.1,368.7ZM224.4,366.6 227.1,367.6 229.7,365.5 232.4,367.6 233.8,366.4 231.2,363.3 228.5,363.9 225.8,366.1ZM237.7,368.9 240.4,366.6 243.1,367.4 244.5,363.6 241.8,365.3 239.2,364.1ZM248.4,365.6 251.1,367 253.8,365.9 255.2,364 252.5,367.7 249.9,366.4ZM256.5,366.7 259.1,366 260.5,366.6 257.9,364.3ZM261.8,364.7 264.5,367.4 267.1,363.5 268.6,366.4 265.9,364 263.2,364.5ZM277.8,365.8 280.5,365.7 281.9,362.6 279.2,363.7ZM288.5,363.7 291.2,365.7 292.6,362.1 289.9,364.7ZM331.3,362.2 333.9,360.7 336.6,361.6 338,361.9 335.4,363 332.7,360.4ZM350,356.9 352.7,359.6 355.3,359.3 358,360.1 359.4,359.8 356.7,360.3 354.1,359.5 351.4,361.1ZM360.7,358.7 363.3,358.8 364.7,363.7 362.1,360.9ZM366,360.1 368.7,359.2 371.4,356.1 372.8,360 370.1,361.1 367.4,360.2ZM390.1,357.2 392.7,356.4 394.1,360.1 391.5,360ZM398.1,355.7 400.8,355.3 402.1,358.2 399.5,359.9ZM403.4,355.5 406.1,355.7 408.8,353.9 411.4,352.4 412.8,357 410.2,358.8 407.5,357.5 404.8,356.7ZM414.1,357 416.8,355.1 419.5,351.2 420.9,359.1 418.2,352.8 415.5,358.5ZM422.1,355.3 424.8,355.8 426.2,355.7 423.5,357.3ZM430.2,352.8 432.8,352.2 435.5,354 436.9,358 434.2,358.7 431.5,354.6ZM438.2,354.6 440.8,352.7 443.5,352.2 444.9,356.5 442.2,355.3 439.6,355.2ZM448.9,352 451.5,353.4 452.9,353.7 450.2,355.6ZM454.2,351 456.9,350.9 458.3,353.8 455.6,354.5ZM459.5,352 462.2,350.8 463.6,354.9 460.9,356.2ZM470.2,351.6 472.9,350.9 474.3,353.3 471.6,353.9ZM475.6,350.9 478.3,349.9 480.9,352.3 482.3,350.6 479.6,353.9 477,354ZM483.6,348.2 486.3,346.7 487.6,350.6 485,351.6ZM491.6,349.7 494.3,350.2 495.7,349.9 493,351.5ZM497,349.3 499.6,349.7 502.3,347.1 503.7,350.6 501,349.6 498.3,351.6ZM505,349 507.6,346.8 510.3,349.2 511.7,350.9 509,350.1 506.3,351.3ZM515.7,347.4 518.3,345.7 521,346.2 523.7,348.8 526.4,346.6 527.7,349.8 525.1,349.5 522.4,350.8 519.7,349.1 517,348.1ZM531.7,343.4 534.4,345.7 535.7,347 533.1,349.2Z" fill="#0097ff" stroke="#0097ff"/>
<path d="M323.3,363.8 325.9,361 327.3,363.4 324.7,363.7ZM339.3,360.1 342,360 343.4,361 340.7,362.8ZM347.3,362.7 350,356.9 351.4,361.1 348.7,362.4Z" fill="#0068ff" stroke="#0068ff"/>
<path d="M145.6,228 148.3,269.4 149.7,275 147.1,233.7Z" fill="#870000" stroke="#870000"/>
<path d="M148.3,269.4 151,300.2 152.4,305.2 149.7,275Z" fill="#ff5800" stroke="#ff5800"/>
<path d="M151,300.2 153.6,314.6 155.1,318.9 152.4,305.2Z" fill="#ffe700" stroke="#ffe700"/>
<path d="M153.6,314.6 156.3,323.7 157.8,327.7 155.1,318.9Z" fill="#c7ff38" stroke="#c7ff38"/>
<path d="M156.3,323.7 159,332.2 160.4,336.1 157.8,327.7Z" fill="#87ff78" stroke="#87ff78"/>
<path d="M159,332.2 161.7,339 164.3,345.5 165.8,347.4 163.1,342.8 160.4,336.1Z" fill="#68ff97" stroke="#68ff97"/>
<path d="M164.3,345.5 167,351.1 168.5,352.9 165.8,347.4Z" fill="#38ffc7" stroke="#38ffc7"/>
<path d="M167,351.1 169.7,356.1 171.1,358.4 168.5,352.9Z" fill="#28ffd7" stroke="#28ffd7"/>
<path d="M169.7,356.1 172.4,359.3 173.8,361.7 171.1,358.4Z" fill="#08fff7" stroke="#08fff7"/>
<path d="M172.4,359.3 175,363.2 176.5,362.5 173.8,361.7Z" fill="#00f7ff" stroke="#00f7ff"/>
<path d="M175,363.2 177.7,364.2 179.2,364.4 176.5,362.5Z" fill="#00e7ff" stroke="#00e7ff"/>
<path d="M177.7,364.2 180.4,366.2 183.1,367 184.5,369.7 181.8,365.1 179.2,364.4ZM185.7,367.9 188.4,367.1 189.8,368.9 187.2,366.1ZM212.4,365.8 215.1,368.7 216.6,364 213.9,366.5ZM217.8,366.3 220.5,369.4 223.1,368.1 225.8,366.1 228.5,363.9 229.9,364.1 227.2,364.7 224.6,367.7 221.9,366 219.2,366.2ZM236.5,366.8 239.2,364.1 241.8,365.3 243.3,363.3 240.6,365.1 237.9,366ZM257.9,364.3 260.5,366.6 262,364.8 259.3,364.9ZM265.9,364 268.6,366.4 270,363.2 267.3,364.6ZM281.9,362.6 284.6,363.2 286,365.1 283.3,364ZM295.3,363.6 297.9,363.9 299.4,365.3 296.7,365.5Z" fill="#00c7ff" stroke="#00c7ff"/>
<path d="M183.1,367 185.7,367.9 187.2,366.1 184.5,369.7Z" fill="#00d7ff" stroke="#00d7ff"/>
<path d="M188.4,367.1 191.1,370.7 192.5,367.4 189.8,368.9ZM204.4,369.4 207.1,369.2 208.5,366.2 205.9,368.2ZM209.8,368.4 212.4,365.8 213.9,366.5 211.2,366.4ZM215.1,368.7 217.8,366.3 219.2,366.2 216.6,364ZM228.5,363.9 231.2,363.3 233.8,366.4 236.5,366.8 237.9,366 235.3,366.3 232.6,366.2 229.9,364.1ZM241.8,365.3 244.5,363.6 245.9,364.3 243.3,363.3ZM249.9,366.4 252.5,367.7 254,365 251.3,363.4ZM255.2,364 257.9,364.3 259.3,364.9 256.6,364.2ZM292.6,362.1 295.3,363.6 296.7,365.5 294,364.3ZM297.9,363.9 300.6,364.7 302,365.7 299.4,365.3ZM322,364.7 324.7,363.7 326.1,363.8 323.4,364.5ZM332.7,360.4 335.4,363 336.8,365.5 334.1,363.9ZM354.1,359.5 356.7,360.3 358.1,364.3 355.5,363.6ZM359.4,359.8 362.1,360.9 363.5,363.4 360.8,364.7ZM367.4,360.2 370.1,361.1 372.8,360 375.4,362.6 376.8,363.8 374.2,363.1 371.5,365.5 368.8,363.9ZM380.8,357.9 383.4,360.9 384.8,365.5 382.2,364.3ZM407.5,357.5 410.2,358.8 411.6,361.6 408.9,362ZM418.2,352.8 420.9,359.1 422.2,361.4 419.6,359.6ZM439.6,355.2 442.2,355.3 443.6,356.9 440.9,358.2ZM490.3,349 493,351.5 494.4,354.3 491.7,354.9ZM501,349.6 503.7,350.6 505,352.3 502.4,356ZM506.3,351.3 509,350.1 510.4,353 507.7,353.2ZM525.1,349.5 527.7,349.8 529.1,351.8 526.4,351.8Z" fill="#00b7ff" stroke="#00b7ff"/>
<path d="M191.1,370.7 193.7,368.3 196.4,369.3 197.9,367 195.2,368.2 192.5,367.4ZM260.5,366.6 263.2,364.5 264.6,364.2 262,364.8ZM268.6,366.4 271.2,365.9 272.6,363.5 270,363.2ZM273.9,365.9 276.6,366.4 279.2,363.7 280.7,366.4 278,366.6 275.3,364.3ZM284.6,363.2 287.3,364.1 288.7,365.7 286,365.1ZM308.6,363.6 311.3,364.7 314,364.1 315.4,364.6 312.7,366.9 310,362.5ZM316.7,362.5 319.3,363.1 322,364.7 323.4,364.5 320.7,367.6 318.1,365.3ZM324.7,363.7 327.3,363.4 328.7,367.2 326.1,363.8ZM330,364.4 332.7,360.4 334.1,363.9 331.4,364.3ZM338,361.9 340.7,362.8 342.1,366.4 339.4,365.9ZM343.4,361 346,363.9 347.4,362.8 344.8,366.7ZM375.4,362.6 378.1,361.5 380.8,357.9 382.2,364.3 379.5,362.6 376.8,363.8ZM391.5,360 394.1,360.1 395.5,363.5 392.9,360.9ZM396.8,356.6 399.5,359.9 402.1,358.2 404.8,356.7 406.2,362.8 403.5,360.1 400.9,362.6 398.2,360.6ZM410.2,358.8 412.8,357 415.5,358.5 416.9,361.4 414.2,364.2 411.6,361.6ZM420.9,359.1 423.5,357.3 426.2,355.7 428.9,355 430.3,361.1 427.6,359.4 424.9,359.1 422.2,361.4ZM442.2,355.3 444.9,356.5 446.3,358.8 443.6,356.9ZM458.3,353.8 460.9,356.2 463.6,354.9 466.3,352.6 467.7,356 465,357.1 462.3,356.4 459.6,356.9ZM468.9,353.6 471.6,353.9 473,357 470.3,357.1ZM479.6,353.9 482.3,350.6 483.7,355 481,354.6ZM487.6,350.6 490.3,349 491.7,354.9 489,353.3ZM493,351.5 495.7,349.9 497,354.9 494.4,354.3ZM498.3,351.6 501,349.6 502.4,356 499.7,355.4ZM519.7,349.1 522.4,350.8 525.1,349.5 526.4,351.8 523.7,352.5 521.1,354.5Z" fill="#0097ff" stroke="#0097ff"/>
<path d="M196.4,369.3 199.1,368.8 201.8,369.4 204.4,369.4 205.9,368.2 203.2,365.9 200.5,368.2 197.9,367ZM207.1,369.2 209.8,368.4 211.2,366.4 208.5,366.2ZM244.5,363.6 247.2,365.4 249.9,366.4 251.3,363.4 248.6,365.7 245.9,364.3ZM252.5,367.7 255.2,364 256.6,364.2 254,365ZM263.2,364.5 265.9,364 267.3,364.6 264.6,364.2ZM271.2,365.9 273.9,365.9 275.3,364.3 272.6,363.5ZM279.2,363.7 281.9,362.6 283.3,364 280.7,366.4ZM287.3,364.1 289.9,364.7 292.6,362.1 294,364.3 291.3,367.3 288.7,365.7ZM300.6,364.7 303.3,363.3 306,362.9 308.6,363.6 310,362.5 307.4,366.6 304.7,364 302,365.7ZM335.4,363 338,361.9 339.4,365.9 336.8,365.5ZM351.4,361.1 354.1,359.5 355.5,363.6 352.8,364.6ZM356.7,360.3 359.4,359.8 360.8,364.7 358.1,364.3ZM362.1,360.9 364.7,363.7 367.4,360.2 368.8,363.9 366.1,366.4 363.5,363.4ZM383.4,360.9 386.1,358.4 387.5,361.1 384.8,365.5ZM404.8,356.7 407.5,357.5 408.9,362 406.2,362.8ZM415.5,358.5 418.2,352.8 419.6,359.6 416.9,361.4ZM428.9,355 431.5,354.6 434.2,358.7 435.6,360.1 432.9,358.8 430.3,361.1ZM436.9,358 439.6,355.2 440.9,358.2 438.3,361ZM452.9,353.7 455.6,354.5 458.3,353.8 459.6,356.9 457,358.3 454.3,358.4ZM471.6,353.9 474.3,353.3 477,354 479.6,353.9 481,354.6 478.3,357.6 475.7,354 473,357ZM482.3,350.6 485,351.6 487.6,350.6 489,353.3 486.3,353.7 483.7,355ZM495.7,349.9 498.3,351.6 499.7,355.4 497,354.9ZM503.7,350.6 506.3,351.3 507.7,353.2 505,352.3ZM509,350.1 511.7,350.9 513.1,354.3 510.4,353ZM514.4,348.3 517,348.1 519.7,349.1 521.1,354.5 518.4,352 515.7,352.6Z" fill="#00a7ff" stroke="#00a7ff"/>
<path d="M314,364.1 316.7,362.5 318.1,365.3 315.4,364.6ZM327.3,363.4 330,364.4 331.4,364.3 328.7,367.2ZM346,363.9 348.7,362.4 351.4,361.1 352.8,364.6 350.1,363.9 347.4,362.8ZM386.1,358.4 388.8,358.4 391.5,360 392.9,360.9 390.2,363.1 387.5,361.1ZM434.2,358.7 436.9,358 438.3,361 435.6,360.1ZM444.9,356.5 447.6,355.9 450.2,355.6 452.9,353.7 454.3,358.4 451.6,355.7 449,356.6 446.3,358.8ZM466.3,352.6 468.9,353.6 470.3,357.1 467.7,356ZM511.7,350.9 514.4,348.3 515.7,352.6 513.1,354.3ZM533.1,349.2 535.7,347 537.1,353.1 534.4,351.1Z" fill="#0087ff" stroke="#0087ff"/>
<path d="M340.7,362.8 343.4,361 344.8,366.7 342.1,366.4ZM394.1,360.1 396.8,356.6 398.2,360.6 395.5,363.5ZM527.7,349.8 530.4,349.6 533.1,349.2 534.4,351.1 531.8,351.6 529.1,351.8Z" fill="#0078ff" stroke="#0078ff"/>
<path d="M147.1,233.7 149.7,275 151.2,280.6 148.5,239.5Z" fill="#970000" stroke="#970000"/>
<path d="M149.7,275 152.4,305.2 153.9,309.8 151.2,280.6Z" fill="#ff5800" stroke="#ff5800"/>
<path d="M152.4,305.2 155.1,318.9 156.5,323.2 153.9,309.8Z" fill="#ffe700" stroke="#ffe700"/>
<path d="M155.1,318.9 157.8,327.7 159.2,331.4 156.5,323.2Z" fill="#c7ff38" stroke="#c7ff38"/>
<path d="M157.8,327.7 160.4,336.1 161.9,339.1 159.2,331.4Z" fill="#97ff68" stroke="#97ff68"/>
<path d="M160.4,336.1 163.1,342.8 164.6,345 161.9,339.1Z" fill="#78ff87" stroke="#78ff87"/>
<path d="M163.1,342.8 165.8,347.4 167.2,350 164.6,345Z" fill="#68ff97" stroke="#68ff97"/>
<path d="M165.8,347.4 168.5,352.9 169.9,355.1 167.2,350Z" fill="#58ffa7" stroke="#58ffa7"/>
<path d="M168.5,352.9 171.1,358.4 172.6,358.9 169.9,355.1Z" fill="#38ffc7" stroke="#38ffc7"/>
<path d="M171.1,358.4 173.8,361.7 175.2,361.9 172.6,358.9Z" fill="#18ffe7" stroke="#18ffe7"/>
<path d="M173.8,361.7 176.5,362.5 179.2,364.4 180.6,365 177.9,362.8 175.2,361.9Z" fill="#08fff7" stroke="#08fff7"/>
<path d="M179.2,364.4 181.8,365.1 183.3,366.9 180.6,365ZM187.2,366.1 189.8,368.9 191.3,367.6 188.6,365.9ZM213.9,366.5 216.6,364 218,365.7 215.3,366.8ZM219.2,366.2 221.9,366 224.6,367.7 226,366.6 223.3,365.2 220.7,367.5ZM243.3,363.3 245.9,364.3 247.4,364.1 244.7,366.6Z" fill="#00e7ff" stroke="#00e7ff"/>
<path d="M181.8,365.1 184.5,369.7 187.2,366.1 188.6,365.9 185.9,363.7 183.3,366.9ZM200.5,368.2 203.2,365.9 205.9,368.2 208.5,366.2 211.2,366.4 212.6,367.7 210,366.2 207.3,367.3 204.6,366.8 202,366.3ZM216.6,364 219.2,366.2 220.7,367.5 218,365.7ZM224.6,367.7 227.2,364.7 229.9,364.1 232.6,366.2 234,362.3 231.3,365.5 228.7,363.4 226,366.6ZM235.3,366.3 237.9,366 239.3,364.3 236.7,362.6ZM240.6,365.1 243.3,363.3 244.7,366.6 242,363.9ZM245.9,364.3 248.6,365.7 250,368.2 247.4,364.1ZM251.3,363.4 254,365 256.6,364.2 258,364.5 255.4,364 252.7,364.1ZM259.3,364.9 262,364.8 263.4,365.1 260.7,366ZM267.3,364.6 270,363.2 271.4,365.4 268.7,364.8ZM294,364.3 296.7,365.5 299.4,365.3 302,365.7 303.4,368.5 300.8,367.4 298.1,366 295.4,365.8Z" fill="#00d7ff" stroke="#00d7ff"/>
<path d="M189.8,368.9 192.5,367.4 195.2,368.2 196.6,364.9 193.9,369.8 191.3,367.6ZM197.9,367 200.5,368.2 202,366.3 199.3,367.3ZM211.2,366.4 213.9,366.5 215.3,366.8 212.6,367.7ZM237.9,366 240.6,365.1 242,363.9 239.3,364.3ZM256.6,364.2 259.3,364.9 260.7,366 258,364.5ZM264.6,364.2 267.3,364.6 268.7,364.8 266.1,367.3ZM272.6,363.5 275.3,364.3 278,366.6 279.4,367.8 276.7,368.4 274.1,364.5ZM283.3,364 286,365.1 287.4,364.2 284.8,369ZM288.7,365.7 291.3,367.3 292.8,366.8 290.1,365.9ZM310,362.5 312.7,366.9 314.1,367.5 311.5,369.3ZM336.8,365.5 339.4,365.9 340.8,368 338.2,369.8ZM368.8,363.9 371.5,365.5 372.9,365.4 370.2,366.4ZM440.9,358.2 443.6,356.9 445,362.6 442.3,360.2ZM486.3,353.7 489,353.3 490.4,358.8 487.7,358.2ZM505,352.3 507.7,353.2 509.1,354.6 506.4,357.5Z" fill="#00c7ff" stroke="#00c7ff"/>
<path d="M195.2,368.2 197.9,367 199.3,367.3 196.6,364.9ZM232.6,366.2 235.3,366.3 236.7,362.6 234,362.3ZM248.6,365.7 251.3,363.4 252.7,364.1 250,368.2ZM262,364.8 264.6,364.2 266.1,367.3 263.4,365.1ZM270,363.2 272.6,363.5 274.1,364.5 271.4,365.4ZM278,366.6 280.7,366.4 283.3,364 284.8,369 282.1,365.2 279.4,367.8ZM286,365.1 288.7,365.7 290.1,365.9 287.4,364.2ZM291.3,367.3 294,364.3 295.4,365.8 292.8,366.8ZM302,365.7 304.7,364 307.4,366.6 308.8,368.6 306.1,363.7 303.4,368.5ZM323.4,364.5 326.1,363.8 327.5,366.9 324.8,364.2ZM331.4,364.3 334.1,363.9 336.8,365.5 338.2,369.8 335.5,366.5 332.8,367.8ZM355.5,363.6 358.1,364.3 359.5,371.2 356.9,369.1ZM363.5,363.4 366.1,366.4 367.5,365.2 364.9,363.7ZM371.5,365.5 374.2,363.1 376.8,363.8 378.2,366 375.6,368.7 372.9,365.4ZM379.5,362.6 382.2,364.3 384.8,365.5 386.2,366.4 383.6,365.5 380.9,366.5ZM392.9,360.9 395.5,363.5 396.9,364.5 394.3,367.3ZM406.2,362.8 408.9,362 410.3,362.9 407.6,363.3ZM416.9,361.4 419.6,359.6 421,365.5 418.3,363.3ZM422.2,361.4 424.9,359.1 427.6,359.4 429,362.3 426.3,362 423.6,362.7ZM462.3,356.4 465,357.1 466.4,357.8 463.7,359.6ZM475.7,354 478.3,357.6 479.7,359.2 477,356.9ZM481,354.6 483.7,355 486.3,353.7 487.7,358.2 485.1,356.5 482.4,358.9ZM489,353.3 491.7,354.9 493.1,359.1 490.4,358.8ZM497,354.9 499.7,355.4 502.4,356 505,352.3 506.4,357.5 503.8,354.9 501.1,355.9 498.4,355.7ZM507.7,353.2 510.4,353 511.8,354.1 509.1,354.6ZM526.4,351.8 529.1,351.8 530.5,354.7 527.8,355.2Z" fill="#00b7ff" stroke="#00b7ff"/>
<path d="M307.4,366.6 310,362.5 311.5,369.3 308.8,368.6ZM312.7,366.9 315.4,364.6 318.1,365.3 319.5,364.9 316.8,365.6 314.1,367.5ZM326.1,363.8 328.7,367.2 330.2,368.2 327.5,366.9ZM347.4,362.8 350.1,363.9 351.5,368.1 348.9,366ZM352.8,364.6 355.5,363.6 356.9,369.1 354.2,366.8ZM358.1,364.3 360.8,364.7 363.5,363.4 364.9,363.7 362.2,366.9 359.5,371.2ZM366.1,366.4 368.8,363.9 370.2,366.4 367.5,365.2ZM376.8,363.8 379.5,362.6 380.9,366.5 378.2,366ZM384.8,365.5 387.5,361.1 388.9,368 386.2,366.4ZM400.9,362.6 403.5,360.1 406.2,362.8 407.6,363.3 404.9,365.1 402.3,365.3ZM408.9,362 411.6,361.6 414.2,364.2 416.9,361.4 418.3,363.3 415.6,364.7 412.9,364.5 410.3,362.9ZM419.6,359.6 422.2,361.4 423.6,362.7 421,365.5ZM427.6,359.4 430.3,361.1 432.9,358.8 435.6,360.1 437,363.7 434.3,362.9 431.6,362.6 429,362.3ZM443.6,356.9 446.3,358.8 447.7,363.7 445,362.6ZM449,356.6 451.6,355.7 454.3,358.4 455.7,362.4 453,362.3 450.3,361.9ZM457,358.3 459.6,356.9 462.3,356.4 463.7,359.6 461,361.5 458.3,361.5ZM473,357 475.7,354 477,356.9 474.4,359.3ZM478.3,357.6 481,354.6 482.4,358.9 479.7,359.2ZM491.7,354.9 494.4,354.3 497,354.9 498.4,355.7 495.7,357.4 493.1,359.1ZM510.4,353 513.1,354.3 514.4,356.9 511.8,354.1ZM515.7,352.6 518.4,352 521.1,354.5 523.7,352.5 526.4,351.8 527.8,355.2 525.1,355.3 522.4,356.7 519.8,356.2 517.1,353.5ZM534.4,351.1 537.1,353.1 538.5,353.3 535.8,356.7Z" fill="#00a7ff" stroke="#00a7ff"/>
<path d="M318.1,365.3 320.7,367.6 323.4,364.5 324.8,364.2 322.1,367.9 319.5,364.9ZM344.8,366.7 347.4,362.8 348.9,366 346.2,367.4ZM350.1,363.9 352.8,364.6 354.2,366.8 351.5,368.1ZM387.5,361.1 390.2,363.1 392.9,360.9 394.3,367.3 391.6,368.4 388.9,368ZM398.2,360.6 400.9,362.6 402.3,365.3 399.6,364.1ZM435.6,360.1 438.3,361 440.9,358.2 442.3,360.2 439.7,363.8 437,363.7ZM446.3,358.8 449,356.6 450.3,361.9 447.7,363.7ZM454.3,358.4 457,358.3 458.3,361.5 455.7,362.4ZM465,357.1 467.7,356 470.3,357.1 473,357 474.4,359.3 471.7,360.6 469,360.9 466.4,357.8ZM513.1,354.3 515.7,352.6 517.1,353.5 514.4,356.9Z" fill="#0097ff" stroke="#0097ff"/>
<path d="M328.7,367.2 331.4,364.3 332.8,367.8 330.2,368.2ZM339.4,365.9 342.1,366.4 343.5,367.1 340.8,368ZM395.5,363.5 398.2,360.6 399.6,364.1 396.9,364.5ZM529.1,351.8 531.8,351.6 534.4,351.1 535.8,356.7 533.1,355.7 530.5,354.7Z" fill="#0087ff" stroke="#0087ff"/>
<path d="M342.1,366.4 344.8,366.7 346.2,367.4 343.5,367.1Z" fill="#0078ff" stroke="#0078ff"/>
<path d="M148.5,239.5 151.2,280.6 152.6,286 150,245.3Z" fill="#970000" stroke="#970000"/>
<path d="M151.2,280.6 153.9,309.8 155.3,314.8 152.6,286Z" fill="#ff5800" stroke="#ff5800"/>
<path d="M153.9,309.8 156.5,323.2 158,327.9 155.3,314.8Z" fill="#ffe700" stroke="#ffe700"/>
<path d="M156.5,323.2 159.2,331.4 160.7,336 158,327.9Z" fill="#c7ff38" stroke="#c7ff38"/>
<path d="M159.2,331.4 161.9,339.1 163.3,342.5 160.7,336Z" fill="#a7ff58" stroke="#a7ff58"/>
<path d="M161.9,339.1 164.6,345 166,349.2 163.3,342.5Z" fill="#87ff78" stroke="#87ff78"/>
<path d="M164.6,345 167.2,350 169.9,355.1 171.3,357.2 168.7,354.2 166,349.2Z" fill="#68ff97" stroke="#68ff97"/>
<path d="M169.9,355.1 172.6,358.9 174,361.3 171.3,357.2Z" fill="#58ffa7" stroke="#58ffa7"/>
<path d="M172.6,358.9 175.2,361.9 176.7,363.9 174,361.3Z" fill="#38ffc7" stroke="#38ffc7"/>
<path d="M175.2,361.9 177.9,362.8 180.6,365 182,369 179.4,364.9 176.7,363.9Z" fill="#28ffd7" stroke="#28ffd7"/>
<path d="M180.6,365 183.3,366.9 185.9,363.7 187.4,367.4 184.7,367.1 182,369ZM202,366.3 204.6,366.8 206.1,370.1 203.4,368.3ZM207.3,367.3 210,366.2 212.6,367.7 215.3,366.8 218,365.7 220.7,367.5 223.3,365.2 224.8,366.8 222.1,368 219.4,366.9 216.7,368.9 214.1,368.9 211.4,365.9 208.7,368.7ZM226,366.6 228.7,363.4 231.3,365.5 234,362.3 236.7,362.6 238.1,365.7 235.4,367 232.8,365.5 230.1,365.4 227.4,366.9ZM239.3,364.3 242,363.9 244.7,366.6 246.1,366.7 243.4,365.1 240.8,365.8ZM252.7,364.1 255.4,364 258,364.5 259.5,367.4 256.8,365.6 254.1,366.3Z" fill="#00f7ff" stroke="#00f7ff"/>
<path d="M185.9,363.7 188.6,365.9 191.3,367.6 192.7,368.4 190,368.9 187.4,367.4ZM223.3,365.2 226,366.6 227.4,366.9 224.8,366.8Z" fill="#08fff7" stroke="#08fff7"/>
<path d="M191.3,367.6 193.9,369.8 195.4,369.8 192.7,368.4ZM196.6,364.9 199.3,367.3 202,366.3 203.4,368.3 200.7,371 198.1,368ZM204.6,366.8 207.3,367.3 208.7,368.7 206.1,370.1ZM236.7,362.6 239.3,364.3 240.8,365.8 238.1,365.7ZM247.4,364.1 250,368.2 251.5,365.3 248.8,366.3ZM258,364.5 260.7,366 263.4,365.1 264.8,367 262.1,364.4 259.5,367.4ZM268.7,364.8 271.4,365.4 272.8,367.9 270.1,366.7ZM282.1,365.2 284.8,369 286.2,368.1 283.5,369ZM295.4,365.8 298.1,366 300.8,367.4 302.2,370 299.5,368.6 296.9,371.3Z" fill="#00e7ff" stroke="#00e7ff"/>
<path d="M193.9,369.8 196.6,364.9 198.1,368 195.4,369.8ZM266.1,367.3 268.7,364.8 270.1,366.7 267.5,365.9ZM274.1,364.5 276.7,368.4 279.4,367.8 282.1,365.2 283.5,369 280.8,366.3 278.2,366.7 275.5,366.5ZM284.8,369 287.4,364.2 290.1,365.9 291.5,366.4 288.8,364.7 286.2,368.1ZM308.8,368.6 311.5,369.3 312.9,370.8 310.2,368.7ZM316.8,365.6 319.5,364.9 320.9,367.2 318.2,368.3ZM335.5,366.5 338.2,369.8 339.6,371.3 336.9,371.4ZM362.2,366.9 364.9,363.7 367.5,365.2 368.9,370.3 366.3,370.8 363.6,371.3ZM372.9,365.4 375.6,368.7 377,371 374.3,371.2ZM380.9,366.5 383.6,365.5 386.2,366.4 387.6,369.4 385,370 382.3,369.2ZM407.6,363.3 410.3,362.9 412.9,364.5 414.3,367.8 411.7,368.8 409,366.4ZM418.3,363.3 421,365.5 422.3,366.4 419.7,366.2ZM442.3,360.2 445,362.6 446.4,363.8 443.7,364.6ZM463.7,359.6 466.4,357.8 467.7,363.8 465.1,362.9ZM477,356.9 479.7,359.2 481.1,365.4 478.4,364.5ZM485.1,356.5 487.7,358.2 489.1,361 486.4,362ZM498.4,355.7 501.1,355.9 502.5,358.8 499.8,359.9ZM503.8,354.9 506.4,357.5 509.1,354.6 511.8,354.1 514.4,356.9 515.8,359.9 513.1,360.8 510.5,357.6 507.8,360.4 505.1,360.6Z" fill="#00c7ff" stroke="#00c7ff"/>
<path d="M244.7,366.6 247.4,364.1 248.8,366.3 246.1,366.7ZM250,368.2 252.7,364.1 254.1,366.3 251.5,365.3ZM263.4,365.1 266.1,367.3 267.5,365.9 264.8,367ZM271.4,365.4 274.1,364.5 275.5,366.5 272.8,367.9ZM290.1,365.9 292.8,366.8 295.4,365.8 296.9,371.3 294.2,368.8 291.5,366.4ZM300.8,367.4 303.4,368.5 306.1,363.7 308.8,368.6 310.2,368.7 307.5,368.5 304.9,369.7 302.2,370ZM324.8,364.2 327.5,366.9 328.9,369.9 326.2,368.8ZM367.5,365.2 370.2,366.4 372.9,365.4 374.3,371.2 371.6,368.6 368.9,370.3ZM527.8,355.2 530.5,354.7 531.8,355.5 529.2,357.2Z" fill="#00d7ff" stroke="#00d7ff"/>
<path d="M311.5,369.3 314.1,367.5 316.8,365.6 318.2,368.3 315.5,371.4 312.9,370.8ZM319.5,364.9 322.1,367.9 324.8,364.2 326.2,368.8 323.6,368.6 320.9,367.2ZM338.2,369.8 340.8,368 342.2,371.4 339.6,371.3ZM348.9,366 351.5,368.1 352.9,372.6 350.3,372.4ZM354.2,366.8 356.9,369.1 359.5,371.2 360.9,369.7 358.3,373.1 355.6,371.3ZM375.6,368.7 378.2,366 379.6,370.8 377,371ZM386.2,366.4 388.9,368 390.3,370.1 387.6,369.4ZM402.3,365.3 404.9,365.1 406.3,368.5 403.7,367.3ZM421,365.5 423.6,362.7 426.3,362 429,362.3 430.4,367.5 427.7,367.9 425,365.9 422.3,366.4ZM431.6,362.6 434.3,362.9 437,363.7 438.4,366.4 435.7,365.1 433,363.4ZM458.3,361.5 461,361.5 462.4,364.1 459.7,365ZM466.4,357.8 469,360.9 470.4,365.3 467.7,363.8ZM474.4,359.3 477,356.9 478.4,364.5 475.8,363.1ZM479.7,359.2 482.4,358.9 485.1,356.5 486.4,362 483.8,359 481.1,365.4ZM487.7,358.2 490.4,358.8 493.1,359.1 494.4,360.4 491.8,362.3 489.1,361ZM495.7,357.4 498.4,355.7 499.8,359.9 497.1,358.8ZM501.1,355.9 503.8,354.9 505.1,360.6 502.5,358.8ZM517.1,353.5 519.8,356.2 521.1,356.8 518.5,361.1ZM525.1,355.3 527.8,355.2 529.2,357.2 526.5,357.6Z" fill="#00b7ff" stroke="#00b7ff"/>
<path d="M327.5,366.9 330.2,368.2 331.6,370.9 328.9,369.9ZM332.8,367.8 335.5,366.5 336.9,371.4 334.2,370.6ZM340.8,368 343.5,367.1 344.9,370.4 342.2,371.4ZM346.2,367.4 348.9,366 350.3,372.4 347.6,371.6ZM359.5,371.2 362.2,366.9 363.6,371.3 360.9,369.7ZM378.2,366 380.9,366.5 382.3,369.2 379.6,370.8ZM394.3,367.3 396.9,364.5 398.3,369.3 395.6,371.2ZM399.6,364.1 402.3,365.3 403.7,367.3 401,370.6ZM404.9,365.1 407.6,363.3 409,366.4 406.3,368.5ZM412.9,364.5 415.6,364.7 418.3,363.3 419.7,366.2 417,366.8 414.3,367.8ZM429,362.3 431.6,362.6 433,363.4 430.4,367.5ZM439.7,363.8 442.3,360.2 443.7,364.6 441,364.5ZM445,362.6 447.7,363.7 449.1,364.5 446.4,363.8ZM450.3,361.9 453,362.3 455.7,362.4 458.3,361.5 459.7,365 457.1,362.2 454.4,363.3 451.7,366.6ZM461,361.5 463.7,359.6 465.1,362.9 462.4,364.1ZM471.7,360.6 474.4,359.3 475.8,363.1 473.1,364.5ZM493.1,359.1 495.7,357.4 497.1,358.8 494.4,360.4ZM514.4,356.9 517.1,353.5 518.5,361.1 515.8,359.9ZM519.8,356.2 522.4,356.7 525.1,355.3 526.5,357.6 523.8,358.4 521.1,356.8Z" fill="#00a7ff" stroke="#00a7ff"/>
<path d="M330.2,368.2 332.8,367.8 334.2,370.6 331.6,370.9ZM343.5,367.1 346.2,367.4 347.6,371.6 344.9,370.4ZM351.5,368.1 354.2,366.8 355.6,371.3 352.9,372.6ZM388.9,368 391.6,368.4 394.3,367.3 395.6,371.2 393,367.6 390.3,370.1ZM396.9,364.5 399.6,364.1 401,370.6 398.3,369.3ZM437,363.7 439.7,363.8 441,364.5 438.4,366.4ZM447.7,363.7 450.3,361.9 451.7,366.6 449.1,364.5ZM469,360.9 471.7,360.6 473.1,364.5 470.4,365.3ZM530.5,354.7 533.1,355.7 535.8,356.7 538.5,353.3 539.8,357.4 537.2,357.5 534.5,356.9 531.8,355.5Z" fill="#0097ff" stroke="#0097ff"/>
<path d="M150,245.3 152.6,286 154.1,291.6 151.4,251Z" fill="#970000" stroke="#970000"/>
<path d="M152.6,286 155.3,314.8 156.8,319.6 154.1,291.6Z" fill="#ff4800" stroke="#ff4800"/>
<path d="M155.3,314.8 158,327.9 159.4,331.8 156.8,319.6Z" fill="#ffe700" stroke="#ffe700"/>
<path d="M158,327.9 160.7,336 162.1,339.6 159.4,331.8Z" fill="#d7ff28" stroke="#d7ff28"/>
<path d="M160.7,336 163.3,342.5 164.8,346.5 162.1,339.6Z" fill="#a7ff58" stroke="#a7ff58"/>
<path d="M163.3,342.5 166,349.2 167.4,351 164.8,346.5Z" fill="#87ff78" stroke="#87ff78"/>
<path d="M166,349.2 168.7,354.2 170.1,356.7 167.4,351Z" fill="#78ff87" stroke="#78ff87"/>
<path d="M168.7,354.2 171.3,357.2 172.8,358.8 170.1,356.7Z" fill="#58ffa7" stroke="#58ffa7"/>
<path d="M171.3,357.2 174,361.3 175.5,361.7 172.8,358.8Z" fill="#68ff97" stroke="#68ff97"/>
<path d="M174,361.3 176.7,363.9 179.4,364.9 182,369 183.5,366.9 180.8,366.7 178.1,365.6 175.5,361.7Z" fill="#38ffc7" stroke="#38ffc7"/>
<path d="M182,369 184.7,367.1 186.1,367 183.5,366.9ZM192.7,368.4 195.4,369.8 196.8,369.5 194.2,370.4ZM198.1,368 200.7,371 202.2,370.9 199.5,367.4ZM238.1,365.7 240.8,365.8 242.2,366 239.5,367.5ZM251.5,365.3 254.1,366.3 255.6,364.8 252.9,366.7ZM267.5,365.9 270.1,366.7 271.6,367.7 268.9,368.5ZM291.5,366.4 294.2,368.8 295.6,370.3 292.9,369.3ZM299.5,368.6 302.2,370 303.6,370.6 300.9,368.7Z" fill="#00f7ff" stroke="#00f7ff"/>
<path d="M184.7,367.1 187.4,367.4 190,368.9 192.7,368.4 194.2,370.4 191.5,366.9 188.8,369.6 186.1,367ZM222.1,368 224.8,366.8 227.4,366.9 230.1,365.4 231.5,367 228.9,364.5 226.2,370 223.5,368.6ZM243.4,365.1 246.1,366.7 247.5,366.2 244.9,366.8Z" fill="#18ffe7" stroke="#18ffe7"/>
<path d="M195.4,369.8 198.1,368 199.5,367.4 196.8,369.5ZM200.7,371 203.4,368.3 204.8,367.1 202.2,370.9ZM272.8,367.9 275.5,366.5 276.9,368 274.2,371ZM283.5,369 286.2,368.1 288.8,364.7 290.3,370.9 287.6,369 284.9,368.1ZM304.9,369.7 307.5,368.5 310.2,368.7 312.9,370.8 314.3,374.5 311.6,372.1 308.9,371.2 306.3,370.8ZM326.2,368.8 328.9,369.9 330.3,371.6 327.6,372.7ZM360.9,369.7 363.6,371.3 365,372.1 362.3,376.8ZM371.6,368.6 374.3,371.2 375.7,371.6 373,373.1ZM433,363.4 435.7,365.1 437.1,371.7 434.4,369.5ZM465.1,362.9 467.7,363.8 469.1,363.7 466.5,364.2ZM507.8,360.4 510.5,357.6 513.1,360.8 514.5,360.2 511.8,362.7 509.2,361.8ZM521.1,356.8 523.8,358.4 525.2,361.8 522.5,363ZM529.2,357.2 531.8,355.5 533.2,361.7 530.5,360.6Z" fill="#00d7ff" stroke="#00d7ff"/>
<path d="M203.4,368.3 206.1,370.1 208.7,368.7 211.4,365.9 214.1,368.9 216.7,368.9 219.4,366.9 222.1,368 223.5,368.6 220.8,366.6 218.2,367.8 215.5,371.2 212.8,371.6 210.2,367.8 207.5,368.9 204.8,367.1ZM230.1,365.4 232.8,365.5 235.4,367 238.1,365.7 239.5,367.5 236.9,365.6 234.2,365.3 231.5,367ZM240.8,365.8 243.4,365.1 244.9,366.8 242.2,366ZM254.1,366.3 256.8,365.6 259.5,367.4 260.9,364.6 258.2,369.7 255.6,364.8ZM262.1,364.4 264.8,367 266.2,371.8 263.6,368.9ZM270.1,366.7 272.8,367.9 274.2,371 271.6,367.7Z" fill="#08fff7" stroke="#08fff7"/>
<path d="M246.1,366.7 248.8,366.3 251.5,365.3 252.9,366.7 250.2,367.2 247.5,366.2ZM259.5,367.4 262.1,364.4 263.6,368.9 260.9,364.6ZM264.8,367 267.5,365.9 268.9,368.5 266.2,371.8ZM275.5,366.5 278.2,366.7 280.8,366.3 283.5,369 284.9,368.1 282.2,369.9 279.6,367.4 276.9,368ZM288.8,364.7 291.5,366.4 292.9,369.3 290.3,370.9ZM294.2,368.8 296.9,371.3 299.5,368.6 300.9,368.7 298.3,370.4 295.6,370.3ZM302.2,370 304.9,369.7 306.3,370.8 303.6,370.6Z" fill="#00e7ff" stroke="#00e7ff"/>
<path d="M312.9,370.8 315.5,371.4 318.2,368.3 320.9,367.2 323.6,368.6 326.2,368.8 327.6,372.7 325,370.8 322.3,371.6 319.6,371.9 317,371.4 314.3,374.5ZM334.2,370.6 336.9,371.4 339.6,371.3 342.2,371.4 343.7,371.3 341,375.8 338.3,371.2 335.6,372.4ZM368.9,370.3 371.6,368.6 373,373.1 370.3,374.9ZM374.3,371.2 377,371 379.6,370.8 381,374 378.4,371.4 375.7,371.6ZM387.6,369.4 390.3,370.1 391.7,371.6 389,372.3ZM403.7,367.3 406.3,368.5 407.7,369.4 405.1,371.1ZM409,366.4 411.7,368.8 413.1,371 410.4,368.8ZM417,366.8 419.7,366.2 422.3,366.4 425,365.9 427.7,367.9 429.1,368.3 426.4,369.3 423.7,369.3 421.1,370.3 418.4,368.3ZM435.7,365.1 438.4,366.4 439.8,365.1 437.1,371.7ZM443.7,364.6 446.4,363.8 449.1,364.5 450.4,367.6 447.8,366.1 445.1,367ZM457.1,362.2 459.7,365 461.1,362.6 458.4,366.9ZM475.8,363.1 478.4,364.5 479.8,363.2 477.1,364.2ZM483.8,359 486.4,362 487.8,364 485.1,363.7ZM494.4,360.4 497.1,358.8 499.8,359.9 502.5,358.8 505.1,360.6 507.8,360.4 509.2,361.8 506.5,363 503.8,362.6 501.2,362.3 498.5,362.6 495.8,366.7ZM526.5,357.6 529.2,357.2 530.5,360.6 527.9,361.7Z" fill="#00c7ff" stroke="#00c7ff"/>
<path d="M328.9,369.9 331.6,370.9 333,372.8 330.3,371.6ZM342.2,371.4 344.9,370.4 346.3,373.8 343.7,371.3ZM347.6,371.6 350.3,372.4 351.7,373.4 349,372.1ZM355.6,371.3 358.3,373.1 360.9,369.7 362.3,376.8 359.7,373.4 357,374.9ZM363.6,371.3 366.3,370.8 368.9,370.3 370.3,374.9 367.7,374.1 365,372.1ZM382.3,369.2 385,370 387.6,369.4 389,372.3 386.4,371.5 383.7,371.9ZM393,367.6 395.6,371.2 398.3,369.3 399.7,369.5 397,370.6 394.4,369.6ZM411.7,368.8 414.3,367.8 417,366.8 418.4,368.3 415.7,369.7 413.1,371ZM441,364.5 443.7,364.6 445.1,367 442.4,367.7ZM454.4,363.3 457.1,362.2 458.4,366.9 455.8,366.7ZM459.7,365 462.4,364.1 465.1,362.9 466.5,364.2 463.8,363.8 461.1,362.6ZM473.1,364.5 475.8,363.1 477.1,364.2 474.5,364.8ZM478.4,364.5 481.1,365.4 483.8,359 485.1,363.7 482.5,365.3 479.8,363.2ZM486.4,362 489.1,361 491.8,362.3 494.4,360.4 495.8,366.7 493.1,363.2 490.5,362.3 487.8,364ZM513.1,360.8 515.8,359.9 518.5,361.1 521.1,356.8 522.5,363 519.8,361.2 517.2,362.1 514.5,360.2ZM523.8,358.4 526.5,357.6 527.9,361.7 525.2,361.8ZM531.8,355.5 534.5,356.9 535.9,359.5 533.2,361.7ZM537.2,357.5 539.8,357.4 541.2,357.6 538.5,360.1Z" fill="#00b7ff" stroke="#00b7ff"/>
<path d="M331.6,370.9 334.2,370.6 335.6,372.4 333,372.8ZM350.3,372.4 352.9,372.6 355.6,371.3 357,374.9 354.3,375.7 351.7,373.4ZM379.6,370.8 382.3,369.2 383.7,371.9 381,374ZM398.3,369.3 401,370.6 403.7,367.3 405.1,371.1 402.4,369.1 399.7,369.5ZM406.3,368.5 409,366.4 410.4,368.8 407.7,369.4ZM427.7,367.9 430.4,367.5 433,363.4 434.4,369.5 431.7,368.1 429.1,368.3ZM438.4,366.4 441,364.5 442.4,367.7 439.8,365.1ZM449.1,364.5 451.7,366.6 454.4,363.3 455.8,366.7 453.1,367 450.4,367.6ZM467.7,363.8 470.4,365.3 473.1,364.5 474.5,364.8 471.8,364.3 469.1,363.7ZM534.5,356.9 537.2,357.5 538.5,360.1 535.9,359.5Z" fill="#00a7ff" stroke="#00a7ff"/>
<path d="M344.9,370.4 347.6,371.6 349,372.1 346.3,373.8ZM390.3,370.1 393,367.6 394.4,369.6 391.7,371.6Z" fill="#0097ff" stroke="#0097ff"/>
<path d="M151.4,251 154.1,291.6 155.5,296.9 152.9,256.7Z" fill="#970000" stroke="#970000"/>
<path d="M154.1,291.6 156.8,319.6 158.2,323.8 155.5,296.9Z" fill="#ff5800" stroke="#ff5800"/>
<path d="M156.8,319.6 159.4,331.8 160.9,335.5 158.2,323.8Z" fill="#ffe700" stroke="#ffe700"/>
<path d="M159.4,331.8 162.1,339.6 163.6,343.2 160.9,335.5Z" fill="#d7ff28" stroke="#d7ff28"/>
<path d="M162.1,339.6 164.8,346.5 166.2,348.2 163.6,343.2Z" fill="#a7ff58" stroke="#a7ff58"/>
<path d="M164.8,346.5 167.4,351 170.1,356.7 171.6,357.9 168.9,355.2 166.2,348.2Z" fill="#87ff78" stroke="#87ff78"/>
<path d="M170.1,356.7 172.8,358.8 175.5,361.7 176.9,364.3 174.2,361.8 171.6,357.9Z" fill="#68ff97" stroke="#68ff97"/>
<path d="M175.5,361.7 178.1,365.6 179.6,368.1 176.9,364.3Z" fill="#48ffb7" stroke="#48ffb7"/>
<path d="M178.1,365.6 180.8,366.7 183.5,366.9 184.9,369.6 182.2,368.4 179.6,368.1ZM191.5,366.9 194.2,370.4 195.6,368.5 192.9,368.3ZM228.9,364.5 231.5,367 233,368.8 230.3,366.7Z" fill="#38ffc7" stroke="#38ffc7"/>
<path d="M183.5,366.9 186.1,367 188.8,369.6 191.5,366.9 192.9,368.3 190.2,366.3 187.6,368.3 184.9,369.6ZM223.5,368.6 226.2,370 227.6,366.7 224.9,366.3ZM234.2,365.3 236.9,365.6 238.3,368.3 235.6,366.1ZM242.2,366 244.9,366.8 247.5,366.2 249,365.2 246.3,364.3 243.6,367ZM255.6,364.8 258.2,369.7 259.6,367.2 257,367.1Z" fill="#28ffd7" stroke="#28ffd7"/>
<path d="M194.2,370.4 196.8,369.5 198.3,368.6 195.6,368.5ZM199.5,367.4 202.2,370.9 203.6,368.7 200.9,368.9ZM204.8,367.1 207.5,368.9 210.2,367.8 212.8,371.6 214.3,368.8 211.6,368.9 208.9,368.5 206.3,368.5ZM215.5,371.2 218.2,367.8 220.8,366.6 223.5,368.6 224.9,366.3 222.3,366.6 219.6,367.9 216.9,365.4ZM226.2,370 228.9,364.5 230.3,366.7 227.6,366.7ZM231.5,367 234.2,365.3 235.6,366.1 233,368.8ZM236.9,365.6 239.5,367.5 241,367.9 238.3,368.3ZM247.5,366.2 250.2,367.2 251.6,365.4 249,365.2ZM260.9,364.6 263.6,368.9 265,368.9 262.3,370.8ZM300.9,368.7 303.6,370.6 305,374.1 302.4,371.6Z" fill="#18ffe7" stroke="#18ffe7"/>
<path d="M196.8,369.5 199.5,367.4 200.9,368.9 198.3,368.6ZM202.2,370.9 204.8,367.1 206.3,368.5 203.6,368.7ZM212.8,371.6 215.5,371.2 216.9,365.4 214.3,368.8ZM239.5,367.5 242.2,366 243.6,367 241,367.9ZM250.2,367.2 252.9,366.7 255.6,364.8 257,367.1 254.3,367.1 251.6,365.4ZM263.6,368.9 266.2,371.8 267.7,369.5 265,368.9ZM271.6,367.7 274.2,371 275.7,369.2 273,369.4ZM279.6,367.4 282.2,369.9 283.7,370.7 281,373Z" fill="#08fff7" stroke="#08fff7"/>
<path d="M258.2,369.7 260.9,364.6 262.3,370.8 259.6,367.2ZM268.9,368.5 271.6,367.7 273,369.4 270.3,369.8ZM276.9,368 279.6,367.4 281,373 278.3,371.4ZM284.9,368.1 287.6,369 290.3,370.9 291.7,370.3 289,371.1 286.3,371.7ZM292.9,369.3 295.6,370.3 298.3,370.4 300.9,368.7 302.4,371.6 299.7,373.4 297,371 294.3,370.1ZM303.6,370.6 306.3,370.8 308.9,371.2 310.4,372.7 307.7,370.6 305,374.1Z" fill="#00f7ff" stroke="#00f7ff"/>
<path d="M266.2,371.8 268.9,368.5 270.3,369.8 267.7,369.5ZM282.2,369.9 284.9,368.1 286.3,371.7 283.7,370.7ZM290.3,370.9 292.9,369.3 294.3,370.1 291.7,370.3ZM311.6,372.1 314.3,374.5 315.7,372 313,374.3ZM327.6,372.7 330.3,371.6 331.7,374.2 329,370.6ZM338.3,371.2 341,375.8 342.4,376.2 339.7,374.3ZM375.7,371.6 378.4,371.4 379.8,377.7 377.1,374.5ZM386.4,371.5 389,372.3 390.4,372.7 387.8,376.1ZM461.1,362.6 463.8,363.8 465.2,368 462.5,366.7ZM479.8,363.2 482.5,365.3 483.8,365 481.2,365.7ZM509.2,361.8 511.8,362.7 513.2,362.6 510.5,367.4ZM530.5,360.6 533.2,361.7 534.6,361.3 531.9,361.3Z" fill="#00e7ff" stroke="#00e7ff"/>
<path d="M274.2,371 276.9,368 278.3,371.4 275.7,369.2ZM308.9,371.2 311.6,372.1 313,374.3 310.4,372.7ZM314.3,374.5 317,371.4 319.6,371.9 322.3,371.6 323.7,373.6 321,371.5 318.4,375 315.7,372ZM325,370.8 327.6,372.7 329,370.6 326.4,374.3ZM330.3,371.6 333,372.8 334.4,375.7 331.7,374.2ZM341,375.8 343.7,371.3 345.1,375.5 342.4,376.2ZM359.7,373.4 362.3,376.8 363.7,376.2 361.1,377.5ZM365,372.1 367.7,374.1 369.1,374.8 366.4,376.2ZM370.3,374.9 373,373.1 375.7,371.6 377.1,374.5 374.4,376.2 371.7,376.1ZM378.4,371.4 381,374 382.4,374.4 379.8,377.7ZM389,372.3 391.7,371.6 393.1,372.9 390.4,372.7ZM410.4,368.8 413.1,371 414.5,369.3 411.8,373.2ZM418.4,368.3 421.1,370.3 422.5,371.3 419.8,371.4ZM423.7,369.3 426.4,369.3 429.1,368.3 431.7,368.1 433.1,369.2 430.5,369.4 427.8,370.4 425.1,369.7ZM439.8,365.1 442.4,367.7 443.8,368 441.1,369ZM445.1,367 447.8,366.1 450.4,367.6 451.8,368.5 449.2,367.4 446.5,368.2ZM463.8,363.8 466.5,364.2 469.1,363.7 470.5,367.3 467.8,367.5 465.2,368ZM477.1,364.2 479.8,363.2 481.2,365.7 478.5,363.8ZM485.1,363.7 487.8,364 489.2,366.3 486.5,367.1ZM490.5,362.3 493.1,363.2 494.5,366.1 491.9,365.7ZM503.8,362.6 506.5,363 507.9,363.5 505.2,364.4ZM511.8,362.7 514.5,360.2 517.2,362.1 518.5,365.6 515.9,362.3 513.2,362.6Z" fill="#00d7ff" stroke="#00d7ff"/>
<path d="M322.3,371.6 325,370.8 326.4,374.3 323.7,373.6ZM333,372.8 335.6,372.4 338.3,371.2 339.7,374.3 337.1,374.2 334.4,375.7ZM343.7,371.3 346.3,373.8 347.7,370.2 345.1,375.5ZM349,372.1 351.7,373.4 354.3,375.7 355.7,374.2 353.1,376.2 350.4,374.9ZM357,374.9 359.7,373.4 361.1,377.5 358.4,375.9ZM362.3,376.8 365,372.1 366.4,376.2 363.7,376.2ZM367.7,374.1 370.3,374.9 371.7,376.1 369.1,374.8ZM383.7,371.9 386.4,371.5 387.8,376.1 385.1,374.9ZM397,370.6 399.7,369.5 401.1,375.5 398.4,371.3ZM402.4,369.1 405.1,371.1 407.7,369.4 409.1,368.5 406.4,371.4 403.8,373.4ZM413.1,371 415.7,369.7 418.4,368.3 419.8,371.4 417.1,372.4 414.5,369.3ZM421.1,370.3 423.7,369.3 425.1,369.7 422.5,371.3ZM431.7,368.1 434.4,369.5 437.1,371.7 438.5,369 435.8,368.4 433.1,369.2ZM442.4,367.7 445.1,367 446.5,368.2 443.8,368ZM455.8,366.7 458.4,366.9 459.8,370.2 457.2,366.6ZM469.1,363.7 471.8,364.3 474.5,364.8 475.8,364.9 473.2,368.9 470.5,367.3ZM482.5,365.3 485.1,363.7 486.5,367.1 483.8,365ZM487.8,364 490.5,362.3 491.9,365.7 489.2,366.3ZM493.1,363.2 495.8,366.7 497.2,362.2 494.5,366.1ZM498.5,362.6 501.2,362.3 503.8,362.6 505.2,364.4 502.5,365.7 499.9,364.3ZM506.5,363 509.2,361.8 510.5,367.4 507.9,363.5ZM517.2,362.1 519.8,361.2 521.2,362.7 518.5,365.6ZM522.5,363 525.2,361.8 527.9,361.7 529.2,362.4 526.6,363.1 523.9,362.7Z" fill="#00c7ff" stroke="#00c7ff"/>
<path d="M346.3,373.8 349,372.1 350.4,374.9 347.7,370.2ZM354.3,375.7 357,374.9 358.4,375.9 355.7,374.2ZM450.4,367.6 453.1,367 454.5,368.6 451.8,368.5ZM533.2,361.7 535.9,359.5 537.2,361.2 534.6,361.3Z" fill="#00a7ff" stroke="#00a7ff"/>
<path d="M381,374 383.7,371.9 385.1,374.9 382.4,374.4ZM391.7,371.6 394.4,369.6 397,370.6 398.4,371.3 395.8,374 393.1,372.9ZM399.7,369.5 402.4,369.1 403.8,373.4 401.1,375.5ZM407.7,369.4 410.4,368.8 411.8,373.2 409.1,368.5ZM437.1,371.7 439.8,365.1 441.1,369 438.5,369ZM453.1,367 455.8,366.7 457.2,366.6 454.5,368.6ZM458.4,366.9 461.1,362.6 462.5,366.7 459.8,370.2ZM474.5,364.8 477.1,364.2 478.5,363.8 475.8,364.9ZM495.8,366.7 498.5,362.6 499.9,364.3 497.2,362.2ZM519.8,361.2 522.5,363 523.9,362.7 521.2,362.7ZM527.9,361.7 530.5,360.6 531.9,361.3 529.2,362.4ZM535.9,359.5 538.5,360.1 541.2,357.6 542.6,360 539.9,360.3 537.2,361.2Z" fill="#00b7ff" stroke="#00b7ff"/>
<path d="M152.9,256.7 155.5,296.9 157,304.4 154.3,265.5Z" fill="#a70000" stroke="#a70000"/>
<path d="M155.5,296.9 158.2,323.8 159.7,328.3 157,304.4Z" fill="#ff6800" stroke="#ff6800"/>
<path d="M158.2,323.8 160.9,335.5 162.3,339.5 159.7,328.3Z" fill="#ffd700" stroke="#ffd700"/>
<path d="M160.9,335.5 163.6,343.2 165,345.6 162.3,339.5Z" fill="#d7ff28" stroke="#d7ff28"/>
<path d="M163.6,343.2 166.2,348.2 167.7,351.4 165,345.6Z" fill="#b7ff48" stroke="#b7ff48"/>
<path d="M166.2,348.2 168.9,355.2 170.3,355.6 167.7,351.4Z" fill="#a7ff58" stroke="#a7ff58"/>
<path d="M168.9,355.2 171.6,357.9 173,361.4 170.3,355.6Z" fill="#97ff68" stroke="#97ff68"/>
<path d="M171.6,357.9 174.2,361.8 176.9,364.3 178.3,363.4 175.7,360.7 173,361.4Z" fill="#78ff87" stroke="#78ff87"/>
<path d="M176.9,364.3 179.6,368.1 181,366.1 178.3,363.4Z" fill="#68ff97" stroke="#68ff97"/>
<path d="M179.6,368.1 182.2,368.4 183.7,365.6 181,366.1ZM230.3,366.7 233,368.8 234.4,368.2 231.7,369.7Z" fill="#58ffa7" stroke="#58ffa7"/>
<path d="M182.2,368.4 184.9,369.6 186.4,367.3 183.7,365.6ZM190.2,366.3 192.9,368.3 195.6,368.5 197,367.7 194.4,368.5 191.7,370.4ZM216.9,365.4 219.6,367.9 221,366.9 218.4,368.1ZM224.9,366.3 227.6,366.7 230.3,366.7 231.7,369.7 229,368.3 226.4,369.7ZM246.3,364.3 249,365.2 250.4,368.3 247.7,365.7Z" fill="#48ffb7" stroke="#48ffb7"/>
<path d="M184.9,369.6 187.6,368.3 189,367.1 186.4,367.3ZM195.6,368.5 198.3,368.6 200.9,368.9 202.4,366.8 199.7,368.9 197,367.7ZM203.6,368.7 206.3,368.5 207.7,368.5 205,367.2ZM222.3,366.6 224.9,366.3 226.4,369.7 223.7,367.1ZM233,368.8 235.6,366.1 238.3,368.3 241,367.9 243.6,367 246.3,364.3 247.7,365.7 245.1,369 242.4,368 239.7,367.6 237.1,370.6 234.4,368.2ZM254.3,367.1 257,367.1 258.4,368.6 255.7,369ZM259.6,367.2 262.3,370.8 263.7,369.1 261.1,369.8ZM265,368.9 267.7,369.5 269.1,368.4 266.4,370.2ZM273,369.4 275.7,369.2 277.1,368.2 274.4,368.8Z" fill="#28ffd7" stroke="#28ffd7"/>
<path d="M187.6,368.3 190.2,366.3 191.7,370.4 189,367.1ZM206.3,368.5 208.9,368.5 211.6,368.9 214.3,368.8 216.9,365.4 218.4,368.1 215.7,367.3 213,367.9 210.4,369.7 207.7,368.5ZM219.6,367.9 222.3,366.6 223.7,367.1 221,366.9ZM249,365.2 251.6,365.4 253.1,367.3 250.4,368.3ZM257,367.1 259.6,367.2 261.1,369.8 258.4,368.6Z" fill="#38ffc7" stroke="#38ffc7"/>
<path d="M200.9,368.9 203.6,368.7 205,367.2 202.4,366.8ZM251.6,365.4 254.3,367.1 255.7,369 253.1,367.3ZM267.7,369.5 270.3,369.8 271.7,369.2 269.1,368.4ZM294.3,370.1 297,371 298.4,375.6 295.8,370.8ZM302.4,371.6 305,374.1 306.4,373.9 303.8,374.9Z" fill="#18ffe7" stroke="#18ffe7"/>
<path d="M262.3,370.8 265,368.9 266.4,370.2 263.7,369.1ZM270.3,369.8 273,369.4 274.4,368.8 271.7,369.2ZM275.7,369.2 278.3,371.4 281,373 282.4,373.3 279.8,371.7 277.1,368.2ZM286.3,371.7 289,371.1 291.7,370.3 293.1,372.3 290.4,372.8 287.8,371.6ZM297,371 299.7,373.4 302.4,371.6 303.8,374.9 301.1,376 298.4,375.6ZM305,374.1 307.7,370.6 310.4,372.7 311.8,372.8 309.1,372.4 306.4,373.9Z" fill="#08fff7" stroke="#08fff7"/>
<path d="M281,373 283.7,370.7 286.3,371.7 287.8,371.6 285.1,371.1 282.4,373.3ZM291.7,370.3 294.3,370.1 295.8,370.8 293.1,372.3ZM310.4,372.7 313,374.3 315.7,372 318.4,375 319.8,372.6 317.1,376 314.4,373.6 311.8,372.8ZM329,370.6 331.7,374.2 333.1,374.3 330.5,373.7ZM339.7,374.3 342.4,376.2 345.1,375.5 346.5,377.3 343.8,373.3 341.1,374.5ZM371.7,376.1 374.4,376.2 375.8,376.6 373.2,376.2ZM435.8,368.4 438.5,369 439.9,371.2 437.2,370.9ZM478.5,363.8 481.2,365.7 483.8,365 485.2,367.7 482.6,366.3 479.9,368.5ZM497.2,362.2 499.9,364.3 501.2,365.8 498.6,364.4ZM507.9,363.5 510.5,367.4 511.9,364.9 509.2,364.5ZM513.2,362.6 515.9,362.3 517.3,363.7 514.6,361.8Z" fill="#00f7ff" stroke="#00f7ff"/>
<path d="M318.4,375 321,371.5 323.7,373.6 325.1,375.4 322.4,374.5 319.8,372.6ZM361.1,377.5 363.7,376.2 366.4,376.2 367.8,377.1 365.1,376.2 362.5,374.8ZM369.1,374.8 371.7,376.1 373.2,376.2 370.5,376.4ZM374.4,376.2 377.1,374.5 379.8,377.7 381.2,372.5 378.5,373.3 375.8,376.6ZM385.1,374.9 387.8,376.1 390.4,372.7 393.1,372.9 394.5,372.3 391.8,372.2 389.2,374.4 386.5,374.9ZM398.4,371.3 401.1,375.5 402.5,373 399.8,373.5ZM411.8,373.2 414.5,369.3 417.1,372.4 418.5,371.5 415.8,371.8 413.2,372.3ZM419.8,371.4 422.5,371.3 425.1,369.7 427.8,370.4 430.5,369.4 433.1,369.2 434.5,370.3 431.9,371.1 429.2,372.4 426.5,371.2 423.9,370.8 421.2,373.7ZM438.5,369 441.1,369 442.5,369.9 439.9,371.2ZM443.8,368 446.5,368.2 449.2,367.4 450.5,364.7 447.9,367.9 445.2,370.6ZM462.5,366.7 465.2,368 466.5,366.9 463.9,368ZM467.8,367.5 470.5,367.3 471.9,367.4 469.2,367.5ZM483.8,365 486.5,367.1 489.2,366.3 490.6,366.1 487.9,367.8 485.2,367.7ZM491.9,365.7 494.5,366.1 495.9,363 493.2,366.4ZM505.2,364.4 507.9,363.5 509.2,364.5 506.6,368.2ZM510.5,367.4 513.2,362.6 514.6,361.8 511.9,364.9ZM523.9,362.7 526.6,363.1 527.9,361.2 525.3,364.6ZM531.9,361.3 534.6,361.3 535.9,362.7 533.3,362.3Z" fill="#00e7ff" stroke="#00e7ff"/>
<path d="M323.7,373.6 326.4,374.3 327.8,375.9 325.1,375.4ZM334.4,375.7 337.1,374.2 338.5,374.1 335.8,374.7ZM347.7,370.2 350.4,374.9 351.8,375.6 349.1,374.6ZM353.1,376.2 355.7,374.2 358.4,375.9 359.8,374.9 357.1,376.3 354.5,374.5ZM382.4,374.4 385.1,374.9 386.5,374.9 383.8,377.7ZM393.1,372.9 395.8,374 398.4,371.3 399.8,373.5 397.2,374.3 394.5,372.3ZM403.8,373.4 406.4,371.4 407.8,371.5 405.2,372.8ZM441.1,369 443.8,368 445.2,370.6 442.5,369.9ZM451.8,368.5 454.5,368.6 455.9,367.1 453.2,367.1ZM494.5,366.1 497.2,362.2 498.6,364.4 495.9,363ZM518.5,365.6 521.2,362.7 522.6,364.6 519.9,362ZM534.6,361.3 537.2,361.2 539.9,360.3 541.3,362.9 538.6,359.6 535.9,362.7Z" fill="#00c7ff" stroke="#00c7ff"/>
<path d="M326.4,374.3 329,370.6 330.5,373.7 327.8,375.9ZM331.7,374.2 334.4,375.7 335.8,374.7 333.1,374.3ZM337.1,374.2 339.7,374.3 341.1,374.5 338.5,374.1ZM345.1,375.5 347.7,370.2 349.1,374.6 346.5,377.3ZM350.4,374.9 353.1,376.2 354.5,374.5 351.8,375.6ZM358.4,375.9 361.1,377.5 362.5,374.8 359.8,374.9ZM366.4,376.2 369.1,374.8 370.5,376.4 367.8,377.1ZM379.8,377.7 382.4,374.4 383.8,377.7 381.2,372.5ZM406.4,371.4 409.1,368.5 411.8,373.2 413.2,372.3 410.5,372.3 407.8,371.5ZM417.1,372.4 419.8,371.4 421.2,373.7 418.5,371.5ZM433.1,369.2 435.8,368.4 437.2,370.9 434.5,370.3ZM449.2,367.4 451.8,368.5 453.2,367.1 450.5,364.7ZM454.5,368.6 457.2,366.6 459.8,370.2 462.5,366.7 463.9,368 461.2,369.2 458.5,368.9 455.9,367.1ZM465.2,368 467.8,367.5 469.2,367.5 466.5,366.9ZM470.5,367.3 473.2,368.9 474.6,367.6 471.9,367.4ZM475.8,364.9 478.5,363.8 479.9,368.5 477.2,365.6ZM489.2,366.3 491.9,365.7 493.2,366.4 490.6,366.1ZM499.9,364.3 502.5,365.7 505.2,364.4 506.6,368.2 503.9,365.3 501.2,365.8ZM515.9,362.3 518.5,365.6 519.9,362 517.3,363.7ZM521.2,362.7 523.9,362.7 525.3,364.6 522.6,364.6ZM526.6,363.1 529.2,362.4 531.9,361.3 533.3,362.3 530.6,362.9 527.9,361.2ZM539.9,360.3 542.6,360 543.9,360.8 541.3,362.9Z" fill="#00d7ff" stroke="#00d7ff"/>
<path d="M401.1,375.5 403.8,373.4 405.2,372.8 402.5,373ZM473.2,368.9 475.8,364.9 477.2,365.6 474.6,367.6Z" fill="#00b7ff" stroke="#00b7ff"/>
<path d="M154.3,265.5 157,304.4 158.4,311.4 155.8,274.3Z" fill="#b70000" stroke="#b70000"/>
<path d="M157,304.4 159.7,328.3 161.1,332.9 158.4,311.4Z" fill="#ff6800" stroke="#ff6800"/>
<path d="M159.7,328.3 162.3,339.5 163.8,341.9 161.1,332.9Z" fill="#ffd700" stroke="#ffd700"/>
<path d="M162.3,339.5 165,345.6 166.4,348.7 163.8,341.9Z" fill="#e7ff18" stroke="#e7ff18"/>
<path d="M165,345.6 167.7,351.4 169.1,354.4 166.4,348.7Z" fill="#c7ff38" stroke="#c7ff38"/>
<path d="M167.7,351.4 170.3,355.6 171.8,357.7 169.1,354.4Z" fill="#97ff68" stroke="#97ff68"/>
<path d="M170.3,355.6 173,361.4 174.4,362.6 171.8,357.7Z" fill="#a7ff58" stroke="#a7ff58"/>
<path d="M173,361.4 175.7,360.7 178.3,363.4 179.8,366.9 177.1,363.6 174.4,362.6Z" fill="#87ff78" stroke="#87ff78"/>
<path d="M178.3,363.4 181,366.1 183.7,365.6 185.1,367.5 182.5,366.9 179.8,366.9Z" fill="#78ff87" stroke="#78ff87"/>
<path d="M183.7,365.6 186.4,367.3 187.8,367.4 185.1,367.5ZM189,367.1 191.7,370.4 193.1,369.8 190.5,366ZM229,368.3 231.7,369.7 233.1,368.6 230.5,369.3Z" fill="#68ff97" stroke="#68ff97"/>
<path d="M186.4,367.3 189,367.1 190.5,366 187.8,367.4ZM197,367.7 199.7,368.9 201.1,372.2 198.5,370ZM202.4,366.8 205,367.2 207.7,368.5 210.4,369.7 213,367.9 214.5,365.6 211.8,368.2 209.1,367.8 206.5,369.6 203.8,369.2ZM215.7,367.3 218.4,368.1 219.8,366.3 217.1,366.5ZM223.7,367.1 226.4,369.7 229,368.3 230.5,369.3 227.8,369.3 225.1,370.1ZM234.4,368.2 237.1,370.6 238.5,369 235.8,367.6ZM245.1,369 247.7,365.7 249.2,369.2 246.5,366.8ZM258.4,368.6 261.1,369.8 262.5,370.3 259.8,371.2Z" fill="#48ffb7" stroke="#48ffb7"/>
<path d="M191.7,370.4 194.4,368.5 197,367.7 198.5,370 195.8,368 193.1,369.8ZM213,367.9 215.7,367.3 217.1,366.5 214.5,365.6ZM218.4,368.1 221,366.9 223.7,367.1 225.1,370.1 222.5,367.5 219.8,366.3ZM231.7,369.7 234.4,368.2 235.8,367.6 233.1,368.6ZM247.7,365.7 250.4,368.3 251.8,369.5 249.2,369.2Z" fill="#58ffa7" stroke="#58ffa7"/>
<path d="M199.7,368.9 202.4,366.8 203.8,369.2 201.1,372.2ZM237.1,370.6 239.7,367.6 242.4,368 245.1,369 246.5,366.8 243.8,368.3 241.2,367.9 238.5,369ZM250.4,368.3 253.1,367.3 255.7,369 257.2,369.5 254.5,369.5 251.8,369.5ZM261.1,369.8 263.7,369.1 266.4,370.2 267.8,370 265.2,370.7 262.5,370.3ZM274.4,368.8 277.1,368.2 278.5,371.9 275.8,370.8Z" fill="#38ffc7" stroke="#38ffc7"/>
<path d="M255.7,369 258.4,368.6 259.8,371.2 257.2,369.5ZM266.4,370.2 269.1,368.4 271.7,369.2 274.4,368.8 275.8,370.8 273.2,371.9 270.5,370.6 267.8,370ZM277.1,368.2 279.8,371.7 281.2,371.1 278.5,371.9ZM287.8,371.6 290.4,372.8 291.8,374.2 289.2,374.9ZM295.8,370.8 298.4,375.6 299.8,374.4 297.2,372.7ZM303.8,374.9 306.4,373.9 309.1,372.4 311.8,372.8 313.2,375.7 310.5,374.7 307.9,375.7 305.2,375.4Z" fill="#28ffd7" stroke="#28ffd7"/>
<path d="M279.8,371.7 282.4,373.3 283.8,373.5 281.2,371.1ZM285.1,371.1 287.8,371.6 289.2,374.9 286.5,372.2ZM290.4,372.8 293.1,372.3 294.5,372.6 291.8,374.2ZM298.4,375.6 301.1,376 303.8,374.9 305.2,375.4 302.5,373.9 299.8,374.4ZM314.4,373.6 317.1,376 318.5,373.3 315.9,372ZM343.8,373.3 346.5,377.3 347.9,375.8 345.2,376.7ZM447.9,367.9 450.5,364.7 451.9,370.1 449.3,365.8ZM514.6,361.8 517.3,363.7 518.6,364.2 516,365Z" fill="#18ffe7" stroke="#18ffe7"/>
<path d="M282.4,373.3 285.1,371.1 286.5,372.2 283.8,373.5ZM293.1,372.3 295.8,370.8 297.2,372.7 294.5,372.6ZM311.8,372.8 314.4,373.6 315.9,372 313.2,375.7ZM317.1,376 319.8,372.6 322.4,374.5 323.9,373.3 321.2,375.6 318.5,373.3ZM330.5,373.7 333.1,374.3 334.5,377 331.9,376.6ZM341.1,374.5 343.8,373.3 345.2,376.7 342.5,376.7ZM362.5,374.8 365.1,376.2 366.5,376.2 363.9,376.5ZM373.2,376.2 375.8,376.6 377.2,376.9 374.6,374.6ZM378.5,373.3 381.2,372.5 383.8,377.7 385.2,375.3 382.6,373.6 379.9,375.6ZM391.8,372.2 394.5,372.3 395.9,373.4 393.2,375.1ZM415.8,371.8 418.5,371.5 421.2,373.7 422.6,370.5 419.9,370.2 417.2,371ZM450.5,364.7 453.2,367.1 454.6,369.7 451.9,370.1ZM482.6,366.3 485.2,367.7 486.6,368 483.9,369.6ZM511.9,364.9 514.6,361.8 516,365 513.3,363.8ZM533.3,362.3 535.9,362.7 537.3,362.7 534.6,359.1Z" fill="#08fff7" stroke="#08fff7"/>
<path d="M322.4,374.5 325.1,375.4 327.8,375.9 330.5,373.7 331.9,376.6 329.2,376.9 326.5,374.5 323.9,373.3ZM351.8,375.6 354.5,374.5 357.1,376.3 359.8,374.9 361.2,377.5 358.5,376.3 355.9,378.9 353.2,375.1ZM367.8,377.1 370.5,376.4 371.9,375 369.2,376.9ZM394.5,372.3 397.2,374.3 398.6,373.3 395.9,373.4ZM405.2,372.8 407.8,371.5 409.2,370.2 406.6,373.4ZM410.5,372.3 413.2,372.3 414.6,370.1 411.9,372.1ZM421.2,373.7 423.9,370.8 425.2,369.1 422.6,370.5ZM431.9,371.1 434.5,370.3 437.2,370.9 438.6,370.2 435.9,368.8 433.2,371.6ZM442.5,369.9 445.2,370.6 447.9,367.9 449.3,365.8 446.6,369.4 443.9,369.2ZM453.2,367.1 455.9,367.1 458.5,368.9 459.9,370.1 457.3,367.9 454.6,369.7ZM461.2,369.2 463.9,368 465.3,367.6 462.6,369ZM466.5,366.9 469.2,367.5 470.6,365.4 467.9,366.2ZM474.6,367.6 477.2,365.6 478.6,366.9 475.9,367ZM479.9,368.5 482.6,366.3 483.9,369.6 481.3,368.3ZM506.6,368.2 509.2,364.5 510.6,364 508,363.9ZM522.6,364.6 525.3,364.6 526.6,363 524,364.6ZM530.6,362.9 533.3,362.3 534.6,359.1 532,363.6ZM538.6,359.6 541.3,362.9 543.9,360.8 545.3,360.1 542.6,361 540,361.2Z" fill="#00e7ff" stroke="#00e7ff"/>
<path d="M333.1,374.3 335.8,374.7 337.2,374.1 334.5,377ZM338.5,374.1 341.1,374.5 342.5,376.7 339.9,378.6ZM359.8,374.9 362.5,374.8 363.9,376.5 361.2,377.5ZM365.1,376.2 367.8,377.1 369.2,376.9 366.5,376.2ZM370.5,376.4 373.2,376.2 374.6,374.6 371.9,375ZM375.8,376.6 378.5,373.3 379.9,375.6 377.2,376.9ZM386.5,374.9 389.2,374.4 391.8,372.2 393.2,375.1 390.6,373.3 387.9,373.1ZM399.8,373.5 402.5,373 403.9,371.9 401.2,373.2ZM407.8,371.5 410.5,372.3 411.9,372.1 409.2,370.2ZM413.2,372.3 415.8,371.8 417.2,371 414.6,370.1ZM423.9,370.8 426.5,371.2 429.2,372.4 431.9,371.1 433.2,371.6 430.6,369.3 427.9,370 425.2,369.1ZM437.2,370.9 439.9,371.2 442.5,369.9 443.9,369.2 441.3,367.6 438.6,370.2ZM458.5,368.9 461.2,369.2 462.6,369 459.9,370.1ZM463.9,368 466.5,366.9 467.9,366.2 465.3,367.6ZM469.2,367.5 471.9,367.4 473.3,364.9 470.6,365.4ZM477.2,365.6 479.9,368.5 481.3,368.3 478.6,366.9ZM485.2,367.7 487.9,367.8 490.6,366.1 493.2,366.4 495.9,363 498.6,364.4 501.2,365.8 503.9,365.3 506.6,368.2 508,363.9 505.3,363 502.6,363.8 499.9,365.7 497.3,365.5 494.6,366.9 491.9,366.2 489.3,367.5 486.6,368ZM509.2,364.5 511.9,364.9 513.3,363.8 510.6,364ZM517.3,363.7 519.9,362 522.6,364.6 524,364.6 521.3,364.6 518.6,364.2ZM525.3,364.6 527.9,361.2 530.6,362.9 532,363.6 529.3,363.4 526.6,363Z" fill="#00f7ff" stroke="#00f7ff"/>
<path d="M335.8,374.7 338.5,374.1 339.9,378.6 337.2,374.1ZM346.5,377.3 349.1,374.6 350.5,377.5 347.9,375.8ZM383.8,377.7 386.5,374.9 387.9,373.1 385.2,375.3ZM397.2,374.3 399.8,373.5 401.2,373.2 398.6,373.3ZM402.5,373 405.2,372.8 406.6,373.4 403.9,371.9ZM471.9,367.4 474.6,367.6 475.9,367 473.3,364.9ZM535.9,362.7 538.6,359.6 540,361.2 537.3,362.7Z" fill="#00d7ff" stroke="#00d7ff"/>
<path d="M349.1,374.6 351.8,375.6 353.2,375.1 350.5,377.5Z" fill="#00c7ff" stroke="#00c7ff"/>
<path d="M155.8,274.3 158.4,311.4 159.9,317.9 157.2,282.9Z" fill="#c70000" stroke="#c70000"/>
<path d="M158.4,311.4 161.1,332.9 162.6,337.6 159.9,317.9Z" fill="#ff7800" stroke="#ff7800"/>
<path d="M161.1,332.9 163.8,341.9 165.2,346 162.6,337.6Z" fill="#ffd700" stroke="#ffd700"/>
<path d="M163.8,341.9 166.4,348.7 167.9,352.2 165.2,346Z" fill="#f7ff08" stroke="#f7ff08"/>
<path d="M166.4,348.7 169.1,354.4 170.6,356.4 167.9,352.2Z" fill="#c7ff38" stroke="#c7ff38"/>
<path d="M169.1,354.4 171.8,357.7 174.4,362.6 175.9,364.6 173.2,361.1 170.6,356.4Z" fill="#a7ff58" stroke="#a7ff58"/>
<path d="M174.4,362.6 177.1,363.6 179.8,366.9 181.2,366.2 178.6,366 175.9,364.6ZM182.5,366.9 185.1,367.5 186.6,369.9 183.9,368.3Z" fill="#97ff68" stroke="#97ff68"/>
<path d="M179.8,366.9 182.5,366.9 183.9,368.3 181.2,366.2ZM190.5,366 193.1,369.8 194.6,368.9 191.9,370.3Z" fill="#87ff78" stroke="#87ff78"/>
<path d="M185.1,367.5 187.8,367.4 189.2,368.5 186.6,369.9ZM193.1,369.8 195.8,368 198.5,370 199.9,370.4 197.2,370.2 194.6,368.9ZM214.5,365.6 217.1,366.5 218.6,366.3 215.9,371.8ZM219.8,366.3 222.5,367.5 225.1,370.1 226.6,369.3 223.9,369.3 221.2,369.3ZM227.8,369.3 230.5,369.3 231.9,368 229.2,368.4ZM233.1,368.6 235.8,367.6 238.5,369 239.9,368.9 237.2,372.8 234.6,370.6Z" fill="#78ff87" stroke="#78ff87"/>
<path d="M187.8,367.4 190.5,366 191.9,370.3 189.2,368.5ZM209.1,367.8 211.8,368.2 214.5,365.6 215.9,371.8 213.2,367.5 210.6,369.2ZM217.1,366.5 219.8,366.3 221.2,369.3 218.6,366.3ZM230.5,369.3 233.1,368.6 234.6,370.6 231.9,368ZM246.5,366.8 249.2,369.2 250.6,369.6 247.9,368.8Z" fill="#68ff97" stroke="#68ff97"/>
<path d="M198.5,370 201.1,372.2 202.6,371.1 199.9,370.4ZM254.5,369.5 257.2,369.5 258.6,370.5 255.9,370.2ZM259.8,371.2 262.5,370.3 265.2,370.7 267.8,370 269.3,372.4 266.6,372.2 263.9,372.1 261.3,370.2ZM275.8,370.8 278.5,371.9 279.9,373.7 277.3,374.2Z" fill="#48ffb7" stroke="#48ffb7"/>
<path d="M201.1,372.2 203.8,369.2 205.2,371.9 202.6,371.1ZM257.2,369.5 259.8,371.2 261.3,370.2 258.6,370.5ZM270.5,370.6 273.2,371.9 275.8,370.8 277.3,374.2 274.6,372.8 271.9,371.7ZM281.2,371.1 283.8,373.5 286.5,372.2 287.9,375.5 285.3,374.1 282.6,375.3ZM291.8,374.2 294.5,372.6 295.9,374 293.3,374.6ZM297.2,372.7 299.8,374.4 302.5,373.9 305.2,375.4 307.9,375.7 310.5,374.7 311.9,376.5 309.3,377.4 306.6,376.1 303.9,372.4 301.3,375.5 298.6,373.6ZM449.3,365.8 451.9,370.1 453.3,367.5 450.6,368.3Z" fill="#38ffc7" stroke="#38ffc7"/>
<path d="M203.8,369.2 206.5,369.6 209.1,367.8 210.6,369.2 207.9,368.7 205.2,371.9ZM225.1,370.1 227.8,369.3 229.2,368.4 226.6,369.3ZM238.5,369 241.2,367.9 243.8,368.3 246.5,366.8 247.9,368.8 245.2,370.8 242.6,366.9 239.9,368.9ZM249.2,369.2 251.8,369.5 254.5,369.5 255.9,370.2 253.3,371 250.6,369.6ZM267.8,370 270.5,370.6 271.9,371.7 269.3,372.4Z" fill="#58ffa7" stroke="#58ffa7"/>
<path d="M278.5,371.9 281.2,371.1 282.6,375.3 279.9,373.7ZM286.5,372.2 289.2,374.9 291.8,374.2 293.3,374.6 290.6,375.5 287.9,375.5ZM310.5,374.7 313.2,375.7 314.6,374.6 311.9,376.5ZM315.9,372 318.5,373.3 319.9,375.6 317.3,374.1ZM345.2,376.7 347.9,375.8 349.3,376.4 346.6,377.2ZM374.6,374.6 377.2,376.9 378.6,375.8 376,375.3ZM390.6,373.3 393.2,375.1 394.6,373.3 392,373.2ZM425.2,369.1 427.9,370 429.3,370.1 426.6,369.6ZM430.6,369.3 433.2,371.6 434.6,371.8 432,367.4ZM470.6,365.4 473.3,364.9 474.6,366.5 472,365.7ZM510.6,364 513.3,363.8 516,365 517.3,363.1 514.7,364.2 512,362.9ZM534.6,359.1 537.3,362.7 538.7,360.2 536,362.6Z" fill="#28ffd7" stroke="#28ffd7"/>
<path d="M294.5,372.6 297.2,372.7 298.6,373.6 295.9,374ZM313.2,375.7 315.9,372 317.3,374.1 314.6,374.6ZM318.5,373.3 321.2,375.6 322.6,377.2 319.9,375.6ZM323.9,373.3 326.5,374.5 329.2,376.9 330.6,375.8 327.9,376 325.3,376.2ZM331.9,376.6 334.5,377 335.9,375 333.3,379.3ZM342.5,376.7 345.2,376.7 346.6,377.2 343.9,377.6ZM363.9,376.5 366.5,376.2 369.2,376.9 370.6,373.5 368,376.2 365.3,376.7ZM377.2,376.9 379.9,375.6 382.6,373.6 385.2,375.3 386.6,372.8 384,374.4 381.3,372.9 378.6,375.8ZM387.9,373.1 390.6,373.3 392,373.2 389.3,371.5ZM409.2,370.2 411.9,372.1 413.3,371.5 410.6,372.1ZM414.6,370.1 417.2,371 419.9,370.2 422.6,370.5 424,369.2 421.3,370.7 418.6,369.9 416,370.5ZM427.9,370 430.6,369.3 432,367.4 429.3,370.1ZM438.6,370.2 441.3,367.6 443.9,369.2 445.3,366.8 442.6,369.3 440,369.2ZM465.3,367.6 467.9,366.2 469.3,368.5 466.6,368.1ZM473.3,364.9 475.9,367 477.3,364.3 474.6,366.5ZM483.9,369.6 486.6,368 488,364.4 485.3,363.3ZM502.6,363.8 505.3,363 508,363.9 509.3,363.7 506.7,362.3 504,363.8ZM516,365 518.6,364.2 521.3,364.6 522.7,362.5 520,360 517.3,363.1ZM526.6,363 529.3,363.4 530.7,361 528,360.9Z" fill="#18ffe7" stroke="#18ffe7"/>
<path d="M321.2,375.6 323.9,373.3 325.3,376.2 322.6,377.2ZM339.9,378.6 342.5,376.7 343.9,377.6 341.3,376.5ZM347.9,375.8 350.5,377.5 351.9,375.1 349.3,376.4ZM353.2,375.1 355.9,378.9 357.3,378 354.6,376.8ZM361.2,377.5 363.9,376.5 365.3,376.7 362.6,375.3ZM369.2,376.9 371.9,375 374.6,374.6 376,375.3 373.3,374.7 370.6,373.5ZM393.2,375.1 395.9,373.4 397.3,372.9 394.6,373.3ZM401.2,373.2 403.9,371.9 405.3,373.5 402.6,370.9ZM422.6,370.5 425.2,369.1 426.6,369.6 424,369.2ZM433.2,371.6 435.9,368.8 438.6,370.2 440,369.2 437.3,369.1 434.6,371.8ZM446.6,369.4 449.3,365.8 450.6,368.3 448,366.5ZM451.9,370.1 454.6,369.7 457.3,367.9 458.6,367.1 456,369.6 453.3,367.5ZM462.6,369 465.3,367.6 466.6,368.1 464,367.3ZM467.9,366.2 470.6,365.4 472,365.7 469.3,368.5ZM475.9,367 478.6,366.9 481.3,368.3 483.9,369.6 485.3,363.3 482.7,367.7 480,365.4 477.3,364.3ZM486.6,368 489.3,367.5 491.9,366.2 494.6,366.9 497.3,365.5 498.7,365.1 496,365 493.3,365.4 490.7,364.4 488,364.4ZM499.9,365.7 502.6,363.8 504,363.8 501.3,363.7ZM508,363.9 510.6,364 512,362.9 509.3,363.7ZM524,364.6 526.6,363 528,360.9 525.3,362.7ZM529.3,363.4 532,363.6 534.6,359.1 536,362.6 533.3,362.4 530.7,361ZM542.6,361 545.3,360.1 546.7,360.4 544,358.4Z" fill="#08fff7" stroke="#08fff7"/>
<path d="M329.2,376.9 331.9,376.6 333.3,379.3 330.6,375.8ZM334.5,377 337.2,374.1 339.9,378.6 341.3,376.5 338.6,374.7 335.9,375ZM355.9,378.9 358.5,376.3 361.2,377.5 362.6,375.3 359.9,374.7 357.3,378ZM385.2,375.3 387.9,373.1 389.3,371.5 386.6,372.8ZM395.9,373.4 398.6,373.3 401.2,373.2 402.6,370.9 400,372.8 397.3,372.9ZM403.9,371.9 406.6,373.4 409.2,370.2 410.6,372.1 408,371.8 405.3,373.5ZM411.9,372.1 414.6,370.1 416,370.5 413.3,371.5ZM443.9,369.2 446.6,369.4 448,366.5 445.3,366.8ZM457.3,367.9 459.9,370.1 462.6,369 464,367.3 461.3,365.9 458.6,367.1ZM497.3,365.5 499.9,365.7 501.3,363.7 498.7,365.1ZM521.3,364.6 524,364.6 525.3,362.7 522.7,362.5ZM537.3,362.7 540,361.2 542.6,361 544,358.4 541.3,361.9 538.7,360.2Z" fill="#00f7ff" stroke="#00f7ff"/>
<path d="M350.5,377.5 353.2,375.1 354.6,376.8 351.9,375.1Z" fill="#00e7ff" stroke="#00e7ff"/>
<path d="M157.2,282.9 159.9,317.9 161.3,324.7 158.7,291.5Z" fill="#c70000" stroke="#c70000"/>
<path d="M159.9,317.9 162.6,337.6 164,342.8 161.3,324.7Z" fill="#ff7800" stroke="#ff7800"/>
<path d="M162.6,337.6 165.2,346 166.7,350.7 164,342.8Z" fill="#ffd700" stroke="#ffd700"/>
<path d="M165.2,346 167.9,352.2 169.3,357.2 166.7,350.7Z" fill="#f7ff08" stroke="#f7ff08"/>
<path d="M167.9,352.2 170.6,356.4 173.2,361.1 175.9,364.6 177.3,364.5 174.7,363.4 172,359.9 169.3,357.2Z" fill="#c7ff38" stroke="#c7ff38"/>
<path d="M175.9,364.6 178.6,366 181.2,366.2 182.7,363.5 180,365.6 177.3,364.5Z" fill="#a7ff58" stroke="#a7ff58"/>
<path d="M181.2,366.2 183.9,368.3 186.6,369.9 188,363.8 185.3,363.9 182.7,363.5ZM194.6,368.9 197.2,370.2 198.7,368.8 196,364.8Z" fill="#97ff68" stroke="#97ff68"/>
<path d="M186.6,369.9 189.2,368.5 190.7,365 188,363.8ZM191.9,370.3 194.6,368.9 196,364.8 193.3,366.1ZM197.2,370.2 199.9,370.4 201.3,368.5 198.7,368.8ZM210.6,369.2 213.2,367.5 215.9,371.8 217.3,375.5 214.7,374.3 212,371.5ZM218.6,366.3 221.2,369.3 222.7,373.3 220,371.1ZM229.2,368.4 231.9,368 234.6,370.6 237.2,372.8 238.7,374.1 236,374.5 233.3,372.3 230.7,372.9Z" fill="#87ff78" stroke="#87ff78"/>
<path d="M189.2,368.5 191.9,370.3 193.3,366.1 190.7,365ZM199.9,370.4 202.6,371.1 205.2,371.9 206.7,373.3 204,372.4 201.3,368.5ZM207.9,368.7 210.6,369.2 212,371.5 209.3,372ZM215.9,371.8 218.6,366.3 220,371.1 217.3,375.5ZM226.6,369.3 229.2,368.4 230.7,372.9 228,373.1ZM237.2,372.8 239.9,368.9 242.6,366.9 244,373.7 241.3,371.2 238.7,374.1ZM253.3,371 255.9,370.2 257.3,375.1 254.7,374.9ZM261.3,370.2 263.9,372.1 265.3,373.5 262.7,375.8ZM303.9,372.4 306.6,376.1 308,377.7 305.3,379Z" fill="#68ff97" stroke="#68ff97"/>
<path d="M205.2,371.9 207.9,368.7 209.3,372 206.7,373.3ZM245.2,370.8 247.9,368.8 249.3,374.2 246.7,374.1ZM255.9,370.2 258.6,370.5 261.3,370.2 262.7,375.8 260,374.3 257.3,375.1ZM263.9,372.1 266.6,372.2 269.3,372.4 271.9,371.7 273.3,374.9 270.7,375.8 268,375.1 265.3,373.5ZM274.6,372.8 277.3,374.2 279.9,373.7 281.3,377.1 278.7,375.7 276,376.1ZM306.6,376.1 309.3,377.4 310.7,377.8 308,377.7Z" fill="#58ffa7" stroke="#58ffa7"/>
<path d="M221.2,369.3 223.9,369.3 226.6,369.3 228,373.1 225.3,373.5 222.7,373.3ZM242.6,366.9 245.2,370.8 246.7,374.1 244,373.7ZM247.9,368.8 250.6,369.6 253.3,371 254.7,374.9 252,372.3 249.3,374.2Z" fill="#78ff87" stroke="#78ff87"/>
<path d="M271.9,371.7 274.6,372.8 276,376.1 273.3,374.9ZM285.3,374.1 287.9,375.5 289.3,378.1 286.7,377.2ZM290.6,375.5 293.3,374.6 295.9,374 297.3,378 294.7,378.1 292,378ZM298.6,373.6 301.3,375.5 302.7,378.7 300,378.9ZM309.3,377.4 311.9,376.5 313.3,377.6 310.7,377.8ZM378.6,375.8 381.3,372.9 384,374.4 385.4,374.5 382.7,376.6 380,372.4ZM394.6,373.3 397.3,372.9 398.7,371.1 396,375.2ZM432,367.4 434.6,371.8 436,368.6 433.4,368.1ZM440,369.2 442.6,369.3 444,369.2 441.4,369.5ZM450.6,368.3 453.3,367.5 454.7,367.8 452,369.6ZM485.3,363.3 488,364.4 489.4,367.5 486.7,365.3Z" fill="#48ffb7" stroke="#48ffb7"/>
<path d="M279.9,373.7 282.6,375.3 285.3,374.1 286.7,377.2 284,376.9 281.3,377.1ZM287.9,375.5 290.6,375.5 292,378 289.3,378.1ZM295.9,374 298.6,373.6 300,378.9 297.3,378ZM301.3,375.5 303.9,372.4 305.3,379 302.7,378.7ZM311.9,376.5 314.6,374.6 316,379.2 313.3,377.6ZM317.3,374.1 319.9,375.6 322.6,377.2 324,380.6 321.4,379.2 318.7,379.6ZM346.6,377.2 349.3,376.4 350.7,377.8 348,377.7ZM370.6,373.5 373.3,374.7 376,375.3 377.4,377.8 374.7,377.3 372,378.8ZM389.3,371.5 392,373.2 394.6,373.3 396,375.2 393.4,375.9 390.7,374.5ZM416,370.5 418.6,369.9 421.3,370.7 422.7,370 420,370.4 417.4,369.7ZM424,369.2 426.6,369.6 429.3,370.1 430.7,371.4 428,372.9 425.4,370.9ZM442.6,369.3 445.3,366.8 446.7,367.1 444,369.2ZM448,366.5 450.6,368.3 452,369.6 449.4,369ZM466.6,368.1 469.3,368.5 470.7,368 468,365.3ZM472,365.7 474.6,366.5 476,368.1 473.4,368.5ZM480,365.4 482.7,367.7 484,368.5 481.4,365.1ZM490.7,364.4 493.3,365.4 494.7,364.7 492,365.2ZM504,363.8 506.7,362.3 509.3,363.7 512,362.9 514.7,364.2 517.3,363.1 520,360 522.7,362.5 524,365.1 521.4,362.3 518.7,363.7 516,363.7 513.4,364 510.7,363.1 508,366.6 505.4,361.7ZM525.3,362.7 528,360.9 530.7,361 533.3,362.4 534.7,363.1 532,361.3 529.4,362 526.7,362.5ZM536,362.6 538.7,360.2 540,361.5 537.4,363.5Z" fill="#38ffc7" stroke="#38ffc7"/>
<path d="M314.6,374.6 317.3,374.1 318.7,379.6 316,379.2ZM322.6,377.2 325.3,376.2 326.7,376.6 324,380.6ZM335.9,375 338.6,374.7 340,378.7 337.4,380.8ZM343.9,377.6 346.6,377.2 348,377.7 345.4,378.7ZM362.6,375.3 365.3,376.7 368,376.2 370.6,373.5 372,378.8 369.4,375.5 366.7,377.7 364,375.3ZM376,375.3 378.6,375.8 380,372.4 377.4,377.8ZM384,374.4 386.6,372.8 388,374.9 385.4,374.5ZM402.6,370.9 405.3,373.5 406.7,373.8 404,372.9ZM410.6,372.1 413.3,371.5 416,370.5 417.4,369.7 414.7,369.1 412,373.9ZM421.3,370.7 424,369.2 425.4,370.9 422.7,370ZM429.3,370.1 432,367.4 433.4,368.1 430.7,371.4ZM437.3,369.1 440,369.2 441.4,369.5 438.7,368.9ZM445.3,366.8 448,366.5 449.4,369 446.7,367.1ZM453.3,367.5 456,369.6 457.4,367.8 454.7,367.8ZM464,367.3 466.6,368.1 468,365.3 465.4,368.7ZM477.3,364.3 480,365.4 481.4,365.1 478.7,365.5ZM482.7,367.7 485.3,363.3 486.7,365.3 484,368.5ZM488,364.4 490.7,364.4 492,365.2 489.4,367.5ZM493.3,365.4 496,365 498.7,365.1 501.3,363.7 504,363.8 505.4,361.7 502.7,364.6 500,365.2 497.4,364.8 494.7,364.7ZM522.7,362.5 525.3,362.7 526.7,362.5 524,365.1ZM533.3,362.4 536,362.6 537.4,363.5 534.7,363.1ZM544,358.4 546.7,360.4 548,359.9 545.4,360.3Z" fill="#28ffd7" stroke="#28ffd7"/>
<path d="M325.3,376.2 327.9,376 330.6,375.8 333.3,379.3 335.9,375 337.4,380.8 334.7,377 332,380.8 329.4,378 326.7,376.6ZM341.3,376.5 343.9,377.6 345.4,378.7 342.7,379.5ZM349.3,376.4 351.9,375.1 354.6,376.8 356,376.3 353.4,380.1 350.7,377.8ZM359.9,374.7 362.6,375.3 364,375.3 361.4,377.8ZM386.6,372.8 389.3,371.5 390.7,374.5 388,374.9ZM397.3,372.9 400,372.8 401.4,370.9 398.7,371.1ZM408,371.8 410.6,372.1 412,373.9 409.4,371.4ZM434.6,371.8 437.3,369.1 438.7,368.9 436,368.6ZM458.6,367.1 461.3,365.9 464,367.3 465.4,368.7 462.7,367.6 460,371.1ZM469.3,368.5 472,365.7 473.4,368.5 470.7,368ZM474.6,366.5 477.3,364.3 478.7,365.5 476,368.1ZM538.7,360.2 541.3,361.9 542.7,361.8 540,361.5Z" fill="#18ffe7" stroke="#18ffe7"/>
<path d="M338.6,374.7 341.3,376.5 342.7,379.5 340,378.7ZM354.6,376.8 357.3,378 359.9,374.7 361.4,377.8 358.7,377.4 356,376.3ZM400,372.8 402.6,370.9 404,372.9 401.4,370.9ZM405.3,373.5 408,371.8 409.4,371.4 406.7,373.8ZM456,369.6 458.6,367.1 460,371.1 457.4,367.8ZM541.3,361.9 544,358.4 545.4,360.3 542.7,361.8Z" fill="#08fff7" stroke="#08fff7"/>
<path d="M158.7,291.5 161.3,324.7 162.8,331.5 160.1,299.7Z" fill="#e70000" stroke="#e70000"/>
<path d="M161.3,324.7 164,342.8 165.4,347.9 162.8,331.5Z" fill="#ff8700" stroke="#ff8700"/>
<path d="M164,342.8 166.7,350.7 168.1,355.7 165.4,347.9Z" fill="#ffe700" stroke="#ffe700"/>
<path d="M166.7,350.7 169.3,357.2 170.8,359 168.1,355.7Z" fill="#fff700" stroke="#fff700"/>
<path d="M169.3,357.2 172,359.9 173.4,363.1 170.8,359Z" fill="#d7ff28" stroke="#d7ff28"/>
<path d="M172,359.9 174.7,363.4 177.3,364.5 180,365.6 182.7,363.5 185.3,363.9 188,363.8 189.4,362 186.8,360.8 184.1,363 181.4,361.5 178.8,363.4 176.1,366 173.4,363.1Z" fill="#c7ff38" stroke="#c7ff38"/>
<path d="M188,363.8 190.7,365 192.1,360.3 189.4,362ZM193.3,366.1 196,364.8 198.7,368.8 200.1,365.7 197.4,363.3 194.8,362.5Z" fill="#b7ff48" stroke="#b7ff48"/>
<path d="M190.7,365 193.3,366.1 194.8,362.5 192.1,360.3ZM198.7,368.8 201.3,368.5 202.8,367.9 200.1,365.7Z" fill="#a7ff58" stroke="#a7ff58"/>
<path d="M201.3,368.5 204,372.4 205.4,370.6 202.8,367.9ZM230.7,372.9 233.3,372.3 236,374.5 238.7,374.1 240.1,379 237.4,378.6 234.8,380.5 232.1,377.9Z" fill="#97ff68" stroke="#97ff68"/>
<path d="M204,372.4 206.7,373.3 209.3,372 210.8,375.4 208.1,372.2 205.4,370.6ZM244,373.7 246.7,374.1 249.3,374.2 250.8,377.7 248.1,380.6 245.4,376.3ZM254.7,374.9 257.3,375.1 258.8,379.7 256.1,379.7ZM260,374.3 262.7,375.8 265.3,373.5 268,375.1 270.7,375.8 272.1,382.4 269.4,380.2 266.8,382.5 264.1,380.9 261.4,379.7ZM278.7,375.7 281.3,377.1 282.8,383.3 280.1,382ZM308,377.7 310.7,377.8 312.1,383.9 309.4,382.9Z" fill="#68ff97" stroke="#68ff97"/>
<path d="M209.3,372 212,371.5 214.7,374.3 217.3,375.5 218.8,379.5 216.1,375.6 213.4,378.7 210.8,375.4ZM220,371.1 222.7,373.3 224.1,379.4 221.4,378.5Z" fill="#87ff78" stroke="#87ff78"/>
<path d="M217.3,375.5 220,371.1 221.4,378.5 218.8,379.5ZM222.7,373.3 225.3,373.5 228,373.1 230.7,372.9 232.1,377.9 229.4,380.1 226.8,380.7 224.1,379.4ZM238.7,374.1 241.3,371.2 244,373.7 245.4,376.3 242.8,380.6 240.1,379ZM249.3,374.2 252,372.3 254.7,374.9 256.1,379.7 253.4,380.5 250.8,377.7Z" fill="#78ff87" stroke="#78ff87"/>
<path d="M257.3,375.1 260,374.3 261.4,379.7 258.8,379.7ZM270.7,375.8 273.3,374.9 276,376.1 278.7,375.7 280.1,382 277.4,379.2 274.8,380.1 272.1,382.4ZM281.3,377.1 284,376.9 285.4,381.9 282.8,383.3ZM305.3,379 308,377.7 309.4,382.9 306.8,384.5ZM310.7,377.8 313.3,377.6 316,379.2 317.4,383.8 314.8,382.7 312.1,383.9ZM380,372.4 382.7,376.6 385.4,374.5 386.8,374.2 384.1,376.3 381.4,377.1ZM417.4,369.7 420,370.4 421.4,372.6 418.8,371.6ZM433.4,368.1 436,368.6 437.4,369.6 434.8,372ZM452,369.6 454.7,367.8 456.1,370.6 453.4,369.7ZM468,365.3 470.7,368 472.1,370.6 469.4,366.5ZM486.7,365.3 489.4,367.5 490.7,366.6 488.1,368.5ZM505.4,361.7 508,366.6 509.4,365.4 506.7,365ZM516,363.7 518.7,363.7 520.1,365.9 517.4,366.9ZM529.4,362 532,361.3 533.4,366.3 530.7,364.8Z" fill="#58ffa7" stroke="#58ffa7"/>
<path d="M284,376.9 286.7,377.2 289.3,378.1 292,378 294.7,378.1 297.3,378 298.8,379.6 296.1,383.1 293.4,380.4 290.8,382.4 288.1,383 285.4,381.9ZM300,378.9 302.7,378.7 305.3,379 306.8,384.5 304.1,382.5 301.4,382.9ZM318.7,379.6 321.4,379.2 322.8,382 320.1,383.1ZM334.7,377 337.4,380.8 338.8,379.8 336.1,379.1ZM345.4,378.7 348,377.7 350.7,377.8 352.1,378.9 349.4,380.5 346.8,380.6ZM364,375.3 366.7,377.7 368.1,378.1 365.4,380ZM369.4,375.5 372,378.8 373.4,377.9 370.8,379ZM374.7,377.3 377.4,377.8 378.8,379.3 376.1,378.5ZM385.4,374.5 388,374.9 389.4,376.7 386.8,374.2ZM396,375.2 398.7,371.1 400.1,374.7 397.4,372.9ZM420,370.4 422.7,370 425.4,370.9 428,372.9 429.4,372.2 426.8,373.2 424.1,373.9 421.4,372.6ZM436,368.6 438.7,368.9 440.1,370.3 437.4,369.6ZM441.4,369.5 444,369.2 446.7,367.1 448.1,371.8 445.4,368.5 442.7,372.5ZM449.4,369 452,369.6 453.4,369.7 450.7,370.7ZM454.7,367.8 457.4,367.8 458.7,370.4 456.1,370.6ZM473.4,368.5 476,368.1 477.4,369.4 474.7,368.5ZM481.4,365.1 484,368.5 485.4,366.6 482.7,369ZM492,365.2 494.7,364.7 497.4,364.8 500,365.2 502.7,364.6 505.4,361.7 506.7,365 504.1,368.6 501.4,364.9 498.7,366.8 496.1,367.6 493.4,367.4ZM510.7,363.1 513.4,364 516,363.7 517.4,366.9 514.7,365 512.1,365.9ZM518.7,363.7 521.4,362.3 524,365.1 525.4,363.9 522.7,365.7 520.1,365.9ZM532,361.3 534.7,363.1 536.1,363.1 533.4,366.3ZM537.4,363.5 540,361.5 541.4,364.3 538.7,363.4Z" fill="#48ffb7" stroke="#48ffb7"/>
<path d="M297.3,378 300,378.9 301.4,382.9 298.8,379.6ZM316,379.2 318.7,379.6 320.1,383.1 317.4,383.8ZM356,376.3 358.7,377.4 360.1,379.4 357.4,378.3ZM366.7,377.7 369.4,375.5 370.8,379 368.1,378.1ZM372,378.8 374.7,377.3 376.1,378.5 373.4,377.9ZM377.4,377.8 380,372.4 381.4,377.1 378.8,379.3ZM390.7,374.5 393.4,375.9 396,375.2 397.4,372.9 394.8,376.1 392.1,376.5ZM401.4,370.9 404,372.9 406.7,373.8 408.1,371.7 405.4,373 402.8,376.1ZM409.4,371.4 412,373.9 414.7,369.1 417.4,369.7 418.8,371.6 416.1,369 413.4,372.8 410.8,374ZM430.7,371.4 433.4,368.1 434.8,372 432.1,369ZM438.7,368.9 441.4,369.5 442.7,372.5 440.1,370.3ZM446.7,367.1 449.4,369 450.7,370.7 448.1,371.8ZM457.4,367.8 460,371.1 461.4,371.6 458.7,370.4ZM462.7,367.6 465.4,368.7 466.7,370.3 464.1,369.1ZM470.7,368 473.4,368.5 474.7,368.5 472.1,370.6ZM476,368.1 478.7,365.5 481.4,365.1 482.7,369 480.1,364.8 477.4,369.4ZM484,368.5 486.7,365.3 488.1,368.5 485.4,366.6ZM489.4,367.5 492,365.2 493.4,367.4 490.7,366.6ZM508,366.6 510.7,363.1 512.1,365.9 509.4,365.4ZM524,365.1 526.7,362.5 529.4,362 530.7,364.8 528.1,363.6 525.4,363.9ZM545.4,360.3 548,359.9 549.4,361.5 546.7,362.4Z" fill="#38ffc7" stroke="#38ffc7"/>
<path d="M321.4,379.2 324,380.6 326.7,376.6 329.4,378 332,380.8 333.4,379.8 330.8,382.1 328.1,385.7 325.4,381.3 322.8,382ZM342.7,379.5 345.4,378.7 346.8,380.6 344.1,381.1ZM350.7,377.8 353.4,380.1 354.8,380 352.1,378.9ZM358.7,377.4 361.4,377.8 362.8,380.4 360.1,379.4ZM388,374.9 390.7,374.5 392.1,376.5 389.4,376.7ZM398.7,371.1 401.4,370.9 402.8,376.1 400.1,374.7ZM406.7,373.8 409.4,371.4 410.8,374 408.1,371.7ZM428,372.9 430.7,371.4 432.1,369 429.4,372.2ZM460,371.1 462.7,367.6 464.1,369.1 461.4,371.6ZM465.4,368.7 468,365.3 469.4,366.5 466.7,370.3ZM534.7,363.1 537.4,363.5 538.7,363.4 536.1,363.1ZM540,361.5 542.7,361.8 545.4,360.3 546.7,362.4 544.1,364.2 541.4,364.3Z" fill="#28ffd7" stroke="#28ffd7"/>
<path d="M332,380.8 334.7,377 336.1,379.1 333.4,379.8ZM337.4,380.8 340,378.7 342.7,379.5 344.1,381.1 341.4,379.6 338.8,379.8ZM361.4,377.8 364,375.3 365.4,380 362.8,380.4Z" fill="#18ffe7" stroke="#18ffe7"/>
<path d="M353.4,380.1 356,376.3 357.4,378.3 354.8,380Z" fill="#00f7ff" stroke="#00f7ff"/>
<path d="M160.1,299.7 162.8,331.5 164.2,338.4 161.6,308.2Z" fill="#f70000" stroke="#f70000"/>
<path d="M162.8,331.5 165.4,347.9 166.9,352.3 164.2,338.4Z" fill="#ff8700" stroke="#ff8700"/>
<path d="M165.4,347.9 168.1,355.7 169.6,360.9 166.9,352.3Z" fill="#ffd700" stroke="#ffd700"/>
<path d="M168.1,355.7 170.8,359 172.2,363.8 169.6,360.9Z" fill="#fff700" stroke="#fff700"/>
<path d="M170.8,359 173.4,363.1 174.9,365.4 172.2,363.8ZM184.1,363 186.8,360.8 189.4,362 192.1,360.3 193.6,360.3 190.9,359.8 188.2,360.6 185.6,362Z" fill="#e7ff18" stroke="#e7ff18"/>
<path d="M173.4,363.1 176.1,366 178.8,363.4 181.4,361.5 182.9,363.8 180.2,364.8 177.6,366.4 174.9,365.4ZM192.1,360.3 194.8,362.5 197.4,363.3 200.1,365.7 202.8,367.9 204.2,369.5 201.6,365.9 198.9,364.1 196.2,361.8 193.6,360.3Z" fill="#d7ff28" stroke="#d7ff28"/>
<path d="M181.4,361.5 184.1,363 185.6,362 182.9,363.8Z" fill="#f7ff08" stroke="#f7ff08"/>
<path d="M202.8,367.9 205.4,370.6 206.9,374.4 204.2,369.5Z" fill="#a7ff58" stroke="#a7ff58"/>
<path d="M205.4,370.6 208.1,372.2 210.8,375.4 213.4,378.7 216.1,375.6 218.8,379.5 221.4,378.5 222.9,385 220.2,381.8 217.5,385.1 214.9,381 212.2,378.4 209.5,377.5 206.9,374.4ZM229.4,380.1 232.1,377.9 233.5,385.1 230.9,383.3ZM250.8,377.7 253.4,380.5 254.9,385.8 252.2,387.8Z" fill="#87ff78" stroke="#87ff78"/>
<path d="M221.4,378.5 224.1,379.4 226.8,380.7 229.4,380.1 230.9,383.3 228.2,386 225.5,381.6 222.9,385ZM234.8,380.5 237.4,378.6 238.9,385.1 236.2,384.1ZM240.1,379 242.8,380.6 244.2,386.6 241.5,387ZM245.4,376.3 248.1,380.6 249.5,384.8 246.9,386.4ZM253.4,380.5 256.1,379.7 257.5,388 254.9,385.8ZM269.4,380.2 272.1,382.4 273.5,388.8 270.9,385.5Z" fill="#78ff87" stroke="#78ff87"/>
<path d="M232.1,377.9 234.8,380.5 236.2,384.1 233.5,385.1ZM237.4,378.6 240.1,379 241.5,387 238.9,385.1Z" fill="#97ff68" stroke="#97ff68"/>
<path d="M242.8,380.6 245.4,376.3 246.9,386.4 244.2,386.6ZM248.1,380.6 250.8,377.7 252.2,387.8 249.5,384.8ZM256.1,379.7 258.8,379.7 260.2,386.9 257.5,388ZM261.4,379.7 264.1,380.9 266.8,382.5 269.4,380.2 270.9,385.5 268.2,389.5 265.5,388.6 262.9,388.1ZM272.1,382.4 274.8,380.1 277.4,379.2 280.1,382 281.5,388.1 278.9,386.7 276.2,389.8 273.5,388.8ZM336.1,379.1 338.8,379.8 340.2,385.4 337.5,386.1ZM381.4,377.1 384.1,376.3 385.5,380.4 382.8,381.2ZM397.4,372.9 400.1,374.7 401.5,374.5 398.8,381.1ZM418.8,371.6 421.4,372.6 422.8,374.6 420.1,376ZM434.8,372 437.4,369.6 440.1,370.3 441.5,374.1 438.8,372.4 436.1,374.6ZM453.4,369.7 456.1,370.6 457.5,370.9 454.8,372.1ZM469.4,366.5 472.1,370.6 473.5,373.6 470.8,372.7ZM490.7,366.6 493.4,367.4 494.8,372.1 492.1,371.9ZM536.1,363.1 538.7,363.4 541.4,364.3 542.8,366.9 540.1,365.8 537.4,368.8Z" fill="#68ff97" stroke="#68ff97"/>
<path d="M258.8,379.7 261.4,379.7 262.9,388.1 260.2,386.9ZM280.1,382 282.8,383.3 284.2,387.4 281.5,388.1ZM293.4,380.4 296.1,383.1 298.8,379.6 300.2,390.9 297.5,389.6 294.9,387.8ZM304.1,382.5 306.8,384.5 309.4,382.9 312.1,383.9 313.5,388.8 310.8,388.4 308.2,391.7 305.5,392.8ZM314.8,382.7 317.4,383.8 318.8,389 316.2,390.4ZM349.4,380.5 352.1,378.9 353.5,381 350.8,387.3ZM368.1,378.1 370.8,379 372.2,384.1 369.5,381.5ZM373.4,377.9 376.1,378.5 377.5,382.6 374.8,381.9ZM384.1,376.3 386.8,374.2 389.4,376.7 390.8,379.7 388.2,380 385.5,380.4ZM392.1,376.5 394.8,376.1 397.4,372.9 398.8,381.1 396.2,380.5 393.5,378.1ZM405.4,373 408.1,371.7 409.5,377.1 406.8,375ZM413.4,372.8 416.1,369 418.8,371.6 420.1,376 417.5,374.2 414.8,378.5ZM421.4,372.6 424.1,373.9 425.5,375.1 422.8,374.6ZM432.1,369 434.8,372 436.1,374.6 433.5,375.2ZM445.4,368.5 448.1,371.8 449.5,373.8 446.8,370.8ZM450.7,370.7 453.4,369.7 454.8,372.1 452.1,373.7ZM474.7,368.5 477.4,369.4 478.8,372.6 476.1,372.8ZM480.1,364.8 482.7,369 485.4,366.6 488.1,368.5 490.7,366.6 492.1,371.9 489.5,371.1 486.8,371.7 484.1,370.9 481.5,373.1ZM493.4,367.4 496.1,367.6 498.7,366.8 501.4,364.9 504.1,368.6 505.5,369.8 502.8,368.2 500.1,370.9 497.5,370.5 494.8,372.1ZM506.7,365 509.4,365.4 512.1,365.9 514.7,365 517.4,366.9 520.1,365.9 522.7,365.7 525.4,363.9 526.8,369.1 524.1,371.2 521.4,367.1 518.8,369.7 516.1,368.5 513.4,368.5 510.8,372.9 508.1,370.8ZM528.1,363.6 530.7,364.8 533.4,366.3 534.8,365.9 532.1,368.5 529.4,368.5Z" fill="#58ffa7" stroke="#58ffa7"/>
<path d="M282.8,383.3 285.4,381.9 286.9,386.9 284.2,387.4ZM290.8,382.4 293.4,380.4 294.9,387.8 292.2,390ZM317.4,383.8 320.1,383.1 321.5,389.4 318.8,389ZM322.8,382 325.4,381.3 328.1,385.7 329.5,388.3 326.8,391.4 324.2,388.4ZM333.4,379.8 336.1,379.1 337.5,386.1 334.8,389ZM338.8,379.8 341.4,379.6 342.8,386.7 340.2,385.4ZM344.1,381.1 346.8,380.6 348.2,386.3 345.5,386.8ZM352.1,378.9 354.8,380 356.2,383.9 353.5,381ZM360.1,379.4 362.8,380.4 364.2,384.5 361.5,383.4ZM440.1,370.3 442.7,372.5 444.1,371.9 441.5,374.1ZM458.7,370.4 461.4,371.6 462.8,374.1 460.1,372.8ZM541.4,364.3 544.1,364.2 546.7,362.4 549.4,361.5 550.8,369.3 548.1,368.7 545.4,365 542.8,366.9Z" fill="#38ffc7" stroke="#38ffc7"/>
<path d="M285.4,381.9 288.1,383 290.8,382.4 292.2,390 289.5,389.7 286.9,386.9ZM298.8,379.6 301.4,382.9 304.1,382.5 305.5,392.8 302.9,390.3 300.2,390.9ZM312.1,383.9 314.8,382.7 316.2,390.4 313.5,388.8ZM320.1,383.1 322.8,382 324.2,388.4 321.5,389.4ZM346.8,380.6 349.4,380.5 350.8,387.3 348.2,386.3ZM357.4,378.3 360.1,379.4 361.5,383.4 358.8,384.7ZM365.4,380 368.1,378.1 369.5,381.5 366.8,382.8ZM370.8,379 373.4,377.9 374.8,381.9 372.2,384.1ZM376.1,378.5 378.8,379.3 381.4,377.1 382.8,381.2 380.2,380.4 377.5,382.6ZM389.4,376.7 392.1,376.5 393.5,378.1 390.8,379.7ZM400.1,374.7 402.8,376.1 404.2,378.7 401.5,374.5ZM408.1,371.7 410.8,374 413.4,372.8 414.8,378.5 412.1,377.6 409.5,377.1ZM424.1,373.9 426.8,373.2 429.4,372.2 432.1,369 433.5,375.2 430.8,374.9 428.1,373.9 425.5,375.1ZM442.7,372.5 445.4,368.5 446.8,370.8 444.1,371.9ZM448.1,371.8 450.7,370.7 452.1,373.7 449.5,373.8ZM456.1,370.6 458.7,370.4 460.1,372.8 457.5,370.9ZM461.4,371.6 464.1,369.1 466.7,370.3 469.4,366.5 470.8,372.7 468.1,374.5 465.5,373.4 462.8,374.1ZM472.1,370.6 474.7,368.5 476.1,372.8 473.5,373.6ZM477.4,369.4 480.1,364.8 481.5,373.1 478.8,372.6ZM504.1,368.6 506.7,365 508.1,370.8 505.5,369.8ZM525.4,363.9 528.1,363.6 529.4,368.5 526.8,369.1ZM533.4,366.3 536.1,363.1 537.4,368.8 534.8,365.9Z" fill="#48ffb7" stroke="#48ffb7"/>
<path d="M328.1,385.7 330.8,382.1 332.2,386.6 329.5,388.3ZM362.8,380.4 365.4,380 366.8,382.8 364.2,384.5Z" fill="#18ffe7" stroke="#18ffe7"/>
<path d="M330.8,382.1 333.4,379.8 334.8,389 332.2,386.6ZM341.4,379.6 344.1,381.1 345.5,386.8 342.8,386.7ZM354.8,380 357.4,378.3 358.8,384.7 356.2,383.9ZM402.8,376.1 405.4,373 406.8,375 404.2,378.7Z" fill="#28ffd7" stroke="#28ffd7"/>
<path d="M161.6,308.2 164.2,338.4 165.7,344.9 163,316.3Z" fill="#f70000" stroke="#f70000"/>
<path d="M164.2,338.4 166.9,352.3 168.3,359.3 165.7,344.9Z" fill="#ff8700" stroke="#ff8700"/>
<path d="M166.9,352.3 169.6,360.9 171,365.2 168.3,359.3Z" fill="#ffc700" stroke="#ffc700"/>
<path d="M169.6,360.9 172.2,363.8 173.7,368.5 171,365.2ZM180.2,364.8 182.9,363.8 185.6,362 187,362.4 184.3,364.3 181.7,367.6ZM190.9,359.8 193.6,360.3 195,359.6 192.3,359.3ZM201.6,365.9 204.2,369.5 205.7,371.4 203,367.9Z" fill="#f7ff08" stroke="#f7ff08"/>
<path d="M172.2,363.8 174.9,365.4 177.6,366.4 180.2,364.8 181.7,367.6 179,368.1 176.3,370.6 173.7,368.5ZM193.6,360.3 196.2,361.8 198.9,364.1 201.6,365.9 203,367.9 200.3,363.6 197.7,361.3 195,359.6Z" fill="#e7ff18" stroke="#e7ff18"/>
<path d="M185.6,362 188.2,360.6 190.9,359.8 192.3,359.3 189.7,361.2 187,362.4Z" fill="#fff700" stroke="#fff700"/>
<path d="M204.2,369.5 206.9,374.4 208.3,376.2 205.7,371.4Z" fill="#b7ff48" stroke="#b7ff48"/>
<path d="M206.9,374.4 209.5,377.5 211,379.5 208.3,376.2Z" fill="#a7ff58" stroke="#a7ff58"/>
<path d="M209.5,377.5 212.2,378.4 213.7,382.6 211,379.5ZM214.9,381 217.5,385.1 219,386.8 216.3,385.3ZM225.5,381.6 228.2,386 229.6,390.1 227,388.2ZM233.5,385.1 236.2,384.1 238.9,385.1 241.5,387 243,390.4 240.3,392.5 237.6,388.8 235,391.2Z" fill="#87ff78" stroke="#87ff78"/>
<path d="M212.2,378.4 214.9,381 216.3,385.3 213.7,382.6ZM220.2,381.8 222.9,385 224.3,386.5 221.6,388.2Z" fill="#97ff68" stroke="#97ff68"/>
<path d="M217.5,385.1 220.2,381.8 221.6,388.2 219,386.8ZM222.9,385 225.5,381.6 227,388.2 224.3,386.5ZM228.2,386 230.9,383.3 233.5,385.1 235,391.2 232.3,389.8 229.6,390.1ZM254.9,385.8 257.5,388 259,391.4 256.3,392.7ZM380.2,380.4 382.8,381.2 384.2,381.5 381.6,386.2ZM422.8,374.6 425.5,375.1 426.9,379.4 424.2,378.8ZM446.8,370.8 449.5,373.8 450.9,378.3 448.2,378.1ZM454.8,372.1 457.5,370.9 458.9,374.9 456.2,377.7ZM518.8,369.7 521.4,367.1 524.1,371.2 525.5,371.9 522.8,372.8 520.2,373.6ZM540.1,365.8 542.8,366.9 544.1,371.1 541.5,372.7Z" fill="#78ff87" stroke="#78ff87"/>
<path d="M241.5,387 244.2,386.6 246.9,386.4 248.3,391.4 245.6,391.4 243,390.4ZM249.5,384.8 252.2,387.8 253.6,394.1 251,390.7ZM265.5,388.6 268.2,389.5 269.6,393 267,393.2ZM270.9,385.5 273.5,388.8 275,394.4 272.3,393.2ZM281.5,388.1 284.2,387.4 285.6,395.7 282.9,393.5ZM369.5,381.5 372.2,384.1 373.6,386.9 370.9,388.1ZM382.8,381.2 385.5,380.4 388.2,380 389.6,384.2 386.9,387.2 384.2,381.5ZM393.5,378.1 396.2,380.5 397.6,384.9 394.9,384ZM406.8,375 409.5,377.1 410.9,381 408.2,382.1ZM420.1,376 422.8,374.6 424.2,378.8 421.5,379.5ZM425.5,375.1 428.1,373.9 430.8,374.9 433.5,375.2 436.1,374.6 438.8,372.4 441.5,374.1 442.9,378.9 440.2,379.7 437.5,376.8 434.9,379 432.2,380.7 429.5,378.9 426.9,379.4ZM444.1,371.9 446.8,370.8 448.2,378.1 445.5,376.2ZM457.5,370.9 460.1,372.8 461.5,377.8 458.9,374.9ZM470.8,372.7 473.5,373.6 474.8,378.4 472.2,375.5ZM484.1,370.9 486.8,371.7 489.5,371.1 492.1,371.9 493.5,375.4 490.8,377 488.2,375.3 485.5,375.5ZM500.1,370.9 502.8,368.2 505.5,369.8 506.8,375.2 504.2,376 501.5,373.7ZM513.4,368.5 516.1,368.5 518.8,369.7 520.2,373.6 517.5,374.1 514.8,374.4ZM532.1,368.5 534.8,365.9 536.1,372.1 533.5,374.6Z" fill="#68ff97" stroke="#68ff97"/>
<path d="M246.9,386.4 249.5,384.8 251,390.7 248.3,391.4ZM252.2,387.8 254.9,385.8 256.3,392.7 253.6,394.1ZM257.5,388 260.2,386.9 262.9,388.1 264.3,396.1 261.6,393.5 259,391.4ZM268.2,389.5 270.9,385.5 272.3,393.2 269.6,393ZM273.5,388.8 276.2,389.8 277.6,397.6 275,394.4ZM278.9,386.7 281.5,388.1 282.9,393.5 280.3,397.4ZM294.9,387.8 297.5,389.6 298.9,393.5 296.3,394.1ZM310.8,388.4 313.5,388.8 316.2,390.4 317.6,395.7 314.9,393.1 312.3,394.2ZM348.2,386.3 350.8,387.3 352.2,389.6 349.6,391ZM353.5,381 356.2,383.9 357.6,390.4 354.9,390.4ZM366.8,382.8 369.5,381.5 370.9,388.1 368.2,385ZM374.8,381.9 377.5,382.6 380.2,380.4 381.6,386.2 378.9,385.6 376.2,385.4ZM388.2,380 390.8,379.7 392.2,382.8 389.6,384.2ZM396.2,380.5 398.8,381.1 401.5,374.5 404.2,378.7 405.5,382.9 402.9,383.4 400.2,383.6 397.6,384.9ZM414.8,378.5 417.5,374.2 420.1,376 421.5,379.5 418.9,382.3 416.2,380.3ZM441.5,374.1 444.1,371.9 445.5,376.2 442.9,378.9ZM449.5,373.8 452.1,373.7 454.8,372.1 456.2,377.7 453.5,378.6 450.9,378.3ZM473.5,373.6 476.1,372.8 478.8,372.6 480.2,377.9 477.5,375.7 474.8,378.4ZM492.1,371.9 494.8,372.1 497.5,370.5 500.1,370.9 501.5,373.7 498.8,377.9 496.2,376.1 493.5,375.4ZM505.5,369.8 508.1,370.8 510.8,372.9 512.2,375 509.5,373.4 506.8,375.2ZM534.8,365.9 537.4,368.8 540.1,365.8 541.5,372.7 538.8,371.5 536.1,372.1Z" fill="#58ffa7" stroke="#58ffa7"/>
<path d="M262.9,388.1 265.5,388.6 267,393.2 264.3,396.1ZM276.2,389.8 278.9,386.7 280.3,397.4 277.6,397.6ZM284.2,387.4 286.9,386.9 289.5,389.7 292.2,390 293.6,395.4 290.9,396.2 288.3,395.3 285.6,395.7ZM302.9,390.3 305.5,392.8 308.2,391.7 310.8,388.4 312.3,394.2 309.6,397.3 306.9,394.7 304.3,395.5ZM316.2,390.4 318.8,389 320.3,394.1 317.6,395.7ZM337.5,386.1 340.2,385.4 341.6,393.2 338.9,395.9ZM350.8,387.3 353.5,381 354.9,390.4 352.2,389.6ZM372.2,384.1 374.8,381.9 376.2,385.4 373.6,386.9ZM404.2,378.7 406.8,375 408.2,382.1 405.5,382.9ZM412.1,377.6 414.8,378.5 416.2,380.3 413.5,382.5ZM460.1,372.8 462.8,374.1 465.5,373.4 468.1,374.5 470.8,372.7 472.2,375.5 469.5,376.6 466.8,375.2 464.2,376 461.5,377.8ZM478.8,372.6 481.5,373.1 484.1,370.9 485.5,375.5 482.8,375.9 480.2,377.9ZM510.8,372.9 513.4,368.5 514.8,374.4 512.2,375ZM524.1,371.2 526.8,369.1 529.4,368.5 532.1,368.5 533.5,374.6 530.8,372.9 528.1,370.7 525.5,371.9ZM542.8,366.9 545.4,365 548.1,368.7 550.8,369.3 552.1,370.3 549.5,372.1 546.8,369.7 544.1,371.1Z" fill="#48ffb7" stroke="#48ffb7"/>
<path d="M292.2,390 294.9,387.8 296.3,394.1 293.6,395.4ZM297.5,389.6 300.2,390.9 301.6,399.3 298.9,393.5ZM318.8,389 321.5,389.4 324.2,388.4 326.8,391.4 328.3,394.8 325.6,392.4 322.9,396.5 320.3,394.1ZM332.2,386.6 334.8,389 336.3,393.5 333.6,394.7ZM340.2,385.4 342.8,386.7 344.2,392.1 341.6,393.2ZM358.8,384.7 361.5,383.4 364.2,384.5 365.6,389.9 362.9,387.6 360.2,391ZM390.8,379.7 393.5,378.1 394.9,384 392.2,382.8ZM409.5,377.1 412.1,377.6 413.5,382.5 410.9,381Z" fill="#38ffc7" stroke="#38ffc7"/>
<path d="M300.2,390.9 302.9,390.3 304.3,395.5 301.6,399.3ZM326.8,391.4 329.5,388.3 330.9,393.2 328.3,394.8ZM334.8,389 337.5,386.1 338.9,395.9 336.3,393.5ZM342.8,386.7 345.5,386.8 348.2,386.3 349.6,391 346.9,388.8 344.2,392.1ZM356.2,383.9 358.8,384.7 360.2,391 357.6,390.4ZM364.2,384.5 366.8,382.8 368.2,385 365.6,389.9Z" fill="#28ffd7" stroke="#28ffd7"/>
<path d="M329.5,388.3 332.2,386.6 333.6,394.7 330.9,393.2Z" fill="#18ffe7" stroke="#18ffe7"/>
<path d="M163,316.3 165.7,344.9 167.1,350.9 164.5,324.4Z" fill="#ff0800" stroke="#ff0800"/>
<path d="M165.7,344.9 168.3,359.3 169.8,363.3 167.1,350.9Z" fill="#ff9700" stroke="#ff9700"/>
<path d="M168.3,359.3 171,365.2 172.5,369.4 169.8,363.3Z" fill="#ffd700" stroke="#ffd700"/>
<path d="M171,365.2 173.7,368.5 175.1,373.7 172.5,369.4ZM181.7,367.6 184.3,364.3 185.8,368.3 183.1,372.4ZM195,359.6 197.7,361.3 199.1,365 196.4,363.6ZM200.3,363.6 203,367.9 204.4,371 201.8,367.4Z" fill="#fff700" stroke="#fff700"/>
<path d="M173.7,368.5 176.3,370.6 177.8,373.4 175.1,373.7Z" fill="#d7ff28" stroke="#d7ff28"/>
<path d="M176.3,370.6 179,368.1 180.4,371.8 177.8,373.4Z" fill="#e7ff18" stroke="#e7ff18"/>
<path d="M179,368.1 181.7,367.6 183.1,372.4 180.4,371.8ZM203,367.9 205.7,371.4 207.1,374.9 204.4,371Z" fill="#f7ff08" stroke="#f7ff08"/>
<path d="M184.3,364.3 187,362.4 189.7,361.2 192.3,359.3 195,359.6 196.4,363.6 193.8,362.5 191.1,363.8 188.4,366.1 185.8,368.3ZM197.7,361.3 200.3,363.6 201.8,367.4 199.1,365Z" fill="#ffe700" stroke="#ffe700"/>
<path d="M205.7,371.4 208.3,376.2 209.8,379 207.1,374.9Z" fill="#c7ff38" stroke="#c7ff38"/>
<path d="M208.3,376.2 211,379.5 212.4,383.5 209.8,379Z" fill="#a7ff58" stroke="#a7ff58"/>
<path d="M211,379.5 213.7,382.6 216.3,385.3 219,386.8 221.6,388.2 224.3,386.5 225.7,394.4 223.1,394.3 220.4,392.3 217.8,391.9 215.1,387.6 212.4,383.5Z" fill="#97ff68" stroke="#97ff68"/>
<path d="M224.3,386.5 227,388.2 229.6,390.1 232.3,389.8 233.7,396.4 231.1,395.4 228.4,395.9 225.7,394.4ZM235,391.2 237.6,388.8 239.1,395.9 236.4,395.5ZM520.2,373.6 522.8,372.8 524.2,379.9 521.5,378.3Z" fill="#87ff78" stroke="#87ff78"/>
<path d="M232.3,389.8 235,391.2 236.4,395.5 233.7,396.4ZM245.6,391.4 248.3,391.4 251,390.7 253.6,394.1 256.3,392.7 257.7,399.2 255.1,396.8 252.4,396.7 249.7,397.4 247.1,397.9ZM267,393.2 269.6,393 271,399 268.4,397.5ZM368.2,385 370.9,388.1 372.3,393.5 369.6,391.8ZM378.9,385.6 381.6,386.2 383,392.4 380.3,392.9ZM400.2,383.6 402.9,383.4 404.3,386.4 401.6,387.3ZM421.5,379.5 424.2,378.8 425.6,386.8 422.9,385.3ZM429.5,378.9 432.2,380.7 434.9,379 437.5,376.8 438.9,385.5 436.3,382.5 433.6,386.8 430.9,383.3ZM440.2,379.7 442.9,378.9 444.3,382.9 441.6,381.2ZM448.2,378.1 450.9,378.3 452.2,383.3 449.6,382.1ZM453.5,378.6 456.2,377.7 457.6,382 454.9,384.3ZM458.9,374.9 461.5,377.8 462.9,382 460.2,382.8ZM466.8,375.2 469.5,376.6 470.9,382 468.2,382.5ZM472.2,375.5 474.8,378.4 476.2,383 473.6,382.9ZM477.5,375.7 480.2,377.9 481.6,381.2 478.9,383.1ZM490.8,377 493.5,375.4 496.2,376.1 497.5,379.2 494.9,380.2 492.2,381.6ZM501.5,373.7 504.2,376 505.5,379.7 502.9,381.8ZM506.8,375.2 509.5,373.4 512.2,375 514.8,374.4 516.2,379.9 513.5,381.1 510.9,381 508.2,381.2ZM522.8,372.8 525.5,371.9 526.9,379.2 524.2,379.9ZM541.5,372.7 544.1,371.1 545.5,377.7 542.8,377.6Z" fill="#68ff97" stroke="#68ff97"/>
<path d="M237.6,388.8 240.3,392.5 243,390.4 245.6,391.4 247.1,397.9 244.4,397.3 241.7,395 239.1,395.9ZM256.3,392.7 259,391.4 260.4,399.5 257.7,399.2ZM381.6,386.2 384.2,381.5 386.9,387.2 388.3,389.4 385.6,389.2 383,392.4ZM424.2,378.8 426.9,379.4 428.3,384.3 425.6,386.8ZM437.5,376.8 440.2,379.7 441.6,381.2 438.9,385.5ZM445.5,376.2 448.2,378.1 449.6,382.1 446.9,386ZM456.2,377.7 458.9,374.9 460.2,382.8 457.6,382ZM488.2,375.3 490.8,377 492.2,381.6 489.6,379Z" fill="#78ff87" stroke="#78ff87"/>
<path d="M259,391.4 261.6,393.5 264.3,396.1 267,393.2 268.4,397.5 265.7,397.7 263.1,397.3 260.4,399.5ZM269.6,393 272.3,393.2 275,394.4 277.6,397.6 279,399.3 276.4,402.3 273.7,400.3 271,399ZM282.9,393.5 285.6,395.7 287,399.3 284.4,402.8ZM298.9,393.5 301.6,399.3 303,401.2 300.4,402.1ZM312.3,394.2 314.9,393.1 317.6,395.7 319,401 316.3,400.6 313.7,403.9ZM352.2,389.6 354.9,390.4 356.3,398.5 353.7,396.4ZM370.9,388.1 373.6,386.9 376.2,385.4 378.9,385.6 380.3,392.9 377.6,392.5 375,395.2 372.3,393.5ZM389.6,384.2 392.2,382.8 393.6,388.8 391,391.3ZM394.9,384 397.6,384.9 400.2,383.6 401.6,387.3 399,389.8 396.3,389.5ZM408.2,382.1 410.9,381 412.3,386.1 409.6,385.4ZM416.2,380.3 418.9,382.3 421.5,379.5 422.9,385.3 420.3,386.4 417.6,385.2ZM426.9,379.4 429.5,378.9 430.9,383.3 428.3,384.3ZM442.9,378.9 445.5,376.2 446.9,386 444.3,382.9ZM450.9,378.3 453.5,378.6 454.9,384.3 452.2,383.3ZM464.2,376 466.8,375.2 468.2,382.5 465.6,383ZM469.5,376.6 472.2,375.5 473.6,382.9 470.9,382ZM482.8,375.9 485.5,375.5 488.2,375.3 489.6,379 486.9,381.8 484.2,381.9ZM496.2,376.1 498.8,377.9 500.2,379.7 497.5,379.2ZM504.2,376 506.8,375.2 508.2,381.2 505.5,379.7ZM514.8,374.4 517.5,374.1 520.2,373.6 521.5,378.3 518.9,381.5 516.2,379.9ZM525.5,371.9 528.1,370.7 530.8,372.9 533.5,374.6 536.1,372.1 538.8,371.5 541.5,372.7 542.8,377.6 540.2,377.1 537.5,375.8 534.9,378.4 532.2,379.9 529.5,379.1 526.9,379.2Z" fill="#58ffa7" stroke="#58ffa7"/>
<path d="M277.6,397.6 280.3,397.4 281.7,401.3 279,399.3ZM285.6,395.7 288.3,395.3 290.9,396.2 293.6,395.4 296.3,394.1 297.7,402.4 295,401.9 292.4,401.6 289.7,402.1 287,399.3ZM320.3,394.1 322.9,396.5 324.3,398.4 321.7,402.4ZM325.6,392.4 328.3,394.8 330.9,393.2 332.3,401.3 329.7,400.9 327,399.8ZM336.3,393.5 338.9,395.9 340.3,398.2 337.7,399.7ZM344.2,392.1 346.9,388.8 349.6,391 351,398.5 348.3,396.8 345.7,398.8ZM354.9,390.4 357.6,390.4 359,395.1 356.3,398.5ZM461.5,377.8 464.2,376 465.6,383 462.9,382Z" fill="#38ffc7" stroke="#38ffc7"/>
<path d="M280.3,397.4 282.9,393.5 284.4,402.8 281.7,401.3ZM296.3,394.1 298.9,393.5 300.4,402.1 297.7,402.4ZM304.3,395.5 306.9,394.7 309.6,397.3 312.3,394.2 313.7,403.9 311,401 308.4,401.7 305.7,401.8ZM317.6,395.7 320.3,394.1 321.7,402.4 319,401ZM338.9,395.9 341.6,393.2 343,398.1 340.3,398.2ZM349.6,391 352.2,389.6 353.7,396.4 351,398.5ZM362.9,387.6 365.6,389.9 367,395.6 364.3,393.9ZM386.9,387.2 389.6,384.2 391,391.3 388.3,389.4ZM392.2,382.8 394.9,384 396.3,389.5 393.6,388.8ZM402.9,383.4 405.5,382.9 408.2,382.1 409.6,385.4 406.9,388.6 404.3,386.4ZM410.9,381 413.5,382.5 416.2,380.3 417.6,385.2 414.9,387.1 412.3,386.1ZM474.8,378.4 477.5,375.7 478.9,383.1 476.2,383ZM480.2,377.9 482.8,375.9 484.2,381.9 481.6,381.2ZM498.8,377.9 501.5,373.7 502.9,381.8 500.2,379.7ZM544.1,371.1 546.8,369.7 549.5,372.1 552.1,370.3 553.5,376.3 550.8,377.9 548.2,379.5 545.5,377.7Z" fill="#48ffb7" stroke="#48ffb7"/>
<path d="M301.6,399.3 304.3,395.5 305.7,401.8 303,401.2ZM322.9,396.5 325.6,392.4 327,399.8 324.3,398.4ZM330.9,393.2 333.6,394.7 336.3,393.5 337.7,399.7 335,398.8 332.3,401.3ZM341.6,393.2 344.2,392.1 345.7,398.8 343,398.1ZM360.2,391 362.9,387.6 364.3,393.9 361.6,393.8ZM365.6,389.9 368.2,385 369.6,391.8 367,395.6Z" fill="#28ffd7" stroke="#28ffd7"/>
<path d="M357.6,390.4 360.2,391 361.6,393.8 359,395.1Z" fill="#18ffe7" stroke="#18ffe7"/>
<path d="M164.5,324.4 167.1,350.9 168.6,357.5 165.9,332.3Z" fill="#ff2800" stroke="#ff2800"/>
<path d="M167.1,350.9 169.8,363.3 171.2,369.6 168.6,357.5Z" fill="#ff9700" stroke="#ff9700"/>
<path d="M169.8,363.3 172.5,369.4 173.9,375.9 171.2,369.6ZM185.8,368.3 188.4,366.1 189.9,370.5 187.2,374ZM193.8,362.5 196.4,363.6 197.9,367.9 195.2,368.6Z" fill="#ffd700" stroke="#ffd700"/>
<path d="M172.5,369.4 175.1,373.7 176.6,379 173.9,375.9ZM188.4,366.1 191.1,363.8 192.6,369.6 189.9,370.5ZM199.1,365 201.8,367.4 204.4,371 205.9,376 203.2,373.2 200.5,370.3Z" fill="#ffe700" stroke="#ffe700"/>
<path d="M175.1,373.7 177.8,373.4 179.2,380.4 176.6,379Z" fill="#e7ff18" stroke="#e7ff18"/>
<path d="M177.8,373.4 180.4,371.8 183.1,372.4 185.8,368.3 187.2,374 184.6,377 181.9,379.1 179.2,380.4ZM204.4,371 207.1,374.9 208.5,379.9 205.9,376Z" fill="#f7ff08" stroke="#f7ff08"/>
<path d="M191.1,363.8 193.8,362.5 195.2,368.6 192.6,369.6Z" fill="#ffc700" stroke="#ffc700"/>
<path d="M196.4,363.6 199.1,365 200.5,370.3 197.9,367.9Z" fill="#fff700" stroke="#fff700"/>
<path d="M207.1,374.9 209.8,379 211.2,385.7 208.5,379.9Z" fill="#c7ff38" stroke="#c7ff38"/>
<path d="M209.8,379 212.4,383.5 213.9,389.6 211.2,385.7Z" fill="#b7ff48" stroke="#b7ff48"/>
<path d="M212.4,383.5 215.1,387.6 216.5,394 213.9,389.6Z" fill="#97ff68" stroke="#97ff68"/>
<path d="M215.1,387.6 217.8,391.9 220.4,392.3 223.1,394.3 225.7,394.4 228.4,395.9 229.8,402.6 227.2,403 224.5,400.8 221.9,400 219.2,399 216.5,394ZM231.1,395.4 233.7,396.4 235.2,404.6 232.5,403.5ZM236.4,395.5 239.1,395.9 241.7,395 244.4,397.3 245.8,404.9 243.2,403.1 240.5,403.5 237.8,402.5Z" fill="#87ff78" stroke="#87ff78"/>
<path d="M228.4,395.9 231.1,395.4 232.5,403.5 229.8,402.6ZM244.4,397.3 247.1,397.9 248.5,401.2 245.8,404.9ZM385.6,389.2 388.3,389.4 389.7,399.5 387,398.5ZM428.3,384.3 430.9,383.3 432.3,391.2 429.7,393.4ZM436.3,382.5 438.9,385.5 440.3,391.6 437.6,390.6ZM457.6,382 460.2,382.8 461.6,391.5 459,390.7ZM489.6,379 492.2,381.6 493.6,388.2 490.9,390.5ZM494.9,380.2 497.5,379.2 498.9,386.8 496.3,388.2ZM521.5,378.3 524.2,379.9 525.6,387.3 522.9,386.1Z" fill="#78ff87" stroke="#78ff87"/>
<path d="M233.7,396.4 236.4,395.5 237.8,402.5 235.2,404.6ZM249.7,397.4 252.4,396.7 255.1,396.8 257.7,399.2 260.4,399.5 261.8,409.3 259.2,406.6 256.5,407.7 253.8,406 251.2,405.8ZM268.4,397.5 271,399 272.5,410.4 269.8,407ZM383,392.4 385.6,389.2 387,398.5 384.4,397.7ZM388.3,389.4 391,391.3 392.4,398.8 389.7,399.5ZM399,389.8 401.6,387.3 404.3,386.4 405.7,395.5 403,395 400.4,399.5ZM409.6,385.4 412.3,386.1 413.7,392.8 411,394.9ZM417.6,385.2 420.3,386.4 421.7,393.4 419,394ZM422.9,385.3 425.6,386.8 427,393.6 424.3,392.2ZM430.9,383.3 433.6,386.8 435,390.2 432.3,391.2ZM438.9,385.5 441.6,381.2 444.3,382.9 446.9,386 448.3,391.5 445.6,392.7 443,390.2 440.3,391.6ZM449.6,382.1 452.2,383.3 453.6,389.6 451,392.3ZM454.9,384.3 457.6,382 459,390.7 456.3,390ZM473.6,382.9 476.2,383 477.6,389.4 474.9,390.7ZM492.2,381.6 494.9,380.2 496.3,388.2 493.6,388.2ZM500.2,379.7 502.9,381.8 504.3,390.7 501.6,388ZM510.9,381 513.5,381.1 514.9,387.9 512.2,388.9ZM524.2,379.9 526.9,379.2 528.2,387.4 525.6,387.3ZM542.8,377.6 545.5,377.7 546.9,384.3 544.2,386.6Z" fill="#68ff97" stroke="#68ff97"/>
<path d="M247.1,397.9 249.7,397.4 251.2,405.8 248.5,401.2ZM260.4,399.5 263.1,397.3 265.7,397.7 268.4,397.5 269.8,407 267.1,408.1 264.5,407.3 261.8,409.3ZM276.4,402.3 279,399.3 280.5,410.7 277.8,407.4ZM311,401 313.7,403.9 316.3,400.6 319,401 320.4,409.9 317.8,411 315.1,409.4 312.4,413.8ZM369.6,391.8 372.3,393.5 375,395.2 376.4,401.5 373.7,400.3 371,403ZM377.6,392.5 380.3,392.9 383,392.4 384.4,397.7 381.7,398.3 379,400.8ZM391,391.3 393.6,388.8 395,397.9 392.4,398.8ZM396.3,389.5 399,389.8 400.4,399.5 397.7,394.2ZM425.6,386.8 428.3,384.3 429.7,393.4 427,393.6ZM433.6,386.8 436.3,382.5 437.6,390.6 435,390.2ZM446.9,386 449.6,382.1 451,392.3 448.3,391.5ZM452.2,383.3 454.9,384.3 456.3,390 453.6,389.6ZM460.2,382.8 462.9,382 465.6,383 467,391.6 464.3,389.2 461.6,391.5ZM468.2,382.5 470.9,382 473.6,382.9 474.9,390.7 472.3,389 469.6,391ZM476.2,383 478.9,383.1 481.6,381.2 482.9,391.8 480.3,389.7 477.6,389.4ZM486.9,381.8 489.6,379 490.9,390.5 488.3,390.1ZM497.5,379.2 500.2,379.7 501.6,388 498.9,386.8ZM502.9,381.8 505.5,379.7 508.2,381.2 509.6,386.5 506.9,388.7 504.3,390.7ZM513.5,381.1 516.2,379.9 518.9,381.5 521.5,378.3 522.9,386.1 520.2,386.5 517.6,386.5 514.9,387.9ZM526.9,379.2 529.5,379.1 532.2,379.9 533.6,387 530.9,386.9 528.2,387.4ZM534.9,378.4 537.5,375.8 540.2,377.1 542.8,377.6 544.2,386.6 541.6,386.6 538.9,385.6 536.2,387.2ZM550.8,377.9 553.5,376.3 554.9,385.9 552.2,386Z" fill="#58ffa7" stroke="#58ffa7"/>
<path d="M271,399 273.7,400.3 276.4,402.3 277.8,407.4 275.1,408.6 272.5,410.4ZM281.7,401.3 284.4,402.8 287,399.3 289.7,402.1 291.1,411.9 288.5,411.8 285.8,411.7 283.1,410.1ZM292.4,401.6 295,401.9 296.5,411.5 293.8,411ZM297.7,402.4 300.4,402.1 301.8,412.2 299.1,408.5ZM324.3,398.4 327,399.8 328.4,409.9 325.8,409.9ZM340.3,398.2 343,398.1 344.4,406.8 341.7,406.6ZM351,398.5 353.7,396.4 356.3,398.5 357.7,404.9 355.1,405.8 352.4,402.8ZM375,395.2 377.6,392.5 379,400.8 376.4,401.5ZM393.6,388.8 396.3,389.5 397.7,394.2 395,397.9ZM404.3,386.4 406.9,388.6 409.6,385.4 411,394.9 408.3,396.2 405.7,395.5ZM412.3,386.1 414.9,387.1 417.6,385.2 419,394 416.3,396 413.7,392.8ZM420.3,386.4 422.9,385.3 424.3,392.2 421.7,393.4ZM465.6,383 468.2,382.5 469.6,391 467,391.6ZM481.6,381.2 484.2,381.9 486.9,381.8 488.3,390.1 485.6,386.5 482.9,391.8ZM508.2,381.2 510.9,381 512.2,388.9 509.6,386.5ZM532.2,379.9 534.9,378.4 536.2,387.2 533.6,387Z" fill="#48ffb7" stroke="#48ffb7"/>
<path d="M279,399.3 281.7,401.3 283.1,410.1 280.5,410.7ZM289.7,402.1 292.4,401.6 293.8,411 291.1,411.9ZM295,401.9 297.7,402.4 299.1,408.5 296.5,411.5ZM300.4,402.1 303,401.2 305.7,401.8 308.4,401.7 311,401 312.4,413.8 309.8,407.8 307.1,409 304.4,410.7 301.8,412.2ZM319,401 321.7,402.4 323.1,410.8 320.4,409.9ZM327,399.8 329.7,400.9 332.3,401.3 333.7,405.5 331.1,410.9 328.4,409.9ZM337.7,399.7 340.3,398.2 341.7,406.6 339.1,406.7ZM348.3,396.8 351,398.5 352.4,402.8 349.7,407.8ZM361.6,393.8 364.3,393.9 367,395.6 368.4,402.1 365.7,403.6 363.1,402.3ZM545.5,377.7 548.2,379.5 549.5,385.3 546.9,384.3Z" fill="#38ffc7" stroke="#38ffc7"/>
<path d="M321.7,402.4 324.3,398.4 325.8,409.9 323.1,410.8ZM332.3,401.3 335,398.8 337.7,399.7 339.1,406.7 336.4,410.1 333.7,405.5ZM343,398.1 345.7,398.8 348.3,396.8 349.7,407.8 347.1,406.7 344.4,406.8ZM356.3,398.5 359,395.1 361.6,393.8 363.1,402.3 360.4,403.8 357.7,404.9ZM367,395.6 369.6,391.8 371,403 368.4,402.1ZM548.2,379.5 550.8,377.9 552.2,386 549.5,385.3Z" fill="#28ffd7" stroke="#28ffd7"/>
<path d="M165.9,332.3 168.6,357.5 170,364.1 167.4,340.5Z" fill="#ff2800" stroke="#ff2800"/>
<path d="M168.6,357.5 171.2,369.6 172.7,376 170,364.1Z" fill="#ff9700" stroke="#ff9700"/>
<path d="M171.2,369.6 173.9,375.9 175.3,382.3 172.7,376ZM192.6,369.6 195.2,368.6 196.7,373.3 194,374.8Z" fill="#ffd700" stroke="#ffd700"/>
<path d="M173.9,375.9 176.6,379 178,386.2 175.3,382.3ZM184.6,377 187.2,374 188.7,379.9 186,384ZM203.2,373.2 205.9,376 208.5,379.9 210,387.1 207.3,382.3 204.6,379.2Z" fill="#fff700" stroke="#fff700"/>
<path d="M176.6,379 179.2,380.4 181.9,379.1 183.3,385.4 180.7,387.7 178,386.2Z" fill="#e7ff18" stroke="#e7ff18"/>
<path d="M181.9,379.1 184.6,377 186,384 183.3,385.4Z" fill="#f7ff08" stroke="#f7ff08"/>
<path d="M187.2,374 189.9,370.5 192.6,369.6 194,374.8 191.3,377.3 188.7,379.9ZM195.2,368.6 197.9,367.9 200.5,370.3 203.2,373.2 204.6,379.2 202,375.9 199.3,373.8 196.7,373.3Z" fill="#ffe700" stroke="#ffe700"/>
<path d="M208.5,379.9 211.2,385.7 212.6,393.5 210,387.1Z" fill="#d7ff28" stroke="#d7ff28"/>
<path d="M211.2,385.7 213.9,389.6 215.3,399.4 212.6,393.5Z" fill="#b7ff48" stroke="#b7ff48"/>
<path d="M213.9,389.6 216.5,394 219.2,399 221.9,400 223.3,410.1 220.6,407.4 218,402.6 215.3,399.4ZM237.8,402.5 240.5,403.5 241.9,412.7 239.3,414.1Z" fill="#87ff78" stroke="#87ff78"/>
<path d="M221.9,400 224.5,400.8 227.2,403 228.6,412.5 226,410.1 223.3,410.1ZM229.8,402.6 232.5,403.5 235.2,404.6 236.6,412.6 233.9,412.9 231.3,413ZM243.2,403.1 245.8,404.9 247.3,414.7 244.6,415.3ZM459,390.7 461.6,391.5 463,400.1 460.3,399.4Z" fill="#78ff87" stroke="#78ff87"/>
<path d="M227.2,403 229.8,402.6 231.3,413 228.6,412.5ZM235.2,404.6 237.8,402.5 239.3,414.1 236.6,412.6ZM240.5,403.5 243.2,403.1 244.6,415.3 241.9,412.7ZM245.8,404.9 248.5,401.2 251.2,405.8 252.6,415 249.9,412.7 247.3,414.7ZM384.4,397.7 387,398.5 388.4,408.3 385.8,409.1ZM403,395 405.7,395.5 407.1,406.6 404.4,407.8ZM424.3,392.2 427,393.6 428.4,402 425.7,404.3ZM429.7,393.4 432.3,391.2 435,390.2 437.6,390.6 439,400.2 436.4,400.9 433.7,401.1 431,402.3ZM456.3,390 459,390.7 460.3,399.4 457.7,400.3ZM474.9,390.7 477.6,389.4 479,399.4 476.3,399.2ZM493.6,388.2 496.3,388.2 497.6,400.2 495,399.1ZM517.6,386.5 520.2,386.5 522.9,386.1 525.6,387.3 528.2,387.4 529.6,396.9 526.9,394.9 524.3,396.2 521.6,397.9 518.9,397.5Z" fill="#68ff97" stroke="#68ff97"/>
<path d="M251.2,405.8 253.8,406 256.5,407.7 257.9,415.4 255.3,415.4 252.6,415ZM261.8,409.3 264.5,407.3 265.9,419.9 263.2,416.3ZM275.1,408.6 277.8,407.4 279.2,418.5 276.6,418ZM285.8,411.7 288.5,411.8 289.9,420.6 287.2,420.6ZM309.8,407.8 312.4,413.8 313.9,421.2 311.2,418.8ZM315.1,409.4 317.8,411 319.2,420.6 316.5,420ZM352.4,402.8 355.1,405.8 357.7,404.9 359.1,412.9 356.5,416.3 353.8,414.8ZM376.4,401.5 379,400.8 381.7,398.3 383.1,410 380.4,410.1 377.8,411.4ZM392.4,398.8 395,397.9 396.4,407.8 393.8,407.5ZM400.4,399.5 403,395 404.4,407.8 401.8,407.2ZM413.7,392.8 416.3,396 417.7,404.9 415.1,403.9ZM421.7,393.4 424.3,392.2 425.7,404.3 423.1,404.4ZM445.6,392.7 448.3,391.5 449.7,399.7 447,402.4ZM451,392.3 453.6,389.6 456.3,390 457.7,400.3 455,400.1 452.4,400.5ZM461.6,391.5 464.3,389.2 467,391.6 469.6,391 472.3,389 473.7,397.8 471,399.1 468.3,399.2 465.7,400.8 463,400.1ZM477.6,389.4 480.3,389.7 481.7,400.6 479,399.4ZM485.6,386.5 488.3,390.1 490.9,390.5 493.6,388.2 495,399.1 492.3,400.2 489.6,401.6 487,399.7ZM501.6,388 504.3,390.7 506.9,388.7 508.3,398.7 505.6,395.3 503,398.5ZM512.2,388.9 514.9,387.9 517.6,386.5 518.9,397.5 516.3,397.1 513.6,398.5ZM528.2,387.4 530.9,386.9 532.3,397.6 529.6,396.9ZM533.6,387 536.2,387.2 538.9,385.6 540.3,395.5 537.6,398.5 534.9,395.4Z" fill="#48ffb7" stroke="#48ffb7"/>
<path d="M256.5,407.7 259.2,406.6 261.8,409.3 263.2,416.3 260.6,415.8 257.9,415.4ZM269.8,407 272.5,410.4 273.9,417.2 271.2,419.7ZM277.8,407.4 280.5,410.7 281.9,418.9 279.2,418.5ZM373.7,400.3 376.4,401.5 377.8,411.4 375.1,409.2ZM381.7,398.3 384.4,397.7 385.8,409.1 383.1,410ZM387,398.5 389.7,399.5 392.4,398.8 393.8,407.5 391.1,408.6 388.4,408.3ZM397.7,394.2 400.4,399.5 401.8,407.2 399.1,404.7ZM411,394.9 413.7,392.8 415.1,403.9 412.4,404.1ZM419,394 421.7,393.4 423.1,404.4 420.4,401.3ZM427,393.6 429.7,393.4 431,402.3 428.4,402ZM437.6,390.6 440.3,391.6 443,390.2 445.6,392.7 447,402.4 444.4,399.3 441.7,400.8 439,400.2ZM448.3,391.5 451,392.3 452.4,400.5 449.7,399.7ZM472.3,389 474.9,390.7 476.3,399.2 473.7,397.8ZM480.3,389.7 482.9,391.8 484.3,399.5 481.7,400.6ZM496.3,388.2 498.9,386.8 501.6,388 503,398.5 500.3,402 497.6,400.2ZM506.9,388.7 509.6,386.5 512.2,388.9 513.6,398.5 511,396.8 508.3,398.7ZM538.9,385.6 541.6,386.6 544.2,386.6 546.9,384.3 548.2,394.6 545.6,395.9 542.9,394.9 540.3,395.5Z" fill="#58ffa7" stroke="#58ffa7"/>
<path d="M264.5,407.3 267.1,408.1 269.8,407 271.2,419.7 268.6,417.9 265.9,419.9ZM272.5,410.4 275.1,408.6 276.6,418 273.9,417.2ZM299.1,408.5 301.8,412.2 303.2,417.8 300.5,419.4ZM307.1,409 309.8,407.8 311.2,418.8 308.5,422.1ZM317.8,411 320.4,409.9 323.1,410.8 324.5,419.8 321.8,421.5 319.2,420.6ZM341.7,406.6 344.4,406.8 345.8,413.8 343.2,415.2ZM395,397.9 397.7,394.2 399.1,404.7 396.4,407.8ZM405.7,395.5 408.3,396.2 411,394.9 412.4,404.1 409.7,405.2 407.1,406.6ZM416.3,396 419,394 420.4,401.3 417.7,404.9ZM482.9,391.8 485.6,386.5 487,399.7 484.3,399.5ZM530.9,386.9 533.6,387 534.9,395.4 532.3,397.6ZM546.9,384.3 549.5,385.3 552.2,386 554.9,385.9 556.2,392.2 553.6,393.3 550.9,394.2 548.2,394.6Z" fill="#38ffc7" stroke="#38ffc7"/>
<path d="M280.5,410.7 283.1,410.1 285.8,411.7 287.2,420.6 284.6,418.2 281.9,418.9ZM288.5,411.8 291.1,411.9 292.5,420.7 289.9,420.6ZM293.8,411 296.5,411.5 299.1,408.5 300.5,419.4 297.9,421.2 295.2,420.3ZM301.8,412.2 304.4,410.7 305.9,421.6 303.2,417.8ZM312.4,413.8 315.1,409.4 316.5,420 313.9,421.2ZM333.7,405.5 336.4,410.1 337.8,420 335.2,417.9ZM357.7,404.9 360.4,403.8 361.8,412.2 359.1,412.9ZM363.1,402.3 365.7,403.6 368.4,402.1 371,403 373.7,400.3 375.1,409.2 372.5,414 369.8,411.2 367.1,414.2 364.5,412.5Z" fill="#28ffd7" stroke="#28ffd7"/>
<path d="M291.1,411.9 293.8,411 295.2,420.3 292.5,420.7ZM304.4,410.7 307.1,409 308.5,422.1 305.9,421.6ZM323.1,410.8 325.8,409.9 328.4,409.9 331.1,410.9 333.7,405.5 335.2,417.9 332.5,418.3 329.8,418.5 327.2,420.3 324.5,419.8ZM339.1,406.7 341.7,406.6 343.2,415.2 340.5,417.7ZM344.4,406.8 347.1,406.7 348.5,417.6 345.8,413.8ZM349.7,407.8 352.4,402.8 353.8,414.8 351.1,417.9ZM360.4,403.8 363.1,402.3 364.5,412.5 361.8,412.2Z" fill="#18ffe7" stroke="#18ffe7"/>
<path d="M336.4,410.1 339.1,406.7 340.5,417.7 337.8,420ZM347.1,406.7 349.7,407.8 351.1,417.9 348.5,417.6Z" fill="#08fff7" stroke="#08fff7"/>
<path d="M167.4,340.5 170,364.1 171.5,371.2 168.8,348.3Z" fill="#ff4800" stroke="#ff4800"/>
<path d="M170,364.1 172.7,376 174.1,383 171.5,371.2Z" fill="#ffa700" stroke="#ffa700"/>
<path d="M172.7,376 175.3,382.3 176.8,389.9 174.1,383ZM194,374.8 196.7,373.3 199.3,373.8 200.8,379.5 198.1,379.9 195.4,380.9ZM202,375.9 204.6,379.2 206.1,385.4 203.4,381.8Z" fill="#ffd700" stroke="#ffd700"/>
<path d="M175.3,382.3 178,386.2 179.5,392.2 176.8,389.9ZM183.3,385.4 186,384 188.7,379.9 190.1,385.7 187.4,389.1 184.8,392ZM207.3,382.3 210,387.1 211.4,394.3 208.8,388.7Z" fill="#f7ff08" stroke="#f7ff08"/>
<path d="M178,386.2 180.7,387.7 183.3,385.4 184.8,392 182.1,394.4 179.5,392.2ZM210,387.1 212.6,393.5 214.1,399.9 211.4,394.3Z" fill="#d7ff28" stroke="#d7ff28"/>
<path d="M188.7,379.9 191.3,377.3 194,374.8 195.4,380.9 192.8,383.1 190.1,385.7Z" fill="#ffe700" stroke="#ffe700"/>
<path d="M199.3,373.8 202,375.9 203.4,381.8 200.8,379.5ZM204.6,379.2 207.3,382.3 208.8,388.7 206.1,385.4Z" fill="#fff700" stroke="#fff700"/>
<path d="M212.6,393.5 215.3,399.4 216.7,407 214.1,399.9Z" fill="#a7ff58" stroke="#a7ff58"/>
<path d="M215.3,399.4 218,402.6 219.4,412.3 216.7,407Z" fill="#87ff78" stroke="#87ff78"/>
<path d="M218,402.6 220.6,407.4 223.3,410.1 224.7,417.4 222.1,414 219.4,412.3ZM226,410.1 228.6,412.5 230.1,422.3 227.4,423.9Z" fill="#78ff87" stroke="#78ff87"/>
<path d="M223.3,410.1 226,410.1 227.4,423.9 224.7,417.4ZM233.9,412.9 236.6,412.6 238,425.5 235.4,425ZM239.3,414.1 241.9,412.7 244.6,415.3 247.3,414.7 248.7,429 246,424 243.4,423.8 240.7,425.7Z" fill="#68ff97" stroke="#68ff97"/>
<path d="M228.6,412.5 231.3,413 233.9,412.9 235.4,425 232.7,422.1 230.1,422.3ZM236.6,412.6 239.3,414.1 240.7,425.7 238,425.5ZM247.3,414.7 249.9,412.7 251.4,427.8 248.7,429ZM420.4,401.3 423.1,404.4 424.5,412.6 421.8,416.1ZM428.4,402 431,402.3 432.4,412.2 429.8,414.1ZM441.7,400.8 444.4,399.3 447,402.4 448.4,412.3 445.8,413 443.1,409ZM449.7,399.7 452.4,400.5 453.7,413 451.1,413.1ZM460.3,399.4 463,400.1 464.4,411.6 461.7,410.4ZM505.6,395.3 508.3,398.7 509.7,407.9 507,408.6ZM526.9,394.9 529.6,396.9 531,409.9 528.3,406.9Z" fill="#58ffa7" stroke="#58ffa7"/>
<path d="M249.9,412.7 252.6,415 255.3,415.4 256.7,427.9 254,428.3 251.4,427.8ZM257.9,415.4 260.6,415.8 263.2,416.3 264.7,427.4 262,428.6 259.3,429.5ZM385.8,409.1 388.4,408.3 391.1,408.6 393.8,407.5 396.4,407.8 397.8,419.3 395.2,418.2 392.5,420.3 389.8,419.5 387.2,419.3ZM399.1,404.7 401.8,407.2 404.4,407.8 405.8,415.8 403.1,417.7 400.5,417.5ZM412.4,404.1 415.1,403.9 416.5,416.4 413.8,413.4ZM425.7,404.3 428.4,402 429.8,414.1 427.1,412.5ZM433.7,401.1 436.4,400.9 439,400.2 441.7,400.8 443.1,409 440.4,411.8 437.8,411.8 435.1,412.7ZM457.7,400.3 460.3,399.4 461.7,410.4 459.1,412.4ZM473.7,397.8 476.3,399.2 479,399.4 480.4,411 477.7,411.5 475.1,412.5ZM481.7,400.6 484.3,399.5 485.7,410.5 483,409.6ZM492.3,400.2 495,399.1 497.6,400.2 499,407.7 496.4,408.9 493.7,406.9ZM518.9,397.5 521.6,397.9 523,408 520.3,409.5ZM524.3,396.2 526.9,394.9 528.3,406.9 525.6,408.1ZM545.6,395.9 548.2,394.6 549.6,403.3 547,406.4Z" fill="#48ffb7" stroke="#48ffb7"/>
<path d="M255.3,415.4 257.9,415.4 259.3,429.5 256.7,427.9ZM263.2,416.3 265.9,419.9 267.3,427.3 264.7,427.4ZM273.9,417.2 276.6,418 278,431.1 275.3,430.3ZM343.2,415.2 345.8,413.8 347.2,429.8 344.6,431.2ZM353.8,414.8 356.5,416.3 357.9,427.9 355.2,425.1ZM375.1,409.2 377.8,411.4 379.2,420.4 376.5,423.8ZM380.4,410.1 383.1,410 384.5,420.4 381.8,422.5ZM404.4,407.8 407.1,406.6 408.5,420.2 405.8,415.8ZM423.1,404.4 425.7,404.3 427.1,412.5 424.5,412.6ZM431,402.3 433.7,401.1 435.1,412.7 432.4,412.2ZM447,402.4 449.7,399.7 451.1,413.1 448.4,412.3ZM452.4,400.5 455,400.1 457.7,400.3 459.1,412.4 456.4,412 453.7,413ZM463,400.1 465.7,400.8 468.3,399.2 471,399.1 473.7,397.8 475.1,412.5 472.4,410.7 469.7,414.2 467.1,413 464.4,411.6ZM479,399.4 481.7,400.6 483,409.6 480.4,411ZM489.6,401.6 492.3,400.2 493.7,406.9 491,410.1ZM497.6,400.2 500.3,402 501.7,407.9 499,407.7ZM508.3,398.7 511,396.8 513.6,398.5 516.3,397.1 518.9,397.5 520.3,409.5 517.7,408.9 515,408.5 512.3,412.2 509.7,407.9ZM521.6,397.9 524.3,396.2 525.6,408.1 523,408ZM529.6,396.9 532.3,397.6 533.6,407.8 531,409.9ZM534.9,395.4 537.6,398.5 540.3,395.5 542.9,394.9 545.6,395.9 547,406.4 544.3,404.9 541.6,405.6 539,406.3 536.3,404.3ZM553.6,393.3 556.2,392.2 557.6,402.2 554.9,406.5Z" fill="#38ffc7" stroke="#38ffc7"/>
<path d="M265.9,419.9 268.6,417.9 271.2,419.7 272.7,428.9 270,429.3 267.3,427.3ZM281.9,418.9 284.6,418.2 287.2,420.6 288.6,432.7 286,433.5 283.3,432.4ZM292.5,420.7 295.2,420.3 296.6,432.5 294,435.2ZM300.5,419.4 303.2,417.8 304.6,436 302,430.8ZM308.5,422.1 311.2,418.8 312.6,433.6 309.9,434.1ZM313.9,421.2 316.5,420 317.9,432.5 315.3,434.1ZM321.8,421.5 324.5,419.8 325.9,434.7 323.3,432.1ZM327.2,420.3 329.8,418.5 332.5,418.3 335.2,417.9 336.6,432.1 333.9,433.9 331.2,433.2 328.6,435.7ZM345.8,413.8 348.5,417.6 349.9,426.5 347.2,429.8ZM359.1,412.9 361.8,412.2 363.2,424.5 360.5,424.5ZM364.5,412.5 367.1,414.2 368.5,425.1 365.9,424.8ZM369.8,411.2 372.5,414 375.1,409.2 376.5,423.8 373.9,426.1 371.2,423.6ZM407.1,406.6 409.7,405.2 411.1,417 408.5,420.2ZM548.2,394.6 550.9,394.2 552.3,403.3 549.6,403.3Z" fill="#18ffe7" stroke="#18ffe7"/>
<path d="M271.2,419.7 273.9,417.2 275.3,430.3 272.7,428.9ZM276.6,418 279.2,418.5 281.9,418.9 283.3,432.4 280.6,431.2 278,431.1ZM287.2,420.6 289.9,420.6 291.3,432.9 288.6,432.7ZM295.2,420.3 297.9,421.2 299.3,432.6 296.6,432.5ZM303.2,417.8 305.9,421.6 307.3,433.7 304.6,436ZM311.2,418.8 313.9,421.2 315.3,434.1 312.6,433.6ZM316.5,420 319.2,420.6 321.8,421.5 323.3,432.1 320.6,433.8 317.9,432.5ZM356.5,416.3 359.1,412.9 360.5,424.5 357.9,427.9ZM377.8,411.4 380.4,410.1 381.8,422.5 379.2,420.4ZM383.1,410 385.8,409.1 387.2,419.3 384.5,420.4ZM396.4,407.8 399.1,404.7 400.5,417.5 397.8,419.3ZM409.7,405.2 412.4,404.1 413.8,413.4 411.1,417ZM415.1,403.9 417.7,404.9 420.4,401.3 421.8,416.1 419.1,414.6 416.5,416.4ZM484.3,399.5 487,399.7 489.6,401.6 491,410.1 488.4,410.8 485.7,410.5ZM500.3,402 503,398.5 505.6,395.3 507,408.6 504.3,408.4 501.7,407.9ZM532.3,397.6 534.9,395.4 536.3,404.3 533.6,407.8ZM550.9,394.2 553.6,393.3 554.9,406.5 552.3,403.3Z" fill="#28ffd7" stroke="#28ffd7"/>
<path d="M289.9,420.6 292.5,420.7 294,435.2 291.3,432.9ZM297.9,421.2 300.5,419.4 302,430.8 299.3,432.6ZM324.5,419.8 327.2,420.3 328.6,435.7 325.9,434.7ZM335.2,417.9 337.8,420 339.2,430.4 336.6,432.1ZM340.5,417.7 343.2,415.2 344.6,431.2 341.9,428.5ZM351.1,417.9 353.8,414.8 355.2,425.1 352.6,428.8ZM361.8,412.2 364.5,412.5 365.9,424.8 363.2,424.5ZM367.1,414.2 369.8,411.2 371.2,423.6 368.5,425.1Z" fill="#08fff7" stroke="#08fff7"/>
<path d="M305.9,421.6 308.5,422.1 309.9,434.1 307.3,433.7ZM337.8,420 340.5,417.7 341.9,428.5 339.2,430.4ZM348.5,417.6 351.1,417.9 352.6,428.8 349.9,426.5Z" fill="#00f7ff" stroke="#00f7ff"/>
</g>
<line x1="114.8" y1="109.9" x2="517.2" y2="78.8" stroke="#000" stroke-width="1.6"/>
<line x1="517.2" y1="78.8" x2="561" y2="244.2" stroke="#000" stroke-width="1.6"/>
<line x1="561" y1="244.2" x2="561" y2="458.4" stroke="#000" stroke-width="1.6"/>
<line x1="153.3" y1="491.4" x2="561" y2="458.4" stroke="#000" stroke-width="1.6"/>
<line x1="115" y1="321.7" x2="114.8" y2="109.9" stroke="#000" stroke-width="1.6"/>
<line x1="115" y1="321.7" x2="165.6" y2="506.4" stroke="#000" stroke-width="1.6"/>
<line x1="115" y1="321.7" x2="105.2" y2="322.4" stroke="#000" stroke-width="1.6"/>
<line x1="126.6" y1="364" x2="116.8" y2="364.7" stroke="#000" stroke-width="1.6"/>
<line x1="138.2" y1="406.2" x2="128.3" y2="407" stroke="#000" stroke-width="1.6"/>
<line x1="149.7" y1="448.5" x2="139.9" y2="449.3" stroke="#000" stroke-width="1.6"/>
<line x1="161.3" y1="490.8" x2="151.5" y2="491.6" stroke="#000" stroke-width="1.6"/>
<line x1="115" y1="318.7" x2="113.7" y2="313.9" stroke="#000" stroke-width="1.3"/>
<line x1="115" y1="314.9" x2="113.7" y2="310" stroke="#000" stroke-width="1.3"/>
<line x1="115" y1="311.5" x2="113.7" y2="306.7" stroke="#000" stroke-width="1.3"/>
<line x1="115" y1="308.5" x2="112.4" y2="298.8" stroke="#000" stroke-width="1.3"/>
<line x1="115" y1="288.5" x2="113.7" y2="283.7" stroke="#000" stroke-width="1.3"/>
<line x1="115" y1="276.9" x2="113.7" y2="272.1" stroke="#000" stroke-width="1.3"/>
<line x1="114.9" y1="268.6" x2="113.7" y2="263.8" stroke="#000" stroke-width="1.3"/>
<line x1="114.9" y1="262.2" x2="113.7" y2="257.4" stroke="#000" stroke-width="1.3"/>
<line x1="114.9" y1="257" x2="113.6" y2="252.1" stroke="#000" stroke-width="1.3"/>
<line x1="114.9" y1="252.5" x2="113.6" y2="247.7" stroke="#000" stroke-width="1.3"/>
<line x1="114.9" y1="248.7" x2="113.6" y2="243.9" stroke="#000" stroke-width="1.3"/>
<line x1="114.9" y1="245.3" x2="113.6" y2="240.5" stroke="#000" stroke-width="1.3"/>
<line x1="114.9" y1="242.3" x2="112.3" y2="232.6" stroke="#000" stroke-width="1.3"/>
<line x1="114.9" y1="222.4" x2="113.6" y2="217.5" stroke="#000" stroke-width="1.3"/>
<line x1="114.9" y1="210.7" x2="113.6" y2="205.9" stroke="#000" stroke-width="1.3"/>
<line x1="114.9" y1="202.4" x2="113.6" y2="197.6" stroke="#000" stroke-width="1.3"/>
<line x1="114.9" y1="196" x2="113.6" y2="191.2" stroke="#000" stroke-width="1.3"/>
<line x1="114.9" y1="190.8" x2="113.6" y2="185.9" stroke="#000" stroke-width="1.3"/>
<line x1="114.9" y1="186.3" x2="113.6" y2="181.5" stroke="#000" stroke-width="1.3"/>
<line x1="114.9" y1="182.5" x2="113.6" y2="177.7" stroke="#000" stroke-width="1.3"/>
<line x1="114.9" y1="179.1" x2="113.6" y2="174.3" stroke="#000" stroke-width="1.3"/>
<line x1="114.9" y1="176.1" x2="112.3" y2="166.4" stroke="#000" stroke-width="1.3"/>
<line x1="114.8" y1="156.2" x2="113.6" y2="151.3" stroke="#000" stroke-width="1.3"/>
<line x1="114.8" y1="144.5" x2="113.5" y2="139.7" stroke="#000" stroke-width="1.3"/>
<line x1="114.8" y1="136.2" x2="113.5" y2="131.4" stroke="#000" stroke-width="1.3"/>
<line x1="114.8" y1="129.8" x2="113.5" y2="125" stroke="#000" stroke-width="1.3"/>
<line x1="114.8" y1="124.6" x2="113.5" y2="119.8" stroke="#000" stroke-width="1.3"/>
<line x1="114.8" y1="120.2" x2="113.5" y2="115.3" stroke="#000" stroke-width="1.3"/>
<line x1="114.8" y1="116.3" x2="113.5" y2="111.5" stroke="#000" stroke-width="1.3"/>
<line x1="114.8" y1="112.9" x2="113.5" y2="108.1" stroke="#000" stroke-width="1.3"/>
<line x1="114.8" y1="109.9" x2="112.2" y2="100.2" stroke="#000" stroke-width="1.3"/>
<rect x="584.8" y="461.8" width="35.3" height="6.6" fill="#000087"/>
<rect x="584.8" y="455.7" width="35.3" height="6.6" fill="#000097"/>
<rect x="584.8" y="449.6" width="35.3" height="6.6" fill="#0000a7"/>
<rect x="584.8" y="443.5" width="35.3" height="6.6" fill="#0000b7"/>
<rect x="584.8" y="437.4" width="35.3" height="6.6" fill="#0000c7"/>
<rect x="584.8" y="431.3" width="35.3" height="6.6" fill="#0000d7"/>
<rect x="584.8" y="425.2" width="35.3" height="6.6" fill="#0000e7"/>
<rect x="584.8" y="419.1" width="35.3" height="6.6" fill="#0000f7"/>
<rect x="584.8" y="413.1" width="35.3" height="6.6" fill="#0008ff"/>
<rect x="584.8" y="407" width="35.3" height="6.6" fill="#0018ff"/>
<rect x="584.8" y="400.9" width="35.3" height="6.6" fill="#0028ff"/>
<rect x="584.8" y="394.8" width="35.3" height="6.6" fill="#0038ff"/>
<rect x="584.8" y="388.7" width="35.3" height="6.6" fill="#0048ff"/>
<rect x="584.8" y="382.6" width="35.3" height="6.6" fill="#0058ff"/>
<rect x="584.8" y="376.5" width="35.3" height="6.6" fill="#0068ff"/>
<rect x="584.8" y="370.4" width="35.3" height="6.6" fill="#0078ff"/>
<rect x="584.8" y="364.3" width="35.3" height="6.6" fill="#0087ff"/>
<rect x="584.8" y="358.2" width="35.3" height="6.6" fill="#0097ff"/>
<rect x="584.8" y="352.1" width="35.3" height="6.6" fill="#00a7ff"/>
<rect x="584.8" y="346" width="35.3" height="6.6" fill="#00b7ff"/>
<rect x="584.8" y="339.9" width="35.3" height="6.6" fill="#00c7ff"/>
<rect x="584.8" y="333.8" width="35.3" height="6.6" fill="#00d7ff"/>
<rect x="584.8" y="327.7" width="35.3" height="6.6" fill="#00e7ff"/>
<rect x="584.8" y="321.6" width="35.3" height="6.6" fill="#00f7ff"/>
<rect x="584.8" y="315.6" width="35.3" height="6.6" fill="#08fff7"/>
<rect x="584.8" y="309.5" width="35.3" height="6.6" fill="#18ffe7"/>
<rect x="584.8" y="303.4" width="35.3" height="6.6" fill="#28ffd7"/>
<rect x="584.8" y="297.3" width="35.3" height="6.6" fill="#38ffc7"/>
<rect x="584.8" y="291.2" width="35.3" height="6.6" fill="#48ffb7"/>
<rect x="584.8" y="285.1" width="35.3" height="6.6" fill="#58ffa7"/>
<rect x="584.8" y="279" width="35.3" height="6.6" fill="#68ff97"/>
<rect x="584.8" y="272.9" width="35.3" height="6.6" fill="#78ff87"/>
<rect x="584.8" y="266.8" width="35.3" height="6.6" fill="#87ff78"/>
<rect x="584.8" y="260.7" width="35.3" height="6.6" fill="#97ff68"/>
<rect x="584.8" y="254.6" width="35.3" height="6.6" fill="#a7ff58"/>
<rect x="584.8" y="248.5" width="35.3" height="6.6" fill="#b7ff48"/>
<rect x="584.8" y="242.4" width="35.3" height="6.6" fill="#c7ff38"/>
<rect x="584.8" y="236.3" width="35.3" height="6.6" fill="#d7ff28"/>
<rect x="584.8" y="230.2" width="35.3" height="6.6" fill="#e7ff18"/>
<rect x="584.8" y="224.1" width="35.3" height="6.6" fill="#f7ff08"/>
<rect x="584.8" y="218.1" width="35.3" height="6.6" fill="#fff700"/>
<rect x="584.8" y="212" width="35.3" height="6.6" fill="#ffe700"/>
<rect x="584.8" y="205.9" width="35.3" height="6.6" fill="#ffd700"/>
<rect x="584.8" y="199.8" width="35.3" height="6.6" fill="#ffc700"/>
<rect x="584.8" y="193.7" width="35.3" height="6.6" fill="#ffb700"/>
<rect x="584.8" y="187.6" width="35.3" height="6.6" fill="#ffa700"/>
<rect x="584.8" y="181.5" width="35.3" height="6.6" fill="#ff9700"/>
<rect x="584.8" y="175.4" width="35.3" height="6.6" fill="#ff8700"/>
<rect x="584.8" y="169.3" width="35.3" height="6.6" fill="#ff7800"/>
<rect x="584.8" y="163.2" width="35.3" height="6.6" fill="#ff6800"/>
<rect x="584.8" y="157.1" width="35.3" height="6.6" fill="#ff5800"/>
<rect x="584.8" y="151" width="35.3" height="6.6" fill="#ff4800"/>
<rect x="584.8" y="144.9" width="35.3" height="6.6" fill="#ff3800"/>
<rect x="584.8" y="138.8" width="35.3" height="6.6" fill="#ff2800"/>
<rect x="584.8" y="132.7" width="35.3" height="6.6" fill="#ff1800"/>
<rect x="584.8" y="126.6" width="35.3" height="6.6" fill="#ff0800"/>
<rect x="584.8" y="120.6" width="35.3" height="6.6" fill="#f70000"/>
<rect x="584.8" y="114.5" width="35.3" height="6.6" fill="#e70000"/>
<rect x="584.8" y="108.4" width="35.3" height="6.6" fill="#d70000"/>
<rect x="584.8" y="102.3" width="35.3" height="6.6" fill="#c70000"/>
<rect x="584.8" y="96.2" width="35.3" height="6.6" fill="#b70000"/>
<rect x="584.8" y="90.1" width="35.3" height="6.6" fill="#a70000"/>
<rect x="584.8" y="84" width="35.3" height="6.6" fill="#970000"/>
<rect x="584.8" y="77.9" width="35.3" height="6.6" fill="#870000"/>
<rect x="584.8" y="77.9" width="35.3" height="390" fill="none" stroke="#444" stroke-width="1"/>
<line x1="620.1" y1="462.6" x2="617.6" y2="462.6" stroke="#000" stroke-width="1"/>
<line x1="620.1" y1="455.5" x2="617.6" y2="455.5" stroke="#000" stroke-width="1"/>
<line x1="620.1" y1="449.3" x2="617.6" y2="449.3" stroke="#000" stroke-width="1"/>
<line x1="620.1" y1="443.7" x2="615.1" y2="443.7" stroke="#000" stroke-width="1"/>
<line x1="620.1" y1="407.1" x2="617.6" y2="407.1" stroke="#000" stroke-width="1"/>
<line x1="620.1" y1="385.6" x2="617.6" y2="385.6" stroke="#000" stroke-width="1"/>
<line x1="620.1" y1="370.4" x2="617.6" y2="370.4" stroke="#000" stroke-width="1"/>
<line x1="620.1" y1="358.6" x2="617.6" y2="358.6" stroke="#000" stroke-width="1"/>
<line x1="620.1" y1="349" x2="617.6" y2="349" stroke="#000" stroke-width="1"/>
<line x1="620.1" y1="340.9" x2="617.6" y2="340.9" stroke="#000" stroke-width="1"/>
<line x1="620.1" y1="333.8" x2="617.6" y2="333.8" stroke="#000" stroke-width="1"/>
<line x1="620.1" y1="327.6" x2="617.6" y2="327.6" stroke="#000" stroke-width="1"/>
<line x1="620.1" y1="322" x2="615.1" y2="322" stroke="#000" stroke-width="1"/>
<line x1="620.1" y1="285.4" x2="617.6" y2="285.4" stroke="#000" stroke-width="1"/>
<line x1="620.1" y1="263.9" x2="617.6" y2="263.9" stroke="#000" stroke-width="1"/>
<line x1="620.1" y1="248.7" x2="617.6" y2="248.7" stroke="#000" stroke-width="1"/>
<line x1="620.1" y1="236.9" x2="617.6" y2="236.9" stroke="#000" stroke-width="1"/>
<line x1="620.1" y1="227.3" x2="617.6" y2="227.3" stroke="#000" stroke-width="1"/>
<line x1="620.1" y1="219.2" x2="617.6" y2="219.2" stroke="#000" stroke-width="1"/>
<line x1="620.1" y1="212.1" x2="617.6" y2="212.1" stroke="#000" stroke-width="1"/>
<line x1="620.1" y1="205.9" x2="617.6" y2="205.9" stroke="#000" stroke-width="1"/>
<line x1="620.1" y1="200.3" x2="615.1" y2="200.3" stroke="#000" stroke-width="1"/>
<line x1="620.1" y1="163.7" x2="617.6" y2="163.7" stroke="#000" stroke-width="1"/>
<line x1="620.1" y1="142.2" x2="617.6" y2="142.2" stroke="#000" stroke-width="1"/>
<line x1="620.1" y1="127" x2="617.6" y2="127" stroke="#000" stroke-width="1"/>
<line x1="620.1" y1="115.2" x2="617.6" y2="115.2" stroke="#000" stroke-width="1"/>
<line x1="620.1" y1="105.6" x2="617.6" y2="105.6" stroke="#000" stroke-width="1"/>
<line x1="620.1" y1="97.5" x2="617.6" y2="97.5" stroke="#000" stroke-width="1"/>
<line x1="620.1" y1="90.4" x2="617.6" y2="90.4" stroke="#000" stroke-width="1"/>
<line x1="620.1" y1="84.2" x2="617.6" y2="84.2" stroke="#000" stroke-width="1"/>
<text x="0" y="0" transform="translate(2.65,30.9) scale(0.89,1)" font-size="42" fill="#000" font-weight="bold">a</text>
<text x="0" y="0" transform="translate(3.16,649.9) scale(0.89,1)" font-size="42" fill="#000" font-weight="bold">b</text>
<text x="0" y="0" transform="translate(2.8,1220.5) scale(0.89,1)" font-size="42" fill="#000" font-weight="bold">c</text>
<text x="0" y="0" transform="translate(738,31.6) scale(0.89,1)" font-size="42" fill="#000" font-weight="bold">d</text>
<text x="0" y="0" transform="translate(737.1,649.9) scale(0.89,1)" font-size="42" fill="#000" font-weight="bold">e</text>
<text x="121.8" y="1109.2" font-size="29.3" text-anchor="middle" fill="#000">0</text>
<text x="213.88" y="1109.2" font-size="29.3" text-anchor="middle" fill="#000">5</text>
<text x="304.92" y="1109.2" font-size="29.3" text-anchor="middle" fill="#000">10</text>
<text x="397" y="1109.2" font-size="29.3" text-anchor="middle" fill="#000">15</text>
<text x="490.08" y="1109.2" font-size="29.3" text-anchor="middle" fill="#000">20</text>
<text x="581.12" y="1109.2" font-size="29.3" text-anchor="middle" fill="#000">25</text>
<text x="674.2" y="1109.2" font-size="29.3" text-anchor="middle" fill="#000">30</text>
<text x="63.2" y="663.8" font-size="29.3" fill="#000">10<tspan font-size="20.5" dx="-2" dy="-17.8">0</tspan></text>
<text x="51.6" y="814.2" font-size="29.3" fill="#000">10<tspan font-size="20.5" dx="-2" dy="-17.8">−1</tspan></text>
<text x="51.6" y="955.8" font-size="29.3" fill="#000">10<tspan font-size="20.5" dx="-2" dy="-17.8">−2</tspan></text>
<text x="52.6" y="1084.2" font-size="29.3" fill="#000">10<tspan font-size="20.5" dx="-2" dy="-17.8">−3</tspan></text>
<text x="142.35" y="696.5" font-size="29.5" fill="#000"><tspan font-style="italic">C</tspan><tspan font-size="20" dy="7.5">1</tspan><tspan dy="-7.5"> (<tspan font-style="italic">t</tspan>)</tspan></text>
<text x="496.1" y="874.8" font-size="29.5" fill="#000"><tspan font-style="italic">C</tspan><tspan font-size="20" dy="7.5">2</tspan><tspan dy="-7.5"> (<tspan font-style="italic">t</tspan>)</tspan></text>
<text x="316.25" y="720.6" font-size="29.5" fill="#3A6FCB"><tspan font-style="italic">t</tspan> = <tspan font-style="italic">t′</tspan> = −17.3 ps</text>
<text x="317.1" y="764" font-size="29.5" fill="#D95319"><tspan font-style="italic">t</tspan> = <tspan font-style="italic">t′</tspan> = 3.7 ps</text>
<text x="397.75" y="1151.6" font-size="29.5" text-anchor="middle" fill="#000">Δ<tspan font-style="italic">r</tspan> (μm)</text>
<text x="0" y="0" transform="translate(29.45,862.9) rotate(-90)" font-size="29.5" text-anchor="middle" fill="#000"><tspan font-style="italic">C</tspan> (Δ<tspan font-style="italic">r</tspan>, <tspan font-style="italic">t</tspan>)</text>
<text x="116.5" y="1708.6" font-size="29.3" text-anchor="middle" fill="#000">−20</text>
<text x="178.3" y="1708.6" font-size="29.3" text-anchor="middle" fill="#000">−15</text>
<text x="239.2" y="1708.6" font-size="29.3" text-anchor="middle" fill="#000">−10</text>
<text x="301.5" y="1708.6" font-size="29.3" text-anchor="middle" fill="#000">−5</text>
<text x="365.1" y="1708.6" font-size="29.3" text-anchor="middle" fill="#000">0</text>
<text x="426.6" y="1708.6" font-size="29.3" text-anchor="middle" fill="#000">5</text>
<text x="485.9" y="1708.6" font-size="29.3" text-anchor="middle" fill="#000">10</text>
<text x="547.7" y="1708.6" font-size="29.3" text-anchor="middle" fill="#000">15</text>
<text x="608.4" y="1708.6" font-size="29.3" text-anchor="middle" fill="#000">20</text>
<text x="668.8" y="1708.6" font-size="29.3" text-anchor="middle" fill="#000">25</text>
<text x="113.4" y="1684.2" font-size="29.3" text-anchor="end" fill="#000">−0.005</text>
<text x="112.4" y="1624.2" font-size="29.3" text-anchor="end" fill="#000">0</text>
<text x="112.4" y="1562.6" font-size="29.3" text-anchor="end" fill="#000">0.005</text>
<text x="113.4" y="1502.2" font-size="29.3" text-anchor="end" fill="#000">0.01</text>
<text x="113.4" y="1441.8" font-size="29.3" text-anchor="end" fill="#000">0.015</text>
<text x="113.4" y="1381.2" font-size="29.3" text-anchor="end" fill="#000">0.02</text>
<text x="113.4" y="1319.6" font-size="29.3" text-anchor="end" fill="#000">0.025</text>
<text x="112.4" y="1259.2" font-size="29.3" text-anchor="end" fill="#000">0.03</text>
<text x="398.05" y="1226" font-size="29.5" text-anchor="middle" fill="#000"><tspan font-style="italic">C</tspan><tspan font-size="20" dy="8.5">2</tspan><tspan dy="-8.5"> (<tspan font-style="italic">t</tspan>)</tspan></text>
<text x="398.95" y="1754.7" font-size="29.5" text-anchor="middle" fill="#000"><tspan font-style="italic">t</tspan> (ps)</text>
<text x="827.2" y="702" font-size="29.3" text-anchor="end" fill="#000">0.02</text>
<text x="827.2" y="803" font-size="29.3" text-anchor="end" fill="#000">0.01</text>
<text x="827.2" y="904" font-size="29.3" text-anchor="end" fill="#000">0</text>
<text x="827.2" y="1005" font-size="29.3" text-anchor="end" fill="#000">−0.01</text>
<text x="826.2" y="1035.2" font-size="29.3" text-anchor="end" fill="#000">0.02</text>
<text x="827.2" y="1136.2" font-size="29.3" text-anchor="end" fill="#000">0.01</text>
<text x="827.2" y="1237.2" font-size="29.3" text-anchor="end" fill="#000">0</text>
<text x="827.2" y="1338.2" font-size="29.3" text-anchor="end" fill="#000">−0.01</text>
<text x="827.2" y="1365.8" font-size="29.3" text-anchor="end" fill="#000">0.02</text>
<text x="827.2" y="1466.8" font-size="29.3" text-anchor="end" fill="#000">0.01</text>
<text x="826.2" y="1567.8" font-size="29.3" text-anchor="end" fill="#000">0</text>
<text x="827.2" y="1668.8" font-size="29.3" text-anchor="end" fill="#000">−0.01</text>
<text x="837.1" y="1709.6" font-size="29.3" text-anchor="middle" fill="#000">−20</text>
<text x="895.5" y="1709.6" font-size="29.3" text-anchor="middle" fill="#000">−15</text>
<text x="953.9" y="1709.6" font-size="29.3" text-anchor="middle" fill="#000">−10</text>
<text x="1012.8" y="1709.6" font-size="29.3" text-anchor="middle" fill="#000">−5</text>
<text x="1071.2" y="1709.6" font-size="29.3" text-anchor="middle" fill="#000">0</text>
<text x="1130.6" y="1709.6" font-size="29.3" text-anchor="middle" fill="#000">5</text>
<text x="1188.5" y="1709.6" font-size="29.3" text-anchor="middle" fill="#000">10</text>
<text x="1247.4" y="1709.6" font-size="29.3" text-anchor="middle" fill="#000">15</text>
<text x="1305.8" y="1709.6" font-size="29.3" text-anchor="middle" fill="#000">20</text>
<text x="1364.7" y="1709.6" font-size="29.3" text-anchor="middle" fill="#000">25</text>
<text x="1104.7" y="1754.7" font-size="29.5" text-anchor="middle" fill="#000"><tspan font-style="italic">t</tspan> (ps)</text>
<text x="1058.95" y="785.1" font-size="29.5" fill="#3A6FCB"><tspan font-style="italic">t′</tspan> = −17.3 ps</text>
<text x="1058.85" y="1115.1" font-size="29.5" fill="#D95319"><tspan font-style="italic">t′</tspan> = 3.7 ps</text>
<text x="1059.15" y="1449.1" font-size="29.5" fill="#148A14"><tspan font-style="italic">t′</tspan> = 16.1 ps</text>
<text x="1104.35" y="659.5" font-size="29.5" text-anchor="middle" fill="#000"><tspan font-style="italic">C</tspan><tspan font-size="20" dy="8.5">2</tspan><tspan dy="-8.5"> (<tspan font-style="italic">t</tspan>, <tspan font-style="italic">t′</tspan> = −17.3, 3.7, 16.1 ps)</tspan></text>
<text x="847.3" y="528" font-size="29.3" text-anchor="middle" fill="#000">−20</text>
<text x="901.3" y="528" font-size="29.3" text-anchor="middle" fill="#000">−15</text>
<text x="956.7" y="528" font-size="29.3" text-anchor="middle" fill="#000">−10</text>
<text x="1010.7" y="528" font-size="29.3" text-anchor="middle" fill="#000">−5</text>
<text x="1065.7" y="528" font-size="29.3" text-anchor="middle" fill="#000">0</text>
<text x="1119.7" y="528" font-size="29.3" text-anchor="middle" fill="#000">5</text>
<text x="1174.7" y="528" font-size="29.3" text-anchor="middle" fill="#000">10</text>
<text x="1228.9" y="528" font-size="29.3" text-anchor="middle" fill="#000">15</text>
<text x="1283.6" y="528" font-size="29.3" text-anchor="middle" fill="#000">20</text>
<text x="837" y="75.8" font-size="29.3" text-anchor="end" fill="#000">−20</text>
<text x="837" y="124" font-size="29.3" text-anchor="end" fill="#000">−15</text>
<text x="837" y="173.4" font-size="29.3" text-anchor="end" fill="#000">−10</text>
<text x="837" y="222.8" font-size="29.3" text-anchor="end" fill="#000">−5</text>
<text x="840.4" y="272.2" font-size="29.3" text-anchor="end" fill="#000">0</text>
<text x="840.4" y="321" font-size="29.3" text-anchor="end" fill="#000">5</text>
<text x="840.4" y="369.6" font-size="29.3" text-anchor="end" fill="#000">10</text>
<text x="841.4" y="419.6" font-size="29.3" text-anchor="end" fill="#000">15</text>
<text x="840.4" y="468.2" font-size="29.3" text-anchor="end" fill="#000">20</text>
<text x="1390.9" y="77.2" font-size="29.3" fill="#000">20</text>
<text x="1389.9" y="150.6" font-size="29.3" fill="#000">15</text>
<text x="1390.9" y="224.2" font-size="29.3" fill="#000">10</text>
<text x="1390.9" y="297.4" font-size="29.3" fill="#000">5</text>
<text x="1390.9" y="371" font-size="29.3" fill="#000">0</text>
<text x="1388.9" y="443.6" font-size="29.3" fill="#000">−5</text>
<text x="1365.25" y="44.4" font-size="29.3" fill="#000">×10<tspan font-size="19" dy="-13.4">−3</tspan></text>
<text x="1099.7" y="35.9" font-size="29.5" text-anchor="middle" fill="#000"><tspan font-style="italic">C</tspan><tspan font-size="20" dy="8">2</tspan><tspan dy="-8"> (<tspan font-style="italic">t</tspan>,<tspan font-style="italic">t′</tspan>)</tspan></text>
<text x="1089.8" y="570.4" font-size="29.5" text-anchor="middle" fill="#000"><tspan font-style="italic">t</tspan> (ps)</text>
<text x="0" y="0" transform="translate(759.1,278.1) rotate(-90)" font-size="29.5" text-anchor="middle" fill="#000"><tspan font-style="italic">t′</tspan> (ps)</text>
<text x="54.4" y="116.6" font-size="29.3" fill="#000">10<tspan font-size="20.5" dx="-2" dy="-17.8">0</tspan></text>
<text x="42.8" y="188" font-size="29.3" fill="#000">10<tspan font-size="20.5" dx="-2" dy="-17.8">−1</tspan></text>
<text x="43.2" y="249.8" font-size="29.3" fill="#000">10<tspan font-size="20.5" dx="-2" dy="-17.8">−2</tspan></text>
<text x="44.2" y="305.6" font-size="29.3" fill="#000">10<tspan font-size="20.5" dx="-2" dy="-17.8">−3</tspan></text>
<text x="629" y="93.6" font-size="29.3" fill="#000">10<tspan font-size="20.5" dx="-2" dy="-17.8">0</tspan></text>
<text x="628" y="210.2" font-size="29.3" fill="#000">10<tspan font-size="20.5" dx="-2" dy="-17.8">−1</tspan></text>
<text x="628" y="332" font-size="29.3" fill="#000">10<tspan font-size="20.5" dx="-2" dy="-17.8">−2</tspan></text>
<text x="628" y="453.4" font-size="29.3" fill="#000">10<tspan font-size="20.5" dx="-2" dy="-17.8">−3</tspan></text>
<text x="97.6" y="336.8" font-size="29.3" text-anchor="end" fill="#000">−20</text>
<text x="106.8" y="377.2" font-size="29.3" text-anchor="end" fill="#000">−10</text>
<text x="119.6" y="422.2" font-size="29.3" text-anchor="end" fill="#000">0</text>
<text x="133.6" y="461.2" font-size="29.3" text-anchor="end" fill="#000">10</text>
<text x="145" y="501.2" font-size="29.3" text-anchor="end" fill="#000">20</text>
<text x="169.7" y="537.2" font-size="29.3" text-anchor="middle" fill="#000">0</text>
<text x="238.2" y="535.2" font-size="29.3" text-anchor="middle" fill="#000">5</text>
<text x="305.1" y="529.4" font-size="29.3" text-anchor="middle" fill="#000">10</text>
<text x="374.5" y="526.6" font-size="29.3" text-anchor="middle" fill="#000">15</text>
<text x="442.7" y="521.8" font-size="29.3" text-anchor="middle" fill="#000">20</text>
<text x="503" y="514.2" font-size="29.3" text-anchor="middle" fill="#000">25</text>
<text x="570.2" y="512.6" font-size="29.3" text-anchor="middle" fill="#000">30</text>
<text x="361.3" y="563.6" font-size="29.5" text-anchor="middle" fill="#000">Δ<tspan font-style="italic">r</tspan> (μm)</text>
<text x="15.5" y="423" font-size="29.5" fill="#000"><tspan font-style="italic">t</tspan> (ps)</text>
<text x="0" y="0" transform="translate(21.95,204.3) rotate(-90)" font-size="29.5" text-anchor="middle" fill="#000"><tspan font-style="italic">C</tspan> (Δ<tspan font-style="italic">r</tspan>, <tspan font-style="italic">t</tspan>)</text>
<text x="143.55" y="161.5" font-size="29.5" fill="#000"><tspan font-style="italic">C</tspan><tspan font-size="20" dy="8">1</tspan><tspan dy="-8"> (<tspan font-style="italic">t</tspan>)</tspan></text>
<text x="400.8" y="202.6" font-size="29.5" fill="#000"><tspan font-style="italic">C</tspan><tspan font-size="20" dy="8">2</tspan><tspan dy="-8"> (<tspan font-style="italic">t</tspan>)</tspan></text>
</svg></body></html>
